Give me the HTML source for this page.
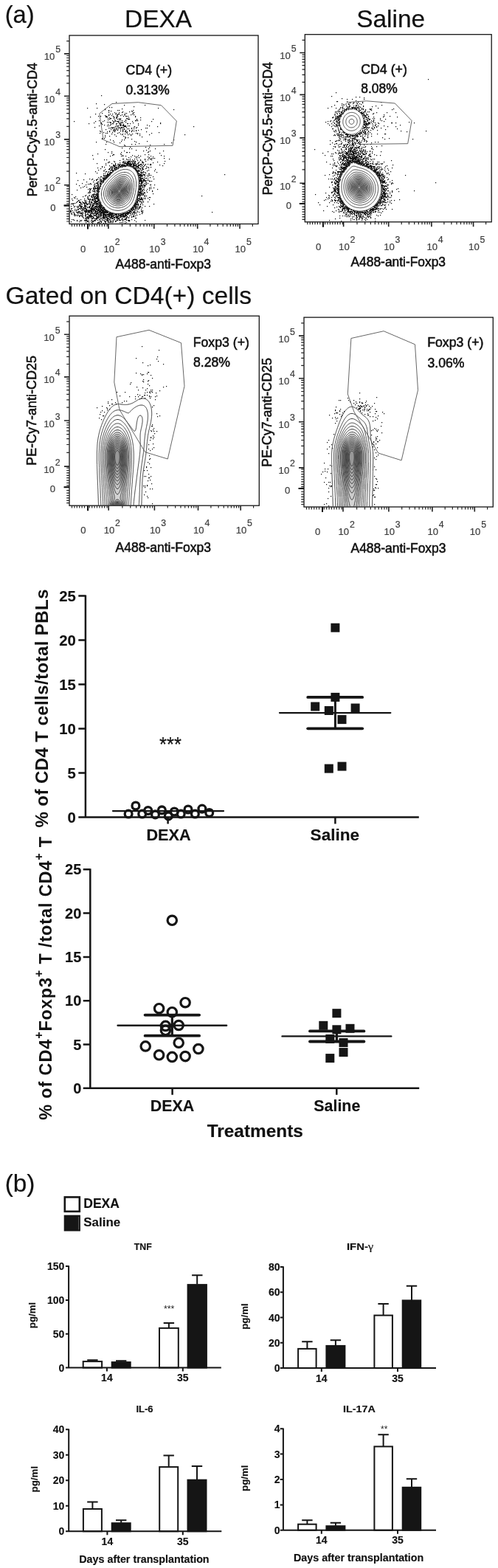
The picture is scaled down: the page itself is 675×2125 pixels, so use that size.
<!DOCTYPE html>
<html lang="en"><head><meta charset="utf-8"><title>Figure</title>
<style>
html,body{margin:0;padding:0;background:#fff}
svg{display:block;font-family:'Liberation Sans', Arial, Helvetica, sans-serif}
</style></head>
<body>
<svg width="675" height="2125" viewBox="0 0 675 2125" font-family="'Liberation Sans', Arial, Helvetica, sans-serif" fill="#111">
<rect width="675" height="2125" fill="#fff"/>
<text x="6.7" y="31.2" font-size="32.5" textLength="40.0" lengthAdjust="spacingAndGlyphs" stroke="#111" stroke-width="0.2">(a)</text>
<text x="169.0" y="36.9" font-size="32.5" textLength="91.0" lengthAdjust="spacingAndGlyphs" stroke="#111" stroke-width="0.2">DEXA</text>
<text x="483.2" y="37.3" font-size="32.5" textLength="93.0" lengthAdjust="spacingAndGlyphs" stroke="#111" stroke-width="0.2">Saline</text>
<text x="7.5" y="412.0" font-size="33" textLength="333.5" lengthAdjust="spacingAndGlyphs" stroke="#111" stroke-width="0.2">Gated on CD4(+) cells</text>
<rect x="94.0" y="48.0" width="256.0" height="255.5" fill="#fff" stroke="#151515" stroke-width="1.3"/>
<path d="M119.0 303.5v6.5M146.9 303.5v6.5M208.8 303.5v6.5M267.7 303.5v6.5M325.0 303.5v6.5M94.0 278.6h-7M94.0 250.7h-7M94.0 188.9h-7M94.0 130.2h-7M94.0 72.9h-7" stroke="#222" stroke-width="1.6" fill="none"/>
<path d="M165.5 303.5v3.4M176.4 303.5v3.4M184.2 303.5v3.4M190.1 303.5v3.4M195.0 303.5v3.4M199.2 303.5v3.4M202.8 303.5v3.4M205.9 303.5v3.4M226.5 303.5v3.4M236.9 303.5v3.4M244.2 303.5v3.4M249.9 303.5v3.4M254.6 303.5v3.4M258.5 303.5v3.4M262.0 303.5v3.4M265.0 303.5v3.4M284.9 303.5v3.4M295.0 303.5v3.4M302.2 303.5v3.4M307.8 303.5v3.4M312.3 303.5v3.4M316.2 303.5v3.4M319.5 303.5v3.4M322.4 303.5v3.4M342.3 303.5v3.4M97.5 303.5v3.4M100.9 303.5v3.4M104.3 303.5v3.4M107.7 303.5v3.4M111.1 303.5v3.4M114.5 303.5v3.4M121.3 303.5v3.4M124.7 303.5v3.4M128.1 303.5v3.4M131.5 303.5v3.4M134.9 303.5v3.4M138.3 303.5v3.4M141.7 303.5v3.4M145.1 303.5v3.4M94.0 232.1h-3.8M94.0 221.2h-3.8M94.0 213.5h-3.8M94.0 207.5h-3.8M94.0 202.6h-3.8M94.0 198.5h-3.8M94.0 194.9h-3.8M94.0 191.8h-3.8M94.0 171.3h-3.8M94.0 160.9h-3.8M94.0 153.6h-3.8M94.0 147.9h-3.8M94.0 143.2h-3.8M94.0 139.3h-3.8M94.0 135.9h-3.8M94.0 132.9h-3.8M94.0 112.9h-3.8M94.0 102.9h-3.8M94.0 95.7h-3.8M94.0 90.1h-3.8M94.0 85.6h-3.8M94.0 81.8h-3.8M94.0 78.5h-3.8M94.0 75.5h-3.8M94.0 55.7h-3.8M94.0 300.0h-3.8M94.0 296.6h-3.8M94.0 293.2h-3.8M94.0 289.8h-3.8M94.0 286.4h-3.8M94.0 283.0h-3.8M94.0 276.2h-3.8M94.0 272.8h-3.8M94.0 269.4h-3.8M94.0 266.0h-3.8M94.0 262.6h-3.8M94.0 259.2h-3.8M94.0 255.8h-3.8M94.0 252.4h-3.8" stroke="#222" stroke-width="1.2" fill="none"/>
<path d="M119.0 303.5v7M94.0 278.6h-7.5" stroke="#111" stroke-width="2" fill="none"/>
<g font-size="13.1" fill="#3c3c3c" stroke="#3c3c3c" stroke-width="0.2"><text x="112.7" y="342.0" text-anchor="middle">0</text><text x="140.4" y="342.0">10<tspan dx="0.8" dy="-10" font-size="12.3">2</tspan></text><text x="202.3" y="342.0">10<tspan dx="0.8" dy="-10" font-size="12.3">3</tspan></text><text x="261.2" y="342.0">10<tspan dx="0.8" dy="-10" font-size="12.3">4</tspan></text><text x="318.5" y="342.0">10<tspan dx="0.8" dy="-10" font-size="12.3">5</tspan></text><text x="68.3" y="285.6">0</text><text x="59.8" y="259.2">10<tspan dx="0.8" dy="-10" font-size="12.3">2</tspan></text><text x="59.8" y="197.4">10<tspan dx="0.8" dy="-10" font-size="12.3">3</tspan></text><text x="59.8" y="138.7">10<tspan dx="0.8" dy="-10" font-size="12.3">4</tspan></text><text x="59.8" y="81.4">10<tspan dx="0.8" dy="-10" font-size="12.3">5</tspan></text></g>
<text x="50.0" y="266.5" font-size="17.5" textLength="181.5" lengthAdjust="spacingAndGlyphs" transform="rotate(-90 50.0 266.5)" stroke="#111" stroke-width="0.55">PerCP-Cy5.5-anti-CD4</text>
<text x="156.5" y="364.0" font-size="17.5" textLength="129.5" lengthAdjust="spacingAndGlyphs" stroke="#111" stroke-width="0.55">A488-anti-Foxp3</text>
<path d="M95 285.5h1.2M95 286.5h1.2M95 287.5h1.2M96 276.5h1.2M96 279.5h1.2M96 282.5h1.2M96 284.5h1.2M96 286.5h1.2M96 289.5h1.2M96 300.5h1.2M97 263.5h1.2M97 269.5h1.2M97 275.5h1.2M97 282.5h1.2M97 288.5h1.2M97 290.5h1.2M97 297.5h1.2M98 271.5h1.2M98 276.5h1.2M98 285.5h1.2M99 275.5h1.2M99 276.5h1.2M99 278.5h1.2M99 287.5h1.2M99 297.5h1.2M100 164.5h1.2M100 267.5h1.2M100 280.5h1.2M100 288.5h1.2M100 289.5h1.2M100 290.5h1.2M100 291.5h1.2M100 298.5h1.2M101 268.5h1.2M101 275.5h1.2M101 279.5h1.2M101 283.5h1.2M101 285.5h1.2M101 290.5h1.2M101 292.5h1.2M102 266.5h1.2M102 291.5h1.2M103 234.5h1.2M103 249.5h1.2M103 274.5h1.2M103 284.5h1.2M103 285.5h1.2M103 287.5h1.2M104 257.5h1.2M104 269.5h1.2M104 273.5h1.2M104 279.5h1.2M104 280.5h1.2M104 287.5h1.2M104 291.5h1.2M104 292.5h1.2M104 298.5h1.2M104 299.5h1.2M105 244.5h1.2M105 272.5h1.2M105 281.5h1.2M105 283.5h1.2M105 284.5h1.2M105 287.5h1.2M105 288.5h1.2M105 289.5h1.2M106 271.5h1.2M106 279.5h1.2M106 280.5h1.2M106 283.5h1.2M106 286.5h1.2M106 287.5h1.2M106 291.5h1.2M107 251.5h1.2M107 271.5h1.2M107 273.5h1.2M107 274.5h1.2M107 277.5h1.2M107 278.5h1.2M107 282.5h1.2M107 286.5h1.2M107 288.5h1.2M107 292.5h1.2M107 293.5h1.2M107 300.5h1.2M108 273.5h1.2M108 274.5h1.2M108 277.5h1.2M108 279.5h1.2M108 282.5h1.2M108 286.5h1.2M108 288.5h1.2M108 292.5h1.2M108 298.5h1.2M109 254.5h1.2M109 270.5h1.2M109 274.5h1.2M109 275.5h1.2M109 276.5h1.2M109 278.5h1.2M109 279.5h1.2M109 280.5h1.2M109 281.5h1.2M109 283.5h1.2M109 288.5h1.2M109 289.5h1.2M109 291.5h1.2M109 299.5h1.2M110 276.5h1.2M110 279.5h1.2M110 280.5h1.2M110 281.5h1.2M110 282.5h1.2M110 285.5h1.2M110 288.5h1.2M110 289.5h1.2M110 292.5h1.2M110 298.5h1.2M111 248.5h1.2M111 273.5h1.2M111 276.5h1.2M111 279.5h1.2M111 283.5h1.2M111 285.5h1.2M111 288.5h1.2M111 290.5h1.2M111 291.5h1.2M111 293.5h1.2M112 253.5h1.2M112 266.5h1.2M112 274.5h1.2M112 281.5h1.2M112 282.5h1.2M112 283.5h1.2M112 284.5h1.2M112 287.5h1.2M112 289.5h1.2M112 292.5h1.2M112 294.5h1.2M113 243.5h1.2M113 274.5h1.2M113 275.5h1.2M113 281.5h1.2M113 284.5h1.2M113 295.5h1.2M114 252.5h1.2M114 269.5h1.2M114 271.5h1.2M114 275.5h1.2M114 276.5h1.2M114 277.5h1.2M114 278.5h1.2M114 279.5h1.2M114 280.5h1.2M114 282.5h1.2M114 283.5h1.2M114 285.5h1.2M114 286.5h1.2M114 298.5h1.2M115 235.5h1.2M115 265.5h1.2M115 272.5h1.2M115 273.5h1.2M115 274.5h1.2M115 275.5h1.2M115 278.5h1.2M115 279.5h1.2M115 281.5h1.2M115 282.5h1.2M115 285.5h1.2M115 286.5h1.2M115 287.5h1.2M115 288.5h1.2M115 289.5h1.2M115 291.5h1.2M115 292.5h1.2M115 296.5h1.2M115 298.5h1.2M115 299.5h1.2M116 250.5h1.2M116 264.5h1.2M116 271.5h1.2M116 274.5h1.2M116 276.5h1.2M116 278.5h1.2M116 279.5h1.2M116 280.5h1.2M116 282.5h1.2M116 283.5h1.2M116 284.5h1.2M116 285.5h1.2M116 286.5h1.2M116 287.5h1.2M116 290.5h1.2M116 291.5h1.2M116 293.5h1.2M116 294.5h1.2M116 295.5h1.2M116 296.5h1.2M116 298.5h1.2M116 301.5h1.2M117 246.5h1.2M117 253.5h1.2M117 273.5h1.2M117 275.5h1.2M117 276.5h1.2M117 283.5h1.2M117 284.5h1.2M117 285.5h1.2M117 286.5h1.2M117 287.5h1.2M117 295.5h1.2M117 297.5h1.2M117 298.5h1.2M117 299.5h1.2M118 146.5h1.2M118 266.5h1.2M118 268.5h1.2M118 276.5h1.2M118 277.5h1.2M118 280.5h1.2M118 281.5h1.2M118 285.5h1.2M118 287.5h1.2M118 289.5h1.2M118 290.5h1.2M118 293.5h1.2M118 294.5h1.2M118 295.5h1.2M118 299.5h1.2M118 300.5h1.2M119 249.5h1.2M119 256.5h1.2M119 261.5h1.2M119 267.5h1.2M119 269.5h1.2M119 270.5h1.2M119 276.5h1.2M119 284.5h1.2M119 285.5h1.2M119 286.5h1.2M119 287.5h1.2M119 290.5h1.2M119 293.5h1.2M119 294.5h1.2M119 295.5h1.2M119 296.5h1.2M119 299.5h1.2M120 167.5h1.2M120 260.5h1.2M120 265.5h1.2M120 269.5h1.2M120 273.5h1.2M120 275.5h1.2M120 280.5h1.2M120 281.5h1.2M120 285.5h1.2M120 286.5h1.2M120 287.5h1.2M120 288.5h1.2M120 291.5h1.2M120 292.5h1.2M120 294.5h1.2M120 296.5h1.2M120 299.5h1.2M120 301.5h1.2M121 242.5h1.2M121 249.5h1.2M121 255.5h1.2M121 256.5h1.2M121 258.5h1.2M121 259.5h1.2M121 261.5h1.2M121 264.5h1.2M121 270.5h1.2M121 271.5h1.2M121 272.5h1.2M121 273.5h1.2M121 274.5h1.2M121 276.5h1.2M121 279.5h1.2M121 280.5h1.2M121 281.5h1.2M121 284.5h1.2M121 285.5h1.2M121 286.5h1.2M121 287.5h1.2M121 291.5h1.2M121 292.5h1.2M121 293.5h1.2M121 294.5h1.2M122 158.5h1.2M122 248.5h1.2M122 256.5h1.2M122 257.5h1.2M122 260.5h1.2M122 269.5h1.2M122 270.5h1.2M122 276.5h1.2M122 277.5h1.2M122 278.5h1.2M122 279.5h1.2M122 282.5h1.2M122 284.5h1.2M122 285.5h1.2M122 287.5h1.2M122 289.5h1.2M122 290.5h1.2M122 291.5h1.2M122 292.5h1.2M122 293.5h1.2M123 249.5h1.2M123 255.5h1.2M123 266.5h1.2M123 273.5h1.2M123 274.5h1.2M123 275.5h1.2M123 281.5h1.2M123 282.5h1.2M123 283.5h1.2M123 284.5h1.2M123 285.5h1.2M123 286.5h1.2M123 287.5h1.2M123 289.5h1.2M123 291.5h1.2M123 292.5h1.2M123 293.5h1.2M123 294.5h1.2M123 295.5h1.2M123 298.5h1.2M123 300.5h1.2M124 243.5h1.2M124 264.5h1.2M124 265.5h1.2M124 266.5h1.2M124 267.5h1.2M124 270.5h1.2M124 271.5h1.2M124 273.5h1.2M124 274.5h1.2M124 277.5h1.2M124 279.5h1.2M124 280.5h1.2M124 281.5h1.2M124 282.5h1.2M124 283.5h1.2M124 284.5h1.2M124 285.5h1.2M124 286.5h1.2M124 287.5h1.2M124 288.5h1.2M124 289.5h1.2M124 292.5h1.2M124 293.5h1.2M124 296.5h1.2M124 298.5h1.2M124 301.5h1.2M125 210.5h1.2M125 242.5h1.2M125 258.5h1.2M125 263.5h1.2M125 267.5h1.2M125 269.5h1.2M125 270.5h1.2M125 271.5h1.2M125 275.5h1.2M125 277.5h1.2M125 278.5h1.2M125 279.5h1.2M125 280.5h1.2M125 282.5h1.2M125 283.5h1.2M125 284.5h1.2M125 287.5h1.2M125 289.5h1.2M125 293.5h1.2M125 295.5h1.2M125 296.5h1.2M125 299.5h1.2M125 300.5h1.2M125 302.5h1.2M126 215.5h1.2M126 246.5h1.2M126 254.5h1.2M126 255.5h1.2M126 256.5h1.2M126 259.5h1.2M126 263.5h1.2M126 264.5h1.2M126 265.5h1.2M126 266.5h1.2M126 270.5h1.2M126 271.5h1.2M126 275.5h1.2M126 277.5h1.2M126 278.5h1.2M126 279.5h1.2M126 281.5h1.2M126 282.5h1.2M126 283.5h1.2M126 284.5h1.2M126 285.5h1.2M126 286.5h1.2M126 289.5h1.2M126 291.5h1.2M126 293.5h1.2M126 294.5h1.2M126 295.5h1.2M126 299.5h1.2M126 300.5h1.2M127 166.5h1.2M127 244.5h1.2M127 250.5h1.2M127 252.5h1.2M127 254.5h1.2M127 256.5h1.2M127 258.5h1.2M127 262.5h1.2M127 263.5h1.2M127 265.5h1.2M127 267.5h1.2M127 268.5h1.2M127 269.5h1.2M127 272.5h1.2M127 273.5h1.2M127 275.5h1.2M127 276.5h1.2M127 277.5h1.2M127 281.5h1.2M127 283.5h1.2M127 284.5h1.2M127 288.5h1.2M127 289.5h1.2M127 291.5h1.2M127 295.5h1.2M127 298.5h1.2M128 172.5h1.2M128 248.5h1.2M128 250.5h1.2M128 252.5h1.2M128 253.5h1.2M128 255.5h1.2M128 256.5h1.2M128 258.5h1.2M128 259.5h1.2M128 260.5h1.2M128 263.5h1.2M128 266.5h1.2M128 267.5h1.2M128 269.5h1.2M128 270.5h1.2M128 271.5h1.2M128 273.5h1.2M128 274.5h1.2M128 275.5h1.2M128 279.5h1.2M128 280.5h1.2M128 281.5h1.2M128 282.5h1.2M128 283.5h1.2M128 284.5h1.2M128 285.5h1.2M128 286.5h1.2M128 288.5h1.2M128 291.5h1.2M128 292.5h1.2M128 296.5h1.2M128 298.5h1.2M128 299.5h1.2M129 154.5h1.2M129 164.5h1.2M129 232.5h1.2M129 254.5h1.2M129 255.5h1.2M129 263.5h1.2M129 265.5h1.2M129 266.5h1.2M129 268.5h1.2M129 269.5h1.2M129 271.5h1.2M129 272.5h1.2M129 273.5h1.2M129 274.5h1.2M129 276.5h1.2M129 279.5h1.2M129 280.5h1.2M129 282.5h1.2M129 285.5h1.2M129 286.5h1.2M129 287.5h1.2M129 288.5h1.2M129 289.5h1.2M129 291.5h1.2M129 296.5h1.2M129 298.5h1.2M130 140.5h1.2M130 192.5h1.2M130 243.5h1.2M130 244.5h1.2M130 248.5h1.2M130 251.5h1.2M130 252.5h1.2M130 255.5h1.2M130 258.5h1.2M130 261.5h1.2M130 263.5h1.2M130 264.5h1.2M130 267.5h1.2M130 268.5h1.2M130 269.5h1.2M130 272.5h1.2M130 273.5h1.2M130 274.5h1.2M130 275.5h1.2M130 276.5h1.2M130 277.5h1.2M130 278.5h1.2M130 279.5h1.2M130 280.5h1.2M130 281.5h1.2M130 282.5h1.2M130 283.5h1.2M130 284.5h1.2M130 286.5h1.2M130 287.5h1.2M130 289.5h1.2M130 290.5h1.2M130 291.5h1.2M130 292.5h1.2M130 293.5h1.2M130 295.5h1.2M130 296.5h1.2M130 297.5h1.2M131 146.5h1.2M131 221.5h1.2M131 234.5h1.2M131 243.5h1.2M131 247.5h1.2M131 248.5h1.2M131 254.5h1.2M131 255.5h1.2M131 257.5h1.2M131 259.5h1.2M131 262.5h1.2M131 263.5h1.2M131 264.5h1.2M131 265.5h1.2M131 266.5h1.2M131 267.5h1.2M131 268.5h1.2M131 269.5h1.2M131 272.5h1.2M131 273.5h1.2M131 275.5h1.2M131 276.5h1.2M131 279.5h1.2M131 280.5h1.2M131 283.5h1.2M131 284.5h1.2M131 286.5h1.2M131 288.5h1.2M131 289.5h1.2M131 290.5h1.2M131 293.5h1.2M131 294.5h1.2M131 295.5h1.2M131 296.5h1.2M132 208.5h1.2M132 227.5h1.2M132 242.5h1.2M132 246.5h1.2M132 248.5h1.2M132 249.5h1.2M132 250.5h1.2M132 251.5h1.2M132 252.5h1.2M132 253.5h1.2M132 254.5h1.2M132 255.5h1.2M132 256.5h1.2M132 257.5h1.2M132 258.5h1.2M132 259.5h1.2M132 260.5h1.2M132 261.5h1.2M132 262.5h1.2M132 263.5h1.2M132 264.5h1.2M132 265.5h1.2M132 266.5h1.2M132 267.5h1.2M132 268.5h1.2M132 269.5h1.2M132 270.5h1.2M132 271.5h1.2M132 272.5h1.2M132 273.5h1.2M132 275.5h1.2M132 276.5h1.2M132 277.5h1.2M132 278.5h1.2M132 280.5h1.2M132 281.5h1.2M132 282.5h1.2M132 284.5h1.2M132 285.5h1.2M132 286.5h1.2M132 287.5h1.2M132 288.5h1.2M132 289.5h1.2M132 292.5h1.2M132 294.5h1.2M132 295.5h1.2M132 298.5h1.2M132 301.5h1.2M132 302.5h1.2M133 157.5h1.2M133 230.5h1.2M133 240.5h1.2M133 246.5h1.2M133 249.5h1.2M133 251.5h1.2M133 252.5h1.2M133 254.5h1.2M133 255.5h1.2M133 256.5h1.2M133 257.5h1.2M133 258.5h1.2M133 259.5h1.2M133 260.5h1.2M133 263.5h1.2M133 265.5h1.2M133 266.5h1.2M133 267.5h1.2M133 269.5h1.2M133 270.5h1.2M133 271.5h1.2M133 272.5h1.2M133 274.5h1.2M133 276.5h1.2M133 279.5h1.2M133 280.5h1.2M133 282.5h1.2M133 283.5h1.2M133 284.5h1.2M133 285.5h1.2M133 288.5h1.2M133 290.5h1.2M133 291.5h1.2M133 293.5h1.2M133 294.5h1.2M133 295.5h1.2M133 301.5h1.2M134 163.5h1.2M134 170.5h1.2M134 246.5h1.2M134 253.5h1.2M134 254.5h1.2M134 256.5h1.2M134 259.5h1.2M134 270.5h1.2M134 271.5h1.2M134 274.5h1.2M134 275.5h1.2M134 277.5h1.2M134 278.5h1.2M134 279.5h1.2M134 280.5h1.2M134 281.5h1.2M134 283.5h1.2M134 284.5h1.2M134 285.5h1.2M134 286.5h1.2M134 287.5h1.2M134 288.5h1.2M134 290.5h1.2M134 292.5h1.2M134 293.5h1.2M134 297.5h1.2M134 300.5h1.2M134 301.5h1.2M135 177.5h1.2M135 180.5h1.2M135 241.5h1.2M135 243.5h1.2M135 244.5h1.2M135 248.5h1.2M135 249.5h1.2M135 251.5h1.2M135 252.5h1.2M135 253.5h1.2M135 255.5h1.2M135 272.5h1.2M135 273.5h1.2M135 274.5h1.2M135 275.5h1.2M135 276.5h1.2M135 277.5h1.2M135 278.5h1.2M135 279.5h1.2M135 280.5h1.2M135 281.5h1.2M135 282.5h1.2M135 283.5h1.2M135 285.5h1.2M135 286.5h1.2M135 287.5h1.2M135 289.5h1.2M135 291.5h1.2M135 294.5h1.2M135 296.5h1.2M135 298.5h1.2M135 302.5h1.2M136 157.5h1.2M136 166.5h1.2M136 178.5h1.2M136 228.5h1.2M136 239.5h1.2M136 243.5h1.2M136 245.5h1.2M136 246.5h1.2M136 247.5h1.2M136 248.5h1.2M136 249.5h1.2M136 250.5h1.2M136 252.5h1.2M136 274.5h1.2M136 275.5h1.2M136 276.5h1.2M136 277.5h1.2M136 278.5h1.2M136 279.5h1.2M136 280.5h1.2M136 281.5h1.2M136 282.5h1.2M136 283.5h1.2M136 284.5h1.2M136 285.5h1.2M136 286.5h1.2M136 287.5h1.2M136 288.5h1.2M136 289.5h1.2M136 290.5h1.2M136 291.5h1.2M136 292.5h1.2M136 293.5h1.2M136 296.5h1.2M136 299.5h1.2M136 300.5h1.2M137 129.5h1.2M137 166.5h1.2M137 167.5h1.2M137 239.5h1.2M137 243.5h1.2M137 244.5h1.2M137 245.5h1.2M137 246.5h1.2M137 249.5h1.2M137 277.5h1.2M137 278.5h1.2M137 279.5h1.2M137 280.5h1.2M137 281.5h1.2M137 283.5h1.2M137 284.5h1.2M137 285.5h1.2M137 287.5h1.2M137 288.5h1.2M137 289.5h1.2M137 290.5h1.2M137 291.5h1.2M137 292.5h1.2M137 295.5h1.2M137 300.5h1.2M137 301.5h1.2M138 153.5h1.2M138 168.5h1.2M138 187.5h1.2M138 188.5h1.2M138 225.5h1.2M138 226.5h1.2M138 245.5h1.2M138 278.5h1.2M138 279.5h1.2M138 281.5h1.2M138 282.5h1.2M138 283.5h1.2M138 284.5h1.2M138 285.5h1.2M138 286.5h1.2M138 287.5h1.2M138 288.5h1.2M138 295.5h1.2M138 297.5h1.2M138 298.5h1.2M139 164.5h1.2M139 240.5h1.2M139 241.5h1.2M139 242.5h1.2M139 244.5h1.2M139 245.5h1.2M139 246.5h1.2M139 247.5h1.2M139 281.5h1.2M139 282.5h1.2M139 284.5h1.2M139 285.5h1.2M139 286.5h1.2M139 287.5h1.2M139 288.5h1.2M139 289.5h1.2M139 290.5h1.2M139 291.5h1.2M139 292.5h1.2M139 293.5h1.2M139 294.5h1.2M139 295.5h1.2M140 179.5h1.2M140 231.5h1.2M140 235.5h1.2M140 237.5h1.2M140 238.5h1.2M140 241.5h1.2M140 242.5h1.2M140 243.5h1.2M140 244.5h1.2M140 245.5h1.2M140 246.5h1.2M140 280.5h1.2M140 281.5h1.2M140 282.5h1.2M140 283.5h1.2M140 284.5h1.2M140 285.5h1.2M140 286.5h1.2M140 287.5h1.2M140 288.5h1.2M140 289.5h1.2M140 290.5h1.2M140 291.5h1.2M140 292.5h1.2M140 293.5h1.2M140 294.5h1.2M140 295.5h1.2M140 296.5h1.2M140 298.5h1.2M140 302.5h1.2M141 141.5h1.2M141 163.5h1.2M141 169.5h1.2M141 187.5h1.2M141 216.5h1.2M141 226.5h1.2M141 231.5h1.2M141 238.5h1.2M141 240.5h1.2M141 241.5h1.2M141 242.5h1.2M141 243.5h1.2M141 281.5h1.2M141 282.5h1.2M141 283.5h1.2M141 284.5h1.2M141 286.5h1.2M141 287.5h1.2M141 288.5h1.2M141 289.5h1.2M141 290.5h1.2M141 291.5h1.2M141 293.5h1.2M141 294.5h1.2M141 295.5h1.2M141 299.5h1.2M142 147.5h1.2M142 148.5h1.2M142 156.5h1.2M142 183.5h1.2M142 185.5h1.2M142 202.5h1.2M142 229.5h1.2M142 234.5h1.2M142 237.5h1.2M142 239.5h1.2M142 241.5h1.2M142 242.5h1.2M142 243.5h1.2M142 283.5h1.2M142 284.5h1.2M142 285.5h1.2M142 286.5h1.2M142 287.5h1.2M142 288.5h1.2M142 290.5h1.2M142 291.5h1.2M142 292.5h1.2M142 294.5h1.2M142 296.5h1.2M142 297.5h1.2M142 299.5h1.2M142 300.5h1.2M142 301.5h1.2M143 157.5h1.2M143 158.5h1.2M143 175.5h1.2M143 180.5h1.2M143 195.5h1.2M143 221.5h1.2M143 223.5h1.2M143 232.5h1.2M143 237.5h1.2M143 239.5h1.2M143 240.5h1.2M143 241.5h1.2M143 242.5h1.2M143 285.5h1.2M143 286.5h1.2M143 287.5h1.2M143 288.5h1.2M143 290.5h1.2M143 291.5h1.2M143 292.5h1.2M143 293.5h1.2M143 294.5h1.2M143 300.5h1.2M143 302.5h1.2M144 157.5h1.2M144 158.5h1.2M144 192.5h1.2M144 216.5h1.2M144 232.5h1.2M144 237.5h1.2M144 238.5h1.2M144 239.5h1.2M144 240.5h1.2M144 241.5h1.2M144 285.5h1.2M144 286.5h1.2M144 287.5h1.2M144 288.5h1.2M144 290.5h1.2M144 292.5h1.2M144 294.5h1.2M144 295.5h1.2M144 297.5h1.2M144 298.5h1.2M145 158.5h1.2M145 165.5h1.2M145 170.5h1.2M145 178.5h1.2M145 180.5h1.2M145 235.5h1.2M145 236.5h1.2M145 237.5h1.2M145 238.5h1.2M145 239.5h1.2M145 240.5h1.2M145 285.5h1.2M145 286.5h1.2M145 287.5h1.2M145 288.5h1.2M145 290.5h1.2M145 291.5h1.2M145 293.5h1.2M145 295.5h1.2M145 296.5h1.2M145 297.5h1.2M145 298.5h1.2M145 299.5h1.2M146 160.5h1.2M146 162.5h1.2M146 168.5h1.2M146 206.5h1.2M146 220.5h1.2M146 233.5h1.2M146 235.5h1.2M146 236.5h1.2M146 237.5h1.2M146 238.5h1.2M146 239.5h1.2M146 287.5h1.2M146 288.5h1.2M146 290.5h1.2M146 291.5h1.2M146 293.5h1.2M146 295.5h1.2M146 296.5h1.2M146 298.5h1.2M146 300.5h1.2M146 301.5h1.2M147 149.5h1.2M147 150.5h1.2M147 152.5h1.2M147 155.5h1.2M147 156.5h1.2M147 165.5h1.2M147 170.5h1.2M147 173.5h1.2M147 219.5h1.2M147 229.5h1.2M147 232.5h1.2M147 236.5h1.2M147 237.5h1.2M147 238.5h1.2M147 289.5h1.2M147 290.5h1.2M147 291.5h1.2M147 292.5h1.2M147 293.5h1.2M147 296.5h1.2M147 298.5h1.2M147 300.5h1.2M148 145.5h1.2M148 159.5h1.2M148 161.5h1.2M148 177.5h1.2M148 178.5h1.2M148 184.5h1.2M148 219.5h1.2M148 224.5h1.2M148 228.5h1.2M148 229.5h1.2M148 234.5h1.2M148 235.5h1.2M148 236.5h1.2M148 237.5h1.2M148 287.5h1.2M148 288.5h1.2M148 289.5h1.2M148 290.5h1.2M148 291.5h1.2M148 292.5h1.2M148 293.5h1.2M148 294.5h1.2M148 297.5h1.2M148 301.5h1.2M149 154.5h1.2M149 160.5h1.2M149 165.5h1.2M149 166.5h1.2M149 169.5h1.2M149 173.5h1.2M149 189.5h1.2M149 211.5h1.2M149 226.5h1.2M149 228.5h1.2M149 231.5h1.2M149 233.5h1.2M149 234.5h1.2M149 235.5h1.2M149 236.5h1.2M149 288.5h1.2M149 289.5h1.2M149 290.5h1.2M149 291.5h1.2M149 294.5h1.2M149 295.5h1.2M149 296.5h1.2M149 298.5h1.2M149 300.5h1.2M150 150.5h1.2M150 160.5h1.2M150 166.5h1.2M150 168.5h1.2M150 175.5h1.2M150 226.5h1.2M150 230.5h1.2M150 233.5h1.2M150 234.5h1.2M150 288.5h1.2M150 289.5h1.2M150 290.5h1.2M150 291.5h1.2M150 292.5h1.2M150 293.5h1.2M150 294.5h1.2M150 299.5h1.2M150 300.5h1.2M150 301.5h1.2M151 145.5h1.2M151 156.5h1.2M151 172.5h1.2M151 173.5h1.2M151 181.5h1.2M151 205.5h1.2M151 207.5h1.2M151 221.5h1.2M151 225.5h1.2M151 227.5h1.2M151 228.5h1.2M151 229.5h1.2M151 230.5h1.2M151 233.5h1.2M151 234.5h1.2M151 288.5h1.2M151 289.5h1.2M151 290.5h1.2M151 291.5h1.2M151 292.5h1.2M151 293.5h1.2M151 294.5h1.2M151 295.5h1.2M151 296.5h1.2M152 154.5h1.2M152 163.5h1.2M152 167.5h1.2M152 173.5h1.2M152 179.5h1.2M152 210.5h1.2M152 226.5h1.2M152 228.5h1.2M152 230.5h1.2M152 231.5h1.2M152 232.5h1.2M152 288.5h1.2M152 289.5h1.2M152 290.5h1.2M152 292.5h1.2M152 293.5h1.2M152 295.5h1.2M152 296.5h1.2M152 299.5h1.2M152 301.5h1.2M153 157.5h1.2M153 165.5h1.2M153 167.5h1.2M153 172.5h1.2M153 173.5h1.2M153 175.5h1.2M153 177.5h1.2M153 190.5h1.2M153 209.5h1.2M153 223.5h1.2M153 224.5h1.2M153 226.5h1.2M153 230.5h1.2M153 231.5h1.2M153 232.5h1.2M153 289.5h1.2M153 290.5h1.2M153 291.5h1.2M153 292.5h1.2M153 293.5h1.2M153 295.5h1.2M153 298.5h1.2M153 300.5h1.2M154 158.5h1.2M154 159.5h1.2M154 160.5h1.2M154 164.5h1.2M154 165.5h1.2M154 176.5h1.2M154 192.5h1.2M154 209.5h1.2M154 218.5h1.2M154 223.5h1.2M154 224.5h1.2M154 225.5h1.2M154 228.5h1.2M154 292.5h1.2M154 294.5h1.2M154 295.5h1.2M154 297.5h1.2M155 152.5h1.2M155 162.5h1.2M155 172.5h1.2M155 174.5h1.2M155 175.5h1.2M155 177.5h1.2M155 178.5h1.2M155 182.5h1.2M155 219.5h1.2M155 224.5h1.2M155 225.5h1.2M155 226.5h1.2M155 227.5h1.2M155 228.5h1.2M155 229.5h1.2M155 230.5h1.2M155 289.5h1.2M155 290.5h1.2M155 291.5h1.2M155 294.5h1.2M155 295.5h1.2M155 297.5h1.2M156 154.5h1.2M156 163.5h1.2M156 164.5h1.2M156 171.5h1.2M156 176.5h1.2M156 221.5h1.2M156 222.5h1.2M156 223.5h1.2M156 224.5h1.2M156 226.5h1.2M156 228.5h1.2M156 230.5h1.2M156 290.5h1.2M156 291.5h1.2M156 293.5h1.2M156 299.5h1.2M156 300.5h1.2M157 138.5h1.2M157 153.5h1.2M157 158.5h1.2M157 160.5h1.2M157 167.5h1.2M157 169.5h1.2M157 174.5h1.2M157 184.5h1.2M157 226.5h1.2M157 227.5h1.2M157 229.5h1.2M157 290.5h1.2M157 291.5h1.2M157 293.5h1.2M157 294.5h1.2M157 295.5h1.2M157 299.5h1.2M158 155.5h1.2M158 156.5h1.2M158 158.5h1.2M158 159.5h1.2M158 164.5h1.2M158 167.5h1.2M158 171.5h1.2M158 173.5h1.2M158 175.5h1.2M158 224.5h1.2M158 226.5h1.2M158 227.5h1.2M158 228.5h1.2M158 229.5h1.2M158 290.5h1.2M158 291.5h1.2M158 292.5h1.2M158 293.5h1.2M158 294.5h1.2M158 295.5h1.2M158 297.5h1.2M158 298.5h1.2M159 149.5h1.2M159 155.5h1.2M159 157.5h1.2M159 161.5h1.2M159 164.5h1.2M159 170.5h1.2M159 176.5h1.2M159 180.5h1.2M159 222.5h1.2M159 293.5h1.2M159 294.5h1.2M159 295.5h1.2M159 296.5h1.2M159 298.5h1.2M160 154.5h1.2M160 164.5h1.2M160 165.5h1.2M160 170.5h1.2M160 172.5h1.2M160 174.5h1.2M160 222.5h1.2M160 224.5h1.2M160 225.5h1.2M160 226.5h1.2M160 227.5h1.2M160 228.5h1.2M160 290.5h1.2M160 291.5h1.2M160 292.5h1.2M160 293.5h1.2M160 295.5h1.2M160 296.5h1.2M161 149.5h1.2M161 152.5h1.2M161 154.5h1.2M161 160.5h1.2M161 162.5h1.2M161 165.5h1.2M161 167.5h1.2M161 172.5h1.2M161 179.5h1.2M161 222.5h1.2M161 223.5h1.2M161 224.5h1.2M161 290.5h1.2M161 292.5h1.2M161 295.5h1.2M161 296.5h1.2M161 297.5h1.2M161 298.5h1.2M162 161.5h1.2M162 167.5h1.2M162 169.5h1.2M162 173.5h1.2M162 193.5h1.2M162 217.5h1.2M162 220.5h1.2M162 223.5h1.2M162 224.5h1.2M162 225.5h1.2M162 226.5h1.2M162 291.5h1.2M162 292.5h1.2M162 294.5h1.2M162 298.5h1.2M162 301.5h1.2M163 156.5h1.2M163 160.5h1.2M163 162.5h1.2M163 165.5h1.2M163 167.5h1.2M163 168.5h1.2M163 169.5h1.2M163 170.5h1.2M163 173.5h1.2M163 175.5h1.2M163 177.5h1.2M163 181.5h1.2M163 208.5h1.2M163 222.5h1.2M163 225.5h1.2M163 226.5h1.2M163 289.5h1.2M163 290.5h1.2M163 291.5h1.2M163 292.5h1.2M163 293.5h1.2M163 294.5h1.2M163 298.5h1.2M164 166.5h1.2M164 169.5h1.2M164 172.5h1.2M164 173.5h1.2M164 191.5h1.2M164 206.5h1.2M164 209.5h1.2M164 211.5h1.2M164 223.5h1.2M164 224.5h1.2M164 225.5h1.2M164 290.5h1.2M164 291.5h1.2M164 292.5h1.2M164 293.5h1.2M164 297.5h1.2M164 301.5h1.2M165 147.5h1.2M165 152.5h1.2M165 155.5h1.2M165 163.5h1.2M165 165.5h1.2M165 172.5h1.2M165 182.5h1.2M165 189.5h1.2M165 200.5h1.2M165 223.5h1.2M165 224.5h1.2M165 226.5h1.2M165 290.5h1.2M165 291.5h1.2M165 293.5h1.2M165 295.5h1.2M165 296.5h1.2M166 151.5h1.2M166 166.5h1.2M166 169.5h1.2M166 170.5h1.2M166 173.5h1.2M166 175.5h1.2M166 176.5h1.2M166 177.5h1.2M166 178.5h1.2M166 181.5h1.2M166 210.5h1.2M166 211.5h1.2M166 215.5h1.2M166 219.5h1.2M166 220.5h1.2M166 222.5h1.2M166 223.5h1.2M166 224.5h1.2M166 225.5h1.2M166 289.5h1.2M166 290.5h1.2M166 291.5h1.2M166 292.5h1.2M166 293.5h1.2M166 297.5h1.2M166 298.5h1.2M166 299.5h1.2M166 301.5h1.2M167 157.5h1.2M167 168.5h1.2M167 169.5h1.2M167 170.5h1.2M167 172.5h1.2M167 184.5h1.2M167 215.5h1.2M167 218.5h1.2M167 220.5h1.2M167 223.5h1.2M167 224.5h1.2M167 225.5h1.2M167 289.5h1.2M167 290.5h1.2M167 291.5h1.2M167 292.5h1.2M167 293.5h1.2M167 294.5h1.2M168 142.5h1.2M168 155.5h1.2M168 164.5h1.2M168 170.5h1.2M168 171.5h1.2M168 174.5h1.2M168 175.5h1.2M168 189.5h1.2M168 196.5h1.2M168 204.5h1.2M168 218.5h1.2M168 220.5h1.2M168 221.5h1.2M168 223.5h1.2M168 224.5h1.2M168 225.5h1.2M168 288.5h1.2M168 289.5h1.2M168 292.5h1.2M168 293.5h1.2M168 297.5h1.2M169 153.5h1.2M169 155.5h1.2M169 170.5h1.2M169 171.5h1.2M169 178.5h1.2M169 181.5h1.2M169 185.5h1.2M169 187.5h1.2M169 197.5h1.2M169 220.5h1.2M169 221.5h1.2M169 223.5h1.2M169 224.5h1.2M169 225.5h1.2M169 289.5h1.2M169 290.5h1.2M169 291.5h1.2M169 292.5h1.2M169 293.5h1.2M169 294.5h1.2M169 296.5h1.2M169 297.5h1.2M169 300.5h1.2M169 302.5h1.2M170 157.5h1.2M170 162.5h1.2M170 163.5h1.2M170 165.5h1.2M170 170.5h1.2M170 171.5h1.2M170 176.5h1.2M170 177.5h1.2M170 178.5h1.2M170 186.5h1.2M170 211.5h1.2M170 218.5h1.2M170 220.5h1.2M170 221.5h1.2M170 224.5h1.2M170 225.5h1.2M170 288.5h1.2M170 289.5h1.2M170 290.5h1.2M170 291.5h1.2M170 292.5h1.2M170 296.5h1.2M170 297.5h1.2M171 153.5h1.2M171 157.5h1.2M171 160.5h1.2M171 172.5h1.2M171 179.5h1.2M171 206.5h1.2M171 215.5h1.2M171 221.5h1.2M171 222.5h1.2M171 223.5h1.2M171 224.5h1.2M171 288.5h1.2M171 289.5h1.2M171 291.5h1.2M171 292.5h1.2M171 294.5h1.2M171 295.5h1.2M171 296.5h1.2M171 298.5h1.2M171 301.5h1.2M172 160.5h1.2M172 167.5h1.2M172 174.5h1.2M172 178.5h1.2M172 180.5h1.2M172 206.5h1.2M172 216.5h1.2M172 219.5h1.2M172 220.5h1.2M172 221.5h1.2M172 222.5h1.2M172 223.5h1.2M172 224.5h1.2M172 287.5h1.2M172 288.5h1.2M172 289.5h1.2M172 290.5h1.2M172 293.5h1.2M172 294.5h1.2M173 157.5h1.2M173 161.5h1.2M173 167.5h1.2M173 170.5h1.2M173 182.5h1.2M173 186.5h1.2M173 218.5h1.2M173 219.5h1.2M173 220.5h1.2M173 221.5h1.2M173 222.5h1.2M173 223.5h1.2M173 224.5h1.2M173 287.5h1.2M173 288.5h1.2M173 289.5h1.2M173 290.5h1.2M173 298.5h1.2M174 159.5h1.2M174 161.5h1.2M174 174.5h1.2M174 213.5h1.2M174 216.5h1.2M174 218.5h1.2M174 219.5h1.2M174 220.5h1.2M174 221.5h1.2M174 222.5h1.2M174 224.5h1.2M174 285.5h1.2M174 287.5h1.2M174 288.5h1.2M174 289.5h1.2M174 294.5h1.2M174 295.5h1.2M174 298.5h1.2M174 299.5h1.2M175 151.5h1.2M175 161.5h1.2M175 170.5h1.2M175 176.5h1.2M175 177.5h1.2M175 181.5h1.2M175 201.5h1.2M175 206.5h1.2M175 218.5h1.2M175 219.5h1.2M175 221.5h1.2M175 222.5h1.2M175 223.5h1.2M175 224.5h1.2M175 285.5h1.2M175 286.5h1.2M175 287.5h1.2M175 288.5h1.2M175 292.5h1.2M175 298.5h1.2M175 299.5h1.2M176 167.5h1.2M176 199.5h1.2M176 215.5h1.2M176 217.5h1.2M176 219.5h1.2M176 221.5h1.2M176 222.5h1.2M176 223.5h1.2M176 224.5h1.2M176 225.5h1.2M176 285.5h1.2M176 286.5h1.2M176 287.5h1.2M176 289.5h1.2M177 155.5h1.2M177 182.5h1.2M177 183.5h1.2M177 212.5h1.2M177 219.5h1.2M177 221.5h1.2M177 222.5h1.2M177 223.5h1.2M177 224.5h1.2M177 225.5h1.2M177 283.5h1.2M177 284.5h1.2M177 285.5h1.2M177 286.5h1.2M177 287.5h1.2M177 289.5h1.2M177 291.5h1.2M178 150.5h1.2M178 173.5h1.2M178 174.5h1.2M178 177.5h1.2M178 178.5h1.2M178 188.5h1.2M178 195.5h1.2M178 201.5h1.2M178 218.5h1.2M178 222.5h1.2M178 223.5h1.2M178 225.5h1.2M178 282.5h1.2M178 283.5h1.2M178 284.5h1.2M178 287.5h1.2M178 293.5h1.2M178 294.5h1.2M178 297.5h1.2M179 151.5h1.2M179 154.5h1.2M179 164.5h1.2M179 176.5h1.2M179 181.5h1.2M179 210.5h1.2M179 216.5h1.2M179 218.5h1.2M179 220.5h1.2M179 221.5h1.2M179 225.5h1.2M179 226.5h1.2M179 281.5h1.2M179 282.5h1.2M179 284.5h1.2M179 285.5h1.2M179 289.5h1.2M179 290.5h1.2M180 149.5h1.2M180 153.5h1.2M180 166.5h1.2M180 218.5h1.2M180 220.5h1.2M180 222.5h1.2M180 223.5h1.2M180 224.5h1.2M180 225.5h1.2M180 227.5h1.2M180 280.5h1.2M180 281.5h1.2M180 282.5h1.2M180 283.5h1.2M180 284.5h1.2M180 287.5h1.2M180 288.5h1.2M180 292.5h1.2M180 293.5h1.2M181 144.5h1.2M181 152.5h1.2M181 155.5h1.2M181 172.5h1.2M181 174.5h1.2M181 177.5h1.2M181 217.5h1.2M181 218.5h1.2M181 221.5h1.2M181 222.5h1.2M181 223.5h1.2M181 224.5h1.2M181 225.5h1.2M181 226.5h1.2M181 227.5h1.2M181 228.5h1.2M181 278.5h1.2M181 279.5h1.2M181 281.5h1.2M181 283.5h1.2M181 286.5h1.2M181 287.5h1.2M181 290.5h1.2M181 292.5h1.2M181 293.5h1.2M182 171.5h1.2M182 191.5h1.2M182 211.5h1.2M182 215.5h1.2M182 219.5h1.2M182 220.5h1.2M182 221.5h1.2M182 223.5h1.2M182 224.5h1.2M182 227.5h1.2M182 228.5h1.2M182 276.5h1.2M182 277.5h1.2M182 278.5h1.2M182 279.5h1.2M182 280.5h1.2M182 283.5h1.2M182 285.5h1.2M182 287.5h1.2M182 288.5h1.2M182 289.5h1.2M182 298.5h1.2M183 157.5h1.2M183 158.5h1.2M183 163.5h1.2M183 195.5h1.2M183 218.5h1.2M183 219.5h1.2M183 221.5h1.2M183 223.5h1.2M183 224.5h1.2M183 226.5h1.2M183 228.5h1.2M183 229.5h1.2M183 230.5h1.2M183 275.5h1.2M183 276.5h1.2M183 277.5h1.2M183 278.5h1.2M183 279.5h1.2M183 280.5h1.2M183 281.5h1.2M183 282.5h1.2M183 284.5h1.2M183 287.5h1.2M183 292.5h1.2M183 295.5h1.2M184 163.5h1.2M184 173.5h1.2M184 176.5h1.2M184 177.5h1.2M184 180.5h1.2M184 192.5h1.2M184 203.5h1.2M184 212.5h1.2M184 213.5h1.2M184 222.5h1.2M184 224.5h1.2M184 225.5h1.2M184 227.5h1.2M184 228.5h1.2M184 229.5h1.2M184 230.5h1.2M184 231.5h1.2M184 272.5h1.2M184 274.5h1.2M184 275.5h1.2M184 276.5h1.2M184 277.5h1.2M184 279.5h1.2M184 281.5h1.2M184 282.5h1.2M184 289.5h1.2M184 295.5h1.2M184 300.5h1.2M185 161.5h1.2M185 162.5h1.2M185 172.5h1.2M185 215.5h1.2M185 223.5h1.2M185 225.5h1.2M185 226.5h1.2M185 230.5h1.2M185 231.5h1.2M185 232.5h1.2M185 270.5h1.2M185 272.5h1.2M185 273.5h1.2M185 274.5h1.2M185 276.5h1.2M185 277.5h1.2M185 279.5h1.2M185 281.5h1.2M185 284.5h1.2M185 287.5h1.2M185 291.5h1.2M186 163.5h1.2M186 180.5h1.2M186 181.5h1.2M186 212.5h1.2M186 217.5h1.2M186 221.5h1.2M186 225.5h1.2M186 226.5h1.2M186 228.5h1.2M186 231.5h1.2M186 232.5h1.2M186 233.5h1.2M186 234.5h1.2M186 263.5h1.2M186 265.5h1.2M186 266.5h1.2M186 267.5h1.2M186 268.5h1.2M186 269.5h1.2M186 270.5h1.2M186 271.5h1.2M186 272.5h1.2M186 273.5h1.2M186 274.5h1.2M186 275.5h1.2M186 277.5h1.2M186 280.5h1.2M186 282.5h1.2M186 286.5h1.2M187 167.5h1.2M187 169.5h1.2M187 176.5h1.2M187 210.5h1.2M187 220.5h1.2M187 221.5h1.2M187 223.5h1.2M187 224.5h1.2M187 225.5h1.2M187 226.5h1.2M187 227.5h1.2M187 230.5h1.2M187 231.5h1.2M187 232.5h1.2M187 234.5h1.2M187 235.5h1.2M187 236.5h1.2M187 237.5h1.2M187 238.5h1.2M187 259.5h1.2M187 261.5h1.2M187 263.5h1.2M187 264.5h1.2M187 265.5h1.2M187 269.5h1.2M187 271.5h1.2M187 276.5h1.2M187 277.5h1.2M187 278.5h1.2M187 283.5h1.2M188 194.5h1.2M188 213.5h1.2M188 219.5h1.2M188 223.5h1.2M188 224.5h1.2M188 227.5h1.2M188 230.5h1.2M188 232.5h1.2M188 235.5h1.2M188 237.5h1.2M188 238.5h1.2M188 240.5h1.2M188 244.5h1.2M188 248.5h1.2M188 255.5h1.2M188 256.5h1.2M188 257.5h1.2M188 259.5h1.2M188 260.5h1.2M188 261.5h1.2M188 262.5h1.2M188 263.5h1.2M188 264.5h1.2M188 268.5h1.2M188 269.5h1.2M188 271.5h1.2M188 272.5h1.2M188 280.5h1.2M188 281.5h1.2M188 282.5h1.2M188 287.5h1.2M189 181.5h1.2M189 183.5h1.2M189 223.5h1.2M189 228.5h1.2M189 231.5h1.2M189 235.5h1.2M189 236.5h1.2M189 237.5h1.2M189 238.5h1.2M189 240.5h1.2M189 241.5h1.2M189 243.5h1.2M189 244.5h1.2M189 245.5h1.2M189 246.5h1.2M189 248.5h1.2M189 251.5h1.2M189 252.5h1.2M189 253.5h1.2M189 254.5h1.2M189 255.5h1.2M189 256.5h1.2M189 257.5h1.2M189 260.5h1.2M189 261.5h1.2M189 263.5h1.2M189 264.5h1.2M189 265.5h1.2M189 266.5h1.2M189 267.5h1.2M189 269.5h1.2M189 270.5h1.2M189 273.5h1.2M189 279.5h1.2M189 281.5h1.2M189 290.5h1.2M190 159.5h1.2M190 162.5h1.2M190 211.5h1.2M190 216.5h1.2M190 217.5h1.2M190 222.5h1.2M190 223.5h1.2M190 225.5h1.2M190 228.5h1.2M190 229.5h1.2M190 233.5h1.2M190 236.5h1.2M190 237.5h1.2M190 238.5h1.2M190 239.5h1.2M190 240.5h1.2M190 241.5h1.2M190 242.5h1.2M190 243.5h1.2M190 244.5h1.2M190 245.5h1.2M190 249.5h1.2M190 251.5h1.2M190 252.5h1.2M190 254.5h1.2M190 255.5h1.2M190 256.5h1.2M190 257.5h1.2M190 258.5h1.2M190 259.5h1.2M190 260.5h1.2M190 261.5h1.2M190 262.5h1.2M190 264.5h1.2M190 269.5h1.2M190 270.5h1.2M190 272.5h1.2M190 276.5h1.2M190 277.5h1.2M190 279.5h1.2M190 280.5h1.2M191 175.5h1.2M191 222.5h1.2M191 226.5h1.2M191 231.5h1.2M191 233.5h1.2M191 234.5h1.2M191 235.5h1.2M191 236.5h1.2M191 237.5h1.2M191 238.5h1.2M191 241.5h1.2M191 242.5h1.2M191 243.5h1.2M191 244.5h1.2M191 245.5h1.2M191 246.5h1.2M191 247.5h1.2M191 248.5h1.2M191 249.5h1.2M191 250.5h1.2M191 251.5h1.2M191 252.5h1.2M191 254.5h1.2M191 255.5h1.2M191 256.5h1.2M191 259.5h1.2M191 260.5h1.2M191 261.5h1.2M191 262.5h1.2M191 263.5h1.2M191 264.5h1.2M191 267.5h1.2M191 268.5h1.2M191 269.5h1.2M191 270.5h1.2M191 273.5h1.2M191 274.5h1.2M191 283.5h1.2M191 285.5h1.2M191 286.5h1.2M192 185.5h1.2M192 218.5h1.2M192 220.5h1.2M192 223.5h1.2M192 224.5h1.2M192 228.5h1.2M192 230.5h1.2M192 233.5h1.2M192 237.5h1.2M192 238.5h1.2M192 239.5h1.2M192 241.5h1.2M192 244.5h1.2M192 245.5h1.2M192 246.5h1.2M192 247.5h1.2M192 248.5h1.2M192 251.5h1.2M192 257.5h1.2M192 258.5h1.2M192 262.5h1.2M192 268.5h1.2M192 269.5h1.2M192 270.5h1.2M192 275.5h1.2M192 281.5h1.2M192 286.5h1.2M192 288.5h1.2M192 289.5h1.2M193 219.5h1.2M193 220.5h1.2M193 226.5h1.2M193 227.5h1.2M193 228.5h1.2M193 229.5h1.2M193 233.5h1.2M193 235.5h1.2M193 237.5h1.2M193 241.5h1.2M193 242.5h1.2M193 245.5h1.2M193 247.5h1.2M193 250.5h1.2M193 252.5h1.2M193 253.5h1.2M193 254.5h1.2M193 257.5h1.2M193 259.5h1.2M193 261.5h1.2M193 263.5h1.2M193 264.5h1.2M193 270.5h1.2M193 271.5h1.2M193 273.5h1.2M193 277.5h1.2M193 285.5h1.2M193 287.5h1.2M194 204.5h1.2M194 220.5h1.2M194 222.5h1.2M194 225.5h1.2M194 229.5h1.2M194 232.5h1.2M194 233.5h1.2M194 236.5h1.2M194 243.5h1.2M194 244.5h1.2M194 245.5h1.2M194 250.5h1.2M194 256.5h1.2M194 262.5h1.2M194 263.5h1.2M194 268.5h1.2M194 273.5h1.2M195 224.5h1.2M195 236.5h1.2M195 237.5h1.2M195 240.5h1.2M195 242.5h1.2M195 243.5h1.2M195 244.5h1.2M195 245.5h1.2M195 248.5h1.2M195 250.5h1.2M195 251.5h1.2M195 252.5h1.2M195 254.5h1.2M195 257.5h1.2M195 260.5h1.2M195 261.5h1.2M195 265.5h1.2M196 142.5h1.2M196 209.5h1.2M196 215.5h1.2M196 216.5h1.2M196 223.5h1.2M196 233.5h1.2M196 236.5h1.2M196 238.5h1.2M196 244.5h1.2M196 251.5h1.2M196 252.5h1.2M196 261.5h1.2M196 264.5h1.2M196 266.5h1.2M196 268.5h1.2M196 269.5h1.2M196 279.5h1.2M196 298.5h1.2M197 173.5h1.2M197 199.5h1.2M197 218.5h1.2M197 222.5h1.2M197 228.5h1.2M197 234.5h1.2M197 241.5h1.2M197 244.5h1.2M197 245.5h1.2M197 246.5h1.2M197 248.5h1.2M197 250.5h1.2M198 178.5h1.2M198 203.5h1.2M198 225.5h1.2M198 227.5h1.2M198 241.5h1.2M198 247.5h1.2M198 249.5h1.2M198 258.5h1.2M198 265.5h1.2M199 169.5h1.2M199 173.5h1.2M199 191.5h1.2M199 231.5h1.2M199 237.5h1.2M199 244.5h1.2M199 256.5h1.2M199 260.5h1.2M200 206.5h1.2M200 212.5h1.2M200 216.5h1.2M200 222.5h1.2M200 226.5h1.2M200 239.5h1.2M200 242.5h1.2M200 248.5h1.2M200 268.5h1.2M200 273.5h1.2M201 201.5h1.2M201 205.5h1.2M201 209.5h1.2M201 214.5h1.2M201 227.5h1.2M201 230.5h1.2M201 235.5h1.2M201 237.5h1.2M201 244.5h1.2M202 170.5h1.2M202 182.5h1.2M202 199.5h1.2M202 213.5h1.2M202 235.5h1.2M202 237.5h1.2M202 245.5h1.2M202 254.5h1.2M202 255.5h1.2M202 257.5h1.2M202 267.5h1.2M202 270.5h1.2M202 279.5h1.2M203 196.5h1.2M203 204.5h1.2M203 215.5h1.2M203 222.5h1.2M203 223.5h1.2M203 240.5h1.2M203 245.5h1.2M203 250.5h1.2M203 267.5h1.2M204 211.5h1.2M204 215.5h1.2M204 222.5h1.2M204 223.5h1.2M204 226.5h1.2M204 237.5h1.2M204 250.5h1.2M204 253.5h1.2M204 255.5h1.2M205 164.5h1.2M205 180.5h1.2M205 214.5h1.2M205 216.5h1.2M205 245.5h1.2M206 258.5h1.2M206 259.5h1.2M207 161.5h1.2M207 212.5h1.2M207 214.5h1.2M207 220.5h1.2M207 239.5h1.2M207 262.5h1.2M208 242.5h1.2M208 254.5h1.2M208 276.5h1.2M209 214.5h1.2M209 231.5h1.2M209 250.5h1.2M210 201.5h1.2M210 229.5h1.2M212 233.5h1.2M213 171.5h1.2M213 219.5h1.2M213 256.5h1.2M214 146.5h1.2M215 179.5h1.2M216 207.5h1.2M216 223.5h1.2M217 166.5h1.2M217 167.5h1.2M218 210.5h1.2M220 224.5h1.2M221 204.5h1.2M222 195.5h1.2M222 211.5h1.2M222 214.5h1.2M222 221.5h1.2M223 218.5h1.2M229 215.5h1.2M232 193.5h1.2M235 148.5h1.2M235 189.5h1.2M250 182.5h1.2M262 171.5h1.2M273 265.5h1.2M287 287.5h1.2M304 236.5h1.2" stroke="#141414" stroke-width="1.25" fill="none"/>
<path d="M161.5 279.0L160.0 279.1L158.5 279.0L157.5 278.9L156.0 278.6L155.0 278.3L154.0 278.0L152.9 277.5L152.0 277.0L151.0 276.4L150.0 275.7L149.1 275.0L148.5 274.5L147.6 273.5L147.0 272.8L146.4 272.0L145.7 271.0L145.2 270.0L144.7 269.0L144.3 268.0L144.0 267.0L143.6 265.5L143.4 264.5L143.3 263.0L143.3 261.5L143.4 260.0L143.6 259.0L143.9 257.5L144.2 256.5L144.6 255.5L145.0 254.5L145.5 253.5L146.1 252.5L146.7 251.5L147.4 250.5L148.0 249.7L148.6 249.0L149.4 248.0L150.0 247.3L150.7 246.5L151.5 245.6L152.1 245.0L153.0 244.1L153.6 243.5L154.5 242.7L155.4 242.0L156.0 241.5L157.0 240.7L158.0 240.1L158.9 239.5L159.7 239.0L160.7 238.5L161.7 238.0L162.9 237.5L164.0 237.2L165.0 236.9L166.5 236.6L168.0 236.5L169.5 236.7L171.0 237.0L172.0 237.3L173.0 237.8L174.0 238.5L174.7 239.0L175.5 239.8L176.1 240.5L176.8 241.5L177.3 242.5L177.8 243.5L178.2 244.5L178.5 245.6L178.8 247.0L179.0 248.0L179.2 249.5L179.3 251.0L179.3 252.5L179.3 254.0L179.2 255.5L179.0 256.9L178.9 258.0L178.6 259.5L178.4 260.5L178.1 262.0L177.8 263.0L177.5 264.1L177.1 265.5L176.7 266.5L176.3 267.5L175.9 268.5L175.4 269.5L174.9 270.5L174.2 271.5L173.5 272.5L173.0 273.1L172.1 274.0L171.5 274.6L170.5 275.5L169.8 276.0L169.0 276.5L168.0 277.1L167.0 277.6L166.0 278.0L164.5 278.5L163.5 278.7L162.0 279.0Z" fill="#222" fill-opacity="0.035" stroke="none"/>
<path d="M163.0 276.6L161.5 276.8L160.0 276.8L158.5 276.7L157.0 276.5L156.0 276.2L155.0 275.9L154.0 275.5L153.0 275.0L152.0 274.4L151.0 273.6L150.2 273.0L149.5 272.3L148.8 271.5L148.1 270.5L147.5 269.6L147.0 268.7L146.5 267.6L146.1 266.5L145.8 265.5L145.5 264.0L145.4 263.0L145.4 261.5L145.5 260.2L145.7 259.0L146.0 257.6L146.4 256.5L146.7 255.5L147.2 254.5L147.7 253.5L148.3 252.5L149.0 251.5L149.5 250.8L150.1 250.0L150.9 249.0L151.5 248.3L152.2 247.5L153.0 246.7L153.7 246.0L154.5 245.2L155.3 244.5L156.0 243.9L157.0 243.1L157.9 242.5L158.7 242.0L159.5 241.5L160.5 240.9L161.5 240.4L162.6 240.0L164.0 239.5L165.0 239.3L166.5 239.1L168.0 239.1L169.5 239.4L170.5 239.7L171.5 240.1L172.5 240.7L173.4 241.5L174.0 242.1L174.7 243.0L175.4 244.0L175.9 245.0L176.3 246.0L176.6 247.0L177.0 248.5L177.1 249.5L177.3 251.0L177.4 252.5L177.4 254.0L177.3 255.5L177.1 257.0L177.0 258.0L176.7 259.5L176.5 260.7L176.2 262.0L175.9 263.0L175.5 264.4L175.1 265.5L174.7 266.5L174.3 267.5L173.7 268.5L173.2 269.5L172.5 270.4L172.0 271.1L171.2 272.0L170.5 272.7L169.6 273.5L168.9 274.0L168.0 274.6L167.0 275.2L166.0 275.6L165.0 276.0L163.5 276.5Z" fill="#222" fill-opacity="0.035" stroke="none"/>
<path d="M163.5 274.6L162.0 274.9L160.5 275.0L159.0 274.9L157.5 274.7L156.5 274.4L155.3 274.0L154.2 273.5L153.4 273.0L152.5 272.4L151.5 271.6L150.9 271.0L150.0 270.0L149.5 269.3L149.0 268.5L148.5 267.5L148.0 266.4L147.6 265.0L147.4 264.0L147.2 262.5L147.2 261.0L147.3 259.5L147.5 258.5L147.9 257.0L148.3 256.0L148.7 255.0L149.3 254.0L149.9 253.0L150.5 252.1L151.0 251.4L151.7 250.5L152.5 249.5L153.0 248.9L153.9 248.0L154.5 247.3L155.4 246.5L156.0 246.0L157.0 245.2L157.9 244.5L158.6 244.0L159.5 243.4L160.5 242.9L161.5 242.4L162.5 242.0L164.0 241.5L165.0 241.4L166.5 241.2L168.0 241.3L169.0 241.6L170.2 242.0L171.1 242.5L172.0 243.2L172.8 244.0L173.5 244.9L174.0 245.8L174.5 246.8L174.9 248.0L175.2 249.0L175.5 250.4L175.6 251.5L175.7 253.0L175.7 254.5L175.7 256.0L175.5 257.5L175.4 258.5L175.1 260.0L174.9 261.0L174.5 262.4L174.2 263.5L173.8 264.5L173.4 265.5L173.0 266.5L172.5 267.5L171.8 268.5L171.1 269.5L170.5 270.3L169.8 271.0L169.0 271.7L168.0 272.5L167.2 273.0L166.3 273.5L165.2 274.0L164.0 274.4Z" fill="#222" fill-opacity="0.035" stroke="none"/>
<path d="M163.0 273.1L161.5 273.3L160.0 273.4L158.5 273.2L157.5 273.0L156.0 272.5L155.0 272.1L154.0 271.5L153.3 271.0L152.5 270.3L151.7 269.5L151.0 268.6L150.5 267.9L150.0 267.0L149.5 265.9L149.1 264.5L148.8 263.5L148.7 262.0L148.7 260.5L148.9 259.0L149.1 258.0L149.5 256.8L150.0 255.6L150.5 254.6L151.0 253.8L151.5 253.0L152.2 252.0L153.0 251.0L153.5 250.4L154.3 249.5L155.0 248.7L155.8 248.0L156.5 247.3L157.5 246.5L158.2 246.0L159.0 245.5L160.0 244.9L161.0 244.3L162.0 243.9L163.2 243.5L164.5 243.2L166.0 243.1L167.5 243.2L168.6 243.5L169.7 244.0L170.5 244.5L171.5 245.4L172.0 246.0L172.7 247.0L173.2 248.0L173.5 249.0L174.0 250.5L174.1 251.5L174.3 253.0L174.3 254.5L174.3 256.0L174.2 257.5L174.0 258.6L173.7 260.0L173.5 261.0L173.1 262.5L172.7 263.5L172.4 264.5L171.9 265.5L171.4 266.5L170.8 267.5L170.1 268.5L169.5 269.2L168.7 270.0L168.0 270.6L167.0 271.3L166.0 271.9L165.0 272.4L164.0 272.8L163.0 273.1Z" fill="#222" fill-opacity="0.035" stroke="none"/>
<path d="M163.0 271.5L161.5 271.8L160.0 271.9L158.5 271.7L157.5 271.4L156.3 271.0L155.3 270.5L154.5 270.0L153.5 269.2L152.8 268.5L152.0 267.5L151.5 266.7L151.0 265.7L150.6 264.5L150.3 263.5L150.1 262.0L150.1 260.5L150.3 259.0L150.5 258.0L151.0 256.6L151.5 255.5L152.0 254.5L152.5 253.7L153.0 253.0L153.7 252.0L154.5 251.1L155.0 250.5L156.0 249.5L156.5 249.0L157.5 248.2L158.4 247.5L159.1 247.0L160.0 246.4L161.0 245.9L162.0 245.5L163.5 245.0L164.5 244.8L166.0 244.8L167.3 245.0L168.5 245.4L169.5 246.0L170.1 246.5L171.0 247.5L171.5 248.3L172.0 249.3L172.4 250.5L172.7 251.5L172.9 253.0L173.0 254.0L173.0 255.5L173.0 256.5L172.8 258.0L172.6 259.5L172.4 260.5L172.0 261.8L171.6 263.0L171.2 264.0L170.8 265.0L170.2 266.0L169.6 267.0L169.0 267.7L168.3 268.5L167.5 269.2L166.5 270.0L165.6 270.5L164.6 271.0L163.5 271.4Z" fill="#222" fill-opacity="0.035" stroke="none"/>
<path d="M160.5 270.5L159.5 270.4L158.0 270.1L157.0 269.8L156.0 269.3L155.0 268.6L154.3 268.0L153.5 267.2L153.0 266.5L152.4 265.5L152.0 264.5L151.5 263.0L151.4 262.0L151.4 260.5L151.5 259.2L151.8 258.0L152.1 257.0L152.5 256.0L153.1 255.0L153.7 254.0L154.4 253.0L155.0 252.2L155.6 251.5L156.5 250.6L157.2 250.0L158.0 249.3L159.0 248.5L159.8 248.0L160.7 247.5L161.8 247.0L163.0 246.6L164.0 246.4L165.5 246.3L166.6 246.5L167.9 247.0L168.7 247.5L169.5 248.2L170.1 249.0L170.7 250.0L171.1 251.0L171.5 252.2L171.7 253.5L171.8 255.0L171.8 256.5L171.7 258.0L171.5 259.1L171.2 260.5L170.9 261.5L170.5 262.7L170.0 263.9L169.5 264.9L169.0 265.7L168.4 266.5L167.5 267.5L167.0 268.0L166.0 268.8L165.0 269.4L164.0 269.8L163.0 270.2L161.5 270.5L160.5 270.5Z" fill="#222" fill-opacity="0.035" stroke="none"/>
<path d="M162.5 269.0L161.0 269.3L159.5 269.2L158.5 269.0L157.2 268.5L156.3 268.0L155.5 267.4L154.6 266.5L154.0 265.8L153.5 265.0L153.0 263.8L152.7 262.5L152.5 261.0L152.5 260.5L152.7 259.0L153.0 257.7L153.5 256.5L154.0 255.5L154.5 254.7L155.0 253.9L155.7 253.0L156.5 252.1L157.1 251.5L158.0 250.7L158.8 250.0L159.6 249.5L160.5 248.9L161.5 248.5L162.8 248.0L164.0 247.8L165.5 247.8L166.5 248.0L167.5 248.5L168.5 249.3L169.1 250.0L169.7 251.0L170.1 252.0L170.5 253.3L170.7 254.5L170.7 256.0L170.7 257.5L170.5 258.7L170.2 260.0L170.0 261.0L169.5 262.4L169.0 263.5L168.5 264.5L168.0 265.2L167.4 266.0L166.5 266.9L165.8 267.5L165.0 268.0L164.0 268.5L162.7 269.0Z" fill="#222" fill-opacity="0.035" stroke="none"/>
<path d="M161.0 268.0L160.0 268.0L158.5 267.7L157.5 267.2L156.5 266.6L155.8 266.0L155.0 265.1L154.5 264.2L154.0 263.0L153.8 262.0L153.6 260.5L153.8 259.0L154.0 258.0L154.5 256.8L155.0 255.8L155.5 255.0L156.2 254.0L157.0 253.1L157.6 252.5L158.5 251.7L159.3 251.0L160.1 250.5L161.0 250.0L162.3 249.5L163.5 249.2L165.0 249.2L166.1 249.5L167.0 250.0L168.0 250.9L168.5 251.6L169.0 252.6L169.4 254.0L169.6 255.0L169.6 256.5L169.5 258.0L169.4 259.0L169.0 260.5L168.7 261.5L168.3 262.5L167.8 263.5L167.2 264.5L166.5 265.4L165.8 266.0L165.0 266.7L164.0 267.2L163.0 267.7L161.5 268.0Z" fill="#222" fill-opacity="0.035" stroke="none"/>
<path d="M163.0 266.5L161.5 266.9L160.0 266.9L158.6 266.5L157.6 266.0L156.9 265.5L156.0 264.5L155.5 263.8L155.0 262.6L154.7 261.5L154.7 260.0L154.9 258.5L155.3 257.5L155.7 256.5L156.3 255.5L157.0 254.6L157.5 254.0L158.4 253.0L159.0 252.5L160.0 251.8L161.0 251.2L162.0 250.8L163.2 250.5L164.5 250.5L165.5 250.7L166.5 251.3L167.2 252.0L167.9 253.0L168.3 254.0L168.5 255.0L168.6 256.5L168.6 258.0L168.4 259.0L168.1 260.5L167.7 261.5L167.3 262.5L166.7 263.5L166.0 264.4L165.4 265.0L164.5 265.7L163.5 266.3Z" fill="#222" fill-opacity="0.035" stroke="none"/>
<path d="M162.5 265.6L161.0 265.8L159.5 265.6L158.5 265.2L157.5 264.5L157.0 264.0L156.3 263.0L155.9 262.0L155.7 260.5L155.8 259.0L156.1 258.0L156.5 257.0L157.1 256.0L157.9 255.0L158.5 254.3L159.3 253.5L160.0 253.0L161.0 252.4L162.0 252.0L163.5 251.7L165.0 252.0L165.8 252.5L166.5 253.2L167.0 254.0L167.5 255.5L167.6 256.5L167.6 258.0L167.5 259.0L167.1 260.5L166.7 261.5L166.2 262.5L165.5 263.5L165.0 264.0L164.0 264.8L163.0 265.4Z" fill="#222" fill-opacity="0.035" stroke="none"/>
<path d="M162.0 264.6L160.5 264.7L159.5 264.4L158.5 263.9L157.6 263.0L157.1 262.0L156.8 261.0L156.7 259.5L157.0 258.3L157.5 257.2L158.0 256.4L158.7 255.5L159.5 254.7L160.4 254.0L161.2 253.5L162.5 253.1L164.0 253.1L165.0 253.6L165.9 254.5L166.3 255.5L166.6 256.5L166.6 258.0L166.5 259.0L166.1 260.5L165.7 261.5L165.1 262.5L164.5 263.1L163.5 263.9L162.5 264.4Z" fill="#222" fill-opacity="0.035" stroke="none"/>
<path d="M161.5 263.6L160.4 263.5L159.2 263.0L158.5 262.3L158.0 261.4L157.7 260.0L158.0 258.5L158.4 257.5L159.0 256.6L159.5 256.0L160.5 255.1L161.5 254.6L162.5 254.3L163.9 254.5L164.6 255.0L165.3 256.0L165.5 257.0L165.6 258.5L165.4 259.5L165.0 260.7L164.5 261.6L163.7 262.5L163.0 263.1L161.8 263.5Z" fill="#222" fill-opacity="0.035" stroke="none"/>
<path d="M162.5 262.1L161.0 262.5L159.8 262.0L159.0 261.0L158.7 260.0L159.0 258.5L159.5 257.5L160.0 256.9L161.0 256.1L162.0 255.6L163.5 255.8L164.1 256.5L164.5 257.5L164.5 259.0L164.3 260.0L163.8 261.0L163.0 261.8Z" fill="#222" fill-opacity="0.035" stroke="none"/>
<path d="M162.0 261.1L161.5 261.2L161.0 261.2L160.5 261.0L160.5 261.0L160.1 260.5L160.0 260.3L159.9 260.0L159.9 259.5L159.9 259.0L160.0 258.8L160.1 258.5L160.5 258.0L160.5 257.9L160.9 257.5L161.0 257.5L161.5 257.2L162.0 257.0L162.5 257.1L163.0 257.4L163.1 257.5L163.3 258.0L163.4 258.5L163.4 259.0L163.3 259.5L163.1 260.0L163.0 260.2L162.8 260.5L162.5 260.8L162.2 261.0L162.0 261.1Z" fill="#222" fill-opacity="0.035" stroke="none"/>
<path d="M162.0 289.5L161.0 289.6L160.0 289.6L159.0 289.6L158.0 289.6L157.0 289.5L156.5 289.5L155.5 289.3L154.5 289.2L153.7 289.0L153.0 288.8L152.0 288.6L151.5 288.4L150.5 288.1L150.0 287.9L149.1 287.5L148.5 287.3L148.0 287.0L147.0 286.5L146.5 286.2L146.0 285.9L145.3 285.5L144.6 285.0L144.0 284.6L143.5 284.2L143.0 283.8L142.5 283.4L142.0 283.0L141.5 282.5L141.0 282.0L140.5 281.5L140.0 281.0L139.5 280.4L139.0 279.8L138.5 279.1L138.1 278.5L137.7 278.0L137.4 277.5L137.0 276.9L136.5 276.0L136.2 275.5L136.0 275.0L135.5 274.0L135.3 273.5L135.0 272.8L134.7 272.0L134.5 271.3L134.2 270.5L134.0 269.6L133.8 269.0L133.6 268.0L133.5 267.1L133.4 266.5L133.3 265.5L133.2 264.5L133.2 263.5L133.2 262.5L133.2 261.5L133.3 260.5L133.5 259.5L133.6 259.0L133.7 258.0L134.0 257.0L134.1 256.5L134.4 255.5L134.6 255.0L135.0 254.0L135.2 253.5L135.5 252.9L135.9 252.0L136.2 251.5L136.5 250.9L137.0 250.1L137.4 249.5L137.7 249.0L138.0 248.5L138.5 247.9L139.0 247.2L139.5 246.5L139.9 246.0L140.3 245.5L140.7 245.0L141.1 244.5L141.6 244.0L142.0 243.5L142.5 242.9L143.0 242.3L143.5 241.8L144.0 241.2L144.5 240.7L145.0 240.1L145.5 239.6L146.0 239.1L146.5 238.6L147.0 238.1L147.5 237.5L148.0 237.0L148.5 236.6L149.0 236.1L149.5 235.6L150.0 235.1L150.5 234.7L151.0 234.2L151.5 233.8L152.0 233.3L152.5 232.9L153.0 232.5L153.6 232.0L154.2 231.5L154.9 231.0L155.5 230.6L156.0 230.2L156.5 229.9L157.0 229.5L157.8 229.0L158.5 228.6L159.0 228.3L159.5 228.0L160.4 227.5L161.0 227.2L161.5 227.0L162.5 226.5L163.0 226.3L163.7 226.0L164.5 225.7L165.2 225.5L166.0 225.3L167.0 225.0L167.5 224.9L168.5 224.7L169.5 224.6L170.5 224.5L171.0 224.5L172.0 224.5L172.5 224.5L173.5 224.6L174.5 224.8L175.5 225.0L176.0 225.1L177.0 225.5L177.5 225.7L178.3 226.0L179.0 226.4L179.5 226.7L180.0 227.0L180.7 227.5L181.3 228.0L181.9 228.5L182.4 229.0L182.9 229.5L183.3 230.0L183.7 230.5L184.1 231.0L184.5 231.6L185.0 232.4L185.3 233.0L185.6 233.5L186.0 234.4L186.3 235.0L186.5 235.6L186.8 236.5L187.0 237.0L187.3 238.0L187.5 238.9L187.7 239.5L187.9 240.5L188.0 241.4L188.1 242.0L188.2 243.0L188.3 244.0L188.4 245.0L188.4 246.0L188.4 247.0L188.4 248.0L188.4 249.0L188.4 250.0L188.3 251.0L188.2 252.0L188.1 253.0L188.0 254.0L188.0 254.5L187.9 255.5L187.7 256.5L187.6 257.5L187.5 258.0L187.3 259.0L187.1 260.0L187.0 260.7L186.9 261.5L186.7 262.5L186.5 263.2L186.3 264.0L186.1 265.0L186.0 265.5L185.8 266.5L185.5 267.5L185.4 268.0L185.1 269.0L185.0 269.5L184.7 270.5L184.5 271.0L184.2 272.0L184.0 272.5L183.6 273.5L183.4 274.0L183.0 275.0L182.7 275.5L182.5 276.0L182.0 276.9L181.7 277.5L181.3 278.0L181.0 278.5L180.5 279.2L180.0 279.9L179.5 280.5L179.1 281.0L178.6 281.5L178.1 282.0L177.6 282.5L177.1 283.0L176.5 283.5L176.0 283.9L175.5 284.3L175.0 284.7L174.5 285.0L173.8 285.5L173.0 286.0L172.5 286.3L172.0 286.5L171.1 287.0L170.5 287.3L169.9 287.5L169.0 287.9L168.5 288.1L167.5 288.4L167.0 288.5L166.0 288.8L165.2 289.0L164.5 289.2L163.5 289.3L162.5 289.5L162.0 289.5M163.0 285.0L162.0 285.2L161.0 285.3L160.0 285.3L159.0 285.3L158.0 285.2L157.0 285.1L156.1 285.0L155.5 284.9L154.5 284.7L153.8 284.5L153.0 284.3L152.2 284.0L151.5 283.7L150.9 283.5L150.0 283.1L149.5 282.8L148.9 282.5L148.0 282.0L147.5 281.7L147.0 281.3L146.5 281.0L145.9 280.5L145.3 280.0L144.7 279.5L144.2 279.0L143.7 278.5L143.2 278.0L142.8 277.5L142.4 277.0L142.0 276.5L141.5 275.8L141.0 275.1L140.6 274.5L140.3 274.0L140.0 273.4L139.6 272.5L139.3 272.0L139.0 271.2L138.7 270.5L138.5 269.9L138.2 269.0L138.0 268.1L137.9 267.5L137.7 266.5L137.5 265.5L137.5 265.0L137.4 264.0L137.4 263.0L137.4 262.0L137.4 261.0L137.5 260.4L137.6 259.5L137.8 258.5L138.0 257.6L138.2 257.0L138.5 256.0L138.6 255.5L139.0 254.6L139.2 254.0L139.5 253.5L140.0 252.5L140.2 252.0L140.5 251.5L141.0 250.7L141.5 250.0L141.8 249.5L142.2 249.0L142.5 248.5L143.0 247.9L143.5 247.2L144.0 246.6L144.5 246.0L144.9 245.5L145.3 245.0L145.7 244.5L146.2 244.0L146.6 243.5L147.1 243.0L147.5 242.5L148.0 242.0L148.5 241.5L149.0 241.0L149.5 240.5L150.0 240.0L150.5 239.5L151.0 239.0L151.6 238.5L152.1 238.0L152.7 237.5L153.3 237.0L153.9 236.5L154.5 236.0L155.0 235.6L155.5 235.2L156.0 234.8L156.5 234.5L157.2 234.0L158.0 233.5L158.5 233.2L159.0 232.9L159.6 232.5L160.5 232.0L161.0 231.8L161.6 231.5L162.5 231.1L163.0 230.9L164.0 230.5L164.5 230.4L165.5 230.1L166.0 229.9L167.0 229.7L168.0 229.6L168.9 229.5L169.5 229.5L170.5 229.5L171.2 229.5L172.0 229.6L173.0 229.8L173.9 230.0L174.5 230.2L175.3 230.5L176.0 230.8L176.5 231.1L177.2 231.5L177.9 232.0L178.5 232.5L179.0 232.9L179.5 233.4L180.0 233.9L180.5 234.5L180.8 235.0L181.2 235.5L181.5 236.0L182.0 236.9L182.3 237.5L182.6 238.0L183.0 239.0L183.2 239.5L183.5 240.5L183.6 241.0L183.9 242.0L184.0 242.5L184.2 243.5L184.4 244.5L184.5 245.5L184.5 246.0L184.6 247.0L184.7 248.0L184.7 249.0L184.7 250.0L184.7 251.0L184.6 252.0L184.5 253.0L184.5 253.5L184.4 254.5L184.3 255.5L184.2 256.5L184.0 257.5L183.9 258.0L183.8 259.0L183.6 260.0L183.5 260.6L183.3 261.5L183.1 262.5L183.0 263.0L182.8 264.0L182.5 265.0L182.4 265.5L182.1 266.5L182.0 267.0L181.7 268.0L181.5 268.5L181.2 269.5L181.0 270.0L180.6 271.0L180.4 271.5L180.0 272.4L179.7 273.0L179.5 273.5L179.0 274.3L178.6 275.0L178.3 275.5L177.9 276.0L177.5 276.6L177.0 277.2L176.5 277.8L176.0 278.3L175.5 278.9L175.0 279.3L174.5 279.8L174.0 280.2L173.5 280.6L173.0 281.0L172.3 281.5L171.5 282.0L171.0 282.3L170.5 282.6L169.6 283.0L169.0 283.3L168.5 283.5L167.5 283.9L167.0 284.1L166.0 284.4L165.5 284.5L164.5 284.8L163.5 285.0L163.0 285.0M163.0 281.6L162.0 281.7L161.0 281.8L160.0 281.8L159.0 281.8L158.0 281.7L157.0 281.6L156.4 281.5L155.5 281.3L154.5 281.0L154.0 280.9L153.0 280.5L152.5 280.3L151.7 280.0L151.0 279.6L150.5 279.4L149.9 279.0L149.1 278.5L148.5 278.1L148.0 277.7L147.5 277.3L147.0 276.8L146.5 276.4L146.0 275.8L145.5 275.3L145.0 274.7L144.5 274.1L144.1 273.5L143.8 273.0L143.5 272.5L143.0 271.7L142.6 271.0L142.4 270.5L142.0 269.5L141.8 269.0L141.5 268.0L141.3 267.5L141.1 266.5L141.0 266.0L140.8 265.0L140.7 264.0L140.7 263.0L140.7 262.0L140.7 261.0L140.8 260.0L141.0 259.0L141.1 258.5L141.3 257.5L141.5 257.0L141.8 256.0L142.0 255.5L142.4 254.5L142.6 254.0L143.0 253.3L143.4 252.5L143.7 252.0L144.0 251.5L144.5 250.7L145.0 250.0L145.4 249.5L145.7 249.0L146.1 248.5L146.5 248.0L147.0 247.4L147.5 246.8L148.0 246.2L148.5 245.6L149.0 245.0L149.5 244.5L150.0 244.0L150.5 243.5L150.9 243.0L151.5 242.5L152.0 242.0L152.5 241.5L153.0 241.0L153.5 240.6L154.0 240.2L154.5 239.7L155.0 239.3L155.5 238.9L156.1 238.5L156.8 238.0L157.5 237.5L158.0 237.2L158.5 236.8L159.1 236.5L159.9 236.0L160.5 235.7L161.0 235.5L162.0 235.0L162.5 234.8L163.2 234.5L164.0 234.2L164.8 234.0L165.5 233.8L166.5 233.6L167.5 233.5L168.0 233.5L169.0 233.4L170.0 233.5L170.5 233.5L171.5 233.7L172.5 234.0L173.0 234.1L173.8 234.5L174.5 234.8L175.0 235.1L175.6 235.5L176.2 236.0L176.8 236.5L177.3 237.0L177.7 237.5L178.1 238.0L178.5 238.6L179.0 239.3L179.4 240.0L179.6 240.5L180.0 241.4L180.3 242.0L180.5 242.7L180.7 243.5L181.0 244.5L181.1 245.0L181.3 246.0L181.4 247.0L181.5 247.6L181.6 248.5L181.6 249.5L181.7 250.5L181.7 251.5L181.6 252.5L181.6 253.5L181.5 254.5L181.5 255.0L181.4 256.0L181.2 257.0L181.1 258.0L181.0 258.6L180.9 259.5L180.7 260.5L180.5 261.3L180.3 262.0L180.1 263.0L180.0 263.5L179.7 264.5L179.5 265.3L179.3 266.0L179.0 266.9L178.8 267.5L178.5 268.3L178.2 269.0L178.0 269.6L177.6 270.5L177.3 271.0L177.0 271.6L176.5 272.5L176.2 273.0L175.8 273.5L175.5 274.0L175.0 274.6L174.5 275.2L174.0 275.7L173.5 276.2L173.0 276.7L172.5 277.2L172.0 277.6L171.4 278.0L170.7 278.5L170.0 279.0L169.5 279.3L169.0 279.5L168.1 280.0L167.5 280.3L166.9 280.5L166.0 280.8L165.4 281.0L164.5 281.3L163.5 281.5L163.0 281.6M161.5 279.0L160.5 279.1L159.5 279.1L158.5 279.0L158.0 279.0L157.0 278.8L156.0 278.6L155.5 278.5L154.5 278.1L154.0 278.0L153.0 277.5L152.5 277.3L152.0 277.0L151.1 276.5L150.5 276.1L150.0 275.7L149.5 275.3L149.0 274.9L148.5 274.5L148.0 274.0L147.5 273.4L147.0 272.8L146.5 272.2L146.0 271.5L145.7 271.0L145.4 270.5L145.0 269.6L144.7 269.0L144.5 268.5L144.1 267.5L144.0 267.0L143.7 266.0L143.5 265.0L143.4 264.5L143.3 263.5L143.3 262.5L143.3 261.5L143.4 260.5L143.5 259.5L143.6 259.0L143.8 258.0L144.0 257.3L144.2 256.5L144.5 255.8L144.8 255.0L145.0 254.5L145.5 253.6L145.8 253.0L146.1 252.5L146.5 251.9L147.0 251.1L147.4 250.5L147.8 250.0L148.2 249.5L148.6 249.0L149.0 248.4L149.5 247.8L150.0 247.3L150.5 246.7L151.0 246.1L151.5 245.6L152.0 245.1L152.5 244.6L153.0 244.1L153.5 243.6L154.0 243.2L154.5 242.7L155.0 242.3L155.5 241.9L156.0 241.5L156.7 241.0L157.4 240.5L158.0 240.1L158.5 239.7L159.0 239.4L159.7 239.0L160.5 238.6L161.0 238.3L161.7 238.0L162.5 237.7L163.0 237.5L164.0 237.2L164.6 237.0L165.5 236.8L166.5 236.6L167.5 236.6L168.5 236.6L169.5 236.7L170.5 236.8L171.1 237.0L172.0 237.3L172.5 237.6L173.3 238.0L174.0 238.5L174.5 238.9L175.0 239.3L175.5 239.8L176.0 240.4L176.4 241.0L176.8 241.5L177.0 242.0L177.5 242.9L177.8 243.5L178.0 244.0L178.3 245.0L178.5 245.6L178.7 246.5L178.9 247.5L179.0 248.0L179.1 249.0L179.2 250.0L179.3 251.0L179.3 252.0L179.3 253.0L179.3 254.0L179.2 255.0L179.1 256.0L179.0 256.9L178.9 257.5L178.8 258.5L178.6 259.5L178.5 260.0L178.3 261.0L178.1 262.0L177.9 262.5L177.7 263.5L177.5 264.1L177.2 265.0L177.0 265.7L176.7 266.5L176.5 267.1L176.1 268.0L175.9 268.5L175.5 269.3L175.1 270.0L174.9 270.5L174.5 271.1L174.0 271.8L173.5 272.5L173.1 273.0L172.6 273.5L172.1 274.0L171.6 274.5L171.1 275.0L170.5 275.5L170.0 275.8L169.5 276.2L169.0 276.5L168.2 277.0L167.5 277.3L167.0 277.6L166.0 278.0L165.5 278.2L164.5 278.5L164.0 278.6L163.0 278.8L162.0 279.0L161.5 279.0M163.0 276.6L162.0 276.7L161.0 276.8L160.0 276.8L159.0 276.8L158.0 276.7L157.0 276.5L156.5 276.4L155.5 276.1L155.0 275.9L154.0 275.5L153.5 275.3L153.0 275.0L152.2 274.5L151.5 274.0L151.0 273.6L150.5 273.2L150.0 272.8L149.5 272.3L149.0 271.7L148.5 271.1L148.1 270.5L147.7 270.0L147.4 269.5L147.0 268.7L146.7 268.0L146.5 267.5L146.1 266.5L146.0 266.0L145.7 265.0L145.5 264.0L145.5 263.5L145.4 262.5L145.4 261.5L145.5 260.5L145.5 260.0L145.7 259.0L145.9 258.0L146.0 257.5L146.4 256.5L146.5 256.0L147.0 255.0L147.2 254.5L147.5 253.9L148.0 253.0L148.3 252.5L148.7 252.0L149.0 251.5L149.5 250.8L150.0 250.1L150.5 249.5L150.9 249.0L151.3 248.5L151.8 248.0L152.2 247.5L152.7 247.0L153.2 246.5L153.7 246.0L154.2 245.5L154.8 245.0L155.3 244.5L155.9 244.0L156.5 243.5L157.0 243.1L157.5 242.8L158.0 242.4L158.7 242.0L159.5 241.5L160.0 241.2L160.5 240.9L161.4 240.5L162.0 240.2L162.6 240.0L163.5 239.7L164.2 239.5L165.0 239.3L166.0 239.2L167.0 239.1L168.0 239.1L169.0 239.3L170.0 239.5L170.5 239.7L171.3 240.0L172.0 240.4L172.5 240.7L173.0 241.1L173.5 241.6L174.0 242.1L174.5 242.7L175.0 243.4L175.4 244.0L175.6 244.5L176.0 245.3L176.3 246.0L176.5 246.7L176.7 247.5L177.0 248.5L177.0 249.0L177.2 250.0L177.3 251.0L177.4 252.0L177.4 253.0L177.4 254.0L177.3 255.0L177.2 256.0L177.1 257.0L177.0 258.0L176.9 258.5L176.7 259.5L176.5 260.5L176.4 261.0L176.2 262.0L176.0 262.7L175.8 263.5L175.5 264.4L175.3 265.0L175.0 265.8L174.7 266.5L174.5 267.0L174.0 268.0L173.7 268.5L173.5 269.0L173.0 269.7L172.5 270.4L172.1 271.0L171.7 271.5L171.2 272.0L170.7 272.5L170.2 273.0L169.6 273.5L169.0 273.9L168.5 274.3L168.0 274.6L167.3 275.0L166.5 275.4L166.0 275.6L165.1 276.0L164.5 276.2L163.5 276.5L163.0 276.6M163.5 274.6L162.5 274.8L161.5 274.9L160.5 275.0L159.5 275.0L158.5 274.9L157.5 274.7L156.8 274.5L156.0 274.3L155.3 274.0L154.5 273.6L154.0 273.4L153.4 273.0L152.6 272.5L152.0 272.0L151.5 271.6L151.0 271.1L150.5 270.6L150.0 270.0L149.6 269.5L149.3 269.0L149.0 268.5L148.5 267.6L148.2 267.0L148.0 266.4L147.7 265.5L147.5 264.7L147.4 264.0L147.2 263.0L147.2 262.0L147.2 261.0L147.3 260.0L147.4 259.0L147.5 258.5L147.8 257.5L148.0 256.8L148.3 256.0L148.5 255.5L149.0 254.5L149.3 254.0L149.6 253.5L150.0 252.8L150.5 252.1L150.9 251.5L151.3 251.0L151.7 250.5L152.1 250.0L152.5 249.5L153.0 248.9L153.5 248.4L154.0 247.8L154.5 247.3L155.0 246.9L155.5 246.4L156.0 246.0L156.6 245.5L157.2 245.0L157.9 244.5L158.5 244.1L159.0 243.8L159.5 243.4L160.3 243.0L161.0 242.6L161.5 242.4L162.5 242.0L163.0 241.8L164.0 241.5L164.5 241.4L165.5 241.3L166.5 241.2L167.5 241.3L168.5 241.4L169.0 241.6L170.0 241.9L170.5 242.2L171.1 242.5L171.7 243.0L172.3 243.5L172.8 244.0L173.2 244.5L173.5 245.0L174.0 245.8L174.4 246.5L174.6 247.0L174.9 248.0L175.1 248.5L175.3 249.5L175.5 250.4L175.6 251.0L175.7 252.0L175.7 253.0L175.8 254.0L175.7 255.0L175.7 256.0L175.6 257.0L175.5 257.6L175.4 258.5L175.2 259.5L175.0 260.4L174.9 261.0L174.6 262.0L174.5 262.5L174.2 263.5L174.0 264.0L173.6 265.0L173.4 265.5L173.0 266.4L172.7 267.0L172.5 267.5L172.0 268.3L171.5 269.0L171.1 269.5L170.7 270.0L170.3 270.5L169.8 271.0L169.3 271.5L168.7 272.0L168.0 272.5L167.5 272.8L167.0 273.1L166.3 273.5L165.5 273.9L165.0 274.1L164.0 274.4L163.5 274.6M163.0 273.1L162.0 273.2L161.0 273.3L160.0 273.4L159.0 273.3L158.0 273.1L157.5 273.0L156.5 272.7L156.0 272.5L155.0 272.1L154.5 271.8L154.0 271.5L153.3 271.0L152.7 270.5L152.2 270.0L151.7 269.5L151.3 269.0L150.9 268.5L150.5 267.9L150.0 267.0L149.8 266.5L149.5 265.9L149.2 265.0L149.0 264.2L148.8 263.5L148.7 262.5L148.7 261.5L148.7 260.5L148.8 259.5L149.0 258.6L149.1 258.0L149.4 257.0L149.6 256.5L150.0 255.6L150.3 255.0L150.6 254.5L151.0 253.8L151.5 253.0L151.8 252.5L152.2 252.0L152.6 251.5L153.0 251.0L153.5 250.4L154.0 249.8L154.5 249.2L155.0 248.7L155.5 248.3L156.0 247.8L156.5 247.3L157.0 246.9L157.5 246.5L158.2 246.0L159.0 245.5L159.5 245.2L160.0 244.9L160.7 244.5L161.5 244.1L162.0 243.9L163.0 243.6L163.5 243.4L164.5 243.2L165.5 243.1L166.5 243.1L167.5 243.2L168.5 243.5L169.0 243.6L169.7 244.0L170.5 244.5L171.0 244.9L171.5 245.4L172.0 246.0L172.3 246.5L172.7 247.0L173.0 247.7L173.4 248.5L173.5 249.0L173.8 250.0L174.0 250.7L174.1 251.5L174.3 252.5L174.3 253.5L174.3 254.5L174.3 255.5L174.3 256.5L174.2 257.5L174.0 258.5L173.9 259.0L173.7 260.0L173.5 261.0L173.4 261.5L173.1 262.5L172.9 263.0L172.6 264.0L172.4 264.5L172.0 265.3L171.7 266.0L171.4 266.5L171.0 267.2L170.5 267.9L170.1 268.5L169.7 269.0L169.2 269.5L168.7 270.0L168.1 270.5L167.5 271.0L167.0 271.3L166.5 271.6L165.9 272.0L165.0 272.4L164.5 272.6L163.5 272.9L163.0 273.1M163.0 271.5L162.0 271.7L161.0 271.9L160.0 271.9L159.0 271.8L158.0 271.6L157.5 271.4L156.5 271.1L156.0 270.9L155.3 270.5L154.5 270.0L154.0 269.6L153.5 269.2L153.0 268.7L152.5 268.1L152.0 267.5L151.7 267.0L151.4 266.5L151.0 265.7L150.7 265.0L150.5 264.3L150.3 263.5L150.1 262.5L150.1 261.5L150.1 260.5L150.2 259.5L150.4 258.5L150.5 258.0L150.8 257.0L151.0 256.5L151.5 255.5L151.7 255.0L152.0 254.5L152.5 253.7L153.0 253.0L153.4 252.5L153.7 252.0L154.1 251.5L154.6 251.0L155.0 250.5L155.5 250.0L156.0 249.5L156.5 249.0L157.1 248.5L157.7 248.0L158.4 247.5L159.0 247.1L159.5 246.7L160.0 246.4L160.8 246.0L161.5 245.7L162.0 245.5L163.0 245.1L163.6 245.0L164.5 244.8L165.5 244.8L166.5 244.8L167.3 245.0L168.0 245.2L168.7 245.5L169.5 246.0L170.0 246.4L170.5 246.9L171.0 247.5L171.3 248.0L171.6 248.5L172.0 249.3L172.3 250.0L172.5 250.7L172.7 251.5L172.9 252.5L173.0 253.5L173.0 254.0L173.0 255.0L173.0 256.0L173.0 256.5L172.9 257.5L172.8 258.5L172.6 259.5L172.5 260.0L172.2 261.0L172.0 261.8L171.8 262.5L171.5 263.3L171.2 264.0L171.0 264.5L170.5 265.5L170.2 266.0L169.9 266.5L169.5 267.1L169.0 267.7L168.5 268.3L168.0 268.8L167.5 269.2L167.0 269.6L166.5 270.0L165.6 270.5L165.0 270.8L164.5 271.1L163.5 271.4L163.0 271.5M160.5 270.5L160.0 270.5L159.0 270.4L158.0 270.1L157.5 270.0L156.5 269.6L156.0 269.3L155.5 269.0L154.8 268.5L154.3 268.0L153.8 267.5L153.4 267.0L153.0 266.5L152.5 265.7L152.2 265.0L152.0 264.5L151.7 263.5L151.5 262.8L151.4 262.0L151.3 261.0L151.4 260.0L151.5 259.2L151.6 258.5L151.9 257.5L152.1 257.0L152.5 256.1L152.8 255.5L153.1 255.0L153.5 254.3L154.0 253.6L154.4 253.0L154.8 252.5L155.2 252.0L155.6 251.5L156.1 251.0L156.6 250.5L157.2 250.0L157.7 249.5L158.4 249.0L159.0 248.5L159.5 248.2L160.0 247.9L160.7 247.5L161.5 247.1L162.0 246.9L163.0 246.6L163.5 246.5L164.5 246.4L165.5 246.3L166.5 246.5L167.0 246.6L167.9 247.0L168.5 247.3L169.0 247.7L169.5 248.2L170.0 248.8L170.5 249.5L170.7 250.0L171.0 250.6L171.3 251.5L171.5 252.2L171.6 253.0L171.8 254.0L171.8 255.0L171.8 256.0L171.8 257.0L171.7 258.0L171.5 259.0L171.4 259.5L171.2 260.5L171.0 261.2L170.7 262.0L170.5 262.7L170.2 263.5L170.0 264.0L169.5 264.9L169.1 265.5L168.8 266.0L168.4 266.5L168.0 267.0L167.5 267.5L167.0 268.0L166.4 268.5L165.6 269.0L165.0 269.4L164.5 269.6L163.5 270.0L163.0 270.2L162.0 270.4L161.0 270.5L160.5 270.5M162.5 269.0L161.5 269.2L160.5 269.3L159.5 269.2L158.6 269.0L158.0 268.8L157.2 268.5L156.5 268.1L156.0 267.8L155.5 267.4L155.0 267.0L154.5 266.4L154.0 265.8L153.5 265.0L153.3 264.5L153.0 263.8L152.8 263.0L152.6 262.0L152.5 261.0L152.5 261.0L152.5 260.0L152.7 259.0L152.9 258.0L153.1 257.5L153.5 256.5L153.7 256.0L154.0 255.5L154.5 254.7L155.0 254.0L155.3 253.5L155.7 253.0L156.1 252.5L156.6 252.0L157.1 251.5L157.6 251.0L158.2 250.5L158.8 250.0L159.5 249.5L160.0 249.2L160.5 248.9L161.4 248.5L162.0 248.3L162.8 248.0L163.5 247.9L164.5 247.8L165.5 247.8L166.4 248.0L167.0 248.2L167.5 248.5L168.2 249.0L168.7 249.5L169.1 250.0L169.5 250.6L170.0 251.5L170.1 252.0L170.4 253.0L170.5 253.5L170.7 254.5L170.7 255.5L170.7 256.5L170.7 257.5L170.5 258.5L170.5 259.0L170.2 260.0L170.0 260.9L169.8 261.5L169.5 262.4L169.2 263.0L169.0 263.5L168.5 264.5L168.2 265.0L167.8 265.5L167.4 266.0L166.9 266.5L166.4 267.0L165.8 267.5L165.1 268.0L164.5 268.3L164.0 268.5L163.0 268.9L162.5 269.0M161.0 268.0L160.1 268.0L159.5 267.9L158.5 267.7L158.0 267.5L157.1 267.0L156.5 266.6L156.0 266.2L155.5 265.7L155.0 265.1L154.6 264.5L154.4 264.0L154.0 263.0L153.9 262.5L153.7 261.5L153.6 260.5L153.7 259.5L153.9 258.5L154.0 258.0L154.4 257.0L154.6 256.5L155.0 255.8L155.5 255.0L155.9 254.5L156.2 254.0L156.7 253.5L157.1 253.0L157.6 252.5L158.1 252.0L158.7 251.5L159.3 251.0L160.0 250.6L160.5 250.3L161.0 250.0L162.0 249.6L162.5 249.4L163.5 249.2L164.5 249.2L165.5 249.3L166.1 249.5L167.0 250.0L167.5 250.4L168.0 250.9L168.4 251.5L168.7 252.0L169.0 252.6L169.3 253.5L169.5 254.5L169.6 255.0L169.6 256.0L169.6 257.0L169.5 258.0L169.5 258.5L169.3 259.5L169.0 260.5L168.9 261.0L168.5 262.0L168.3 262.5L168.0 263.2L167.5 264.0L167.2 264.5L166.8 265.0L166.4 265.5L165.8 266.0L165.2 266.5L164.5 267.0L164.0 267.2L163.4 267.5L162.5 267.8L161.5 268.0L161.0 268.0M163.0 266.5L162.0 266.8L161.0 266.9L160.0 266.9L159.0 266.6L158.5 266.5L157.6 266.0L157.0 265.6L156.5 265.1L156.0 264.5L155.6 264.0L155.4 263.5L155.0 262.6L154.8 262.0L154.7 261.0L154.7 260.0L154.8 259.0L155.0 258.2L155.3 257.5L155.5 256.9L156.0 256.0L156.3 255.5L156.7 255.0L157.0 254.5L157.5 254.0L158.0 253.4L158.5 252.9L159.0 252.5L159.7 252.0L160.4 251.5L161.0 251.2L161.5 251.0L162.5 250.6L163.2 250.5L164.0 250.5L164.6 250.5L165.5 250.7L166.1 251.0L166.7 251.5L167.2 252.0L167.6 252.5L168.0 253.3L168.3 254.0L168.5 255.0L168.6 255.5L168.6 256.5L168.6 257.5L168.5 258.5L168.4 259.0L168.2 260.0L168.0 260.7L167.7 261.5L167.5 262.0L167.0 263.0L166.7 263.5L166.4 264.0L165.9 264.5L165.4 265.0L164.8 265.5L164.1 266.0L163.5 266.3L163.0 266.5M162.5 265.6L161.5 265.8L160.5 265.8L159.5 265.6L159.0 265.4L158.1 265.0L157.5 264.5L157.0 264.0L156.6 263.5L156.3 263.0L156.0 262.2L155.8 261.5L155.7 260.5L155.7 259.5L155.9 258.5L156.1 258.0L156.5 257.0L156.8 256.5L157.1 256.0L157.5 255.4L158.0 254.8L158.5 254.3L159.0 253.8L159.5 253.4L160.0 253.0L160.8 252.5L161.5 252.2L162.0 252.0L163.0 251.8L164.0 251.8L165.0 252.0L165.5 252.3L166.0 252.6L166.5 253.2L167.0 254.0L167.2 254.5L167.5 255.5L167.6 256.0L167.6 257.0L167.6 258.0L167.5 258.8L167.4 259.5L167.1 260.5L166.9 261.0L166.5 261.9L166.2 262.5L165.9 263.0L165.5 263.5L165.0 264.0L164.5 264.5L163.7 265.0L163.0 265.4L162.5 265.6M162.0 264.6L161.0 264.7L160.0 264.6L159.5 264.4L158.7 264.0L158.1 263.5L157.6 263.0L157.3 262.5L157.0 261.8L156.8 261.0L156.7 260.0L156.8 259.0L157.0 258.3L157.3 257.5L157.6 257.0L158.0 256.4L158.5 255.7L159.0 255.1L159.5 254.7L160.0 254.3L160.5 253.9L161.2 253.5L162.0 253.2L163.0 253.0L164.0 253.1L164.9 253.5L165.5 254.0L165.9 254.5L166.1 255.0L166.5 256.0L166.6 256.5L166.6 257.5L166.6 258.5L166.5 259.0L166.2 260.0L166.0 260.7L165.7 261.5L165.4 262.0L165.0 262.6L164.5 263.1L164.0 263.6L163.4 264.0L162.5 264.4L162.0 264.6M161.5 263.6L160.5 263.5L160.0 263.4L159.2 263.0L158.7 262.5L158.3 262.0L158.0 261.4L157.8 260.5L157.7 259.5L158.0 258.5L158.2 258.0L158.5 257.3L159.0 256.6L159.5 256.0L160.0 255.5L160.5 255.1L161.0 254.8L161.7 254.5L162.5 254.3L163.5 254.4L164.0 254.6L164.6 255.0L165.0 255.5L165.4 256.5L165.5 257.0L165.6 258.0L165.5 259.0L165.4 259.5L165.1 260.5L164.9 261.0L164.5 261.6L164.0 262.2L163.5 262.7L163.0 263.1L162.0 263.5L161.5 263.6M162.5 262.1L161.5 262.5L160.5 262.4L159.8 262.0L159.3 261.5L159.0 261.0L158.7 260.0L158.8 259.0L159.0 258.4L159.5 257.5L159.9 257.0L160.4 256.5L161.0 256.1L161.5 255.8L162.5 255.6L163.5 255.8L164.0 256.3L164.4 257.0L164.5 257.5L164.6 258.5L164.5 259.1L164.3 260.0L164.0 260.6L163.5 261.3L163.0 261.8L162.5 262.1M162.0 261.1L161.5 261.2L161.0 261.2L160.5 261.0L160.5 261.0L160.1 260.5L160.0 260.3L159.9 260.0L159.9 259.5L159.9 259.0L160.0 258.8L160.1 258.5L160.5 258.0L160.5 257.9L160.9 257.5L161.0 257.5L161.5 257.2L162.0 257.0L162.5 257.1L163.0 257.4L163.1 257.5L163.3 258.0L163.4 258.5L163.4 259.0L163.3 259.5L163.1 260.0L163.0 260.2L162.8 260.5L162.5 260.8L162.2 261.0L162.0 261.1" stroke="#3a3a3a" stroke-width="0.95" fill="none" stroke-linejoin="round"/>
<path d="M162.0 289.5L161.0 289.6L160.0 289.6L159.0 289.6L158.0 289.6L157.0 289.5L156.5 289.5L155.5 289.3L154.5 289.2L153.7 289.0L153.0 288.8L152.0 288.6L151.5 288.4L150.5 288.1L150.0 287.9L149.1 287.5L148.5 287.3L148.0 287.0L147.0 286.5L146.5 286.2L146.0 285.9L145.3 285.5L144.6 285.0L144.0 284.6L143.5 284.2L143.0 283.8L142.5 283.4L142.0 283.0L141.5 282.5L141.0 282.0L140.5 281.5L140.0 281.0L139.5 280.4L139.0 279.8L138.5 279.1L138.1 278.5L137.7 278.0L137.4 277.5L137.0 276.9L136.5 276.0L136.2 275.5L136.0 275.0L135.5 274.0L135.3 273.5L135.0 272.8L134.7 272.0L134.5 271.3L134.2 270.5L134.0 269.6L133.8 269.0L133.6 268.0L133.5 267.1L133.4 266.5L133.3 265.5L133.2 264.5L133.2 263.5L133.2 262.5L133.2 261.5L133.3 260.5L133.5 259.5L133.6 259.0L133.7 258.0L134.0 257.0L134.1 256.5L134.4 255.5L134.6 255.0L135.0 254.0L135.2 253.5L135.5 252.9L135.9 252.0L136.2 251.5L136.5 250.9L137.0 250.1L137.4 249.5L137.7 249.0L138.0 248.5L138.5 247.9L139.0 247.2L139.5 246.5L139.9 246.0L140.3 245.5L140.7 245.0L141.1 244.5L141.6 244.0L142.0 243.5L142.5 242.9L143.0 242.3L143.5 241.8L144.0 241.2L144.5 240.7L145.0 240.1L145.5 239.6L146.0 239.1L146.5 238.6L147.0 238.1L147.5 237.5L148.0 237.0L148.5 236.6L149.0 236.1L149.5 235.6L150.0 235.1L150.5 234.7L151.0 234.2L151.5 233.8L152.0 233.3L152.5 232.9L153.0 232.5L153.6 232.0L154.2 231.5L154.9 231.0L155.5 230.6L156.0 230.2L156.5 229.9L157.0 229.5L157.8 229.0L158.5 228.6L159.0 228.3L159.5 228.0L160.4 227.5L161.0 227.2L161.5 227.0L162.5 226.5L163.0 226.3L163.7 226.0L164.5 225.7L165.2 225.5L166.0 225.3L167.0 225.0L167.5 224.9L168.5 224.7L169.5 224.6L170.5 224.5L171.0 224.5L172.0 224.5L172.5 224.5L173.5 224.6L174.5 224.8L175.5 225.0L176.0 225.1L177.0 225.5L177.5 225.7L178.3 226.0L179.0 226.4L179.5 226.7L180.0 227.0L180.7 227.5L181.3 228.0L181.9 228.5L182.4 229.0L182.9 229.5L183.3 230.0L183.7 230.5L184.1 231.0L184.5 231.6L185.0 232.4L185.3 233.0L185.6 233.5L186.0 234.4L186.3 235.0L186.5 235.6L186.8 236.5L187.0 237.0L187.3 238.0L187.5 238.9L187.7 239.5L187.9 240.5L188.0 241.4L188.1 242.0L188.2 243.0L188.3 244.0L188.4 245.0L188.4 246.0L188.4 247.0L188.4 248.0L188.4 249.0L188.4 250.0L188.3 251.0L188.2 252.0L188.1 253.0L188.0 254.0L188.0 254.5L187.9 255.5L187.7 256.5L187.6 257.5L187.5 258.0L187.3 259.0L187.1 260.0L187.0 260.7L186.9 261.5L186.7 262.5L186.5 263.2L186.3 264.0L186.1 265.0L186.0 265.5L185.8 266.5L185.5 267.5L185.4 268.0L185.1 269.0L185.0 269.5L184.7 270.5L184.5 271.0L184.2 272.0L184.0 272.5L183.6 273.5L183.4 274.0L183.0 275.0L182.7 275.5L182.5 276.0L182.0 276.9L181.7 277.5L181.3 278.0L181.0 278.5L180.5 279.2L180.0 279.9L179.5 280.5L179.1 281.0L178.6 281.5L178.1 282.0L177.6 282.5L177.1 283.0L176.5 283.5L176.0 283.9L175.5 284.3L175.0 284.7L174.5 285.0L173.8 285.5L173.0 286.0L172.5 286.3L172.0 286.5L171.1 287.0L170.5 287.3L169.9 287.5L169.0 287.9L168.5 288.1L167.5 288.4L167.0 288.5L166.0 288.8L165.2 289.0L164.5 289.2L163.5 289.3L162.5 289.5L162.0 289.5" stroke="#333" stroke-width="0.8" fill="none" stroke-linejoin="round"/>
<polygon points="134.8,153.9 151.9,140.5 187.3,138.7 218.5,142.7 239.3,164.0 234.0,197.3 162.0,198.7 140.1,189.3" fill="none" stroke="#555" stroke-width="0.9" stroke-linejoin="round"/>
<text x="170.6" y="100.8" font-size="17.5" textLength="62.5" lengthAdjust="spacingAndGlyphs" stroke="#111" stroke-width="0.55">CD4 (+)</text>
<text x="170.6" y="128.2" font-size="17.5" textLength="59.2" lengthAdjust="spacingAndGlyphs" stroke="#111" stroke-width="0.55">0.313%</text>
<rect x="413.3" y="46.7" width="252.9" height="254.1" fill="#fff" stroke="#151515" stroke-width="1.3"/>
<path d="M437.9 300.8v6.5M465.6 300.8v6.5M526.7 300.8v6.5M584.9 300.8v6.5M641.6 300.8v6.5M413.3 276.0h-7M413.3 248.3h-7M413.3 186.9h-7M413.3 128.4h-7M413.3 71.5h-7" stroke="#222" stroke-width="1.6" fill="none"/>
<path d="M484.0 300.8v3.4M494.7 300.8v3.4M502.4 300.8v3.4M508.3 300.8v3.4M513.1 300.8v3.4M517.2 300.8v3.4M520.8 300.8v3.4M523.9 300.8v3.4M544.2 300.8v3.4M554.4 300.8v3.4M561.7 300.8v3.4M567.3 300.8v3.4M572.0 300.8v3.4M575.8 300.8v3.4M579.2 300.8v3.4M582.2 300.8v3.4M601.9 300.8v3.4M611.9 300.8v3.4M619.0 300.8v3.4M624.5 300.8v3.4M629.0 300.8v3.4M632.8 300.8v3.4M636.1 300.8v3.4M639.0 300.8v3.4M658.6 300.8v3.4M416.8 300.8v3.4M420.2 300.8v3.4M423.6 300.8v3.4M427.0 300.8v3.4M430.4 300.8v3.4M433.8 300.8v3.4M440.6 300.8v3.4M444.0 300.8v3.4M447.4 300.8v3.4M450.8 300.8v3.4M454.2 300.8v3.4M457.6 300.8v3.4M461.0 300.8v3.4M464.4 300.8v3.4M413.3 229.8h-3.8M413.3 219.0h-3.8M413.3 211.3h-3.8M413.3 205.4h-3.8M413.3 200.5h-3.8M413.3 196.4h-3.8M413.3 192.8h-3.8M413.3 189.7h-3.8M413.3 169.3h-3.8M413.3 159.0h-3.8M413.3 151.7h-3.8M413.3 146.0h-3.8M413.3 141.4h-3.8M413.3 137.5h-3.8M413.3 134.1h-3.8M413.3 131.1h-3.8M413.3 111.3h-3.8M413.3 101.3h-3.8M413.3 94.1h-3.8M413.3 88.6h-3.8M413.3 84.1h-3.8M413.3 80.3h-3.8M413.3 77.0h-3.8M413.3 74.1h-3.8M413.3 54.3h-3.8M413.3 297.3h-3.8M413.3 293.9h-3.8M413.3 290.5h-3.8M413.3 287.1h-3.8M413.3 283.7h-3.8M413.3 280.3h-3.8M413.3 273.5h-3.8M413.3 270.1h-3.8M413.3 266.7h-3.8M413.3 263.3h-3.8M413.3 259.9h-3.8M413.3 256.5h-3.8M413.3 253.1h-3.8M413.3 249.7h-3.8" stroke="#222" stroke-width="1.2" fill="none"/>
<path d="M437.9 300.8v7M413.3 276.0h-7.5" stroke="#111" stroke-width="2" fill="none"/>
<g font-size="13.1" fill="#3c3c3c" stroke="#3c3c3c" stroke-width="0.2"><text x="431.6" y="338.7" text-anchor="middle">0</text><text x="459.1" y="338.7">10<tspan dx="0.8" dy="-10" font-size="12.3">2</tspan></text><text x="520.2" y="338.7">10<tspan dx="0.8" dy="-10" font-size="12.3">3</tspan></text><text x="578.4" y="338.7">10<tspan dx="0.8" dy="-10" font-size="12.3">4</tspan></text><text x="635.1" y="338.7">10<tspan dx="0.8" dy="-10" font-size="12.3">5</tspan></text><text x="387.8" y="283.0">0</text><text x="379.3" y="256.8">10<tspan dx="0.8" dy="-10" font-size="12.3">2</tspan></text><text x="379.3" y="195.4">10<tspan dx="0.8" dy="-10" font-size="12.3">3</tspan></text><text x="379.3" y="136.9">10<tspan dx="0.8" dy="-10" font-size="12.3">4</tspan></text><text x="379.3" y="80.0">10<tspan dx="0.8" dy="-10" font-size="12.3">5</tspan></text></g>
<text x="369.3" y="264.5" font-size="17.5" textLength="180.5" lengthAdjust="spacingAndGlyphs" transform="rotate(-90 369.3 264.5)" stroke="#111" stroke-width="0.55">PerCP-Cy5.5-anti-CD4</text>
<text x="475.5" y="360.8" font-size="17.5" textLength="128.5" lengthAdjust="spacingAndGlyphs" stroke="#111" stroke-width="0.55">A488-anti-Foxp3</text>
<path d="M426 202.5h1.2M427 263.5h1.2M431 274.5h1.2M433 277.5h1.2M437 207.5h1.2M438 285.5h1.2M439 271.5h1.2M440 210.5h1.2M440 237.5h1.2M441 165.5h1.2M441 261.5h1.2M441 270.5h1.2M442 219.5h1.2M442 267.5h1.2M443 279.5h1.2M444 146.5h1.2M444 164.5h1.2M444 167.5h1.2M444 205.5h1.2M444 269.5h1.2M445 242.5h1.2M445 264.5h1.2M445 267.5h1.2M446 169.5h1.2M446 236.5h1.2M446 253.5h1.2M446 265.5h1.2M446 268.5h1.2M446 274.5h1.2M446 298.5h1.2M447 164.5h1.2M447 190.5h1.2M447 195.5h1.2M447 222.5h1.2M448 163.5h1.2M448 211.5h1.2M448 242.5h1.2M448 272.5h1.2M449 130.5h1.2M449 144.5h1.2M449 167.5h1.2M449 171.5h1.2M449 208.5h1.2M449 246.5h1.2M449 247.5h1.2M449 260.5h1.2M449 261.5h1.2M449 267.5h1.2M449 270.5h1.2M450 159.5h1.2M450 174.5h1.2M450 193.5h1.2M450 211.5h1.2M450 227.5h1.2M450 234.5h1.2M450 242.5h1.2M450 246.5h1.2M450 250.5h1.2M450 260.5h1.2M450 271.5h1.2M450 272.5h1.2M450 286.5h1.2M451 158.5h1.2M451 159.5h1.2M451 165.5h1.2M451 169.5h1.2M451 174.5h1.2M451 201.5h1.2M451 208.5h1.2M451 215.5h1.2M451 222.5h1.2M451 224.5h1.2M451 232.5h1.2M451 234.5h1.2M451 238.5h1.2M451 254.5h1.2M451 259.5h1.2M451 264.5h1.2M451 265.5h1.2M451 277.5h1.2M452 163.5h1.2M452 177.5h1.2M452 183.5h1.2M452 198.5h1.2M452 217.5h1.2M452 233.5h1.2M452 243.5h1.2M452 255.5h1.2M452 256.5h1.2M452 258.5h1.2M452 263.5h1.2M452 287.5h1.2M453 142.5h1.2M453 155.5h1.2M453 162.5h1.2M453 166.5h1.2M453 167.5h1.2M453 170.5h1.2M453 178.5h1.2M453 182.5h1.2M453 195.5h1.2M453 220.5h1.2M453 221.5h1.2M453 223.5h1.2M453 237.5h1.2M453 241.5h1.2M453 242.5h1.2M453 246.5h1.2M453 247.5h1.2M453 248.5h1.2M453 253.5h1.2M453 255.5h1.2M453 256.5h1.2M453 257.5h1.2M453 258.5h1.2M453 259.5h1.2M453 261.5h1.2M453 262.5h1.2M453 267.5h1.2M453 270.5h1.2M453 271.5h1.2M453 274.5h1.2M453 281.5h1.2M454 151.5h1.2M454 158.5h1.2M454 160.5h1.2M454 161.5h1.2M454 171.5h1.2M454 176.5h1.2M454 183.5h1.2M454 191.5h1.2M454 198.5h1.2M454 199.5h1.2M454 206.5h1.2M454 224.5h1.2M454 233.5h1.2M454 234.5h1.2M454 235.5h1.2M454 244.5h1.2M454 248.5h1.2M454 249.5h1.2M454 252.5h1.2M454 253.5h1.2M454 255.5h1.2M454 257.5h1.2M454 258.5h1.2M454 259.5h1.2M454 263.5h1.2M454 268.5h1.2M454 271.5h1.2M454 272.5h1.2M454 296.5h1.2M455 125.5h1.2M455 146.5h1.2M455 161.5h1.2M455 164.5h1.2M455 168.5h1.2M455 169.5h1.2M455 176.5h1.2M455 178.5h1.2M455 191.5h1.2M455 194.5h1.2M455 207.5h1.2M455 225.5h1.2M455 230.5h1.2M455 240.5h1.2M455 243.5h1.2M455 244.5h1.2M455 245.5h1.2M455 247.5h1.2M455 248.5h1.2M455 249.5h1.2M455 253.5h1.2M455 254.5h1.2M455 256.5h1.2M455 257.5h1.2M455 259.5h1.2M455 260.5h1.2M455 265.5h1.2M455 266.5h1.2M455 271.5h1.2M455 285.5h1.2M456 137.5h1.2M456 151.5h1.2M456 153.5h1.2M456 157.5h1.2M456 159.5h1.2M456 160.5h1.2M456 163.5h1.2M456 164.5h1.2M456 165.5h1.2M456 169.5h1.2M456 170.5h1.2M456 171.5h1.2M456 181.5h1.2M456 190.5h1.2M456 194.5h1.2M456 224.5h1.2M456 225.5h1.2M456 235.5h1.2M456 241.5h1.2M456 245.5h1.2M456 246.5h1.2M456 251.5h1.2M456 255.5h1.2M456 261.5h1.2M456 264.5h1.2M456 274.5h1.2M456 280.5h1.2M457 137.5h1.2M457 154.5h1.2M457 157.5h1.2M457 158.5h1.2M457 159.5h1.2M457 161.5h1.2M457 164.5h1.2M457 166.5h1.2M457 181.5h1.2M457 183.5h1.2M457 203.5h1.2M457 219.5h1.2M457 232.5h1.2M457 233.5h1.2M457 236.5h1.2M457 238.5h1.2M457 242.5h1.2M457 245.5h1.2M457 246.5h1.2M457 247.5h1.2M457 249.5h1.2M457 250.5h1.2M457 251.5h1.2M457 252.5h1.2M457 254.5h1.2M457 255.5h1.2M457 256.5h1.2M457 257.5h1.2M457 258.5h1.2M457 260.5h1.2M457 261.5h1.2M457 262.5h1.2M457 265.5h1.2M457 267.5h1.2M457 271.5h1.2M457 272.5h1.2M458 151.5h1.2M458 157.5h1.2M458 159.5h1.2M458 160.5h1.2M458 162.5h1.2M458 163.5h1.2M458 166.5h1.2M458 169.5h1.2M458 173.5h1.2M458 175.5h1.2M458 181.5h1.2M458 183.5h1.2M458 190.5h1.2M458 196.5h1.2M458 208.5h1.2M458 221.5h1.2M458 232.5h1.2M458 233.5h1.2M458 235.5h1.2M458 236.5h1.2M458 240.5h1.2M458 241.5h1.2M458 242.5h1.2M458 243.5h1.2M458 244.5h1.2M458 246.5h1.2M458 247.5h1.2M458 249.5h1.2M458 250.5h1.2M458 251.5h1.2M458 252.5h1.2M458 253.5h1.2M458 255.5h1.2M458 256.5h1.2M458 257.5h1.2M458 258.5h1.2M458 259.5h1.2M458 260.5h1.2M458 261.5h1.2M458 262.5h1.2M458 264.5h1.2M458 267.5h1.2M458 268.5h1.2M458 270.5h1.2M458 275.5h1.2M458 283.5h1.2M459 148.5h1.2M459 150.5h1.2M459 156.5h1.2M459 157.5h1.2M459 158.5h1.2M459 159.5h1.2M459 161.5h1.2M459 162.5h1.2M459 165.5h1.2M459 166.5h1.2M459 167.5h1.2M459 168.5h1.2M459 170.5h1.2M459 176.5h1.2M459 182.5h1.2M459 184.5h1.2M459 186.5h1.2M459 189.5h1.2M459 198.5h1.2M459 199.5h1.2M459 204.5h1.2M459 206.5h1.2M459 207.5h1.2M459 213.5h1.2M459 214.5h1.2M459 216.5h1.2M459 227.5h1.2M459 232.5h1.2M459 233.5h1.2M459 239.5h1.2M459 242.5h1.2M459 245.5h1.2M459 247.5h1.2M459 249.5h1.2M459 252.5h1.2M459 253.5h1.2M459 255.5h1.2M459 256.5h1.2M459 257.5h1.2M459 259.5h1.2M459 260.5h1.2M459 262.5h1.2M459 263.5h1.2M459 264.5h1.2M459 267.5h1.2M459 268.5h1.2M459 270.5h1.2M459 271.5h1.2M459 272.5h1.2M459 279.5h1.2M459 284.5h1.2M459 286.5h1.2M459 287.5h1.2M460 147.5h1.2M460 151.5h1.2M460 153.5h1.2M460 154.5h1.2M460 156.5h1.2M460 157.5h1.2M460 160.5h1.2M460 161.5h1.2M460 164.5h1.2M460 165.5h1.2M460 169.5h1.2M460 170.5h1.2M460 178.5h1.2M460 179.5h1.2M460 184.5h1.2M460 187.5h1.2M460 190.5h1.2M460 195.5h1.2M460 207.5h1.2M460 210.5h1.2M460 211.5h1.2M460 216.5h1.2M460 223.5h1.2M460 229.5h1.2M460 232.5h1.2M460 236.5h1.2M460 237.5h1.2M460 238.5h1.2M460 239.5h1.2M460 240.5h1.2M460 241.5h1.2M460 242.5h1.2M460 243.5h1.2M460 244.5h1.2M460 245.5h1.2M460 264.5h1.2M460 265.5h1.2M460 266.5h1.2M460 267.5h1.2M460 268.5h1.2M460 269.5h1.2M460 273.5h1.2M460 280.5h1.2M460 292.5h1.2M460 295.5h1.2M461 145.5h1.2M461 155.5h1.2M461 156.5h1.2M461 157.5h1.2M461 158.5h1.2M461 172.5h1.2M461 173.5h1.2M461 174.5h1.2M461 175.5h1.2M461 182.5h1.2M461 188.5h1.2M461 198.5h1.2M461 207.5h1.2M461 210.5h1.2M461 212.5h1.2M461 214.5h1.2M461 215.5h1.2M461 219.5h1.2M461 220.5h1.2M461 225.5h1.2M461 227.5h1.2M461 229.5h1.2M461 232.5h1.2M461 233.5h1.2M461 234.5h1.2M461 235.5h1.2M461 236.5h1.2M461 238.5h1.2M461 239.5h1.2M461 240.5h1.2M461 243.5h1.2M461 268.5h1.2M461 269.5h1.2M461 270.5h1.2M461 271.5h1.2M461 272.5h1.2M461 273.5h1.2M461 274.5h1.2M461 275.5h1.2M461 277.5h1.2M461 278.5h1.2M461 280.5h1.2M461 281.5h1.2M461 286.5h1.2M462 151.5h1.2M462 152.5h1.2M462 154.5h1.2M462 155.5h1.2M462 156.5h1.2M462 157.5h1.2M462 174.5h1.2M462 175.5h1.2M462 181.5h1.2M462 182.5h1.2M462 184.5h1.2M462 191.5h1.2M462 194.5h1.2M462 195.5h1.2M462 201.5h1.2M462 202.5h1.2M462 207.5h1.2M462 213.5h1.2M462 215.5h1.2M462 223.5h1.2M462 226.5h1.2M462 227.5h1.2M462 229.5h1.2M462 231.5h1.2M462 233.5h1.2M462 235.5h1.2M462 237.5h1.2M462 238.5h1.2M462 269.5h1.2M462 271.5h1.2M462 272.5h1.2M462 273.5h1.2M462 275.5h1.2M462 279.5h1.2M462 286.5h1.2M462 299.5h1.2M463 133.5h1.2M463 140.5h1.2M463 142.5h1.2M463 151.5h1.2M463 152.5h1.2M463 153.5h1.2M463 154.5h1.2M463 175.5h1.2M463 179.5h1.2M463 183.5h1.2M463 193.5h1.2M463 203.5h1.2M463 205.5h1.2M463 206.5h1.2M463 210.5h1.2M463 211.5h1.2M463 216.5h1.2M463 218.5h1.2M463 221.5h1.2M463 222.5h1.2M463 223.5h1.2M463 225.5h1.2M463 226.5h1.2M463 227.5h1.2M463 228.5h1.2M463 229.5h1.2M463 231.5h1.2M463 232.5h1.2M463 233.5h1.2M463 234.5h1.2M463 235.5h1.2M463 236.5h1.2M463 271.5h1.2M463 272.5h1.2M463 273.5h1.2M463 274.5h1.2M463 275.5h1.2M463 276.5h1.2M463 278.5h1.2M463 279.5h1.2M463 280.5h1.2M463 283.5h1.2M463 285.5h1.2M464 145.5h1.2M464 146.5h1.2M464 147.5h1.2M464 149.5h1.2M464 150.5h1.2M464 154.5h1.2M464 177.5h1.2M464 182.5h1.2M464 199.5h1.2M464 206.5h1.2M464 208.5h1.2M464 209.5h1.2M464 211.5h1.2M464 212.5h1.2M464 216.5h1.2M464 217.5h1.2M464 220.5h1.2M464 221.5h1.2M464 227.5h1.2M464 228.5h1.2M464 231.5h1.2M464 232.5h1.2M464 272.5h1.2M464 273.5h1.2M464 274.5h1.2M464 275.5h1.2M464 277.5h1.2M464 279.5h1.2M464 280.5h1.2M464 282.5h1.2M464 283.5h1.2M464 284.5h1.2M464 285.5h1.2M464 292.5h1.2M465 141.5h1.2M465 152.5h1.2M465 153.5h1.2M465 178.5h1.2M465 179.5h1.2M465 183.5h1.2M465 185.5h1.2M465 189.5h1.2M465 196.5h1.2M465 199.5h1.2M465 205.5h1.2M465 209.5h1.2M465 211.5h1.2M465 213.5h1.2M465 214.5h1.2M465 215.5h1.2M465 216.5h1.2M465 217.5h1.2M465 220.5h1.2M465 222.5h1.2M465 223.5h1.2M465 226.5h1.2M465 227.5h1.2M465 228.5h1.2M465 229.5h1.2M465 230.5h1.2M465 231.5h1.2M465 232.5h1.2M465 233.5h1.2M465 274.5h1.2M465 275.5h1.2M465 276.5h1.2M465 277.5h1.2M465 278.5h1.2M465 279.5h1.2M465 281.5h1.2M465 282.5h1.2M465 287.5h1.2M465 288.5h1.2M466 147.5h1.2M466 149.5h1.2M466 150.5h1.2M466 151.5h1.2M466 179.5h1.2M466 180.5h1.2M466 196.5h1.2M466 197.5h1.2M466 198.5h1.2M466 203.5h1.2M466 207.5h1.2M466 210.5h1.2M466 211.5h1.2M466 212.5h1.2M466 213.5h1.2M466 214.5h1.2M466 215.5h1.2M466 218.5h1.2M466 221.5h1.2M466 222.5h1.2M466 223.5h1.2M466 224.5h1.2M466 226.5h1.2M466 227.5h1.2M466 228.5h1.2M466 229.5h1.2M466 230.5h1.2M466 231.5h1.2M466 232.5h1.2M466 276.5h1.2M466 277.5h1.2M466 279.5h1.2M466 281.5h1.2M466 282.5h1.2M466 283.5h1.2M467 148.5h1.2M467 150.5h1.2M467 179.5h1.2M467 185.5h1.2M467 188.5h1.2M467 189.5h1.2M467 196.5h1.2M467 199.5h1.2M467 205.5h1.2M467 210.5h1.2M467 212.5h1.2M467 213.5h1.2M467 217.5h1.2M467 221.5h1.2M467 222.5h1.2M467 223.5h1.2M467 226.5h1.2M467 227.5h1.2M467 228.5h1.2M467 229.5h1.2M467 230.5h1.2M467 280.5h1.2M467 281.5h1.2M467 282.5h1.2M467 284.5h1.2M467 285.5h1.2M467 286.5h1.2M467 288.5h1.2M467 292.5h1.2M468 148.5h1.2M468 181.5h1.2M468 182.5h1.2M468 185.5h1.2M468 187.5h1.2M468 189.5h1.2M468 191.5h1.2M468 195.5h1.2M468 200.5h1.2M468 202.5h1.2M468 205.5h1.2M468 207.5h1.2M468 208.5h1.2M468 211.5h1.2M468 212.5h1.2M468 213.5h1.2M468 214.5h1.2M468 217.5h1.2M468 219.5h1.2M468 220.5h1.2M468 221.5h1.2M468 223.5h1.2M468 224.5h1.2M468 225.5h1.2M468 226.5h1.2M468 227.5h1.2M468 228.5h1.2M468 229.5h1.2M468 278.5h1.2M468 279.5h1.2M468 280.5h1.2M468 282.5h1.2M468 290.5h1.2M469 142.5h1.2M469 144.5h1.2M469 147.5h1.2M469 148.5h1.2M469 149.5h1.2M469 181.5h1.2M469 182.5h1.2M469 185.5h1.2M469 197.5h1.2M469 198.5h1.2M469 201.5h1.2M469 202.5h1.2M469 206.5h1.2M469 207.5h1.2M469 208.5h1.2M469 209.5h1.2M469 211.5h1.2M469 213.5h1.2M469 214.5h1.2M469 215.5h1.2M469 216.5h1.2M469 218.5h1.2M469 221.5h1.2M469 222.5h1.2M469 223.5h1.2M469 224.5h1.2M469 225.5h1.2M469 226.5h1.2M469 228.5h1.2M469 280.5h1.2M469 281.5h1.2M469 282.5h1.2M469 284.5h1.2M469 288.5h1.2M469 290.5h1.2M469 291.5h1.2M469 293.5h1.2M470 134.5h1.2M470 137.5h1.2M470 146.5h1.2M470 147.5h1.2M470 181.5h1.2M470 182.5h1.2M470 183.5h1.2M470 184.5h1.2M470 185.5h1.2M470 195.5h1.2M470 196.5h1.2M470 199.5h1.2M470 206.5h1.2M470 207.5h1.2M470 208.5h1.2M470 209.5h1.2M470 213.5h1.2M470 216.5h1.2M470 217.5h1.2M470 219.5h1.2M470 220.5h1.2M470 222.5h1.2M470 224.5h1.2M470 225.5h1.2M470 226.5h1.2M470 280.5h1.2M470 281.5h1.2M470 282.5h1.2M470 283.5h1.2M470 286.5h1.2M470 288.5h1.2M471 144.5h1.2M471 145.5h1.2M471 182.5h1.2M471 183.5h1.2M471 185.5h1.2M471 190.5h1.2M471 192.5h1.2M471 195.5h1.2M471 205.5h1.2M471 207.5h1.2M471 208.5h1.2M471 210.5h1.2M471 211.5h1.2M471 213.5h1.2M471 215.5h1.2M471 216.5h1.2M471 217.5h1.2M471 218.5h1.2M471 219.5h1.2M471 220.5h1.2M471 221.5h1.2M471 222.5h1.2M471 223.5h1.2M471 224.5h1.2M471 225.5h1.2M471 281.5h1.2M471 282.5h1.2M471 283.5h1.2M471 284.5h1.2M471 285.5h1.2M471 286.5h1.2M471 291.5h1.2M471 293.5h1.2M472 140.5h1.2M472 141.5h1.2M472 146.5h1.2M472 147.5h1.2M472 148.5h1.2M472 182.5h1.2M472 185.5h1.2M472 189.5h1.2M472 192.5h1.2M472 193.5h1.2M472 198.5h1.2M472 199.5h1.2M472 201.5h1.2M472 202.5h1.2M472 203.5h1.2M472 204.5h1.2M472 205.5h1.2M472 206.5h1.2M472 209.5h1.2M472 210.5h1.2M472 212.5h1.2M472 213.5h1.2M472 214.5h1.2M472 215.5h1.2M472 217.5h1.2M472 219.5h1.2M472 220.5h1.2M472 221.5h1.2M472 222.5h1.2M472 224.5h1.2M472 282.5h1.2M472 283.5h1.2M472 284.5h1.2M472 285.5h1.2M472 286.5h1.2M472 287.5h1.2M472 291.5h1.2M473 141.5h1.2M473 143.5h1.2M473 144.5h1.2M473 145.5h1.2M473 184.5h1.2M473 185.5h1.2M473 188.5h1.2M473 189.5h1.2M473 190.5h1.2M473 191.5h1.2M473 194.5h1.2M473 196.5h1.2M473 201.5h1.2M473 204.5h1.2M473 207.5h1.2M473 208.5h1.2M473 209.5h1.2M473 211.5h1.2M473 212.5h1.2M473 213.5h1.2M473 217.5h1.2M473 218.5h1.2M473 219.5h1.2M473 220.5h1.2M473 221.5h1.2M473 222.5h1.2M473 223.5h1.2M473 224.5h1.2M473 282.5h1.2M473 283.5h1.2M473 286.5h1.2M473 288.5h1.2M473 293.5h1.2M474 138.5h1.2M474 139.5h1.2M474 143.5h1.2M474 147.5h1.2M474 182.5h1.2M474 183.5h1.2M474 185.5h1.2M474 192.5h1.2M474 197.5h1.2M474 200.5h1.2M474 202.5h1.2M474 203.5h1.2M474 204.5h1.2M474 205.5h1.2M474 206.5h1.2M474 209.5h1.2M474 211.5h1.2M474 213.5h1.2M474 214.5h1.2M474 215.5h1.2M474 217.5h1.2M474 218.5h1.2M474 219.5h1.2M474 221.5h1.2M474 222.5h1.2M474 286.5h1.2M474 287.5h1.2M474 290.5h1.2M474 292.5h1.2M475 147.5h1.2M475 183.5h1.2M475 185.5h1.2M475 187.5h1.2M475 190.5h1.2M475 195.5h1.2M475 199.5h1.2M475 200.5h1.2M475 201.5h1.2M475 203.5h1.2M475 204.5h1.2M475 205.5h1.2M475 207.5h1.2M475 208.5h1.2M475 209.5h1.2M475 212.5h1.2M475 213.5h1.2M475 214.5h1.2M475 215.5h1.2M475 217.5h1.2M475 218.5h1.2M475 219.5h1.2M475 220.5h1.2M475 284.5h1.2M475 286.5h1.2M475 287.5h1.2M475 288.5h1.2M475 289.5h1.2M475 296.5h1.2M475 298.5h1.2M476 145.5h1.2M476 147.5h1.2M476 183.5h1.2M476 197.5h1.2M476 200.5h1.2M476 201.5h1.2M476 202.5h1.2M476 203.5h1.2M476 205.5h1.2M476 208.5h1.2M476 209.5h1.2M476 211.5h1.2M476 214.5h1.2M476 215.5h1.2M476 217.5h1.2M476 219.5h1.2M476 220.5h1.2M476 284.5h1.2M476 286.5h1.2M476 289.5h1.2M477 134.5h1.2M477 145.5h1.2M477 146.5h1.2M477 147.5h1.2M477 183.5h1.2M477 184.5h1.2M477 187.5h1.2M477 188.5h1.2M477 189.5h1.2M477 190.5h1.2M477 192.5h1.2M477 193.5h1.2M477 194.5h1.2M477 195.5h1.2M477 196.5h1.2M477 199.5h1.2M477 200.5h1.2M477 204.5h1.2M477 205.5h1.2M477 206.5h1.2M477 209.5h1.2M477 210.5h1.2M477 212.5h1.2M477 213.5h1.2M477 214.5h1.2M477 215.5h1.2M477 216.5h1.2M477 217.5h1.2M477 218.5h1.2M477 220.5h1.2M477 286.5h1.2M477 287.5h1.2M477 288.5h1.2M477 290.5h1.2M477 293.5h1.2M477 295.5h1.2M478 140.5h1.2M478 145.5h1.2M478 146.5h1.2M478 183.5h1.2M478 184.5h1.2M478 185.5h1.2M478 187.5h1.2M478 190.5h1.2M478 194.5h1.2M478 195.5h1.2M478 196.5h1.2M478 198.5h1.2M478 200.5h1.2M478 203.5h1.2M478 205.5h1.2M478 206.5h1.2M478 207.5h1.2M478 208.5h1.2M478 209.5h1.2M478 211.5h1.2M478 212.5h1.2M478 213.5h1.2M478 214.5h1.2M478 215.5h1.2M478 216.5h1.2M478 217.5h1.2M478 218.5h1.2M478 219.5h1.2M478 285.5h1.2M478 288.5h1.2M478 297.5h1.2M479 138.5h1.2M479 139.5h1.2M479 143.5h1.2M479 145.5h1.2M479 183.5h1.2M479 187.5h1.2M479 188.5h1.2M479 194.5h1.2M479 196.5h1.2M479 197.5h1.2M479 202.5h1.2M479 203.5h1.2M479 205.5h1.2M479 206.5h1.2M479 207.5h1.2M479 208.5h1.2M479 209.5h1.2M479 210.5h1.2M479 211.5h1.2M479 213.5h1.2M479 214.5h1.2M479 215.5h1.2M479 216.5h1.2M479 218.5h1.2M479 219.5h1.2M479 285.5h1.2M479 286.5h1.2M479 289.5h1.2M479 293.5h1.2M480 145.5h1.2M480 146.5h1.2M480 147.5h1.2M480 183.5h1.2M480 184.5h1.2M480 186.5h1.2M480 187.5h1.2M480 189.5h1.2M480 192.5h1.2M480 199.5h1.2M480 201.5h1.2M480 202.5h1.2M480 204.5h1.2M480 205.5h1.2M480 207.5h1.2M480 208.5h1.2M480 210.5h1.2M480 211.5h1.2M480 212.5h1.2M480 213.5h1.2M480 214.5h1.2M480 215.5h1.2M480 217.5h1.2M480 218.5h1.2M480 219.5h1.2M480 220.5h1.2M480 286.5h1.2M480 287.5h1.2M480 288.5h1.2M480 289.5h1.2M480 290.5h1.2M480 291.5h1.2M480 297.5h1.2M481 146.5h1.2M481 182.5h1.2M481 184.5h1.2M481 186.5h1.2M481 188.5h1.2M481 193.5h1.2M481 194.5h1.2M481 195.5h1.2M481 200.5h1.2M481 202.5h1.2M481 203.5h1.2M481 205.5h1.2M481 207.5h1.2M481 212.5h1.2M481 213.5h1.2M481 214.5h1.2M481 215.5h1.2M481 216.5h1.2M481 218.5h1.2M481 219.5h1.2M481 220.5h1.2M481 286.5h1.2M481 287.5h1.2M482 131.5h1.2M482 136.5h1.2M482 142.5h1.2M482 143.5h1.2M482 144.5h1.2M482 145.5h1.2M482 146.5h1.2M482 147.5h1.2M482 148.5h1.2M482 182.5h1.2M482 183.5h1.2M482 185.5h1.2M482 188.5h1.2M482 199.5h1.2M482 200.5h1.2M482 204.5h1.2M482 205.5h1.2M482 206.5h1.2M482 207.5h1.2M482 208.5h1.2M482 209.5h1.2M482 211.5h1.2M482 212.5h1.2M482 213.5h1.2M482 214.5h1.2M482 215.5h1.2M482 216.5h1.2M482 217.5h1.2M482 218.5h1.2M482 219.5h1.2M482 220.5h1.2M482 288.5h1.2M482 291.5h1.2M482 292.5h1.2M482 295.5h1.2M483 139.5h1.2M483 142.5h1.2M483 147.5h1.2M483 148.5h1.2M483 181.5h1.2M483 183.5h1.2M483 184.5h1.2M483 189.5h1.2M483 190.5h1.2M483 191.5h1.2M483 197.5h1.2M483 200.5h1.2M483 201.5h1.2M483 203.5h1.2M483 207.5h1.2M483 211.5h1.2M483 212.5h1.2M483 213.5h1.2M483 214.5h1.2M483 216.5h1.2M483 218.5h1.2M483 219.5h1.2M483 220.5h1.2M483 221.5h1.2M483 286.5h1.2M483 287.5h1.2M483 288.5h1.2M483 289.5h1.2M483 291.5h1.2M483 292.5h1.2M483 293.5h1.2M483 294.5h1.2M483 296.5h1.2M483 297.5h1.2M483 298.5h1.2M484 140.5h1.2M484 145.5h1.2M484 146.5h1.2M484 182.5h1.2M484 183.5h1.2M484 184.5h1.2M484 185.5h1.2M484 189.5h1.2M484 190.5h1.2M484 191.5h1.2M484 199.5h1.2M484 203.5h1.2M484 206.5h1.2M484 209.5h1.2M484 210.5h1.2M484 211.5h1.2M484 213.5h1.2M484 214.5h1.2M484 216.5h1.2M484 217.5h1.2M484 218.5h1.2M484 219.5h1.2M484 220.5h1.2M484 221.5h1.2M484 286.5h1.2M484 287.5h1.2M484 288.5h1.2M484 294.5h1.2M485 138.5h1.2M485 142.5h1.2M485 144.5h1.2M485 145.5h1.2M485 150.5h1.2M485 180.5h1.2M485 181.5h1.2M485 184.5h1.2M485 193.5h1.2M485 199.5h1.2M485 200.5h1.2M485 205.5h1.2M485 207.5h1.2M485 209.5h1.2M485 213.5h1.2M485 215.5h1.2M485 216.5h1.2M485 217.5h1.2M485 218.5h1.2M485 219.5h1.2M485 221.5h1.2M485 222.5h1.2M485 287.5h1.2M485 289.5h1.2M485 290.5h1.2M485 291.5h1.2M486 146.5h1.2M486 147.5h1.2M486 148.5h1.2M486 150.5h1.2M486 181.5h1.2M486 189.5h1.2M486 192.5h1.2M486 193.5h1.2M486 198.5h1.2M486 199.5h1.2M486 200.5h1.2M486 206.5h1.2M486 208.5h1.2M486 210.5h1.2M486 211.5h1.2M486 212.5h1.2M486 214.5h1.2M486 216.5h1.2M486 217.5h1.2M486 218.5h1.2M486 219.5h1.2M486 220.5h1.2M486 221.5h1.2M486 222.5h1.2M486 287.5h1.2M486 288.5h1.2M486 289.5h1.2M486 292.5h1.2M486 293.5h1.2M486 296.5h1.2M486 297.5h1.2M487 131.5h1.2M487 140.5h1.2M487 144.5h1.2M487 149.5h1.2M487 151.5h1.2M487 179.5h1.2M487 180.5h1.2M487 181.5h1.2M487 182.5h1.2M487 191.5h1.2M487 194.5h1.2M487 195.5h1.2M487 198.5h1.2M487 201.5h1.2M487 203.5h1.2M487 204.5h1.2M487 208.5h1.2M487 211.5h1.2M487 212.5h1.2M487 215.5h1.2M487 217.5h1.2M487 218.5h1.2M487 219.5h1.2M487 220.5h1.2M487 221.5h1.2M487 222.5h1.2M487 287.5h1.2M487 290.5h1.2M487 292.5h1.2M487 294.5h1.2M487 295.5h1.2M488 145.5h1.2M488 149.5h1.2M488 152.5h1.2M488 177.5h1.2M488 179.5h1.2M488 181.5h1.2M488 184.5h1.2M488 193.5h1.2M488 196.5h1.2M488 205.5h1.2M488 208.5h1.2M488 209.5h1.2M488 212.5h1.2M488 214.5h1.2M488 216.5h1.2M488 220.5h1.2M488 221.5h1.2M488 223.5h1.2M488 287.5h1.2M488 288.5h1.2M488 289.5h1.2M488 291.5h1.2M488 292.5h1.2M488 293.5h1.2M488 294.5h1.2M489 141.5h1.2M489 152.5h1.2M489 153.5h1.2M489 179.5h1.2M489 180.5h1.2M489 184.5h1.2M489 192.5h1.2M489 201.5h1.2M489 203.5h1.2M489 204.5h1.2M489 205.5h1.2M489 206.5h1.2M489 207.5h1.2M489 211.5h1.2M489 212.5h1.2M489 213.5h1.2M489 216.5h1.2M489 218.5h1.2M489 219.5h1.2M489 220.5h1.2M489 221.5h1.2M489 222.5h1.2M489 223.5h1.2M489 287.5h1.2M489 290.5h1.2M489 293.5h1.2M490 146.5h1.2M490 147.5h1.2M490 148.5h1.2M490 151.5h1.2M490 152.5h1.2M490 153.5h1.2M490 154.5h1.2M490 178.5h1.2M490 180.5h1.2M490 190.5h1.2M490 199.5h1.2M490 201.5h1.2M490 210.5h1.2M490 211.5h1.2M490 212.5h1.2M490 213.5h1.2M490 215.5h1.2M490 219.5h1.2M490 221.5h1.2M490 222.5h1.2M490 287.5h1.2M490 288.5h1.2M490 291.5h1.2M490 294.5h1.2M490 295.5h1.2M490 296.5h1.2M490 298.5h1.2M491 138.5h1.2M491 139.5h1.2M491 153.5h1.2M491 154.5h1.2M491 156.5h1.2M491 174.5h1.2M491 176.5h1.2M491 177.5h1.2M491 182.5h1.2M491 184.5h1.2M491 186.5h1.2M491 188.5h1.2M491 204.5h1.2M491 205.5h1.2M491 206.5h1.2M491 207.5h1.2M491 208.5h1.2M491 216.5h1.2M491 217.5h1.2M491 218.5h1.2M491 219.5h1.2M491 220.5h1.2M491 221.5h1.2M491 223.5h1.2M491 224.5h1.2M491 287.5h1.2M491 288.5h1.2M491 293.5h1.2M491 296.5h1.2M492 143.5h1.2M492 144.5h1.2M492 147.5h1.2M492 148.5h1.2M492 152.5h1.2M492 154.5h1.2M492 156.5h1.2M492 158.5h1.2M492 160.5h1.2M492 171.5h1.2M492 173.5h1.2M492 178.5h1.2M492 179.5h1.2M492 186.5h1.2M492 187.5h1.2M492 199.5h1.2M492 202.5h1.2M492 203.5h1.2M492 204.5h1.2M492 208.5h1.2M492 209.5h1.2M492 214.5h1.2M492 215.5h1.2M492 219.5h1.2M492 221.5h1.2M492 222.5h1.2M492 223.5h1.2M492 224.5h1.2M492 287.5h1.2M492 288.5h1.2M492 291.5h1.2M492 293.5h1.2M493 132.5h1.2M493 134.5h1.2M493 151.5h1.2M493 152.5h1.2M493 154.5h1.2M493 155.5h1.2M493 156.5h1.2M493 160.5h1.2M493 163.5h1.2M493 164.5h1.2M493 165.5h1.2M493 166.5h1.2M493 168.5h1.2M493 169.5h1.2M493 172.5h1.2M493 173.5h1.2M493 176.5h1.2M493 179.5h1.2M493 181.5h1.2M493 188.5h1.2M493 189.5h1.2M493 191.5h1.2M493 196.5h1.2M493 208.5h1.2M493 209.5h1.2M493 214.5h1.2M493 215.5h1.2M493 218.5h1.2M493 222.5h1.2M493 223.5h1.2M493 288.5h1.2M493 289.5h1.2M493 294.5h1.2M494 150.5h1.2M494 156.5h1.2M494 157.5h1.2M494 158.5h1.2M494 159.5h1.2M494 162.5h1.2M494 164.5h1.2M494 165.5h1.2M494 167.5h1.2M494 168.5h1.2M494 169.5h1.2M494 172.5h1.2M494 173.5h1.2M494 175.5h1.2M494 177.5h1.2M494 178.5h1.2M494 180.5h1.2M494 184.5h1.2M494 188.5h1.2M494 190.5h1.2M494 199.5h1.2M494 203.5h1.2M494 205.5h1.2M494 206.5h1.2M494 209.5h1.2M494 212.5h1.2M494 213.5h1.2M494 221.5h1.2M494 222.5h1.2M494 224.5h1.2M494 225.5h1.2M494 286.5h1.2M494 287.5h1.2M494 288.5h1.2M494 289.5h1.2M494 290.5h1.2M494 297.5h1.2M495 148.5h1.2M495 149.5h1.2M495 151.5h1.2M495 156.5h1.2M495 157.5h1.2M495 164.5h1.2M495 165.5h1.2M495 167.5h1.2M495 169.5h1.2M495 170.5h1.2M495 171.5h1.2M495 172.5h1.2M495 175.5h1.2M495 178.5h1.2M495 179.5h1.2M495 180.5h1.2M495 181.5h1.2M495 182.5h1.2M495 198.5h1.2M495 203.5h1.2M495 205.5h1.2M495 208.5h1.2M495 211.5h1.2M495 214.5h1.2M495 216.5h1.2M495 217.5h1.2M495 218.5h1.2M495 220.5h1.2M495 224.5h1.2M495 225.5h1.2M495 287.5h1.2M495 288.5h1.2M495 290.5h1.2M495 291.5h1.2M495 295.5h1.2M495 298.5h1.2M496 153.5h1.2M496 155.5h1.2M496 158.5h1.2M496 159.5h1.2M496 161.5h1.2M496 166.5h1.2M496 167.5h1.2M496 168.5h1.2M496 169.5h1.2M496 171.5h1.2M496 173.5h1.2M496 190.5h1.2M496 192.5h1.2M496 207.5h1.2M496 208.5h1.2M496 214.5h1.2M496 216.5h1.2M496 217.5h1.2M496 219.5h1.2M496 220.5h1.2M496 221.5h1.2M496 222.5h1.2M496 223.5h1.2M496 224.5h1.2M496 225.5h1.2M496 285.5h1.2M496 286.5h1.2M496 288.5h1.2M496 289.5h1.2M496 295.5h1.2M497 155.5h1.2M497 159.5h1.2M497 162.5h1.2M497 164.5h1.2M497 167.5h1.2M497 168.5h1.2M497 169.5h1.2M497 172.5h1.2M497 174.5h1.2M497 175.5h1.2M497 176.5h1.2M497 181.5h1.2M497 191.5h1.2M497 195.5h1.2M497 205.5h1.2M497 213.5h1.2M497 214.5h1.2M497 222.5h1.2M497 223.5h1.2M497 224.5h1.2M497 225.5h1.2M497 285.5h1.2M497 286.5h1.2M497 288.5h1.2M497 291.5h1.2M497 293.5h1.2M497 297.5h1.2M498 151.5h1.2M498 155.5h1.2M498 160.5h1.2M498 162.5h1.2M498 163.5h1.2M498 167.5h1.2M498 169.5h1.2M498 172.5h1.2M498 179.5h1.2M498 183.5h1.2M498 185.5h1.2M498 186.5h1.2M498 215.5h1.2M498 218.5h1.2M498 219.5h1.2M498 221.5h1.2M498 222.5h1.2M498 223.5h1.2M498 225.5h1.2M498 226.5h1.2M498 227.5h1.2M498 286.5h1.2M498 287.5h1.2M498 289.5h1.2M498 290.5h1.2M498 291.5h1.2M498 293.5h1.2M499 157.5h1.2M499 158.5h1.2M499 160.5h1.2M499 165.5h1.2M499 166.5h1.2M499 167.5h1.2M499 168.5h1.2M499 173.5h1.2M499 177.5h1.2M499 178.5h1.2M499 181.5h1.2M499 210.5h1.2M499 213.5h1.2M499 215.5h1.2M499 220.5h1.2M499 222.5h1.2M499 223.5h1.2M499 225.5h1.2M499 226.5h1.2M499 227.5h1.2M499 287.5h1.2M499 290.5h1.2M499 293.5h1.2M499 294.5h1.2M500 151.5h1.2M500 161.5h1.2M500 162.5h1.2M500 166.5h1.2M500 167.5h1.2M500 172.5h1.2M500 209.5h1.2M500 211.5h1.2M500 225.5h1.2M500 226.5h1.2M500 227.5h1.2M500 285.5h1.2M500 287.5h1.2M500 289.5h1.2M500 292.5h1.2M501 147.5h1.2M501 148.5h1.2M501 161.5h1.2M501 165.5h1.2M501 167.5h1.2M501 179.5h1.2M501 204.5h1.2M501 205.5h1.2M501 208.5h1.2M501 209.5h1.2M501 211.5h1.2M501 218.5h1.2M501 221.5h1.2M501 223.5h1.2M501 224.5h1.2M501 225.5h1.2M501 284.5h1.2M501 285.5h1.2M501 286.5h1.2M501 288.5h1.2M501 289.5h1.2M501 290.5h1.2M501 293.5h1.2M502 148.5h1.2M502 176.5h1.2M502 195.5h1.2M502 211.5h1.2M502 212.5h1.2M502 215.5h1.2M502 221.5h1.2M502 224.5h1.2M502 225.5h1.2M502 226.5h1.2M502 227.5h1.2M502 228.5h1.2M502 229.5h1.2M502 283.5h1.2M502 284.5h1.2M502 285.5h1.2M502 287.5h1.2M502 288.5h1.2M502 291.5h1.2M502 294.5h1.2M502 295.5h1.2M503 147.5h1.2M503 149.5h1.2M503 163.5h1.2M503 165.5h1.2M503 173.5h1.2M503 181.5h1.2M503 184.5h1.2M503 193.5h1.2M503 198.5h1.2M503 201.5h1.2M503 216.5h1.2M503 224.5h1.2M503 225.5h1.2M503 226.5h1.2M503 227.5h1.2M503 228.5h1.2M503 229.5h1.2M503 283.5h1.2M503 284.5h1.2M503 286.5h1.2M503 287.5h1.2M503 289.5h1.2M504 144.5h1.2M504 167.5h1.2M504 173.5h1.2M504 200.5h1.2M504 205.5h1.2M504 207.5h1.2M504 221.5h1.2M504 222.5h1.2M504 225.5h1.2M504 227.5h1.2M504 229.5h1.2M504 230.5h1.2M504 282.5h1.2M504 283.5h1.2M504 284.5h1.2M504 285.5h1.2M505 154.5h1.2M505 160.5h1.2M505 164.5h1.2M505 169.5h1.2M505 171.5h1.2M505 174.5h1.2M505 175.5h1.2M505 202.5h1.2M505 215.5h1.2M505 218.5h1.2M505 220.5h1.2M505 225.5h1.2M505 228.5h1.2M505 231.5h1.2M505 282.5h1.2M505 283.5h1.2M505 284.5h1.2M505 285.5h1.2M505 287.5h1.2M506 153.5h1.2M506 158.5h1.2M506 162.5h1.2M506 163.5h1.2M506 165.5h1.2M506 222.5h1.2M506 225.5h1.2M506 226.5h1.2M506 227.5h1.2M506 230.5h1.2M506 231.5h1.2M506 232.5h1.2M506 280.5h1.2M506 282.5h1.2M506 283.5h1.2M506 284.5h1.2M506 285.5h1.2M506 287.5h1.2M507 160.5h1.2M507 172.5h1.2M507 173.5h1.2M507 209.5h1.2M507 215.5h1.2M507 225.5h1.2M507 226.5h1.2M507 228.5h1.2M507 229.5h1.2M507 230.5h1.2M507 231.5h1.2M507 232.5h1.2M507 279.5h1.2M507 280.5h1.2M507 281.5h1.2M507 283.5h1.2M508 166.5h1.2M508 169.5h1.2M508 170.5h1.2M508 192.5h1.2M508 226.5h1.2M508 228.5h1.2M508 230.5h1.2M508 231.5h1.2M508 232.5h1.2M508 233.5h1.2M508 278.5h1.2M508 280.5h1.2M508 281.5h1.2M508 283.5h1.2M508 284.5h1.2M508 286.5h1.2M508 287.5h1.2M508 296.5h1.2M508 299.5h1.2M509 143.5h1.2M509 168.5h1.2M509 221.5h1.2M509 222.5h1.2M509 223.5h1.2M509 229.5h1.2M509 230.5h1.2M509 231.5h1.2M509 232.5h1.2M509 233.5h1.2M509 235.5h1.2M509 277.5h1.2M509 278.5h1.2M509 279.5h1.2M509 281.5h1.2M509 282.5h1.2M509 283.5h1.2M509 286.5h1.2M510 152.5h1.2M510 171.5h1.2M510 172.5h1.2M510 198.5h1.2M510 210.5h1.2M510 222.5h1.2M510 227.5h1.2M510 228.5h1.2M510 229.5h1.2M510 230.5h1.2M510 233.5h1.2M510 234.5h1.2M510 235.5h1.2M510 236.5h1.2M510 276.5h1.2M510 277.5h1.2M510 278.5h1.2M510 279.5h1.2M510 281.5h1.2M510 282.5h1.2M510 283.5h1.2M510 291.5h1.2M511 176.5h1.2M511 181.5h1.2M511 219.5h1.2M511 221.5h1.2M511 226.5h1.2M511 229.5h1.2M511 232.5h1.2M511 233.5h1.2M511 234.5h1.2M511 235.5h1.2M511 236.5h1.2M511 237.5h1.2M511 238.5h1.2M511 275.5h1.2M511 276.5h1.2M511 277.5h1.2M511 279.5h1.2M511 281.5h1.2M511 283.5h1.2M512 146.5h1.2M512 166.5h1.2M512 170.5h1.2M512 192.5h1.2M512 222.5h1.2M512 225.5h1.2M512 228.5h1.2M512 233.5h1.2M512 234.5h1.2M512 235.5h1.2M512 237.5h1.2M512 238.5h1.2M512 239.5h1.2M512 273.5h1.2M512 274.5h1.2M512 275.5h1.2M512 277.5h1.2M512 278.5h1.2M512 279.5h1.2M512 282.5h1.2M512 285.5h1.2M512 287.5h1.2M512 292.5h1.2M513 167.5h1.2M513 219.5h1.2M513 227.5h1.2M513 232.5h1.2M513 233.5h1.2M513 235.5h1.2M513 236.5h1.2M513 237.5h1.2M513 238.5h1.2M513 240.5h1.2M513 241.5h1.2M513 272.5h1.2M513 274.5h1.2M513 275.5h1.2M513 282.5h1.2M513 284.5h1.2M514 222.5h1.2M514 225.5h1.2M514 227.5h1.2M514 230.5h1.2M514 234.5h1.2M514 235.5h1.2M514 236.5h1.2M514 237.5h1.2M514 238.5h1.2M514 239.5h1.2M514 240.5h1.2M514 241.5h1.2M514 242.5h1.2M514 243.5h1.2M514 270.5h1.2M514 271.5h1.2M514 273.5h1.2M514 274.5h1.2M514 276.5h1.2M514 278.5h1.2M514 287.5h1.2M515 160.5h1.2M515 162.5h1.2M515 210.5h1.2M515 232.5h1.2M515 233.5h1.2M515 237.5h1.2M515 238.5h1.2M515 241.5h1.2M515 243.5h1.2M515 244.5h1.2M515 245.5h1.2M515 268.5h1.2M515 270.5h1.2M515 271.5h1.2M515 272.5h1.2M515 273.5h1.2M515 274.5h1.2M515 275.5h1.2M515 276.5h1.2M515 282.5h1.2M515 283.5h1.2M515 291.5h1.2M516 138.5h1.2M516 173.5h1.2M516 205.5h1.2M516 221.5h1.2M516 226.5h1.2M516 229.5h1.2M516 230.5h1.2M516 235.5h1.2M516 237.5h1.2M516 239.5h1.2M516 243.5h1.2M516 244.5h1.2M516 245.5h1.2M516 246.5h1.2M516 247.5h1.2M516 248.5h1.2M516 266.5h1.2M516 267.5h1.2M516 268.5h1.2M516 269.5h1.2M516 270.5h1.2M516 272.5h1.2M516 274.5h1.2M516 278.5h1.2M516 288.5h1.2M517 142.5h1.2M517 163.5h1.2M517 197.5h1.2M517 222.5h1.2M517 228.5h1.2M517 236.5h1.2M517 237.5h1.2M517 240.5h1.2M517 241.5h1.2M517 242.5h1.2M517 244.5h1.2M517 246.5h1.2M517 250.5h1.2M517 251.5h1.2M517 252.5h1.2M517 254.5h1.2M517 257.5h1.2M517 260.5h1.2M517 262.5h1.2M517 263.5h1.2M517 264.5h1.2M517 265.5h1.2M517 266.5h1.2M517 267.5h1.2M517 268.5h1.2M517 269.5h1.2M517 272.5h1.2M517 274.5h1.2M517 278.5h1.2M517 282.5h1.2M518 186.5h1.2M518 221.5h1.2M518 229.5h1.2M518 234.5h1.2M518 236.5h1.2M518 237.5h1.2M518 239.5h1.2M518 242.5h1.2M518 244.5h1.2M518 245.5h1.2M518 246.5h1.2M518 247.5h1.2M518 248.5h1.2M518 250.5h1.2M518 251.5h1.2M518 252.5h1.2M518 253.5h1.2M518 254.5h1.2M518 255.5h1.2M518 257.5h1.2M518 259.5h1.2M518 262.5h1.2M518 264.5h1.2M518 265.5h1.2M518 266.5h1.2M518 268.5h1.2M518 272.5h1.2M518 274.5h1.2M518 276.5h1.2M518 277.5h1.2M518 286.5h1.2M519 158.5h1.2M519 236.5h1.2M519 238.5h1.2M519 239.5h1.2M519 242.5h1.2M519 243.5h1.2M519 245.5h1.2M519 246.5h1.2M519 247.5h1.2M519 251.5h1.2M519 255.5h1.2M519 256.5h1.2M519 257.5h1.2M519 259.5h1.2M519 260.5h1.2M519 261.5h1.2M519 262.5h1.2M519 264.5h1.2M519 266.5h1.2M519 267.5h1.2M519 269.5h1.2M519 272.5h1.2M519 273.5h1.2M519 283.5h1.2M520 155.5h1.2M520 157.5h1.2M520 164.5h1.2M520 170.5h1.2M520 219.5h1.2M520 238.5h1.2M520 240.5h1.2M520 241.5h1.2M520 245.5h1.2M520 246.5h1.2M520 247.5h1.2M520 251.5h1.2M520 252.5h1.2M520 253.5h1.2M520 254.5h1.2M520 255.5h1.2M520 256.5h1.2M520 257.5h1.2M520 260.5h1.2M520 261.5h1.2M520 262.5h1.2M520 263.5h1.2M520 265.5h1.2M520 266.5h1.2M520 267.5h1.2M520 269.5h1.2M520 270.5h1.2M520 272.5h1.2M520 274.5h1.2M520 277.5h1.2M521 181.5h1.2M521 188.5h1.2M521 227.5h1.2M521 230.5h1.2M521 238.5h1.2M521 240.5h1.2M521 244.5h1.2M521 245.5h1.2M521 246.5h1.2M521 247.5h1.2M521 252.5h1.2M521 256.5h1.2M521 257.5h1.2M521 258.5h1.2M521 259.5h1.2M521 260.5h1.2M521 261.5h1.2M521 262.5h1.2M521 263.5h1.2M521 264.5h1.2M521 265.5h1.2M521 266.5h1.2M521 269.5h1.2M521 270.5h1.2M521 271.5h1.2M521 273.5h1.2M521 278.5h1.2M521 281.5h1.2M521 282.5h1.2M522 161.5h1.2M522 175.5h1.2M522 181.5h1.2M522 225.5h1.2M522 232.5h1.2M522 248.5h1.2M522 251.5h1.2M522 252.5h1.2M522 255.5h1.2M522 258.5h1.2M522 262.5h1.2M522 263.5h1.2M522 265.5h1.2M522 266.5h1.2M522 267.5h1.2M522 271.5h1.2M522 274.5h1.2M522 277.5h1.2M522 280.5h1.2M523 247.5h1.2M523 252.5h1.2M523 255.5h1.2M523 256.5h1.2M523 257.5h1.2M523 261.5h1.2M523 262.5h1.2M523 267.5h1.2M523 274.5h1.2M523 283.5h1.2M524 152.5h1.2M524 224.5h1.2M524 234.5h1.2M524 235.5h1.2M524 240.5h1.2M524 250.5h1.2M524 252.5h1.2M524 266.5h1.2M524 267.5h1.2M525 171.5h1.2M525 228.5h1.2M525 243.5h1.2M525 250.5h1.2M525 254.5h1.2M525 255.5h1.2M525 258.5h1.2M525 262.5h1.2M525 264.5h1.2M525 265.5h1.2M525 269.5h1.2M525 270.5h1.2M525 273.5h1.2M526 230.5h1.2M526 234.5h1.2M526 242.5h1.2M526 250.5h1.2M526 258.5h1.2M526 266.5h1.2M526 277.5h1.2M527 187.5h1.2M527 236.5h1.2M527 267.5h1.2M528 157.5h1.2M528 246.5h1.2M528 260.5h1.2M528 262.5h1.2M528 272.5h1.2M528 274.5h1.2M529 232.5h1.2M529 267.5h1.2M530 166.5h1.2M530 217.5h1.2M530 248.5h1.2M530 249.5h1.2M530 264.5h1.2M530 265.5h1.2M530 271.5h1.2M530 275.5h1.2M531 148.5h1.2M531 166.5h1.2M531 227.5h1.2M531 244.5h1.2M531 247.5h1.2M531 258.5h1.2M531 259.5h1.2M531 260.5h1.2M531 283.5h1.2M532 223.5h1.2M532 248.5h1.2M533 147.5h1.2M534 271.5h1.2M536 152.5h1.2M536 166.5h1.2M536 171.5h1.2M537 256.5h1.2M538 158.5h1.2M538 174.5h1.2M539 255.5h1.2M540 259.5h1.2M541 270.5h1.2M542 169.5h1.2M543 177.5h1.2M549 237.5h1.2M551 178.5h1.2M554 165.5h1.2M559 188.5h1.2M561 166.5h1.2M561 258.5h1.2M577 177.5h1.2M580 107.5h1.2M590 247.5h1.2" stroke="#141414" stroke-width="1.25" fill="none"/>
<path d="M491.3 274.7L489.8 275.0L488.3 275.1L486.8 275.0L485.3 274.9L484.3 274.7L482.8 274.3L481.8 274.0L480.8 273.5L479.8 273.1L478.8 272.5L477.8 271.9L476.9 271.2L476.3 270.7L475.3 269.8L474.7 269.2L473.8 268.2L473.3 267.6L472.7 266.7L472.0 265.7L471.4 264.7L470.9 263.7L470.5 262.7L470.1 261.7L469.7 260.7L469.3 259.2L469.1 258.2L468.8 256.7L468.7 255.7L468.6 254.2L468.5 252.7L468.6 251.2L468.7 249.7L468.9 248.7L469.2 247.2L469.5 246.2L469.8 245.2L470.3 243.9L470.8 242.8L471.3 241.8L471.8 240.9L472.3 240.2L473.0 239.2L473.8 238.2L474.3 237.7L475.3 236.7L475.8 236.2L476.8 235.4L477.8 234.7L478.8 234.2L479.8 233.8L480.8 233.5L482.3 233.3L483.8 233.3L485.3 233.4L486.8 233.6L487.8 233.8L489.3 234.1L490.3 234.4L491.3 234.8L492.3 235.2L493.4 235.7L494.4 236.2L495.3 236.7L496.3 237.4L497.3 238.1L498.1 238.7L498.8 239.3L499.7 240.2L500.3 240.8L501.1 241.7L501.8 242.6L502.3 243.3L502.9 244.2L503.5 245.2L504.0 246.2L504.5 247.2L504.9 248.2L505.3 249.4L505.7 250.7L505.9 251.7L506.1 253.2L506.3 254.7L506.3 256.2L506.2 257.7L506.0 259.2L505.8 260.2L505.4 261.7L505.0 262.7L504.6 263.7L504.2 264.7L503.6 265.7L503.0 266.7L502.3 267.7L501.8 268.4L501.1 269.2L500.3 270.0L499.5 270.7L498.8 271.3L497.8 272.0L496.8 272.7L495.8 273.2L494.8 273.7L493.8 274.1L492.8 274.4L491.5 274.7Z" fill="#222" fill-opacity="0.035" stroke="none"/>
<path d="M491.3 272.3L489.8 272.6L488.3 272.7L486.8 272.6L485.3 272.5L484.1 272.2L482.8 271.8L481.8 271.4L480.8 271.0L479.8 270.4L478.8 269.8L478.0 269.2L477.3 268.6L476.4 267.7L475.8 267.1L475.0 266.2L474.3 265.2L473.8 264.5L473.3 263.6L472.8 262.7L472.3 261.6L471.8 260.2L471.5 259.2L471.2 258.2L470.9 256.7L470.7 255.7L470.6 254.2L470.6 252.7L470.6 251.2L470.8 249.8L471.0 248.7L471.3 247.3L471.6 246.2L472.0 245.2L472.4 244.2L473.0 243.2L473.6 242.2L474.2 241.2L474.8 240.5L475.5 239.7L476.3 238.9L477.1 238.2L477.8 237.7L478.8 237.1L479.8 236.6L480.8 236.2L482.3 235.8L483.7 235.7L484.8 235.7L485.8 235.8L487.3 236.0L488.4 236.2L489.8 236.6L490.8 236.9L491.8 237.3L492.8 237.8L493.8 238.3L494.8 238.9L495.8 239.6L496.5 240.2L497.3 240.9L498.2 241.7L498.8 242.4L499.5 243.2L500.3 244.2L500.8 244.9L501.3 245.8L501.8 246.7L502.3 247.7L502.8 248.9L503.2 250.2L503.5 251.2L503.8 252.7L503.9 253.7L504.0 255.2L504.0 256.7L503.8 258.2L503.7 259.2L503.3 260.7L503.0 261.7L502.6 262.7L502.1 263.7L501.5 264.7L500.9 265.7L500.3 266.5L499.7 267.2L498.8 268.2L498.2 268.7L497.3 269.5L496.3 270.2L495.4 270.7L494.5 271.2L493.3 271.7L492.3 272.0L491.3 272.3Z" fill="#222" fill-opacity="0.035" stroke="none"/>
<path d="M491.3 270.2L489.8 270.5L488.3 270.7L486.8 270.6L485.3 270.4L484.2 270.2L482.8 269.7L481.8 269.3L480.8 268.8L479.9 268.2L479.2 267.7L478.3 267.0L477.5 266.2L476.8 265.5L476.2 264.7L475.5 263.7L474.8 262.7L474.3 261.7L473.8 260.7L473.4 259.7L473.1 258.7L472.8 257.5L472.5 256.2L472.3 254.7L472.3 253.7L472.3 252.2L472.3 251.2L472.5 249.7L472.8 248.4L473.1 247.2L473.5 246.2L473.9 245.2L474.5 244.2L475.1 243.2L475.8 242.2L476.3 241.6L477.2 240.7L477.8 240.2L478.8 239.4L479.8 238.8L480.8 238.4L481.8 238.0L483.3 237.7L484.3 237.7L485.8 237.7L486.8 237.8L488.3 238.1L489.3 238.3L490.4 238.7L491.6 239.2L492.6 239.7L493.4 240.2L494.3 240.8L495.3 241.5L496.1 242.2L496.8 242.9L497.6 243.7L498.3 244.5L498.8 245.2L499.5 246.2L500.0 247.2L500.5 248.2L501.0 249.2L501.3 250.2L501.7 251.7L501.9 252.7L502.1 254.2L502.2 255.7L502.1 257.2L501.8 258.7L501.6 259.7L501.3 260.7L500.8 262.0L500.3 263.0L499.8 263.9L499.2 264.7L498.5 265.7L497.8 266.4L497.0 267.2L496.3 267.8L495.3 268.5L494.3 269.1L493.3 269.5L492.3 269.9L491.3 270.2Z" fill="#222" fill-opacity="0.035" stroke="none"/>
<path d="M489.8 268.8L488.3 268.9L486.8 268.9L485.3 268.7L484.3 268.5L483.3 268.1L482.3 267.7L481.3 267.2L480.3 266.5L479.3 265.7L478.7 265.2L477.8 264.2L477.3 263.6L476.6 262.7L476.0 261.7L475.5 260.7L475.1 259.7L474.7 258.7L474.3 257.4L474.0 256.2L473.8 254.7L473.8 253.7L473.8 252.2L473.8 251.2L474.0 249.7L474.3 248.6L474.8 247.2L475.2 246.2L475.7 245.2L476.3 244.2L476.8 243.5L477.5 242.7L478.3 241.9L479.2 241.2L480.0 240.7L481.0 240.2L482.3 239.7L483.3 239.5L484.8 239.3L486.3 239.4L487.8 239.6L488.8 239.8L489.9 240.2L491.1 240.7L492.1 241.2L492.9 241.7L493.8 242.3L494.8 243.1L495.5 243.7L496.3 244.6L496.9 245.2L497.6 246.2L498.3 247.2L498.8 248.2L499.3 249.2L499.7 250.2L500.0 251.2L500.3 252.6L500.5 253.7L500.5 255.2L500.5 256.7L500.3 258.0L500.0 259.2L499.7 260.2L499.3 261.2L498.8 262.2L498.2 263.2L497.5 264.2L496.8 265.0L496.1 265.7L495.3 266.4L494.3 267.1L493.3 267.6L492.3 268.1L491.3 268.4L490.3 268.7Z" fill="#222" fill-opacity="0.035" stroke="none"/>
<path d="M489.3 267.2L487.8 267.4L486.3 267.3L485.3 267.1L483.9 266.7L482.8 266.2L481.8 265.7L481.1 265.2L480.3 264.6L479.3 263.7L478.8 263.1L478.0 262.2L477.4 261.2L476.8 260.2L476.3 259.2L476.0 258.2L475.7 257.2L475.3 255.7L475.2 254.7L475.1 253.2L475.2 251.7L475.3 250.5L475.6 249.2L475.9 248.2L476.3 247.2L476.8 246.2L477.4 245.2L478.2 244.2L478.8 243.5L479.8 242.7L480.5 242.2L481.5 241.7L482.8 241.2L483.8 241.0L485.3 240.9L486.8 240.9L488.2 241.2L489.3 241.5L490.3 241.9L491.3 242.4L492.3 243.0L493.3 243.7L493.9 244.2L494.8 245.0L495.4 245.7L496.2 246.7L496.8 247.5L497.3 248.4L497.8 249.4L498.3 250.7L498.6 251.7L498.8 252.7L499.0 254.2L499.1 255.7L498.9 257.2L498.7 258.2L498.3 259.6L497.9 260.7L497.3 261.7L496.8 262.5L496.3 263.2L495.4 264.2L494.8 264.7L493.8 265.5L492.8 266.1L491.8 266.6L490.8 266.9L489.6 267.2Z" fill="#222" fill-opacity="0.035" stroke="none"/>
<path d="M489.3 265.8L487.8 265.9L486.3 265.8L485.3 265.6L484.0 265.2L482.9 264.7L482.1 264.2L481.3 263.7L480.3 262.8L479.7 262.2L478.9 261.2L478.3 260.2L477.8 259.3L477.3 258.2L477.0 257.2L476.7 256.2L476.4 254.7L476.3 253.2L476.4 251.7L476.7 250.2L476.9 249.2L477.3 248.1L477.8 247.1L478.3 246.2L479.1 245.2L479.8 244.5L480.8 243.7L481.7 243.2L482.8 242.7L483.8 242.4L485.3 242.3L486.8 242.3L488.3 242.6L489.3 242.9L490.3 243.4L491.3 243.9L492.3 244.6L493.1 245.2L493.8 245.9L494.6 246.7L495.3 247.6L495.8 248.4L496.3 249.3L496.8 250.4L497.2 251.7L497.5 252.7L497.7 254.2L497.7 255.7L497.5 257.2L497.3 258.2L496.8 259.6L496.3 260.7L495.8 261.5L495.3 262.2L494.4 263.2L493.8 263.7L492.8 264.4L491.8 265.0L490.8 265.4L489.6 265.7Z" fill="#222" fill-opacity="0.035" stroke="none"/>
<path d="M489.8 264.3L488.3 264.6L486.8 264.5L485.3 264.3L484.3 264.0L483.3 263.5L482.3 262.9L481.5 262.2L480.8 261.6L480.0 260.7L479.3 259.7L478.8 258.7L478.3 257.7L478.0 256.7L477.7 255.7L477.5 254.2L477.5 252.7L477.6 251.2L477.8 250.2L478.3 248.8L478.8 247.8L479.3 247.0L479.9 246.2L480.8 245.3L481.7 244.7L482.6 244.2L483.8 243.8L484.8 243.6L486.3 243.6L487.5 243.7L488.8 244.1L489.8 244.5L490.8 245.0L491.8 245.7L492.5 246.2L493.3 247.0L493.9 247.7L494.6 248.7L495.2 249.7L495.6 250.7L496.0 251.7L496.3 252.9L496.5 254.2L496.5 255.7L496.3 257.0L496.0 258.2L495.6 259.2L495.1 260.2L494.4 261.2L493.8 261.9L492.9 262.7L492.2 263.2L491.3 263.7L490.1 264.2Z" fill="#222" fill-opacity="0.035" stroke="none"/>
<path d="M488.3 263.2L486.8 263.2L485.8 263.1L484.6 262.7L483.6 262.2L482.8 261.7L481.8 260.9L481.2 260.2L480.4 259.2L479.8 258.2L479.4 257.2L479.0 256.2L478.8 255.2L478.6 253.7L478.7 252.2L478.8 251.2L479.2 249.7L479.7 248.7L480.3 247.7L480.8 247.1L481.8 246.2L482.5 245.7L483.6 245.2L484.8 244.9L486.3 244.8L487.8 245.0L488.8 245.3L489.8 245.8L490.8 246.4L491.8 247.2L492.3 247.7L493.2 248.7L493.8 249.6L494.3 250.6L494.8 251.7L495.0 252.7L495.3 254.2L495.2 255.7L495.0 257.2L494.7 258.2L494.2 259.2L493.5 260.2L492.8 261.1L492.1 261.7L491.3 262.2L490.3 262.7L488.8 263.1Z" fill="#222" fill-opacity="0.035" stroke="none"/>
<path d="M489.3 261.8L487.8 262.1L486.3 262.0L485.2 261.7L484.1 261.2L483.3 260.7L482.3 259.8L481.7 259.2L481.0 258.2L480.5 257.2L480.1 256.2L479.8 255.0L479.7 253.7L479.7 252.2L479.9 251.2L480.3 250.0L480.8 249.0L481.4 248.2L482.3 247.3L483.2 246.7L484.3 246.2L485.3 246.0L486.8 246.0L487.8 246.2L489.2 246.7L490.1 247.2L490.8 247.7L491.8 248.7L492.3 249.3L492.9 250.2L493.4 251.2L493.8 252.2L494.1 253.7L494.2 255.2L494.0 256.7L493.6 257.7L493.2 258.7L492.4 259.7L491.8 260.4L490.8 261.1L489.8 261.6Z" fill="#222" fill-opacity="0.035" stroke="none"/>
<path d="M488.3 260.8L486.8 260.9L485.8 260.7L484.6 260.2L483.8 259.7L482.8 258.8L482.3 258.2L481.6 257.2L481.2 256.2L480.8 254.8L480.7 253.7L480.8 252.2L481.0 251.2L481.4 250.2L482.0 249.2L482.8 248.4L483.8 247.7L484.8 247.3L485.8 247.1L487.2 247.2L488.3 247.5L489.3 248.0L490.3 248.7L490.9 249.2L491.7 250.2L492.3 251.2L492.7 252.2L493.0 253.2L493.1 254.7L492.9 256.2L492.6 257.2L492.1 258.2L491.3 259.2L490.8 259.7L489.8 260.3L488.8 260.7Z" fill="#222" fill-opacity="0.035" stroke="none"/>
<path d="M487.3 259.7L486.3 259.6L485.1 259.2L484.3 258.7L483.3 257.8L482.8 257.1L482.3 256.2L481.8 254.7L481.7 253.7L481.8 252.4L482.1 251.2L482.7 250.2L483.3 249.5L484.3 248.7L485.3 248.4L486.8 248.3L488.3 248.7L489.2 249.2L489.9 249.7L490.8 250.7L491.3 251.6L491.8 252.7L492.0 253.7L492.0 255.2L491.8 256.2L491.3 257.3L490.7 258.2L489.8 258.9L488.8 259.4L487.5 259.7Z" fill="#222" fill-opacity="0.035" stroke="none"/>
<path d="M488.3 258.3L486.8 258.5L485.6 258.2L484.8 257.7L483.8 256.7L483.3 255.9L482.9 254.7L482.7 253.7L482.8 252.7L483.3 251.3L483.8 250.6L484.8 249.8L485.8 249.5L487.3 249.5L488.3 249.9L489.3 250.6L489.8 251.2L490.4 252.2L490.8 253.2L490.9 254.7L490.8 255.7L490.3 256.8L489.5 257.7L488.7 258.2Z" fill="#222" fill-opacity="0.035" stroke="none"/>
<path d="M487.8 257.3L486.3 257.2L485.3 256.7L484.7 256.2L484.1 255.2L483.8 253.9L483.8 253.2L484.3 251.8L484.8 251.2L485.8 250.7L487.3 250.7L488.3 251.2L488.9 251.7L489.5 252.7L489.8 253.7L489.8 255.0L489.3 256.2L488.8 256.7L487.8 257.3Z" fill="#222" fill-opacity="0.035" stroke="none"/>
<path d="M487.8 255.8L487.3 256.0L486.8 256.0L486.3 255.9L485.9 255.7L485.8 255.6L485.4 255.2L485.3 255.0L485.1 254.7L485.0 254.2L485.0 253.7L485.0 253.2L485.2 252.7L485.3 252.6L485.7 252.2L485.8 252.1L486.3 251.9L486.8 251.9L487.3 252.0L487.7 252.2L487.8 252.3L488.2 252.7L488.3 252.8L488.5 253.2L488.7 253.7L488.7 254.2L488.6 254.7L488.4 255.2L488.3 255.4L488.0 255.7L487.8 255.8Z" fill="#222" fill-opacity="0.035" stroke="none"/>
<path d="M490.3 286.2L489.3 286.3L488.3 286.3L487.3 286.3L486.3 286.3L485.3 286.2L484.8 286.1L483.8 286.0L482.8 285.8L482.1 285.7L481.3 285.5L480.3 285.2L479.8 285.1L478.8 284.7L478.3 284.6L477.4 284.2L476.8 283.9L476.3 283.7L475.3 283.2L474.8 283.0L474.3 282.7L473.5 282.2L472.8 281.7L472.3 281.4L471.8 281.1L471.3 280.7L470.7 280.2L470.1 279.7L469.5 279.2L469.0 278.7L468.4 278.2L467.9 277.7L467.5 277.2L467.0 276.7L466.6 276.2L466.2 275.7L465.8 275.2L465.3 274.6L464.8 273.8L464.4 273.2L464.0 272.7L463.7 272.2L463.3 271.4L462.9 270.7L462.6 270.2L462.3 269.5L461.9 268.7L461.7 268.2L461.3 267.2L461.1 266.7L460.8 265.8L460.6 265.2L460.3 264.2L460.2 263.7L459.9 262.7L459.8 262.2L459.6 261.2L459.4 260.2L459.3 259.6L459.2 258.7L459.1 257.7L459.0 256.7L458.9 255.7L458.9 254.7L458.9 253.7L458.9 252.7L458.9 251.7L459.0 250.7L459.1 249.7L459.2 248.7L459.3 247.9L459.4 247.2L459.6 246.2L459.8 245.2L459.9 244.7L460.1 243.7L460.3 243.1L460.6 242.2L460.8 241.5L461.1 240.7L461.3 240.1L461.6 239.2L461.9 238.7L462.3 237.7L462.5 237.2L462.8 236.7L463.3 235.8L463.6 235.2L463.9 234.7L464.3 234.1L464.8 233.3L465.2 232.7L465.6 232.2L466.0 231.7L466.4 231.2L466.8 230.7L467.3 230.1L467.8 229.5L468.3 228.9L468.8 228.3L469.3 227.7L469.7 227.2L470.1 226.7L470.5 226.2L470.9 225.7L471.3 225.2L471.8 224.5L472.3 223.9L472.8 223.2L473.2 222.7L473.7 222.2L474.1 221.7L474.7 221.2L475.3 220.7L475.8 220.4L476.3 220.1L477.3 219.7L477.8 219.6L478.8 219.6L479.7 219.7L480.3 219.8L481.3 220.2L481.8 220.4L482.6 220.7L483.3 221.1L483.8 221.3L484.6 221.7L485.3 222.0L485.8 222.2L486.8 222.6L487.3 222.8L488.3 223.2L488.8 223.3L489.8 223.6L490.3 223.8L491.3 224.1L491.8 224.2L492.8 224.5L493.3 224.7L494.3 225.0L494.8 225.2L495.8 225.6L496.3 225.8L497.1 226.2L497.8 226.5L498.3 226.8L499.2 227.2L499.8 227.5L500.3 227.8L500.9 228.2L501.7 228.7L502.3 229.1L502.8 229.4L503.3 229.8L503.9 230.2L504.5 230.7L505.2 231.2L505.7 231.7L506.3 232.2L506.8 232.6L507.3 233.1L507.8 233.6L508.3 234.1L508.8 234.7L509.3 235.2L509.7 235.7L510.1 236.2L510.5 236.7L510.8 237.2L511.3 237.8L511.8 238.6L512.2 239.2L512.5 239.7L512.8 240.2L513.3 241.1L513.6 241.7L513.9 242.2L514.3 243.2L514.5 243.7L514.8 244.3L515.1 245.2L515.3 245.7L515.6 246.7L515.8 247.3L516.0 248.2L516.3 249.2L516.4 249.7L516.6 250.7L516.7 251.7L516.8 252.4L516.9 253.2L517.0 254.2L517.0 255.2L517.0 256.2L517.0 257.2L516.9 258.2L516.8 259.2L516.8 259.7L516.6 260.7L516.5 261.7L516.3 262.5L516.1 263.2L515.9 264.2L515.7 264.7L515.4 265.7L515.3 266.2L514.9 267.2L514.7 267.7L514.3 268.7L514.1 269.2L513.8 269.7L513.3 270.7L513.0 271.2L512.8 271.7L512.3 272.5L511.8 273.2L511.5 273.7L511.1 274.2L510.8 274.7L510.3 275.3L509.8 275.9L509.3 276.5L508.8 277.1L508.3 277.6L507.8 278.1L507.3 278.6L506.8 279.0L506.3 279.5L505.8 279.9L505.3 280.3L504.7 280.7L504.1 281.2L503.3 281.7L502.8 282.0L502.3 282.3L501.7 282.7L500.8 283.2L500.3 283.4L499.7 283.7L498.8 284.1L498.3 284.3L497.3 284.7L496.8 284.9L495.8 285.2L495.3 285.3L494.3 285.6L493.8 285.7L492.8 285.9L491.8 286.1L490.8 286.2L490.3 286.2M487.8 281.7L487.3 281.7L486.3 281.6L485.3 281.5L484.3 281.4L483.3 281.2L482.8 281.1L481.8 280.9L481.3 280.7L480.3 280.4L479.8 280.2L478.8 279.8L478.3 279.6L477.5 279.2L476.8 278.8L476.3 278.6L475.7 278.2L474.9 277.7L474.3 277.3L473.8 276.9L473.3 276.5L472.8 276.1L472.3 275.7L471.8 275.2L471.3 274.7L470.8 274.2L470.3 273.7L469.8 273.1L469.3 272.5L468.8 271.9L468.3 271.2L468.0 270.7L467.6 270.2L467.3 269.7L466.8 268.8L466.5 268.2L466.2 267.7L465.8 266.9L465.5 266.2L465.3 265.7L464.9 264.7L464.7 264.2L464.4 263.2L464.2 262.7L463.9 261.7L463.8 261.1L463.6 260.2L463.4 259.2L463.3 258.7L463.2 257.7L463.0 256.7L463.0 255.7L462.9 254.7L462.9 253.7L462.9 252.7L462.9 251.7L463.0 250.7L463.1 249.7L463.2 248.7L463.3 247.9L463.4 247.2L463.6 246.2L463.8 245.4L464.0 244.7L464.3 243.7L464.4 243.2L464.8 242.2L465.0 241.7L465.3 240.8L465.6 240.2L465.8 239.7L466.3 238.7L466.6 238.2L466.9 237.7L467.3 237.0L467.8 236.2L468.2 235.7L468.5 235.2L468.9 234.7L469.3 234.2L469.8 233.6L470.3 233.0L470.8 232.4L471.3 231.8L471.8 231.2L472.2 230.7L472.7 230.2L473.1 229.7L473.6 229.2L474.0 228.7L474.4 228.2L474.9 227.7L475.4 227.2L476.0 226.7L476.6 226.2L477.3 225.8L477.8 225.5L478.8 225.2L479.3 225.2L480.0 225.2L480.8 225.3L481.8 225.5L482.4 225.7L483.3 226.0L483.9 226.2L484.8 226.5L485.4 226.7L486.3 227.0L487.0 227.2L487.8 227.4L488.7 227.7L489.3 227.9L490.3 228.1L490.8 228.3L491.8 228.6L492.3 228.8L493.3 229.1L493.8 229.3L494.7 229.7L495.3 230.0L495.8 230.2L496.8 230.7L497.3 231.0L497.8 231.3L498.5 231.7L499.3 232.2L499.8 232.5L500.3 232.9L500.8 233.2L501.4 233.7L502.1 234.2L502.7 234.7L503.2 235.2L503.8 235.7L504.3 236.2L504.8 236.7L505.2 237.2L505.7 237.7L506.1 238.2L506.5 238.7L506.9 239.2L507.3 239.7L507.8 240.5L508.3 241.2L508.6 241.7L508.9 242.2L509.3 242.9L509.7 243.7L509.9 244.2L510.3 245.0L510.6 245.7L510.8 246.2L511.2 247.2L511.3 247.7L511.6 248.7L511.8 249.4L512.0 250.2L512.2 251.2L512.3 252.0L512.4 252.7L512.5 253.7L512.6 254.7L512.6 255.7L512.6 256.7L512.5 257.7L512.4 258.7L512.3 259.7L512.2 260.2L512.0 261.2L511.8 262.2L511.7 262.7L511.4 263.7L511.3 264.2L510.9 265.2L510.7 265.7L510.3 266.7L510.1 267.2L509.8 267.8L509.3 268.7L509.0 269.2L508.7 269.7L508.3 270.4L507.8 271.1L507.4 271.7L507.0 272.2L506.6 272.7L506.2 273.2L505.8 273.7L505.3 274.2L504.8 274.7L504.3 275.2L503.7 275.7L503.1 276.2L502.5 276.7L501.8 277.2L501.3 277.6L500.8 277.9L500.3 278.2L499.5 278.7L498.8 279.1L498.3 279.3L497.5 279.7L496.8 280.0L496.2 280.2L495.3 280.5L494.7 280.7L493.8 281.0L492.8 281.2L492.3 281.3L491.3 281.5L490.3 281.6L489.3 281.7L488.3 281.7L487.8 281.7M491.3 277.7L490.3 277.9L489.3 277.9L488.3 278.0L487.3 278.0L486.3 277.9L485.3 277.8L484.6 277.7L483.8 277.5L482.8 277.3L482.3 277.2L481.3 276.8L480.8 276.7L479.8 276.2L479.3 276.0L478.7 275.7L477.8 275.2L477.3 274.9L476.8 274.6L476.2 274.2L475.5 273.7L474.9 273.2L474.3 272.7L473.8 272.2L473.3 271.7L472.8 271.2L472.3 270.7L471.9 270.2L471.5 269.7L471.1 269.2L470.8 268.7L470.3 268.0L469.8 267.2L469.5 266.7L469.3 266.2L468.8 265.3L468.5 264.7L468.3 264.2L467.9 263.2L467.7 262.7L467.4 261.7L467.2 261.2L466.9 260.2L466.8 259.6L466.6 258.7L466.4 257.7L466.3 256.8L466.2 256.2L466.1 255.2L466.1 254.2L466.0 253.2L466.1 252.2L466.1 251.2L466.2 250.2L466.3 249.3L466.4 248.7L466.5 247.7L466.8 246.7L466.9 246.2L467.1 245.2L467.3 244.7L467.6 243.7L467.8 243.2L468.2 242.2L468.5 241.7L468.8 241.0L469.2 240.2L469.5 239.7L469.8 239.2L470.3 238.4L470.8 237.7L471.2 237.2L471.6 236.7L472.0 236.2L472.4 235.7L472.9 235.2L473.3 234.7L473.8 234.2L474.3 233.7L474.8 233.2L475.4 232.7L475.9 232.2L476.6 231.7L477.3 231.2L477.8 230.9L478.3 230.6L479.3 230.2L479.8 230.1L480.8 230.0L481.8 230.0L482.8 230.0L483.8 230.2L484.3 230.3L485.3 230.5L486.3 230.7L486.8 230.8L487.8 231.0L488.6 231.2L489.3 231.4L490.3 231.7L490.8 231.8L491.8 232.2L492.3 232.4L493.2 232.7L493.8 233.0L494.3 233.2L495.3 233.7L495.8 234.0L496.3 234.3L497.0 234.7L497.8 235.2L498.3 235.6L498.8 235.9L499.3 236.3L499.8 236.7L500.4 237.2L500.9 237.7L501.4 238.2L501.9 238.7L502.4 239.2L502.9 239.7L503.3 240.2L503.8 240.8L504.3 241.5L504.8 242.2L505.1 242.7L505.5 243.2L505.8 243.8L506.3 244.7L506.6 245.2L506.8 245.7L507.2 246.7L507.4 247.2L507.8 248.2L508.0 248.7L508.2 249.7L508.4 250.2L508.6 251.2L508.8 252.2L508.8 252.7L509.0 253.7L509.0 254.7L509.0 255.7L509.0 256.7L509.0 257.7L508.9 258.7L508.8 259.2L508.6 260.2L508.4 261.2L508.3 261.7L508.0 262.7L507.8 263.3L507.5 264.2L507.3 264.7L506.8 265.7L506.6 266.2L506.3 266.7L505.8 267.6L505.4 268.2L505.1 268.7L504.8 269.2L504.3 269.8L503.8 270.4L503.3 271.0L502.8 271.6L502.3 272.1L501.8 272.5L501.3 273.0L500.8 273.4L500.3 273.8L499.7 274.2L499.0 274.7L498.3 275.1L497.8 275.4L497.3 275.7L496.3 276.2L495.8 276.4L495.0 276.7L494.3 277.0L493.5 277.2L492.8 277.4L491.8 277.6L491.3 277.7M491.3 274.7L490.3 274.9L489.3 275.0L488.3 275.1L487.3 275.1L486.3 275.0L485.3 274.9L484.4 274.7L483.8 274.6L482.8 274.3L482.3 274.1L481.3 273.8L480.8 273.5L480.1 273.2L479.3 272.8L478.8 272.5L478.3 272.2L477.6 271.7L476.9 271.2L476.3 270.7L475.8 270.3L475.3 269.8L474.8 269.3L474.3 268.8L473.8 268.2L473.4 267.7L473.0 267.2L472.7 266.7L472.3 266.1L471.8 265.3L471.4 264.7L471.2 264.2L470.8 263.4L470.5 262.7L470.3 262.2L469.9 261.2L469.7 260.7L469.4 259.7L469.3 259.1L469.1 258.2L468.9 257.2L468.8 256.6L468.7 255.7L468.6 254.7L468.5 253.7L468.5 252.7L468.6 251.7L468.6 250.7L468.7 249.7L468.8 249.2L469.0 248.2L469.2 247.2L469.3 246.7L469.6 245.7L469.8 245.2L470.2 244.2L470.4 243.7L470.8 242.8L471.1 242.2L471.4 241.7L471.8 240.9L472.3 240.2L472.6 239.7L473.0 239.2L473.4 238.7L473.8 238.2L474.3 237.7L474.8 237.2L475.3 236.7L475.8 236.2L476.4 235.7L477.1 235.2L477.8 234.7L478.3 234.4L478.8 234.2L479.8 233.8L480.3 233.6L481.3 233.4L482.3 233.3L483.3 233.2L484.3 233.3L485.3 233.4L486.3 233.5L487.3 233.7L487.8 233.8L488.8 234.0L489.5 234.2L490.3 234.4L491.0 234.7L491.8 235.0L492.3 235.2L493.3 235.6L493.8 235.9L494.4 236.2L495.2 236.7L495.8 237.0L496.3 237.4L496.8 237.7L497.4 238.2L498.1 238.7L498.6 239.2L499.2 239.7L499.7 240.2L500.2 240.7L500.6 241.2L501.1 241.7L501.5 242.2L501.9 242.7L502.3 243.3L502.8 244.0L503.2 244.7L503.5 245.2L503.8 245.8L504.3 246.7L504.5 247.2L504.8 247.9L505.1 248.7L505.3 249.4L505.5 250.2L505.8 251.2L505.9 251.7L506.1 252.7L506.2 253.7L506.3 254.7L506.3 255.7L506.3 256.7L506.2 257.7L506.1 258.7L505.9 259.7L505.8 260.2L505.5 261.2L505.3 261.9L505.0 262.7L504.8 263.3L504.4 264.2L504.2 264.7L503.8 265.4L503.4 266.2L503.0 266.7L502.7 267.2L502.3 267.7L501.8 268.4L501.3 269.0L500.8 269.5L500.3 270.0L499.8 270.5L499.3 270.9L498.8 271.3L498.3 271.7L497.5 272.2L496.8 272.7L496.3 272.9L495.8 273.2L494.8 273.7L494.3 273.9L493.4 274.2L492.8 274.4L491.8 274.6L491.3 274.7M491.3 272.3L490.3 272.5L489.3 272.6L488.3 272.7L487.3 272.7L486.3 272.6L485.3 272.5L484.3 272.3L483.8 272.1L482.8 271.8L482.3 271.6L481.3 271.2L480.8 271.0L480.3 270.7L479.5 270.2L478.8 269.8L478.3 269.4L477.8 269.0L477.3 268.6L476.8 268.1L476.3 267.6L475.8 267.1L475.3 266.5L474.8 265.9L474.3 265.2L474.0 264.7L473.6 264.2L473.3 263.6L472.8 262.7L472.6 262.2L472.3 261.6L472.0 260.7L471.8 260.2L471.5 259.2L471.3 258.6L471.1 257.7L470.9 256.7L470.8 256.1L470.7 255.2L470.6 254.2L470.6 253.2L470.6 252.2L470.6 251.2L470.7 250.2L470.8 249.7L471.0 248.7L471.2 247.7L471.3 247.2L471.6 246.2L471.8 245.7L472.2 244.7L472.4 244.2L472.8 243.5L473.2 242.7L473.6 242.2L473.9 241.7L474.3 241.1L474.8 240.5L475.3 239.9L475.8 239.4L476.3 238.9L476.8 238.5L477.3 238.1L477.8 237.7L478.6 237.2L479.3 236.8L479.8 236.6L480.8 236.2L481.3 236.0L482.3 235.8L483.3 235.7L483.8 235.7L484.8 235.7L485.3 235.7L486.3 235.8L487.3 236.0L488.3 236.2L488.8 236.3L489.8 236.6L490.3 236.7L491.3 237.1L491.8 237.3L492.6 237.7L493.3 238.1L493.8 238.3L494.4 238.7L495.2 239.2L495.8 239.6L496.3 240.0L496.8 240.4L497.3 240.9L497.8 241.3L498.3 241.8L498.8 242.4L499.3 242.9L499.8 243.6L500.3 244.2L500.6 244.7L501.0 245.2L501.3 245.8L501.8 246.7L502.1 247.2L502.3 247.7L502.7 248.7L502.9 249.2L503.2 250.2L503.4 250.7L503.6 251.7L503.8 252.7L503.9 253.2L504.0 254.2L504.0 255.2L504.0 256.2L504.0 257.2L503.8 258.2L503.8 258.7L503.6 259.7L503.3 260.7L503.1 261.2L502.8 262.1L502.6 262.7L502.3 263.3L501.8 264.2L501.5 264.7L501.2 265.2L500.8 265.9L500.3 266.5L499.8 267.1L499.3 267.7L498.8 268.2L498.3 268.7L497.8 269.1L497.3 269.5L496.8 269.8L496.3 270.2L495.4 270.7L494.8 271.0L494.3 271.3L493.3 271.7L492.8 271.9L491.8 272.2L491.3 272.3M491.3 270.2L490.3 270.5L489.3 270.6L488.3 270.7L487.3 270.7L486.3 270.6L485.3 270.4L484.3 270.2L483.8 270.1L482.8 269.7L482.3 269.5L481.6 269.2L480.8 268.8L480.3 268.5L479.8 268.1L479.2 267.7L478.6 267.2L478.0 266.7L477.5 266.2L477.0 265.7L476.6 265.2L476.2 264.7L475.8 264.2L475.3 263.5L474.8 262.7L474.6 262.2L474.3 261.7L473.8 260.7L473.6 260.2L473.3 259.3L473.1 258.7L472.8 257.7L472.7 257.2L472.5 256.2L472.4 255.2L472.3 254.2L472.3 253.7L472.3 252.7L472.3 251.8L472.3 251.2L472.5 250.2L472.6 249.2L472.8 248.4L473.0 247.7L473.3 246.7L473.5 246.2L473.8 245.5L474.2 244.7L474.5 244.2L474.8 243.6L475.3 242.9L475.8 242.2L476.2 241.7L476.7 241.2L477.2 240.7L477.7 240.2L478.3 239.8L478.8 239.4L479.3 239.1L480.1 238.7L480.8 238.4L481.3 238.2L482.3 237.9L483.3 237.7L483.8 237.7L484.8 237.6L485.8 237.7L486.3 237.7L487.3 237.9L488.3 238.1L488.9 238.2L489.8 238.5L490.4 238.7L491.3 239.1L491.8 239.3L492.6 239.7L493.3 240.1L493.8 240.4L494.3 240.8L494.9 241.2L495.5 241.7L496.1 242.2L496.6 242.7L497.1 243.2L497.6 243.7L498.0 244.2L498.4 244.7L498.8 245.2L499.3 245.9L499.8 246.7L500.0 247.2L500.3 247.7L500.8 248.7L501.0 249.2L501.3 250.1L501.5 250.7L501.7 251.7L501.8 252.2L502.0 253.2L502.1 254.2L502.2 255.2L502.1 256.2L502.1 257.2L501.9 258.2L501.8 258.8L501.6 259.7L501.3 260.7L501.1 261.2L500.8 262.0L500.4 262.7L500.2 263.2L499.8 263.9L499.3 264.6L498.9 265.2L498.5 265.7L498.0 266.2L497.5 266.7L497.0 267.2L496.4 267.7L495.8 268.1L495.3 268.5L494.8 268.8L494.0 269.2L493.3 269.5L492.8 269.7L491.8 270.1L491.3 270.2M489.8 268.8L488.8 268.9L487.8 269.0L486.8 268.9L485.8 268.8L485.3 268.7L484.3 268.5L483.5 268.2L482.8 267.9L482.3 267.7L481.4 267.2L480.8 266.8L480.3 266.5L479.8 266.1L479.3 265.7L478.7 265.2L478.2 264.7L477.8 264.2L477.3 263.6L476.8 262.9L476.3 262.2L476.0 261.7L475.8 261.2L475.3 260.3L475.1 259.7L474.8 259.0L474.5 258.2L474.3 257.4L474.1 256.7L473.9 255.7L473.8 254.7L473.8 254.2L473.7 253.2L473.8 252.2L473.8 251.5L473.9 250.7L474.0 249.7L474.3 248.7L474.4 248.2L474.8 247.2L474.9 246.7L475.3 245.9L475.7 245.2L476.0 244.7L476.3 244.2L476.8 243.5L477.3 242.9L477.8 242.4L478.3 241.9L478.8 241.5L479.3 241.1L480.0 240.7L480.8 240.3L481.3 240.1L482.3 239.7L482.8 239.6L483.8 239.4L484.8 239.3L485.8 239.3L486.8 239.4L487.8 239.6L488.3 239.7L489.3 240.0L489.9 240.2L490.8 240.6L491.3 240.8L492.1 241.2L492.8 241.6L493.3 241.9L493.8 242.3L494.3 242.7L494.9 243.2L495.5 243.7L496.0 244.2L496.4 244.7L496.9 245.2L497.3 245.8L497.8 246.5L498.3 247.2L498.5 247.7L498.8 248.2L499.3 249.2L499.5 249.7L499.8 250.6L500.0 251.2L500.2 252.2L500.3 252.7L500.5 253.7L500.5 254.7L500.5 255.7L500.5 256.7L500.4 257.7L500.3 258.2L500.0 259.2L499.8 260.0L499.5 260.7L499.3 261.2L498.8 262.2L498.5 262.7L498.2 263.2L497.8 263.8L497.3 264.4L496.8 265.0L496.3 265.5L495.8 266.0L495.3 266.4L494.8 266.7L494.1 267.2L493.3 267.6L492.8 267.9L492.0 268.2L491.3 268.4L490.3 268.7L489.8 268.8M489.3 267.2L488.3 267.3L487.3 267.4L486.3 267.3L485.8 267.2L484.8 267.0L483.9 266.7L483.3 266.5L482.8 266.2L481.8 265.7L481.3 265.4L480.8 265.0L480.3 264.6L479.8 264.2L479.3 263.7L478.8 263.1L478.3 262.5L477.8 261.9L477.4 261.2L477.1 260.7L476.8 260.2L476.3 259.2L476.1 258.7L475.8 257.7L475.7 257.2L475.4 256.2L475.3 255.5L475.2 254.7L475.1 253.7L475.1 252.7L475.2 251.7L475.3 250.7L475.4 250.2L475.6 249.2L475.8 248.5L476.1 247.7L476.3 247.2L476.8 246.2L477.1 245.7L477.4 245.2L477.8 244.6L478.3 244.1L478.8 243.5L479.3 243.1L479.8 242.7L480.5 242.2L481.3 241.8L481.8 241.6L482.8 241.2L483.3 241.1L484.3 240.9L485.3 240.9L486.3 240.9L487.3 241.0L488.2 241.2L488.8 241.4L489.8 241.7L490.3 241.9L490.9 242.2L491.8 242.7L492.3 243.0L492.8 243.3L493.3 243.7L493.9 244.2L494.5 244.7L495.0 245.2L495.4 245.7L495.8 246.2L496.3 246.8L496.8 247.5L497.2 248.2L497.5 248.7L497.8 249.4L498.1 250.2L498.3 250.7L498.6 251.7L498.8 252.5L498.9 253.2L499.0 254.2L499.1 255.2L499.0 256.2L498.9 257.2L498.8 257.8L498.6 258.7L498.3 259.6L498.1 260.2L497.8 260.8L497.3 261.7L497.0 262.2L496.7 262.7L496.3 263.2L495.8 263.8L495.3 264.3L494.8 264.7L494.2 265.2L493.5 265.7L492.8 266.1L492.3 266.3L491.4 266.7L490.8 266.9L489.8 267.2L489.3 267.2M489.3 265.8L488.3 265.9L487.3 265.9L486.3 265.8L485.6 265.7L484.8 265.5L484.0 265.2L483.3 264.9L482.8 264.7L482.1 264.2L481.3 263.7L480.8 263.3L480.3 262.8L479.8 262.3L479.3 261.7L478.9 261.2L478.6 260.7L478.3 260.2L477.8 259.3L477.5 258.7L477.3 258.2L477.0 257.2L476.8 256.6L476.6 255.7L476.4 254.7L476.4 253.7L476.3 252.7L476.4 251.7L476.6 250.7L476.8 249.7L476.9 249.2L477.3 248.2L477.5 247.7L477.8 247.1L478.3 246.3L478.7 245.7L479.1 245.2L479.6 244.7L480.2 244.2L480.8 243.7L481.3 243.4L481.8 243.1L482.8 242.7L483.3 242.6L484.3 242.4L485.3 242.3L486.3 242.3L487.3 242.4L488.3 242.6L488.8 242.8L489.8 243.1L490.3 243.4L491.0 243.7L491.8 244.2L492.3 244.6L492.8 245.0L493.3 245.4L493.8 245.9L494.3 246.4L494.8 247.0L495.3 247.6L495.7 248.2L496.0 248.7L496.3 249.3L496.7 250.2L496.9 250.7L497.2 251.7L497.4 252.2L497.6 253.2L497.7 254.2L497.7 255.2L497.7 256.2L497.5 257.2L497.3 258.2L497.2 258.7L496.8 259.6L496.5 260.2L496.3 260.7L495.8 261.5L495.3 262.2L494.8 262.7L494.4 263.2L493.8 263.7L493.3 264.1L492.8 264.4L492.3 264.7L491.3 265.2L490.8 265.4L489.8 265.7L489.3 265.8M489.8 264.3L488.8 264.5L487.8 264.6L486.8 264.5L485.8 264.4L485.0 264.2L484.3 264.0L483.7 263.7L482.8 263.2L482.3 262.9L481.8 262.5L481.3 262.1L480.8 261.6L480.3 261.0L479.8 260.4L479.3 259.7L479.0 259.2L478.8 258.7L478.3 257.7L478.2 257.2L477.9 256.2L477.7 255.7L477.6 254.7L477.5 253.7L477.5 252.7L477.6 251.7L477.7 250.7L477.8 250.2L478.2 249.2L478.4 248.7L478.8 247.8L479.2 247.2L479.5 246.7L479.9 246.2L480.4 245.7L481.0 245.2L481.7 244.7L482.3 244.4L482.8 244.1L483.8 243.8L484.3 243.7L485.3 243.6L486.3 243.6L487.3 243.7L487.8 243.8L488.8 244.1L489.3 244.2L490.3 244.7L490.8 245.0L491.3 245.3L491.8 245.7L492.5 246.2L493.0 246.7L493.5 247.2L493.9 247.7L494.3 248.2L494.8 249.0L495.2 249.7L495.4 250.2L495.8 251.1L496.0 251.7L496.3 252.7L496.3 253.2L496.5 254.2L496.5 255.2L496.4 256.2L496.3 257.0L496.1 257.7L495.8 258.7L495.6 259.2L495.3 259.8L494.8 260.7L494.4 261.2L494.0 261.7L493.5 262.2L492.9 262.7L492.3 263.2L491.8 263.5L491.3 263.7L490.3 264.1L489.8 264.3M488.3 263.2L487.3 263.3L486.5 263.2L485.8 263.1L484.8 262.8L484.3 262.6L483.6 262.2L482.8 261.7L482.3 261.3L481.8 260.9L481.3 260.4L480.8 259.8L480.4 259.2L480.1 258.7L479.8 258.2L479.4 257.2L479.2 256.7L478.9 255.7L478.8 255.2L478.7 254.2L478.6 253.2L478.7 252.2L478.8 251.3L478.9 250.7L479.2 249.7L479.4 249.2L479.8 248.5L480.3 247.7L480.7 247.2L481.2 246.7L481.8 246.2L482.3 245.8L482.8 245.6L483.6 245.2L484.3 245.0L485.3 244.8L486.3 244.8L487.3 244.9L488.3 245.2L488.8 245.3L489.6 245.7L490.3 246.1L490.8 246.4L491.3 246.8L491.8 247.2L492.3 247.7L492.8 248.2L493.3 248.9L493.8 249.6L494.1 250.2L494.4 250.7L494.8 251.7L494.9 252.2L495.1 253.2L495.3 254.2L495.3 255.2L495.2 256.2L495.0 257.2L494.8 257.8L494.4 258.7L494.2 259.2L493.8 259.8L493.3 260.5L492.8 261.1L492.3 261.5L491.8 261.9L491.3 262.2L490.3 262.7L489.8 262.9L488.8 263.1L488.3 263.2M489.3 261.8L488.3 262.0L487.3 262.1L486.3 262.0L485.3 261.7L484.8 261.5L484.1 261.2L483.3 260.7L482.8 260.3L482.3 259.8L481.8 259.3L481.3 258.7L481.0 258.2L480.7 257.7L480.3 256.7L480.1 256.2L479.8 255.2L479.8 254.7L479.7 253.7L479.7 252.7L479.8 251.7L479.9 251.2L480.2 250.2L480.4 249.7L480.8 249.0L481.3 248.3L481.8 247.7L482.3 247.3L482.8 246.9L483.3 246.6L484.3 246.2L484.8 246.1L485.8 246.0L486.8 246.0L487.8 246.2L488.3 246.3L489.2 246.7L489.8 247.0L490.3 247.4L490.8 247.7L491.3 248.2L491.8 248.7L492.3 249.3L492.8 250.0L493.2 250.7L493.4 251.2L493.8 252.2L493.9 252.7L494.1 253.7L494.2 254.7L494.1 255.7L494.0 256.7L493.8 257.2L493.4 258.2L493.2 258.7L492.8 259.2L492.3 259.9L491.8 260.4L491.3 260.8L490.7 261.2L489.8 261.6L489.3 261.8M488.3 260.8L487.3 260.9L486.3 260.8L485.8 260.7L484.8 260.3L484.3 260.0L483.8 259.7L483.2 259.2L482.7 258.7L482.3 258.2L481.8 257.5L481.4 256.7L481.2 256.2L480.9 255.2L480.8 254.7L480.7 253.7L480.7 252.7L480.8 252.0L481.0 251.2L481.3 250.4L481.7 249.7L482.0 249.2L482.4 248.7L483.0 248.2L483.8 247.7L484.3 247.5L485.2 247.2L485.8 247.1L486.8 247.1L487.3 247.2L488.3 247.5L488.8 247.7L489.6 248.2L490.3 248.7L490.8 249.1L491.3 249.7L491.7 250.2L492.0 250.7L492.3 251.2L492.7 252.2L492.9 252.7L493.0 253.7L493.1 254.7L493.0 255.7L492.8 256.7L492.6 257.2L492.3 257.9L491.8 258.6L491.3 259.2L490.8 259.7L490.3 260.0L489.8 260.3L488.8 260.7L488.3 260.8M487.3 259.7L486.8 259.7L485.8 259.5L485.1 259.2L484.3 258.7L483.8 258.3L483.3 257.8L482.9 257.2L482.6 256.7L482.3 256.2L481.9 255.2L481.8 254.5L481.7 253.7L481.8 252.7L481.8 252.2L482.1 251.2L482.4 250.7L482.8 250.0L483.3 249.5L483.8 249.1L484.4 248.7L485.3 248.4L486.3 248.3L487.3 248.4L488.3 248.7L488.8 249.0L489.3 249.3L489.9 249.7L490.4 250.2L490.8 250.8L491.3 251.6L491.6 252.2L491.8 252.9L492.0 253.7L492.0 254.7L491.9 255.7L491.8 256.2L491.4 257.2L491.1 257.7L490.7 258.2L490.1 258.7L489.4 259.2L488.8 259.4L487.8 259.7L487.3 259.7M488.3 258.3L487.3 258.5L486.3 258.4L485.6 258.2L484.8 257.7L484.3 257.3L483.8 256.7L483.5 256.2L483.2 255.7L482.9 254.7L482.8 254.2L482.8 253.2L482.8 252.7L483.1 251.7L483.4 251.2L483.8 250.6L484.3 250.1L485.1 249.7L485.8 249.5L486.8 249.4L487.8 249.7L488.3 249.9L488.8 250.2L489.4 250.7L489.8 251.2L490.3 251.9L490.7 252.7L490.8 253.2L490.9 254.2L490.9 255.2L490.8 255.7L490.3 256.7L490.0 257.2L489.5 257.7L488.8 258.1L488.3 258.3M487.8 257.3L486.8 257.3L486.2 257.2L485.3 256.7L484.8 256.3L484.4 255.7L484.1 255.2L483.8 254.2L483.8 253.7L483.8 253.2L484.1 252.2L484.4 251.7L484.8 251.2L485.7 250.7L486.3 250.6L487.3 250.7L487.8 250.9L488.3 251.2L488.9 251.7L489.3 252.3L489.7 253.2L489.8 253.7L489.9 254.7L489.8 255.2L489.3 256.2L488.8 256.7L488.3 257.1L487.8 257.3M487.8 255.8L487.3 256.0L486.8 256.0L486.3 255.9L485.9 255.7L485.8 255.6L485.4 255.2L485.3 255.0L485.1 254.7L485.0 254.2L485.0 253.7L485.0 253.2L485.2 252.7L485.3 252.6L485.7 252.2L485.8 252.1L486.3 251.9L486.8 251.9L487.3 252.0L487.7 252.2L487.8 252.3L488.2 252.7L488.3 252.8L488.5 253.2L488.7 253.7L488.7 254.2L488.6 254.7L488.4 255.2L488.3 255.4L488.0 255.7L487.8 255.8" stroke="#3a3a3a" stroke-width="0.95" fill="none" stroke-linejoin="round"/>
<path d="M479.8 181.8L478.8 182.0L477.8 182.1L476.8 182.2L475.8 182.2L474.8 182.1L473.8 182.0L472.8 181.8L472.3 181.7L471.3 181.4L470.8 181.2L469.8 180.8L469.3 180.5L468.7 180.2L467.8 179.7L467.3 179.4L466.8 179.0L466.3 178.6L465.8 178.2L465.3 177.7L464.8 177.2L464.3 176.6L463.8 176.0L463.3 175.4L462.8 174.7L462.5 174.2L462.2 173.7L461.8 172.8L461.5 172.2L461.3 171.7L460.9 170.7L460.8 170.2L460.5 169.2L460.3 168.2L460.3 167.7L460.1 166.7L460.1 165.7L460.1 164.7L460.1 163.7L460.2 162.7L460.3 162.2L460.5 161.2L460.7 160.2L460.9 159.7L461.2 158.7L461.4 158.2L461.8 157.3L462.1 156.7L462.3 156.2L462.8 155.4L463.3 154.7L463.6 154.2L464.0 153.7L464.4 153.2L464.9 152.7L465.4 152.2L465.9 151.7L466.5 151.2L467.1 150.7L467.8 150.2L468.3 149.9L468.8 149.6L469.5 149.2L470.3 148.8L470.8 148.6L471.8 148.2L472.3 148.1L473.3 147.8L473.8 147.7L474.8 147.5L475.8 147.4L476.8 147.4L477.8 147.4L478.8 147.6L479.7 147.7L480.3 147.8L481.3 148.1L481.8 148.3L482.8 148.6L483.3 148.9L484.0 149.2L484.8 149.7L485.3 150.0L485.8 150.3L486.3 150.7L486.9 151.2L487.5 151.7L488.0 152.2L488.5 152.7L488.9 153.2L489.3 153.7L489.8 154.4L490.3 155.1L490.6 155.7L490.9 156.2L491.3 157.0L491.6 157.7L491.8 158.2L492.1 159.2L492.3 159.8L492.5 160.7L492.7 161.7L492.8 162.3L492.9 163.2L492.9 164.2L492.9 165.2L492.9 166.2L492.8 166.7L492.7 167.7L492.5 168.7L492.3 169.3L492.0 170.2L491.8 170.9L491.5 171.7L491.3 172.2L490.8 173.1L490.5 173.7L490.2 174.2L489.8 174.8L489.3 175.5L488.8 176.1L488.3 176.7L487.8 177.2L487.3 177.7L486.8 178.2L486.3 178.6L485.8 179.0L485.3 179.3L484.7 179.7L483.9 180.2L483.3 180.5L482.8 180.7L481.8 181.2L481.3 181.3L480.3 181.6L479.8 181.8M476.8 177.2L475.8 177.2L475.3 177.2L474.3 177.0L473.3 176.8L472.8 176.6L471.8 176.3L471.3 176.0L470.7 175.7L469.9 175.2L469.3 174.7L468.8 174.3L468.3 173.8L467.8 173.3L467.3 172.7L467.0 172.2L466.6 171.7L466.3 171.1L465.8 170.2L465.6 169.7L465.3 168.7L465.2 168.2L464.9 167.2L464.8 166.2L464.8 165.7L464.8 164.7L464.8 164.0L464.9 163.2L465.1 162.2L465.3 161.3L465.5 160.7L465.8 159.9L466.1 159.2L466.4 158.7L466.8 158.0L467.3 157.2L467.7 156.7L468.2 156.2L468.7 155.7L469.2 155.2L469.8 154.7L470.3 154.4L470.8 154.0L471.4 153.7L472.3 153.3L472.8 153.1L473.8 152.8L474.3 152.6L475.3 152.5L476.3 152.4L477.3 152.4L478.3 152.5L479.3 152.7L479.8 152.8L480.8 153.2L481.3 153.4L481.9 153.7L482.8 154.2L483.3 154.6L483.8 155.0L484.3 155.4L484.8 155.9L485.3 156.4L485.8 157.1L486.2 157.7L486.5 158.2L486.8 158.7L487.3 159.7L487.5 160.2L487.8 161.2L487.9 161.7L488.1 162.7L488.2 163.7L488.2 164.7L488.2 165.7L488.1 166.7L487.9 167.7L487.7 168.2L487.4 169.2L487.2 169.7L486.8 170.6L486.5 171.2L486.2 171.7L485.8 172.2L485.3 172.9L484.8 173.4L484.3 173.9L483.8 174.4L483.3 174.8L482.7 175.2L481.9 175.7L481.3 176.0L480.8 176.3L479.8 176.7L479.3 176.8L478.3 177.0L477.3 177.2L476.8 177.2M477.8 172.8L476.8 172.9L475.8 172.9L474.8 172.8L474.3 172.7L473.3 172.3L472.8 172.0L472.3 171.7L471.6 171.2L471.1 170.7L470.6 170.2L470.3 169.7L469.8 169.0L469.4 168.2L469.2 167.7L469.0 166.7L468.8 165.7L468.8 165.2L468.8 164.5L468.9 163.7L469.1 162.7L469.3 162.0L469.6 161.2L469.9 160.7L470.3 160.1L470.8 159.4L471.3 158.9L471.8 158.4L472.3 158.0L472.8 157.7L473.8 157.2L474.3 157.0L475.3 156.8L475.8 156.7L476.8 156.6L477.5 156.7L478.3 156.8L479.3 157.2L479.8 157.4L480.4 157.7L481.1 158.2L481.7 158.7L482.2 159.2L482.6 159.7L482.9 160.2L483.3 160.8L483.7 161.7L483.9 162.2L484.1 163.2L484.2 164.2L484.2 165.2L484.1 166.2L483.8 167.2L483.7 167.7L483.3 168.5L482.9 169.2L482.6 169.7L482.2 170.2L481.7 170.7L481.2 171.2L480.5 171.7L479.8 172.1L479.3 172.4L478.3 172.7L477.8 172.8M477.3 168.2L476.3 168.3L475.5 168.2L474.8 167.9L474.3 167.5L473.8 166.9L473.4 166.2L473.2 165.7L473.2 164.7L473.3 163.8L473.5 163.2L473.8 162.7L474.3 162.2L474.9 161.7L475.8 161.4L476.8 161.3L477.8 161.5L478.3 161.8L478.8 162.2L479.3 162.8L479.7 163.7L479.8 164.2L479.8 165.2L479.7 165.7L479.3 166.7L478.9 167.2L478.4 167.7L477.8 168.0L477.3 168.2" stroke="#3a3a3a" stroke-width="0.9" fill="none" stroke-linejoin="round"/>
<path d="M490.3 286.2L489.3 286.3L488.3 286.3L487.3 286.3L486.3 286.3L485.3 286.2L484.8 286.1L483.8 286.0L482.8 285.8L482.1 285.7L481.3 285.5L480.3 285.2L479.8 285.1L478.8 284.7L478.3 284.6L477.4 284.2L476.8 283.9L476.3 283.7L475.3 283.2L474.8 283.0L474.3 282.7L473.5 282.2L472.8 281.7L472.3 281.4L471.8 281.1L471.3 280.7L470.7 280.2L470.1 279.7L469.5 279.2L469.0 278.7L468.4 278.2L467.9 277.7L467.5 277.2L467.0 276.7L466.6 276.2L466.2 275.7L465.8 275.2L465.3 274.6L464.8 273.8L464.4 273.2L464.0 272.7L463.7 272.2L463.3 271.4L462.9 270.7L462.6 270.2L462.3 269.5L461.9 268.7L461.7 268.2L461.3 267.2L461.1 266.7L460.8 265.8L460.6 265.2L460.3 264.2L460.2 263.7L459.9 262.7L459.8 262.2L459.6 261.2L459.4 260.2L459.3 259.6L459.2 258.7L459.1 257.7L459.0 256.7L458.9 255.7L458.9 254.7L458.9 253.7L458.9 252.7L458.9 251.7L459.0 250.7L459.1 249.7L459.2 248.7L459.3 247.9L459.4 247.2L459.6 246.2L459.8 245.2L459.9 244.7L460.1 243.7L460.3 243.1L460.6 242.2L460.8 241.5L461.1 240.7L461.3 240.1L461.6 239.2L461.9 238.7L462.3 237.7L462.5 237.2L462.8 236.7L463.3 235.8L463.6 235.2L463.9 234.7L464.3 234.1L464.8 233.3L465.2 232.7L465.6 232.2L466.0 231.7L466.4 231.2L466.8 230.7L467.3 230.1L467.8 229.5L468.3 228.9L468.8 228.3L469.3 227.7L469.7 227.2L470.1 226.7L470.5 226.2L470.9 225.7L471.3 225.2L471.8 224.5L472.3 223.9L472.8 223.2L473.2 222.7L473.7 222.2L474.1 221.7L474.7 221.2L475.3 220.7L475.8 220.4L476.3 220.1L477.3 219.7L477.8 219.6L478.8 219.6L479.7 219.7L480.3 219.8L481.3 220.2L481.8 220.4L482.6 220.7L483.3 221.1L483.8 221.3L484.6 221.7L485.3 222.0L485.8 222.2L486.8 222.6L487.3 222.8L488.3 223.2L488.8 223.3L489.8 223.6L490.3 223.8L491.3 224.1L491.8 224.2L492.8 224.5L493.3 224.7L494.3 225.0L494.8 225.2L495.8 225.6L496.3 225.8L497.1 226.2L497.8 226.5L498.3 226.8L499.2 227.2L499.8 227.5L500.3 227.8L500.9 228.2L501.7 228.7L502.3 229.1L502.8 229.4L503.3 229.8L503.9 230.2L504.5 230.7L505.2 231.2L505.7 231.7L506.3 232.2L506.8 232.6L507.3 233.1L507.8 233.6L508.3 234.1L508.8 234.7L509.3 235.2L509.7 235.7L510.1 236.2L510.5 236.7L510.8 237.2L511.3 237.8L511.8 238.6L512.2 239.2L512.5 239.7L512.8 240.2L513.3 241.1L513.6 241.7L513.9 242.2L514.3 243.2L514.5 243.7L514.8 244.3L515.1 245.2L515.3 245.7L515.6 246.7L515.8 247.3L516.0 248.2L516.3 249.2L516.4 249.7L516.6 250.7L516.7 251.7L516.8 252.4L516.9 253.2L517.0 254.2L517.0 255.2L517.0 256.2L517.0 257.2L516.9 258.2L516.8 259.2L516.8 259.7L516.6 260.7L516.5 261.7L516.3 262.5L516.1 263.2L515.9 264.2L515.7 264.7L515.4 265.7L515.3 266.2L514.9 267.2L514.7 267.7L514.3 268.7L514.1 269.2L513.8 269.7L513.3 270.7L513.0 271.2L512.8 271.7L512.3 272.5L511.8 273.2L511.5 273.7L511.1 274.2L510.8 274.7L510.3 275.3L509.8 275.9L509.3 276.5L508.8 277.1L508.3 277.6L507.8 278.1L507.3 278.6L506.8 279.0L506.3 279.5L505.8 279.9L505.3 280.3L504.7 280.7L504.1 281.2L503.3 281.7L502.8 282.0L502.3 282.3L501.7 282.7L500.8 283.2L500.3 283.4L499.7 283.7L498.8 284.1L498.3 284.3L497.3 284.7L496.8 284.9L495.8 285.2L495.3 285.3L494.3 285.6L493.8 285.7L492.8 285.9L491.8 286.1L490.8 286.2L490.3 286.2" stroke="#333" stroke-width="0.8" fill="none" stroke-linejoin="round"/>
<polygon points="454.0,153.3 471.3,138.7 496.7,136.8 535.3,140.0 558.0,163.5 552.7,194.7 487.3,195.5 460.7,185.3" fill="none" stroke="#555" stroke-width="0.9" stroke-linejoin="round"/>
<text x="489.2" y="99.8" font-size="17.5" textLength="62.7" lengthAdjust="spacingAndGlyphs" stroke="#111" stroke-width="0.55">CD4 (+)</text>
<text x="489.2" y="125.5" font-size="17.5" textLength="49.5" lengthAdjust="spacingAndGlyphs" stroke="#111" stroke-width="0.55">8.08%</text>
<rect x="94.0" y="428.2" width="257.3" height="257.0" fill="#fff" stroke="#151515" stroke-width="1.3"/>
<path d="M119.1 685.2v6.5M147.2 685.2v6.5M209.4 685.2v6.5M268.5 685.2v6.5M326.2 685.2v6.5M94.0 660.2h-7M94.0 632.1h-7M94.0 570.0h-7M94.0 510.9h-7M94.0 453.2h-7" stroke="#222" stroke-width="1.6" fill="none"/>
<path d="M165.9 685.2v3.4M176.8 685.2v3.4M184.6 685.2v3.4M190.6 685.2v3.4M195.6 685.2v3.4M199.7 685.2v3.4M203.3 685.2v3.4M206.5 685.2v3.4M227.2 685.2v3.4M237.6 685.2v3.4M245.0 685.2v3.4M250.7 685.2v3.4M255.4 685.2v3.4M259.4 685.2v3.4M262.8 685.2v3.4M265.8 685.2v3.4M285.9 685.2v3.4M296.1 685.2v3.4M303.3 685.2v3.4M308.9 685.2v3.4M313.4 685.2v3.4M317.3 685.2v3.4M320.6 685.2v3.4M323.6 685.2v3.4M343.6 685.2v3.4M97.5 685.2v3.4M100.9 685.2v3.4M104.3 685.2v3.4M107.7 685.2v3.4M111.1 685.2v3.4M114.5 685.2v3.4M121.3 685.2v3.4M124.7 685.2v3.4M128.1 685.2v3.4M131.5 685.2v3.4M134.9 685.2v3.4M138.3 685.2v3.4M141.7 685.2v3.4M145.1 685.2v3.4M94.0 613.4h-3.8M94.0 602.5h-3.8M94.0 594.7h-3.8M94.0 588.7h-3.8M94.0 583.8h-3.8M94.0 579.6h-3.8M94.0 576.0h-3.8M94.0 572.8h-3.8M94.0 552.2h-3.8M94.0 541.8h-3.8M94.0 534.4h-3.8M94.0 528.7h-3.8M94.0 524.0h-3.8M94.0 520.0h-3.8M94.0 516.6h-3.8M94.0 513.6h-3.8M94.0 493.5h-3.8M94.0 483.4h-3.8M94.0 476.2h-3.8M94.0 470.6h-3.8M94.0 466.0h-3.8M94.0 462.2h-3.8M94.0 458.8h-3.8M94.0 455.9h-3.8M94.0 435.9h-3.8M94.0 681.7h-3.8M94.0 678.3h-3.8M94.0 674.9h-3.8M94.0 671.5h-3.8M94.0 668.1h-3.8M94.0 664.7h-3.8M94.0 657.9h-3.8M94.0 654.5h-3.8M94.0 651.1h-3.8M94.0 647.7h-3.8M94.0 644.3h-3.8M94.0 640.9h-3.8M94.0 637.5h-3.8M94.0 634.1h-3.8" stroke="#222" stroke-width="1.2" fill="none"/>
<path d="M119.1 685.2v7M94.0 660.2h-7.5" stroke="#111" stroke-width="2" fill="none"/>
<g font-size="13.1" fill="#3c3c3c" stroke="#3c3c3c" stroke-width="0.2"><text x="112.8" y="723.3" text-anchor="middle">0</text><text x="140.7" y="723.3">10<tspan dx="0.8" dy="-10" font-size="12.3">2</tspan></text><text x="202.9" y="723.3">10<tspan dx="0.8" dy="-10" font-size="12.3">3</tspan></text><text x="262.0" y="723.3">10<tspan dx="0.8" dy="-10" font-size="12.3">4</tspan></text><text x="319.7" y="723.3">10<tspan dx="0.8" dy="-10" font-size="12.3">5</tspan></text><text x="67.8" y="667.2">0</text><text x="59.3" y="640.6">10<tspan dx="0.8" dy="-10" font-size="12.3">2</tspan></text><text x="59.3" y="578.5">10<tspan dx="0.8" dy="-10" font-size="12.3">3</tspan></text><text x="59.3" y="519.4">10<tspan dx="0.8" dy="-10" font-size="12.3">4</tspan></text><text x="59.3" y="461.7">10<tspan dx="0.8" dy="-10" font-size="12.3">5</tspan></text></g>
<text x="49.3" y="631.0" font-size="17.5" textLength="149.0" lengthAdjust="spacingAndGlyphs" transform="rotate(-90 49.3 631.0)" stroke="#111" stroke-width="0.55">PE-Cy7-anti-CD25</text>
<text x="156.5" y="748.0" font-size="17.5" textLength="129.5" lengthAdjust="spacingAndGlyphs" stroke="#111" stroke-width="0.55">A488-anti-Foxp3</text>
<path d="M131 552.5h1.2M134 566.5h1.2M135 561.5h1.2M136 558.5h1.2M137 568.5h1.2M138 550.5h1.2M138 556.5h1.2M139 563.5h1.2M140 563.5h1.2M141 558.5h1.2M144 552.5h1.2M145 553.5h1.2M145 555.5h1.2M146 544.5h1.2M146 546.5h1.2M148 549.5h1.2M148 554.5h1.2M151 541.5h1.2M151 547.5h1.2M152 547.5h1.2M156 545.5h1.2M157 547.5h1.2M158 531.5h1.2M162 536.5h1.2M165 545.5h1.2M168 543.5h1.2M169 531.5h1.2M171 543.5h1.2M175 537.5h1.2M176 520.5h1.2M177 518.5h1.2M183 537.5h1.2M183 540.5h1.2M184 485.5h1.2M184 505.5h1.2M185 524.5h1.2M186 534.5h1.2M187 528.5h1.2M187 537.5h1.2M189 535.5h1.2M189 540.5h1.2M190 506.5h1.2M191 539.5h1.2M192 469.5h1.2M192 507.5h1.2M192 508.5h1.2M192 537.5h1.2M193 491.5h1.2M193 516.5h1.2M193 525.5h1.2M193 537.5h1.2M194 507.5h1.2M194 514.5h1.2M194 517.5h1.2M194 658.5h1.2M195 535.5h1.2M195 637.5h1.2M195 645.5h1.2M195 670.5h1.2M196 532.5h1.2M196 535.5h1.2M196 539.5h1.2M196 658.5h1.2M196 660.5h1.2M197 528.5h1.2M197 645.5h1.2M197 666.5h1.2M198 632.5h1.2M198 633.5h1.2M199 506.5h1.2M199 526.5h1.2M199 531.5h1.2M199 535.5h1.2M199 637.5h1.2M199 657.5h1.2M199 658.5h1.2M199 672.5h1.2M200 495.5h1.2M200 504.5h1.2M200 516.5h1.2M200 520.5h1.2M200 626.5h1.2M200 651.5h1.2M200 674.5h1.2M201 504.5h1.2M201 515.5h1.2M201 602.5h1.2M201 608.5h1.2M201 642.5h1.2M201 647.5h1.2M202 522.5h1.2M202 531.5h1.2M202 536.5h1.2M202 537.5h1.2M202 617.5h1.2M202 622.5h1.2M202 628.5h1.2M202 647.5h1.2M203 494.5h1.2M203 530.5h1.2M203 532.5h1.2M203 539.5h1.2M203 596.5h1.2M203 610.5h1.2M203 621.5h1.2M203 650.5h1.2M203 662.5h1.2M204 508.5h1.2M204 528.5h1.2M204 537.5h1.2M204 583.5h1.2M204 592.5h1.2M204 593.5h1.2M204 633.5h1.2M204 645.5h1.2M205 530.5h1.2M205 577.5h1.2M205 584.5h1.2M205 655.5h1.2M206 512.5h1.2M206 528.5h1.2M206 531.5h1.2M206 551.5h1.2M206 575.5h1.2M206 577.5h1.2M206 608.5h1.2M206 662.5h1.2M206 682.5h1.2M207 582.5h1.2M207 590.5h1.2M207 594.5h1.2M207 601.5h1.2M208 549.5h1.2M208 580.5h1.2M208 584.5h1.2M208 592.5h1.2M208 606.5h1.2M209 587.5h1.2M210 537.5h1.2M210 541.5h1.2M211 532.5h1.2M212 486.5h1.2M212 536.5h1.2M212 560.5h1.2M212 584.5h1.2M213 483.5h1.2M213 564.5h1.2M214 489.5h1.2M215 474.5h1.2M216 529.5h1.2M216 563.5h1.2M221 493.5h1.2M221 524.5h1.2M225 523.5h1.2" stroke="#141414" stroke-width="1.25" fill="none"/>
<clipPath id="c3"><rect x="94.0" y="428.2" width="257.3" height="256.50000000000006"/></clipPath>
<g clip-path="url(#c3)">
<path d="M146.3 685.7L146.3 684.2L146.4 682.7L146.5 681.4L146.6 680.2L146.6 678.7L146.6 677.2L146.5 675.7L146.5 674.7L146.3 673.2L146.2 671.7L146.1 670.2L146.0 669.1L145.9 667.7L145.7 666.2L145.6 664.7L145.5 663.7L145.3 662.2L145.2 660.7L145.0 659.2L144.9 658.2L144.8 656.7L144.6 655.2L144.5 653.8L144.4 652.7L144.2 651.2L144.1 649.7L144.0 648.7L143.8 647.2L143.7 645.7L143.6 644.2L143.5 643.2L143.3 641.7L143.2 640.2L143.1 638.7L143.0 637.3L142.9 636.2L142.8 634.7L142.7 633.2L142.6 631.7L142.5 630.2L142.5 629.2L142.4 627.7L142.4 626.2L142.3 624.7L142.3 623.2L142.2 621.7L142.2 620.2L142.2 618.7L142.2 617.2L142.3 615.7L142.3 614.2L142.4 612.7L142.5 611.2L142.6 610.2L142.7 608.7L142.9 607.2L143.0 606.2L143.2 604.7L143.5 603.2L143.7 602.2L144.0 600.7L144.2 599.7L144.5 598.6L144.9 597.2L145.2 596.2L145.5 595.1L146.0 593.7L146.4 592.7L146.8 591.7L147.2 590.7L147.6 589.7L148.1 588.7L148.6 587.7L149.2 586.7L149.8 585.7L150.4 584.7L151.0 583.9L151.5 583.2L152.4 582.2L153.0 581.6L154.0 580.7L154.6 580.2L155.5 579.6L156.5 579.1L157.9 578.7L159.0 578.6L160.5 578.7L161.5 578.9L162.5 579.3L163.5 579.9L164.5 580.6L165.3 581.2L166.0 581.9L166.8 582.7L167.5 583.6L168.0 584.2L168.7 585.2L169.3 586.2L169.9 587.2L170.5 588.2L171.0 589.2L171.4 590.2L171.9 591.2L172.3 592.2L172.7 593.2L173.0 594.2L173.5 595.7L173.8 596.7L174.1 597.7L174.4 599.2L174.6 600.2L174.9 601.7L175.1 602.7L175.3 604.2L175.5 605.4L175.7 606.7L175.8 608.2L175.9 609.7L176.0 610.7L176.1 612.2L176.2 613.7L176.3 615.2L176.3 616.7L176.3 618.2L176.3 619.7L176.3 621.2L176.3 622.7L176.2 624.2L176.2 625.7L176.1 627.2L176.0 628.7L176.0 629.7L175.9 631.2L175.9 632.7L175.8 634.2L175.7 635.7L175.6 637.2L175.5 638.2L175.4 639.7L175.3 641.2L175.2 642.7L175.0 644.2L174.9 645.2L174.8 646.7L174.7 648.2L174.5 649.7L174.5 650.7L174.3 652.2L174.2 653.7L174.0 655.2L173.9 656.2L173.8 657.7L173.7 659.2L173.5 660.7L173.4 661.7L173.3 663.2L173.2 664.7L173.0 666.2L173.0 667.2L172.8 668.7L172.7 670.2L172.6 671.7L172.5 672.7L172.4 674.2L172.3 675.7L172.2 677.2L172.2 678.7L172.1 680.2L172.2 681.7L172.2 683.2L172.2 684.7Z" fill="#222" fill-opacity="0.04" stroke="none"/>
<path d="M147.9 685.7L148.0 684.3L148.1 683.2L148.3 681.7L148.5 680.5L148.7 679.2L148.8 677.7L148.8 676.2L148.7 674.7L148.6 673.2L148.5 672.1L148.4 670.7L148.2 669.2L148.0 667.7L147.9 666.7L147.8 665.2L147.6 663.7L147.5 662.7L147.3 661.2L147.1 659.7L147.0 658.7L146.8 657.2L146.6 655.7L146.5 654.5L146.3 653.2L146.2 651.7L146.0 650.3L145.9 649.2L145.7 647.7L145.5 646.2L145.4 645.2L145.3 643.7L145.1 642.2L145.0 640.9L144.9 639.7L144.8 638.2L144.6 636.7L144.5 635.2L144.4 634.2L144.3 632.7L144.2 631.2L144.1 629.7L144.1 628.2L144.0 626.9L143.9 625.7L143.9 624.2L143.9 622.7L143.8 621.2L143.8 619.7L143.8 618.2L143.8 616.7L143.9 615.2L143.9 613.7L144.0 612.6L144.1 611.2L144.3 609.7L144.4 608.2L144.6 607.2L144.8 605.7L145.0 604.5L145.3 603.2L145.5 602.1L145.8 600.7L146.1 599.7L146.5 598.3L146.8 597.2L147.2 596.2L147.6 595.2L148.0 594.1L148.5 593.0L149.0 591.9L149.5 590.9L150.0 590.0L150.5 589.2L151.2 588.2L151.9 587.2L152.5 586.5L153.2 585.7L154.0 584.9L155.0 584.2L155.7 583.7L156.8 583.2L158.0 582.8L159.5 582.7L161.0 582.9L162.0 583.3L163.0 583.8L164.0 584.5L164.8 585.2L165.5 585.8L166.3 586.7L167.0 587.6L167.5 588.3L168.1 589.2L168.7 590.2L169.3 591.2L169.8 592.2L170.2 593.2L170.7 594.2L171.1 595.2L171.5 596.4L171.9 597.7L172.2 598.7L172.5 599.8L172.8 601.2L173.1 602.2L173.3 603.7L173.5 604.7L173.7 606.2L173.9 607.7L174.0 608.7L174.2 610.2L174.3 611.7L174.4 613.2L174.5 614.7L174.5 615.7L174.5 617.2L174.5 618.7L174.5 620.2L174.5 621.7L174.5 622.7L174.5 624.2L174.4 625.7L174.3 627.2L174.3 628.7L174.2 630.2L174.1 631.7L174.0 633.2L174.0 634.2L173.8 635.7L173.7 637.2L173.6 638.7L173.5 639.9L173.4 641.2L173.3 642.7L173.1 644.2L173.0 645.3L172.9 646.7L172.7 648.2L172.5 649.7L172.4 650.7L172.3 652.2L172.1 653.7L172.0 654.7L171.8 656.2L171.7 657.7L171.5 659.2L171.4 660.2L171.2 661.7L171.1 663.2L171.0 664.2L170.8 665.7L170.6 667.2L170.5 668.5L170.4 669.7L170.2 671.2L170.1 672.7L170.0 673.7L169.9 675.2L169.8 676.7L169.8 678.2L169.9 679.7L170.0 681.2L170.1 682.2L170.2 683.7L170.3 685.2Z" fill="#222" fill-opacity="0.04" stroke="none"/>
<path d="M149.1 685.7L149.3 684.2L149.5 683.0L149.8 681.7L150.0 680.7L150.4 679.2L150.6 678.2L150.8 676.7L150.8 675.2L150.7 673.7L150.5 672.2L150.4 671.2L150.2 669.7L150.0 668.2L149.9 667.2L149.7 665.7L149.5 664.3L149.3 663.2L149.1 661.7L149.0 660.7L148.8 659.2L148.6 657.7L148.4 656.7L148.2 655.2L148.0 653.7L147.9 652.7L147.7 651.2L147.5 649.8L147.4 648.7L147.2 647.2L147.0 645.9L146.9 644.7L146.7 643.2L146.5 641.7L146.4 640.7L146.2 639.2L146.1 637.7L146.0 636.6L145.9 635.2L145.7 633.7L145.6 632.2L145.5 630.7L145.5 629.7L145.4 628.2L145.3 626.7L145.2 625.2L145.2 623.7L145.1 622.2L145.1 620.7L145.1 619.2L145.1 617.7L145.1 616.2L145.2 614.7L145.3 613.2L145.4 611.7L145.5 610.6L145.7 609.2L145.9 607.7L146.0 606.7L146.3 605.2L146.5 604.2L146.8 602.7L147.1 601.7L147.5 600.3L147.8 599.2L148.2 598.2L148.5 597.2L149.0 596.1L149.5 595.0L150.0 593.9L150.5 593.0L151.0 592.2L151.6 591.2L152.3 590.2L153.0 589.4L153.7 588.7L154.5 587.9L155.5 587.2L156.3 586.7L157.5 586.2L158.5 586.0L160.0 586.0L161.0 586.3L162.1 586.7L163.0 587.2L164.0 587.9L164.8 588.7L165.5 589.4L166.2 590.2L166.9 591.2L167.5 592.1L168.0 593.0L168.5 593.9L169.0 595.0L169.5 596.1L169.9 597.2L170.3 598.2L170.6 599.2L171.0 600.5L171.3 601.7L171.6 602.7L171.9 604.2L172.1 605.2L172.3 606.7L172.5 608.0L172.7 609.2L172.8 610.7L172.9 612.2L173.0 613.2L173.1 614.7L173.1 616.2L173.2 617.7L173.2 619.2L173.1 620.7L173.1 622.2L173.1 623.7L173.0 625.2L173.0 626.2L172.9 627.7L172.8 629.2L172.8 630.7L172.7 632.2L172.5 633.7L172.5 634.7L172.3 636.2L172.2 637.7L172.1 639.2L172.0 640.2L171.8 641.7L171.7 643.2L171.5 644.6L171.4 645.7L171.2 647.2L171.0 648.7L170.9 649.7L170.7 651.2L170.5 652.7L170.4 653.7L170.2 655.2L170.0 656.7L169.9 657.7L169.7 659.2L169.5 660.5L169.3 661.7L169.1 663.2L169.0 664.2L168.8 665.7L168.6 667.2L168.5 668.2L168.3 669.7L168.1 671.2L168.0 672.2L167.8 673.7L167.7 675.2L167.7 676.7L167.8 678.2L168.0 679.6L168.2 680.7L168.5 682.1L168.7 683.2L168.9 684.7Z" fill="#222" fill-opacity="0.04" stroke="none"/>
<path d="M150.1 685.7L150.4 684.2L150.6 683.2L151.0 681.9L151.4 680.7L151.8 679.7L152.2 678.7L152.5 677.6L152.8 676.2L152.8 674.7L152.7 673.2L152.5 671.7L152.4 670.7L152.1 669.2L151.9 668.2L151.7 666.7L151.5 665.7L151.2 664.2L151.0 662.8L150.8 661.7L150.6 660.2L150.4 659.2L150.1 657.7L150.0 656.7L149.7 655.2L149.5 653.7L149.3 652.7L149.1 651.2L149.0 650.2L148.7 648.7L148.5 647.2L148.4 646.2L148.2 644.7L148.0 643.4L147.8 642.2L147.7 640.7L147.5 639.3L147.4 638.2L147.2 636.7L147.1 635.2L147.0 634.2L146.8 632.7L146.7 631.2L146.6 629.7L146.5 628.2L146.5 627.2L146.4 625.7L146.3 624.2L146.3 622.7L146.2 621.2L146.2 619.7L146.2 618.2L146.2 616.7L146.3 615.2L146.4 613.7L146.5 612.2L146.6 611.2L146.8 609.7L147.0 608.2L147.1 607.2L147.4 605.7L147.7 604.7L148.0 603.3L148.3 602.2L148.6 601.2L149.0 600.0L149.5 598.7L149.9 597.7L150.4 596.7L150.9 595.7L151.4 594.7L152.0 593.8L152.5 593.1L153.2 592.2L154.0 591.3L154.6 590.7L155.5 590.0L156.5 589.4L157.5 589.0L159.0 588.8L160.5 588.9L161.5 589.2L162.5 589.7L163.5 590.4L164.3 591.2L165.0 591.9L165.7 592.7L166.4 593.7L167.0 594.7L167.5 595.6L168.0 596.6L168.5 597.7L168.9 598.7L169.3 599.7L169.6 600.7L170.0 602.0L170.3 603.2L170.5 604.2L170.9 605.7L171.0 606.7L171.3 608.2L171.5 609.7L171.6 610.7L171.7 612.2L171.8 613.7L171.9 615.2L172.0 616.7L172.0 618.2L172.0 619.7L172.0 621.2L171.9 622.7L171.9 624.2L171.8 625.7L171.7 627.2L171.7 628.7L171.6 630.2L171.5 631.2L171.4 632.7L171.3 634.2L171.1 635.7L171.0 636.9L170.9 638.2L170.7 639.7L170.5 641.2L170.4 642.2L170.2 643.7L170.1 645.2L169.9 646.2L169.7 647.7L169.5 649.2L169.4 650.2L169.1 651.7L169.0 652.7L168.8 654.2L168.5 655.7L168.4 656.7L168.1 658.2L168.0 659.2L167.7 660.7L167.5 662.2L167.3 663.2L167.1 664.7L166.9 665.7L166.7 667.2L166.5 668.2L166.3 669.7L166.0 671.2L165.9 672.2L165.7 673.7L165.6 675.2L165.7 676.7L165.9 678.2L166.2 679.2L166.6 680.2L167.0 681.5L167.3 682.7L167.6 683.7L167.8 685.2Z" fill="#222" fill-opacity="0.04" stroke="none"/>
<path d="M151.0 685.7L151.3 684.2L151.6 683.2L152.0 682.1L152.5 681.1L153.0 680.2L153.6 679.2L154.1 678.2L154.6 677.2L155.0 676.2L155.3 674.7L155.2 673.2L155.0 672.2L154.6 670.7L154.4 669.7L154.0 668.2L153.8 667.2L153.5 666.0L153.2 664.7L153.0 663.7L152.6 662.2L152.4 661.2L152.1 659.7L151.9 658.7L151.6 657.2L151.4 656.2L151.1 654.7L150.9 653.7L150.6 652.2L150.5 651.2L150.2 649.7L150.0 648.5L149.8 647.2L149.5 645.7L149.4 644.7L149.2 643.2L149.0 642.1L148.8 640.7L148.6 639.2L148.5 638.2L148.3 636.7L148.2 635.2L148.0 633.7L147.9 632.7L147.8 631.2L147.7 629.7L147.6 628.2L147.5 627.2L147.4 625.7L147.3 624.2L147.3 622.7L147.2 621.2L147.2 619.7L147.2 618.2L147.3 616.7L147.3 615.2L147.4 613.7L147.5 612.4L147.6 611.2L147.8 609.7L148.0 608.6L148.3 607.2L148.5 606.0L148.8 604.7L149.1 603.7L149.5 602.3L149.9 601.2L150.3 600.2L150.7 599.2L151.1 598.2L151.7 597.2L152.3 596.2L152.9 595.2L153.5 594.5L154.2 593.7L155.0 592.9L156.0 592.2L156.9 591.7L158.0 591.3L159.5 591.2L161.0 591.5L162.0 592.0L163.0 592.6L163.7 593.2L164.5 594.1L165.0 594.7L165.8 595.7L166.4 596.7L166.9 597.7L167.4 598.7L167.8 599.7L168.2 600.7L168.6 601.7L169.0 603.0L169.3 604.2L169.6 605.2L169.9 606.7L170.1 607.7L170.3 609.2L170.5 610.7L170.6 611.7L170.7 613.2L170.8 614.7L170.9 616.2L170.9 617.7L170.9 619.2L170.9 620.7L170.9 622.2L170.8 623.7L170.8 625.2L170.7 626.7L170.6 628.2L170.5 629.7L170.4 630.7L170.3 632.2L170.2 633.7L170.0 635.2L169.9 636.2L169.8 637.7L169.6 639.2L169.5 640.2L169.3 641.7L169.1 643.2L168.9 644.2L168.7 645.7L168.5 647.0L168.3 648.2L168.1 649.7L167.9 650.7L167.6 652.2L167.5 653.2L167.2 654.7L167.0 655.7L166.7 657.2L166.5 658.2L166.2 659.7L166.0 660.7L165.7 662.2L165.5 663.2L165.2 664.7L164.9 665.7L164.6 667.2L164.4 668.2L164.0 669.7L163.7 670.7L163.5 671.8L163.2 673.2L163.1 674.7L163.3 676.2L163.6 677.2L164.1 678.2L164.6 679.2L165.1 680.2L165.6 681.2L166.0 682.2L166.5 683.5L166.8 684.7Z" fill="#222" fill-opacity="0.04" stroke="none"/>
<path d="M160.0 669.7L158.5 669.8L157.8 669.2L157.1 668.2L156.5 667.2L156.1 666.2L155.7 665.2L155.3 664.2L155.0 663.2L154.5 661.7L154.2 660.7L153.9 659.7L153.5 658.2L153.2 657.2L153.0 656.2L152.6 654.7L152.4 653.7L152.0 652.2L151.8 651.2L151.5 649.7L151.3 648.7L151.0 647.2L150.8 646.2L150.6 644.7L150.4 643.7L150.2 642.2L150.0 641.2L149.8 639.7L149.6 638.2L149.4 637.2L149.2 635.7L149.1 634.2L149.0 633.2L148.8 631.7L148.7 630.2L148.6 628.7L148.5 627.7L148.4 626.2L148.3 624.7L148.2 623.2L148.2 621.7L148.2 620.2L148.2 618.7L148.2 617.2L148.2 615.7L148.3 614.2L148.4 612.7L148.5 611.7L148.7 610.2L149.0 608.7L149.2 607.7L149.5 606.3L149.8 605.2L150.1 604.2L150.5 602.9L150.9 601.7L151.4 600.7L151.8 599.7L152.4 598.7L153.0 597.7L153.5 597.0L154.1 596.2L155.0 595.3L155.7 594.7L156.5 594.2L157.5 593.7L159.0 593.4L160.5 593.6L161.5 594.0L162.5 594.6L163.2 595.2L164.0 596.0L164.6 596.7L165.3 597.7L165.9 598.7L166.4 599.7L166.9 600.7L167.3 601.7L167.7 602.7L168.0 603.7L168.4 605.2L168.7 606.2L169.0 607.7L169.2 608.7L169.4 610.2L169.5 611.2L169.7 612.7L169.8 614.2L169.9 615.7L169.9 617.2L170.0 618.7L169.9 620.2L169.9 621.7L169.9 623.2L169.8 624.7L169.7 626.2L169.6 627.7L169.5 629.2L169.5 630.2L169.3 631.7L169.2 633.2L169.0 634.7L168.9 635.7L168.7 637.2L168.5 638.7L168.4 639.7L168.2 641.2L168.0 642.4L167.8 643.7L167.5 645.2L167.4 646.2L167.1 647.7L166.9 648.7L166.6 650.2L166.4 651.2L166.1 652.7L165.9 653.7L165.5 655.2L165.3 656.2L165.0 657.3L164.6 658.7L164.4 659.7L164.0 661.0L163.6 662.2L163.3 663.2L163.0 664.2L162.5 665.5L162.0 666.7L161.5 667.7L161.0 668.6L160.5 669.2ZM151.8 685.7L152.0 684.7L152.5 683.2L153.0 682.2L153.5 681.4L154.0 680.7L154.8 679.7L155.5 679.0L156.4 678.2L157.1 677.7L158.0 677.2L159.5 677.0L160.5 677.3L161.5 678.0L162.3 678.7L163.0 679.4L163.6 680.2L164.4 681.2L165.0 682.2L165.4 683.2L165.8 684.2L166.0 685.2Z" fill="#222" fill-opacity="0.04" stroke="none"/>
<path d="M160.0 662.3L158.5 662.4L157.6 661.7L157.0 660.9L156.5 660.1L156.0 659.1L155.5 658.0L155.0 656.7L154.6 655.7L154.3 654.7L154.0 653.7L153.5 652.2L153.3 651.2L153.0 650.2L152.6 648.7L152.4 647.7L152.1 646.2L151.9 645.2L151.6 643.7L151.4 642.7L151.1 641.2L150.9 640.2L150.7 638.7L150.5 637.5L150.3 636.2L150.1 634.7L150.0 633.7L149.8 632.2L149.7 630.7L149.5 629.2L149.4 628.2L149.3 626.7L149.2 625.2L149.2 623.7L149.1 622.2L149.1 620.7L149.1 619.2L149.1 617.7L149.1 616.2L149.2 614.7L149.3 613.2L149.5 611.7L149.6 610.7L149.9 609.2L150.1 608.2L150.4 606.7L150.7 605.7L151.0 604.7L151.5 603.3L152.0 602.2L152.4 601.2L153.0 600.2L153.5 599.4L154.0 598.6L154.8 597.7L155.5 597.0L156.5 596.3L157.5 595.8L158.5 595.6L160.0 595.6L161.0 595.9L162.0 596.5L162.9 597.2L163.5 597.8L164.3 598.7L165.0 599.7L165.5 600.7L166.0 601.7L166.5 602.7L166.8 603.7L167.2 604.7L167.5 605.9L167.8 607.2L168.1 608.2L168.4 609.7L168.5 610.7L168.7 612.2L168.9 613.7L169.0 615.2L169.0 616.4L169.0 617.7L169.0 619.2L169.0 620.7L169.0 621.8L169.0 623.2L168.9 624.7L168.8 626.2L168.7 627.7L168.6 629.2L168.5 630.2L168.3 631.7L168.2 633.2L168.0 634.7L167.9 635.7L167.7 637.2L167.5 638.4L167.3 639.7L167.0 641.2L166.9 642.2L166.6 643.7L166.4 644.7L166.1 646.2L165.9 647.2L165.5 648.7L165.3 649.7L165.0 650.9L164.6 652.2L164.4 653.2L164.0 654.4L163.6 655.7L163.2 656.7L162.9 657.7L162.4 658.7L162.0 659.7L161.4 660.7L160.6 661.7L160.0 662.3ZM152.6 685.7L153.0 684.2L153.4 683.2L154.0 682.2L154.5 681.6L155.4 680.7L156.0 680.2L157.0 679.6L158.4 679.2L159.5 679.2L160.5 679.4L161.5 679.9L162.5 680.6L163.1 681.2L163.9 682.2L164.5 683.2L164.9 684.2L165.2 685.2Z" fill="#222" fill-opacity="0.04" stroke="none"/>
<path d="M159.0 656.7L158.0 656.3L157.4 655.7L156.6 654.7L156.1 653.7L155.6 652.7L155.2 651.7L154.8 650.7L154.4 649.7L154.0 648.4L153.7 647.2L153.4 646.2L153.0 644.7L152.8 643.7L152.5 642.6L152.2 641.2L152.0 640.1L151.7 638.7L151.5 637.4L151.3 636.2L151.1 634.7L151.0 633.7L150.8 632.2L150.6 630.7L150.5 629.7L150.3 628.2L150.2 626.7L150.1 625.2L150.0 623.7L150.0 622.7L149.9 621.2L149.9 619.7L149.9 618.2L149.9 616.7L150.0 615.3L150.1 614.2L150.2 612.7L150.4 611.2L150.6 610.2L150.9 608.7L151.2 607.7L151.5 606.5L151.9 605.2L152.3 604.2L152.7 603.2L153.3 602.2L153.8 601.2L154.5 600.3L155.0 599.7L156.0 598.7L156.7 598.2L157.9 597.7L159.0 597.5L160.4 597.7L161.5 598.2L162.2 598.7L163.0 599.5L163.6 600.2L164.3 601.2L164.9 602.2L165.4 603.2L165.8 604.2L166.2 605.2L166.5 606.2L166.9 607.7L167.2 608.7L167.5 610.2L167.6 611.2L167.8 612.7L168.0 614.2L168.1 615.2L168.1 616.7L168.1 618.2L168.1 619.7L168.1 621.2L168.1 622.7L168.0 624.2L168.0 625.2L167.9 626.7L167.7 628.2L167.6 629.7L167.5 630.7L167.3 632.2L167.1 633.7L167.0 634.7L166.8 636.2L166.5 637.7L166.4 638.7L166.1 640.2L165.9 641.2L165.6 642.7L165.4 643.7L165.0 645.2L164.8 646.2L164.5 647.2L164.0 648.7L163.7 649.7L163.4 650.7L163.0 651.7L162.5 652.9L162.0 653.9L161.5 654.8L160.8 655.7L160.0 656.4L159.0 656.7ZM153.3 685.7L153.6 684.7L154.0 683.7L154.7 682.7L155.5 681.8L156.4 681.2L157.4 680.7L158.5 680.4L160.0 680.5L161.0 680.9L162.0 681.5L162.8 682.2L163.5 683.1L164.0 684.0L164.4 685.2Z" fill="#222" fill-opacity="0.04" stroke="none"/>
<path d="M159.5 651.7L158.5 651.7L157.5 651.0L156.9 650.2L156.2 649.2L155.7 648.2L155.3 647.2L154.9 646.2L154.5 645.0L154.1 643.7L153.8 642.7L153.5 641.6L153.2 640.2L152.9 639.2L152.6 637.7L152.4 636.7L152.2 635.2L152.0 634.2L151.8 632.7L151.6 631.2L151.5 630.2L151.3 628.7L151.1 627.2L151.0 625.7L150.9 624.7L150.9 623.2L150.8 621.7L150.8 620.2L150.8 618.7L150.8 617.2L150.8 615.7L150.9 614.2L151.1 613.2L151.3 611.7L151.5 610.4L151.8 609.2L152.0 608.2L152.5 606.7L152.9 605.7L153.3 604.7L153.8 603.7L154.4 602.7L155.0 601.8L155.6 601.2L156.5 600.4L157.5 599.8L158.5 599.5L160.0 599.6L161.0 600.0L162.0 600.6L162.6 601.2L163.4 602.2L164.0 603.1L164.5 604.0L165.0 605.1L165.4 606.2L165.8 607.2L166.1 608.2L166.4 609.7L166.6 610.7L166.9 612.2L167.0 613.2L167.1 614.7L167.2 616.2L167.3 617.7L167.3 619.2L167.3 620.7L167.2 622.2L167.2 623.7L167.1 625.2L167.0 626.2L166.9 627.7L166.7 629.2L166.5 630.7L166.4 631.7L166.2 633.2L166.0 634.6L165.8 635.7L165.5 637.2L165.4 638.2L165.0 639.7L164.8 640.7L164.5 641.9L164.2 643.2L163.9 644.2L163.5 645.4L163.0 646.7L162.6 647.7L162.2 648.7L161.6 649.7L161.0 650.6L160.4 651.2L159.5 651.7ZM154.0 685.7L154.2 685.2L154.4 684.7L154.5 684.4L154.6 684.2L154.9 683.7L155.0 683.6L155.3 683.2L155.5 683.0L155.8 682.7L156.0 682.5L156.5 682.2L156.5 682.2L157.0 681.9L157.5 681.7L157.5 681.7L158.0 681.5L158.5 681.5L159.0 681.4L159.5 681.5L160.0 681.6L160.4 681.7L160.5 681.7L161.0 682.0L161.4 682.2L161.5 682.3L162.0 682.7L162.1 682.7L162.5 683.2L162.5 683.2L162.9 683.7L163.0 683.8L163.2 684.2L163.5 684.7L163.5 684.8L163.6 685.2L163.8 685.7Z" fill="#222" fill-opacity="0.04" stroke="none"/>
<path d="M159.5 647.3L158.4 647.2L157.5 646.6L156.8 645.7L156.2 644.7L155.7 643.7L155.3 642.7L154.9 641.7L154.5 640.3L154.2 639.2L153.9 638.2L153.5 636.7L153.3 635.7L153.0 634.2L152.9 633.2L152.6 631.7L152.5 630.7L152.3 629.2L152.1 627.7L152.0 626.7L151.9 625.2L151.8 623.7L151.7 622.2L151.6 620.7L151.6 619.2L151.6 617.7L151.7 616.2L151.8 614.7L151.9 613.2L152.1 612.2L152.4 610.7L152.6 609.7L153.0 608.4L153.4 607.2L153.8 606.2L154.3 605.2L154.9 604.2L155.5 603.4L156.2 602.7L157.0 602.1L158.0 601.6L159.5 601.4L160.5 601.7L161.5 602.3L162.4 603.2L163.0 604.0L163.5 604.8L164.0 605.7L164.5 606.8L165.0 608.2L165.3 609.2L165.5 610.2L165.9 611.7L166.0 612.7L166.2 614.2L166.3 615.7L166.4 617.2L166.4 618.7L166.4 620.2L166.4 621.7L166.3 623.2L166.2 624.7L166.1 626.2L166.0 627.2L165.8 628.7L165.6 630.2L165.5 631.2L165.3 632.7L165.0 634.2L164.8 635.2L164.5 636.7L164.3 637.7L164.0 638.8L163.6 640.2L163.3 641.2L163.0 642.2L162.5 643.4L162.0 644.5L161.5 645.4L160.9 646.2L160.0 647.1ZM154.8 685.7L155.0 685.2L155.0 685.1L155.2 684.7L155.5 684.2L155.5 684.2L155.9 683.7L156.0 683.6L156.5 683.2L156.5 683.2L157.0 682.9L157.3 682.7L157.5 682.6L158.0 682.5L158.5 682.4L159.0 682.4L159.5 682.4L160.0 682.5L160.5 682.7L160.5 682.7L161.0 683.0L161.3 683.2L161.5 683.3L161.9 683.7L162.0 683.8L162.3 684.2L162.5 684.5L162.6 684.7L162.8 685.2L163.0 685.7Z" fill="#222" fill-opacity="0.04" stroke="none"/>
<path d="M159.0 643.2L158.0 642.8L157.3 642.2L156.6 641.2L156.1 640.2L155.7 639.2L155.3 638.2L155.0 637.2L154.5 635.7L154.3 634.7L154.0 633.4L153.8 632.2L153.5 630.8L153.3 629.7L153.1 628.2L153.0 627.2L152.8 625.7L152.7 624.2L152.6 622.7L152.5 621.2L152.5 620.0L152.5 618.7L152.5 617.7L152.6 616.2L152.7 614.7L152.9 613.2L153.0 612.2L153.4 610.7L153.7 609.7L154.0 608.7L154.5 607.5L155.0 606.6L155.6 605.7L156.4 604.7L157.0 604.2L158.0 603.6L159.5 603.5L160.5 603.8L161.5 604.5L162.1 605.2L162.8 606.2L163.4 607.2L163.8 608.2L164.2 609.2L164.5 610.2L164.9 611.7L165.1 612.7L165.3 614.2L165.4 615.7L165.5 617.2L165.5 618.2L165.5 619.7L165.5 620.7L165.4 622.2L165.4 623.7L165.2 625.2L165.1 626.7L165.0 627.7L164.8 629.2L164.5 630.7L164.4 631.7L164.1 633.2L163.9 634.2L163.5 635.7L163.2 636.7L162.9 637.7L162.5 638.9L162.0 640.1L161.5 641.1L161.0 641.9L160.2 642.7L159.0 643.2ZM155.6 685.7L155.8 685.2L156.0 684.9L156.2 684.7L156.5 684.3L156.6 684.2L157.0 683.9L157.3 683.7L157.5 683.6L158.0 683.4L158.5 683.3L159.0 683.3L159.5 683.3L160.0 683.5L160.5 683.7L160.5 683.7L161.0 684.0L161.2 684.2L161.5 684.5L161.6 684.7L161.9 685.2L162.0 685.3L162.1 685.7Z" fill="#222" fill-opacity="0.04" stroke="none"/>
<path d="M160.0 638.7L158.5 639.0L157.5 638.2L157.0 637.6L156.5 636.6L156.0 635.5L155.5 634.2L155.2 633.2L155.0 632.2L154.6 630.7L154.4 629.7L154.2 628.2L154.0 627.1L153.8 625.7L153.7 624.2L153.5 622.7L153.5 621.7L153.4 620.2L153.4 618.7L153.5 617.2L153.5 616.2L153.6 614.7L153.9 613.2L154.1 612.2L154.5 610.7L154.9 609.7L155.3 608.7L155.9 607.7L156.5 606.9L157.3 606.2L158.3 605.7L159.5 605.6L160.5 606.0L161.3 606.7L162.0 607.5L162.5 608.3L163.0 609.3L163.5 610.7L163.8 611.7L164.0 612.7L164.3 614.2L164.4 615.7L164.5 616.7L164.6 618.2L164.6 619.7L164.5 621.2L164.5 622.2L164.4 623.7L164.2 625.2L164.0 626.7L163.9 627.7L163.7 629.2L163.5 630.2L163.2 631.7L162.9 632.7L162.5 634.1L162.1 635.2L161.7 636.2L161.2 637.2L160.6 638.2L160.0 638.7ZM156.6 685.7L156.9 685.2L157.0 685.1L157.5 684.7L157.5 684.7L158.0 684.4L158.5 684.3L159.0 684.3L159.5 684.4L160.0 684.5L160.3 684.7L160.5 684.9L160.8 685.2L161.0 685.5L161.1 685.7Z" fill="#222" fill-opacity="0.04" stroke="none"/>
<path d="M159.5 634.7L158.4 634.7L157.5 633.8L157.0 633.0L156.5 631.9L156.1 630.7L155.8 629.7L155.5 628.6L155.2 627.2L155.0 626.0L154.8 624.7L154.7 623.2L154.5 621.7L154.5 620.7L154.5 619.2L154.5 617.7L154.5 616.7L154.7 615.2L154.9 613.7L155.2 612.7L155.5 611.6L156.0 610.5L156.5 609.6L157.3 608.7L158.0 608.2L159.5 608.0L160.5 608.5L161.2 609.2L161.9 610.2L162.3 611.2L162.7 612.2L163.0 613.4L163.2 614.7L163.4 616.2L163.5 617.7L163.5 618.7L163.5 620.2L163.5 621.2L163.4 622.7L163.2 624.2L163.0 625.7L162.9 626.7L162.6 628.2L162.3 629.2L162.0 630.5L161.6 631.7L161.1 632.7L160.6 633.7L160.0 634.4Z" fill="#222" fill-opacity="0.04" stroke="none"/>
<path d="M159.5 630.3L158.4 630.2L157.5 629.2L157.0 628.2L156.7 627.2L156.4 626.2L156.1 624.7L155.9 623.7L155.7 622.2L155.6 620.7L155.6 619.2L155.6 617.7L155.7 616.2L156.0 614.7L156.2 613.7L156.6 612.7L157.2 611.7L158.0 610.8L159.0 610.5L160.0 610.8L160.8 611.7L161.4 612.7L161.7 613.7L162.0 614.7L162.2 616.2L162.3 617.7L162.4 619.2L162.3 620.7L162.2 622.2L162.0 623.7L161.9 624.7L161.6 626.2L161.3 627.2L160.9 628.2L160.5 629.2L159.6 630.2Z" fill="#222" fill-opacity="0.04" stroke="none"/>
<path d="M133.5 685.7L133.5 685.2L133.5 684.2L133.4 683.2L133.4 682.2L133.4 681.2L133.3 680.2L133.3 679.2L133.3 678.2L133.2 677.2L133.2 676.2L133.2 675.2L133.1 674.2L133.1 673.2L133.1 672.2L133.0 671.2L133.0 670.2L133.0 669.7L132.9 668.7L132.9 667.7L132.9 666.7L132.8 665.7L132.8 664.7L132.8 663.7L132.7 662.7L132.7 661.7L132.6 660.7L132.6 659.7L132.6 658.7L132.5 657.7L132.5 657.0L132.5 656.2L132.4 655.2L132.4 654.2L132.3 653.2L132.3 652.2L132.3 651.2L132.2 650.2L132.2 649.2L132.1 648.2L132.1 647.2L132.1 646.2L132.0 645.2L132.0 644.7L132.0 643.7L131.9 642.7L131.9 641.7L131.8 640.7L131.8 639.7L131.8 638.7L131.7 637.7L131.7 636.7L131.7 635.7L131.6 634.7L131.6 633.7L131.6 632.7L131.5 631.7L131.5 630.7L131.5 629.7L131.5 629.2L131.5 628.2L131.4 627.2L131.4 626.2L131.4 625.2L131.4 624.2L131.4 623.2L131.4 622.2L131.4 621.2L131.4 620.2L131.4 619.2L131.4 618.2L131.4 617.2L131.4 616.2L131.4 615.2L131.4 614.2L131.4 613.2L131.4 612.2L131.5 611.2L131.5 610.2L131.5 609.7L131.6 608.7L131.6 607.7L131.7 606.7L131.7 605.7L131.8 604.7L131.8 603.7L131.9 602.7L132.0 601.7L132.0 601.2L132.1 600.2L132.2 599.2L132.4 598.2L132.5 597.2L132.6 596.7L132.7 595.7L132.9 594.7L133.0 593.8L133.1 593.2L133.3 592.2L133.5 591.2L133.6 590.7L133.8 589.7L134.0 588.7L134.1 588.2L134.3 587.2L134.5 586.6L134.7 585.7L135.0 584.7L135.1 584.2L135.4 583.2L135.5 582.7L135.8 581.7L136.0 581.1L136.3 580.2L136.5 579.5L136.8 578.7L137.0 578.0L137.3 577.2L137.5 576.6L137.8 575.7L138.0 575.2L138.4 574.2L138.6 573.7L139.0 572.7L139.2 572.2L139.5 571.4L139.8 570.7L140.0 570.2L140.4 569.2L140.6 568.7L141.0 567.9L141.3 567.2L141.6 566.7L142.0 565.8L142.3 565.2L142.5 564.7L143.0 563.8L143.3 563.2L143.6 562.7L144.0 561.9L144.4 561.2L144.7 560.7L145.0 560.1L145.5 559.3L145.8 558.7L146.2 558.2L146.5 557.7L147.0 556.9L147.5 556.2L147.8 555.7L148.2 555.2L148.6 554.7L149.0 554.2L149.5 553.6L150.0 553.0L150.5 552.5L151.0 552.0L151.5 551.5L152.0 551.0L152.5 550.6L153.0 550.2L153.7 549.7L154.5 549.2L155.0 548.9L155.5 548.7L156.5 548.3L157.0 548.1L158.0 547.8L158.9 547.7L159.5 547.6L160.5 547.6L161.5 547.6L162.3 547.7L163.0 547.8L164.0 547.9L165.0 548.1L165.9 548.2L166.5 548.3L167.5 548.4L168.5 548.5L169.5 548.5L170.5 548.5L171.5 548.4L172.5 548.3L173.1 548.2L174.0 548.0L175.0 547.8L175.5 547.7L176.5 547.4L177.2 547.2L178.0 546.9L178.5 546.7L179.5 546.3L180.0 546.0L180.7 545.7L181.5 545.2L182.0 545.0L182.5 544.6L183.2 544.2L184.0 543.7L184.5 543.4L185.0 543.1L185.6 542.7L186.4 542.2L187.0 541.9L187.5 541.6L188.5 541.2L189.0 541.0L189.8 540.7L190.5 540.5L191.5 540.3L192.0 540.2L193.0 540.0L194.0 540.0L195.0 540.1L195.8 540.2L196.5 540.4L197.4 540.7L198.0 541.0L198.5 541.3L199.1 541.7L199.8 542.2L200.3 542.7L200.8 543.2L201.2 543.7L201.6 544.2L202.0 544.8L202.5 545.7L202.8 546.2L203.0 546.7L203.5 547.7L203.7 548.2L204.0 549.0L204.2 549.7L204.5 550.6L204.7 551.2L204.9 552.2L205.0 552.8L205.2 553.7L205.3 554.7L205.4 555.7L205.5 556.2L205.6 557.2L205.6 558.2L205.7 559.2L205.7 560.2L205.7 561.2L205.7 562.2L205.6 563.2L205.5 564.2L205.5 564.7L205.4 565.7L205.3 566.7L205.2 567.7L205.0 568.7L204.9 569.2L204.8 570.2L204.6 571.2L204.5 571.8L204.3 572.7L204.1 573.7L204.0 574.2L203.8 575.2L203.6 576.2L203.4 576.7L203.2 577.7L203.0 578.5L202.8 579.2L202.6 580.2L202.5 580.7L202.3 581.7L202.0 582.7L201.9 583.2L201.7 584.2L201.5 585.0L201.4 585.7L201.2 586.7L201.0 587.5L200.9 588.2L200.7 589.2L200.5 590.2L200.5 590.7L200.3 591.7L200.2 592.7L200.0 593.7L200.0 594.2L199.9 595.2L199.7 596.2L199.6 597.2L199.5 598.2L199.5 598.7L199.4 599.7L199.3 600.7L199.2 601.7L199.1 602.7L199.0 603.7L199.0 604.2L198.9 605.2L198.8 606.2L198.7 607.2L198.6 608.2L198.5 609.0L198.4 609.7L198.3 610.7L198.2 611.7L198.1 612.7L198.0 613.6L197.9 614.2L197.8 615.2L197.7 616.2L197.5 617.2L197.5 617.7L197.3 618.7L197.2 619.7L197.0 620.7L197.0 621.2L196.8 622.2L196.7 623.2L196.5 624.2L196.4 624.7L196.3 625.7L196.1 626.7L196.0 627.3L195.8 628.2L195.7 629.2L195.5 630.2L195.4 630.7L195.3 631.7L195.1 632.7L195.0 633.3L194.9 634.2L194.7 635.2L194.6 636.2L194.5 636.7L194.4 637.7L194.2 638.7L194.1 639.7L194.0 640.4L193.9 641.2L193.8 642.2L193.7 643.2L193.6 644.2L193.5 645.0L193.4 645.7L193.4 646.7L193.3 647.7L193.2 648.7L193.1 649.7L193.0 650.7L193.0 651.4L193.0 652.2L192.9 653.2L192.8 654.2L192.8 655.2L192.8 656.2L192.7 657.2L192.7 658.2L192.6 659.2L192.6 660.2L192.6 661.2L192.5 662.2L192.5 662.7L192.5 663.7L192.4 664.7L192.4 665.7L192.4 666.7L192.4 667.7L192.3 668.7L192.3 669.7L192.3 670.7L192.2 671.7L192.2 672.7L192.2 673.7L192.2 674.7L192.1 675.7L192.1 676.7L192.1 677.7L192.0 678.7L192.0 679.7L192.0 680.2L192.0 681.2L191.9 682.2L191.9 683.2L191.9 684.2L191.8 685.2M136.9 685.7L136.8 684.7L136.8 683.7L136.8 682.7L136.7 681.7L136.7 680.7L136.7 679.7L136.6 678.7L136.6 677.7L136.5 676.7L136.5 675.7L136.5 675.2L136.4 674.2L136.4 673.2L136.3 672.2L136.3 671.2L136.3 670.2L136.2 669.2L136.2 668.2L136.1 667.2L136.1 666.2L136.0 665.2L136.0 664.4L136.0 663.7L135.9 662.7L135.9 661.7L135.8 660.7L135.8 659.7L135.7 658.7L135.7 657.7L135.6 656.7L135.6 655.7L135.5 654.7L135.5 654.2L135.4 653.2L135.4 652.2L135.3 651.2L135.3 650.2L135.2 649.2L135.2 648.2L135.1 647.2L135.1 646.2L135.0 645.2L135.0 644.7L134.9 643.7L134.9 642.7L134.8 641.7L134.8 640.7L134.7 639.7L134.7 638.7L134.7 637.7L134.6 636.7L134.6 635.7L134.5 634.7L134.5 633.7L134.5 633.2L134.5 632.2L134.4 631.2L134.4 630.2L134.4 629.2L134.3 628.2L134.3 627.2L134.3 626.2L134.3 625.2L134.2 624.2L134.2 623.2L134.2 622.2L134.2 621.2L134.2 620.2L134.2 619.2L134.2 618.2L134.2 617.2L134.2 616.2L134.2 615.2L134.2 614.2L134.3 613.2L134.3 612.2L134.3 611.2L134.4 610.2L134.4 609.2L134.5 608.2L134.5 607.7L134.6 606.7L134.7 605.7L134.7 604.7L134.8 603.7L134.9 602.7L135.0 602.0L135.1 601.2L135.2 600.2L135.3 599.2L135.5 598.2L135.6 597.7L135.7 596.7L135.9 595.7L136.0 595.1L136.2 594.2L136.4 593.2L136.5 592.5L136.7 591.7L136.9 590.7L137.0 590.2L137.3 589.2L137.5 588.3L137.6 587.7L137.9 586.7L138.1 586.2L138.3 585.2L138.5 584.7L138.8 583.7L139.0 583.1L139.3 582.2L139.5 581.6L139.8 580.7L140.0 580.2L140.4 579.2L140.5 578.7L140.9 577.7L141.1 577.2L141.5 576.3L141.7 575.7L142.0 575.1L142.4 574.2L142.6 573.7L143.0 572.9L143.3 572.2L143.6 571.7L144.0 570.8L144.3 570.2L144.6 569.7L145.0 568.9L145.4 568.2L145.7 567.7L146.0 567.1L146.5 566.3L146.9 565.7L147.2 565.2L147.5 564.7L148.0 564.0L148.5 563.3L148.9 562.7L149.3 562.2L149.7 561.7L150.1 561.2L150.6 560.7L151.0 560.2L151.5 559.7L152.1 559.2L152.6 558.7L153.3 558.2L153.9 557.7L154.5 557.3L155.0 557.0L155.7 556.7L156.5 556.3L157.0 556.2L158.0 555.9L159.0 555.7L159.5 555.6L160.5 555.6L161.5 555.7L162.0 555.7L163.0 555.9L164.0 556.1L164.5 556.2L165.5 556.6L166.0 556.7L167.0 557.1L167.5 557.3L168.5 557.7L169.0 557.9L169.6 558.2L170.5 558.6L171.0 558.9L171.8 559.2L172.5 559.5L173.3 559.7L174.0 559.7L174.5 559.6L175.2 559.2L175.7 558.7L176.1 558.2L176.6 557.7L177.0 557.2L177.5 556.6L178.0 556.1L178.5 555.6L179.0 555.1L179.5 554.7L180.1 554.2L180.7 553.7L181.4 553.2L182.0 552.8L182.5 552.4L183.0 552.1L183.6 551.7L184.5 551.2L185.0 550.9L185.5 550.6L186.4 550.2L187.0 550.0L187.7 549.7L188.5 549.4L189.5 549.2L190.0 549.1L191.0 549.0L192.0 549.0L193.0 549.1L193.6 549.2L194.5 549.5L195.0 549.7L195.7 550.2L196.4 550.7L196.9 551.2L197.3 551.7L197.7 552.2L198.0 552.7L198.5 553.5L198.8 554.2L199.0 554.7L199.4 555.7L199.5 556.2L199.8 557.2L200.0 558.1L200.1 558.7L200.3 559.7L200.4 560.7L200.4 561.7L200.5 562.7L200.5 563.7L200.5 564.7L200.4 565.7L200.4 566.7L200.3 567.7L200.2 568.7L200.1 569.7L200.0 570.3L199.9 571.2L199.7 572.2L199.6 573.2L199.5 573.7L199.3 574.7L199.1 575.7L199.0 576.2L198.8 577.2L198.6 578.2L198.5 578.7L198.3 579.7L198.1 580.7L198.0 581.2L197.8 582.2L197.6 583.2L197.5 583.8L197.3 584.7L197.2 585.7L197.0 586.7L196.9 587.2L196.8 588.2L196.7 589.2L196.5 590.2L196.5 590.7L196.4 591.7L196.3 592.7L196.2 593.7L196.1 594.7L196.0 595.4L195.9 596.2L195.9 597.2L195.8 598.2L195.7 599.2L195.6 600.2L195.6 601.2L195.5 602.0L195.4 602.7L195.4 603.7L195.3 604.7L195.2 605.7L195.1 606.7L195.0 607.7L195.0 608.2L194.9 609.2L194.8 610.2L194.7 611.2L194.6 612.2L194.5 612.7L194.4 613.7L194.3 614.7L194.1 615.7L194.0 616.7L193.9 617.2L193.8 618.2L193.6 619.2L193.5 620.2L193.4 620.7L193.3 621.7L193.1 622.7L193.0 623.6L192.9 624.2L192.8 625.2L192.6 626.2L192.5 626.9L192.4 627.7L192.2 628.7L192.1 629.7L192.0 630.3L191.9 631.2L191.7 632.2L191.6 633.2L191.5 634.0L191.4 634.7L191.3 635.7L191.2 636.7L191.1 637.7L191.0 638.2L190.9 639.2L190.8 640.2L190.7 641.2L190.6 642.2L190.5 643.2L190.5 643.7L190.4 644.7L190.3 645.7L190.2 646.7L190.1 647.7L190.1 648.7L190.0 649.7L190.0 650.2L189.9 651.2L189.9 652.2L189.8 653.2L189.8 654.2L189.7 655.2L189.7 656.2L189.6 657.2L189.6 658.2L189.5 659.2L189.5 659.9L189.5 660.7L189.4 661.7L189.4 662.7L189.3 663.7L189.3 664.7L189.3 665.7L189.2 666.7L189.2 667.7L189.1 668.7L189.1 669.7L189.1 670.7L189.0 671.7L189.0 672.2L188.9 673.2L188.9 674.2L188.9 675.2L188.8 676.2L188.8 677.2L188.7 678.2L188.6 679.2L188.6 680.2L188.5 681.2L188.5 681.7L188.4 682.7L188.4 683.7L188.3 684.7L188.2 685.7M139.8 685.7L139.7 684.7L139.7 683.7L139.6 682.7L139.6 681.7L139.6 680.7L139.5 679.7L139.5 679.1L139.5 678.2L139.4 677.2L139.4 676.2L139.3 675.2L139.3 674.2L139.2 673.2L139.2 672.2L139.1 671.2L139.1 670.2L139.0 669.2L139.0 668.7L138.9 667.7L138.9 666.7L138.8 665.7L138.7 664.7L138.7 663.7L138.6 662.7L138.6 661.7L138.5 660.7L138.5 660.2L138.4 659.2L138.4 658.2L138.3 657.2L138.2 656.2L138.2 655.2L138.1 654.2L138.0 653.2L138.0 652.4L138.0 651.7L137.9 650.7L137.8 649.7L137.8 648.7L137.7 647.7L137.6 646.7L137.6 645.7L137.5 644.7L137.5 644.2L137.4 643.2L137.4 642.2L137.3 641.2L137.3 640.2L137.2 639.2L137.2 638.2L137.1 637.2L137.1 636.2L137.0 635.2L137.0 634.7L136.9 633.7L136.9 632.7L136.9 631.7L136.8 630.7L136.8 629.7L136.7 628.7L136.7 627.7L136.7 626.7L136.7 625.7L136.6 624.7L136.6 623.7L136.6 622.7L136.6 621.7L136.6 620.7L136.6 619.7L136.6 618.7L136.6 617.7L136.6 616.7L136.6 615.7L136.6 614.7L136.6 613.7L136.7 612.7L136.7 611.7L136.8 610.7L136.8 609.7L136.9 608.7L137.0 607.7L137.0 607.2L137.1 606.2L137.2 605.2L137.3 604.2L137.4 603.2L137.5 602.5L137.6 601.7L137.7 600.7L137.9 599.7L138.0 599.0L138.1 598.2L138.3 597.2L138.5 596.2L138.6 595.7L138.8 594.7L139.0 593.8L139.1 593.2L139.4 592.2L139.5 591.7L139.8 590.7L140.0 589.9L140.2 589.2L140.5 588.2L140.6 587.7L140.9 586.7L141.1 586.2L141.4 585.2L141.6 584.7L142.0 583.7L142.2 583.2L142.5 582.3L142.7 581.7L143.0 581.0L143.3 580.2L143.6 579.7L144.0 578.7L144.2 578.2L144.5 577.6L144.9 576.7L145.2 576.2L145.5 575.6L146.0 574.7L146.2 574.2L146.5 573.7L147.0 572.9L147.4 572.2L147.7 571.7L148.0 571.2L148.5 570.5L149.0 569.8L149.4 569.2L149.8 568.7L150.2 568.2L150.7 567.7L151.1 567.2L151.6 566.7L152.1 566.2L152.6 565.7L153.2 565.2L153.9 564.7L154.5 564.3L155.0 564.0L155.5 563.7L156.5 563.3L157.0 563.1L158.0 562.9L159.0 562.7L160.0 562.7L161.0 562.9L162.0 563.1L162.5 563.3L163.5 563.7L164.0 563.9L164.5 564.2L165.3 564.7L166.0 565.2L166.5 565.6L167.0 566.1L167.5 566.5L168.0 567.0L168.5 567.5L169.0 568.0L169.5 568.6L170.0 569.2L170.5 569.7L170.9 570.2L171.3 570.7L171.7 571.2L172.1 571.7L172.5 572.2L173.0 572.9L173.5 573.5L174.0 574.2L174.4 574.7L174.8 575.2L175.2 575.7L175.5 576.2L176.0 576.8L176.5 577.5L177.0 578.2L177.4 578.7L177.8 579.2L178.1 579.7L178.5 580.3L179.0 580.9L179.5 581.6L180.0 582.2L180.4 582.7L180.8 583.2L181.3 583.7L182.0 584.2L182.5 584.3L183.0 584.1L183.5 583.5L183.8 582.7L184.0 582.2L184.2 581.2L184.4 580.2L184.5 579.6L184.6 578.7L184.8 577.7L184.9 576.7L185.0 575.8L185.1 575.2L185.2 574.2L185.4 573.2L185.5 572.3L185.6 571.7L185.8 570.7L186.0 569.7L186.1 569.2L186.4 568.2L186.5 567.6L186.8 566.7L187.0 566.1L187.4 565.2L187.7 564.7L188.0 564.2L188.5 563.7L189.2 563.2L190.0 563.0L190.9 563.2L191.5 563.6L192.0 564.2L192.2 564.7L192.5 565.3L192.8 566.2L193.0 567.2L193.0 567.7L193.1 568.7L193.1 569.7L193.1 570.7L193.1 571.7L193.0 572.3L192.9 573.2L192.7 574.2L192.6 575.2L192.5 575.7L192.3 576.7L192.1 577.7L192.0 578.2L191.8 579.2L191.6 580.2L191.4 580.7L191.2 581.7L191.0 582.7L190.9 583.2L190.7 584.2L190.5 585.2L190.5 585.7L190.3 586.7L190.2 587.7L190.1 588.7L190.1 589.7L190.0 590.7L190.0 591.7L190.0 592.7L190.0 593.7L190.0 594.7L190.1 595.7L190.1 596.7L190.1 597.7L190.2 598.7L190.2 599.7L190.2 600.7L190.2 601.7L190.2 602.7L190.2 603.7L190.2 604.7L190.1 605.7L190.1 606.7L190.1 607.7L190.0 608.7L190.0 609.2L189.9 610.2L189.9 611.2L189.8 612.2L189.7 613.2L189.6 614.2L189.5 615.2L189.5 615.7L189.4 616.7L189.2 617.7L189.1 618.7L189.0 619.7L189.0 620.2L188.8 621.2L188.7 622.2L188.6 623.2L188.5 623.7L188.4 624.7L188.2 625.7L188.1 626.7L188.0 627.4L187.9 628.2L187.7 629.2L187.6 630.2L187.5 631.0L187.4 631.7L187.3 632.7L187.1 633.7L187.0 634.6L186.9 635.2L186.8 636.2L186.6 637.2L186.5 638.2L186.5 638.7L186.3 639.7L186.2 640.7L186.1 641.7L186.0 642.2L185.9 643.2L185.7 644.2L185.6 645.2L185.5 646.1L185.4 646.7L185.3 647.7L185.2 648.7L185.0 649.7L185.0 650.2L184.9 651.2L184.7 652.2L184.6 653.2L184.5 654.0L184.4 654.7L184.3 655.7L184.2 656.7L184.0 657.7L184.0 658.2L183.8 659.2L183.7 660.2L183.6 661.2L183.5 661.8L183.4 662.7L183.3 663.7L183.1 664.7L183.0 665.7L182.9 666.2L182.8 667.2L182.7 668.2L182.6 669.2L182.5 670.0L182.4 670.7L182.3 671.7L182.2 672.7L182.1 673.7L182.0 674.5L181.9 675.2L181.8 676.2L181.7 677.2L181.6 678.2L181.5 679.2L181.5 679.7L181.4 680.7L181.3 681.7L181.2 682.7L181.1 683.7L181.1 684.7L181.0 685.3M142.2 685.7L142.1 684.7L142.1 683.7L142.1 682.7L142.1 681.7L142.0 680.7L142.0 680.2L142.0 679.2L141.9 678.2L141.9 677.2L141.8 676.2L141.8 675.2L141.7 674.2L141.6 673.2L141.6 672.2L141.5 671.2L141.5 670.7L141.4 669.7L141.4 668.7L141.3 667.7L141.2 666.7L141.2 665.7L141.1 664.7L141.0 663.7L141.0 663.2L140.9 662.2L140.9 661.2L140.8 660.2L140.7 659.2L140.6 658.2L140.6 657.2L140.5 656.2L140.5 655.7L140.4 654.7L140.3 653.7L140.2 652.7L140.2 651.7L140.1 650.7L140.0 649.7L140.0 649.2L139.9 648.2L139.8 647.2L139.8 646.2L139.7 645.2L139.6 644.2L139.6 643.2L139.5 642.4L139.5 641.7L139.4 640.7L139.3 639.7L139.3 638.7L139.2 637.7L139.1 636.7L139.1 635.7L139.0 634.7L139.0 633.8L139.0 633.2L138.9 632.2L138.9 631.2L138.8 630.2L138.8 629.2L138.8 628.2L138.7 627.2L138.7 626.2L138.7 625.2L138.6 624.2L138.6 623.2L138.6 622.2L138.6 621.2L138.6 620.2L138.6 619.2L138.6 618.2L138.6 617.2L138.6 616.2L138.6 615.2L138.6 614.2L138.7 613.2L138.7 612.2L138.8 611.2L138.8 610.2L138.9 609.2L139.0 608.3L139.0 607.7L139.1 606.7L139.2 605.7L139.4 604.7L139.5 603.7L139.5 603.2L139.7 602.2L139.8 601.2L140.0 600.2L140.1 599.7L140.3 598.7L140.5 597.7L140.6 597.2L140.8 596.2L141.0 595.3L141.2 594.7L141.4 593.7L141.5 593.2L141.8 592.2L142.0 591.6L142.3 590.7L142.5 589.9L142.7 589.2L143.0 588.4L143.2 587.7L143.5 587.0L143.8 586.2L144.0 585.7L144.4 584.7L144.6 584.2L145.0 583.3L145.3 582.7L145.5 582.2L146.0 581.2L146.2 580.7L146.5 580.1L147.0 579.2L147.3 578.7L147.6 578.2L148.0 577.5L148.5 576.7L148.8 576.2L149.1 575.7L149.5 575.2L150.0 574.5L150.5 573.9L151.0 573.2L151.5 572.7L152.0 572.2L152.5 571.7L153.0 571.2L153.5 570.8L154.0 570.4L154.5 570.1L155.1 569.7L156.0 569.2L156.5 569.0L157.5 568.7L158.0 568.6L159.0 568.5L160.0 568.5L161.0 568.7L161.5 568.8L162.5 569.2L163.0 569.4L163.6 569.7L164.4 570.2L165.0 570.6L165.5 571.0L166.0 571.4L166.5 571.8L167.0 572.3L167.5 572.8L168.0 573.3L168.5 573.9L169.0 574.4L169.5 575.0L170.0 575.7L170.4 576.2L170.8 576.7L171.1 577.2L171.5 577.7L172.0 578.5L172.5 579.2L172.8 579.7L173.1 580.2L173.5 580.9L173.9 581.7L174.2 582.2L174.5 582.8L174.9 583.7L175.2 584.2L175.5 584.9L175.9 585.7L176.1 586.2L176.5 587.2L176.7 587.7L177.0 588.6L177.2 589.2L177.5 590.1L177.7 590.7L178.0 591.7L178.1 592.2L178.4 593.2L178.5 593.7L178.8 594.7L179.0 595.6L179.1 596.2L179.4 597.2L179.5 597.9L179.7 598.7L179.8 599.7L180.0 600.7L180.1 601.2L180.2 602.2L180.4 603.2L180.5 604.2L180.5 604.7L180.7 605.7L180.8 606.7L180.8 607.7L180.9 608.7L181.0 609.6L181.0 610.2L181.1 611.2L181.2 612.2L181.2 613.2L181.3 614.2L181.3 615.2L181.3 616.2L181.3 617.2L181.3 618.2L181.3 619.2L181.3 620.2L181.3 621.2L181.3 622.2L181.3 623.2L181.2 624.2L181.2 625.2L181.2 626.2L181.1 627.2L181.1 628.2L181.0 629.2L181.0 629.7L180.9 630.7L180.9 631.7L180.8 632.7L180.8 633.7L180.7 634.7L180.6 635.7L180.5 636.7L180.5 637.2L180.4 638.2L180.4 639.2L180.3 640.2L180.2 641.2L180.1 642.2L180.1 643.2L180.0 643.8L179.9 644.7L179.9 645.7L179.8 646.7L179.7 647.7L179.6 648.7L179.5 649.7L179.5 650.2L179.4 651.2L179.3 652.2L179.3 653.2L179.2 654.2L179.1 655.2L179.0 656.2L179.0 656.7L178.9 657.7L178.9 658.7L178.8 659.7L178.7 660.7L178.6 661.7L178.6 662.7L178.5 663.6L178.5 664.2L178.4 665.2L178.3 666.2L178.3 667.2L178.2 668.2L178.1 669.2L178.1 670.2L178.0 671.2L178.0 671.7L177.9 672.7L177.9 673.7L177.8 674.7L177.7 675.7L177.7 676.7L177.6 677.7L177.6 678.7L177.5 679.7L177.5 680.2L177.4 681.2L177.4 682.2L177.3 683.2L177.3 684.2L177.3 685.2M144.4 685.7L144.4 684.7L144.4 683.7L144.4 682.7L144.4 681.7L144.4 680.7L144.4 679.7L144.3 678.7L144.3 677.7L144.2 676.7L144.2 675.7L144.1 674.7L144.1 673.7L144.0 672.7L144.0 672.2L143.9 671.2L143.8 670.2L143.7 669.2L143.7 668.2L143.6 667.2L143.5 666.2L143.5 665.7L143.4 664.7L143.3 663.7L143.2 662.7L143.1 661.7L143.1 660.7L143.0 659.9L142.9 659.2L142.8 658.2L142.8 657.2L142.7 656.2L142.6 655.2L142.5 654.2L142.5 653.7L142.4 652.7L142.3 651.7L142.2 650.7L142.1 649.7L142.0 648.7L142.0 648.2L141.9 647.2L141.8 646.2L141.7 645.2L141.7 644.2L141.6 643.2L141.5 642.2L141.5 641.7L141.4 640.7L141.3 639.7L141.3 638.7L141.2 637.7L141.1 636.7L141.1 635.7L141.0 634.7L141.0 634.2L140.9 633.2L140.9 632.2L140.8 631.2L140.8 630.2L140.7 629.2L140.7 628.2L140.6 627.2L140.6 626.2L140.6 625.2L140.5 624.2L140.5 623.2L140.5 622.2L140.5 621.6L140.5 620.7L140.5 619.7L140.5 618.7L140.5 617.7L140.5 616.7L140.5 616.2L140.5 615.2L140.6 614.2L140.6 613.2L140.6 612.2L140.7 611.2L140.8 610.2L140.9 609.2L141.0 608.2L141.0 607.7L141.1 606.7L141.2 605.7L141.4 604.7L141.5 603.8L141.6 603.2L141.7 602.2L141.9 601.2L142.0 600.7L142.2 599.7L142.4 598.7L142.5 598.2L142.8 597.2L143.0 596.3L143.2 595.7L143.4 594.7L143.6 594.2L143.9 593.2L144.1 592.7L144.4 591.7L144.6 591.2L144.9 590.2L145.1 589.7L145.5 588.7L145.7 588.2L146.0 587.5L146.3 586.7L146.6 586.2L147.0 585.3L147.3 584.7L147.6 584.2L148.0 583.4L148.4 582.7L148.7 582.2L149.0 581.7L149.5 580.9L150.0 580.2L150.3 579.7L150.7 579.2L151.1 578.7L151.5 578.2L152.0 577.7L152.5 577.1L153.0 576.7L153.5 576.2L154.2 575.7L154.9 575.2L155.5 574.8L156.0 574.6L156.9 574.2L157.5 574.0L158.5 573.9L159.5 573.8L160.5 573.9L161.5 574.1L162.0 574.3L162.9 574.7L163.5 575.0L164.0 575.3L164.5 575.7L165.2 576.2L165.8 576.7L166.3 577.2L166.8 577.7L167.3 578.2L167.7 578.7L168.2 579.2L168.6 579.7L169.0 580.3L169.5 581.0L170.0 581.7L170.3 582.2L170.7 582.7L171.0 583.3L171.5 584.1L171.8 584.7L172.1 585.2L172.5 586.1L172.8 586.7L173.0 587.2L173.5 588.2L173.7 588.7L174.0 589.5L174.3 590.2L174.5 590.8L174.8 591.7L175.0 592.3L175.3 593.2L175.5 593.9L175.7 594.7L176.0 595.7L176.1 596.2L176.4 597.2L176.5 597.9L176.7 598.7L176.9 599.7L177.0 600.4L177.1 601.2L177.3 602.2L177.4 603.2L177.5 603.8L177.6 604.7L177.7 605.7L177.8 606.7L177.9 607.7L178.0 608.7L178.0 609.2L178.1 610.2L178.2 611.2L178.2 612.2L178.3 613.2L178.3 614.2L178.3 615.2L178.4 616.2L178.4 617.2L178.4 618.2L178.4 619.2L178.4 620.2L178.4 621.2L178.3 622.2L178.3 623.2L178.3 624.2L178.3 625.2L178.2 626.2L178.2 627.2L178.2 628.2L178.1 629.2L178.1 630.2L178.0 631.2L178.0 631.9L178.0 632.7L177.9 633.7L177.9 634.7L177.8 635.7L177.7 636.7L177.7 637.7L177.6 638.7L177.5 639.7L177.5 640.2L177.4 641.2L177.4 642.2L177.3 643.2L177.2 644.2L177.1 645.2L177.1 646.2L177.0 647.0L176.9 647.7L176.9 648.7L176.8 649.7L176.7 650.7L176.6 651.7L176.5 652.7L176.5 653.3L176.4 654.2L176.4 655.2L176.3 656.2L176.2 657.2L176.1 658.2L176.0 659.2L176.0 659.7L175.9 660.7L175.8 661.7L175.8 662.7L175.7 663.7L175.6 664.7L175.5 665.7L175.5 666.3L175.4 667.2L175.4 668.2L175.3 669.2L175.2 670.2L175.2 671.2L175.1 672.2L175.0 673.2L175.0 673.7L174.9 674.7L174.9 675.7L174.8 676.7L174.8 677.7L174.7 678.7L174.7 679.7L174.6 680.7L174.6 681.7L174.6 682.7L174.5 683.7L174.5 684.7L174.5 685.2M146.3 685.7L146.3 684.7L146.4 683.7L146.4 682.7L146.5 681.7L146.5 681.2L146.6 680.2L146.6 679.2L146.6 678.2L146.6 677.2L146.5 676.2L146.5 675.4L146.5 674.7L146.4 673.7L146.3 672.7L146.2 671.7L146.1 670.7L146.0 669.7L146.0 669.1L145.9 668.2L145.8 667.2L145.7 666.2L145.6 665.2L145.5 664.2L145.5 663.7L145.4 662.7L145.3 661.7L145.2 660.7L145.1 659.7L145.0 658.7L144.9 658.2L144.8 657.2L144.7 656.2L144.6 655.2L144.5 654.2L144.5 653.7L144.4 652.7L144.3 651.7L144.2 650.7L144.1 649.7L144.0 648.7L143.9 648.2L143.8 647.2L143.8 646.2L143.7 645.2L143.6 644.2L143.5 643.4L143.4 642.7L143.3 641.7L143.3 640.7L143.2 639.7L143.1 638.7L143.0 637.7L143.0 637.2L142.9 636.2L142.8 635.2L142.8 634.2L142.7 633.2L142.7 632.2L142.6 631.2L142.5 630.2L142.5 629.2L142.5 628.7L142.4 627.7L142.4 626.7L142.3 625.7L142.3 624.7L142.3 623.7L142.3 622.7L142.2 621.7L142.2 620.7L142.2 619.7L142.2 618.7L142.2 617.7L142.2 616.7L142.3 615.7L142.3 614.7L142.3 613.7L142.4 612.7L142.5 611.7L142.5 611.1L142.6 610.2L142.7 609.2L142.8 608.2L142.9 607.2L143.0 606.4L143.1 605.7L143.2 604.7L143.4 603.7L143.5 603.2L143.7 602.2L143.9 601.2L144.0 600.7L144.2 599.7L144.5 598.7L144.6 598.2L144.9 597.2L145.0 596.7L145.3 595.7L145.5 595.1L145.8 594.2L146.0 593.7L146.4 592.7L146.6 592.2L147.0 591.2L147.2 590.7L147.5 590.0L147.9 589.2L148.1 588.7L148.5 587.9L148.9 587.2L149.2 586.7L149.5 586.1L150.0 585.3L150.4 584.7L150.8 584.2L151.1 583.7L151.5 583.2L152.0 582.6L152.5 582.1L153.0 581.6L153.5 581.1L154.0 580.7L154.6 580.2L155.4 579.7L156.0 579.4L156.5 579.1L157.5 578.8L158.0 578.7L159.0 578.6L160.0 578.6L160.7 578.7L161.5 578.9L162.2 579.2L163.0 579.6L163.5 579.9L164.0 580.2L164.7 580.7L165.3 581.2L165.8 581.7L166.3 582.2L166.8 582.7L167.2 583.2L167.6 583.7L168.0 584.2L168.5 584.9L169.0 585.7L169.3 586.2L169.6 586.7L170.0 587.3L170.5 588.2L170.7 588.7L171.0 589.2L171.4 590.2L171.7 590.7L172.0 591.5L172.3 592.2L172.5 592.8L172.8 593.7L173.0 594.2L173.3 595.2L173.5 595.7L173.8 596.7L174.0 597.5L174.2 598.2L174.4 599.2L174.5 599.7L174.7 600.7L174.9 601.7L175.0 602.2L175.2 603.2L175.3 604.2L175.5 605.2L175.5 605.7L175.7 606.7L175.8 607.7L175.9 608.7L175.9 609.7L176.0 610.4L176.1 611.2L176.1 612.2L176.2 613.2L176.2 614.2L176.3 615.2L176.3 616.2L176.3 617.2L176.3 618.2L176.3 619.2L176.3 620.2L176.3 621.2L176.3 622.2L176.2 623.2L176.2 624.2L176.2 625.2L176.2 626.2L176.1 627.2L176.1 628.2L176.0 629.2L176.0 629.7L176.0 630.7L175.9 631.7L175.9 632.7L175.8 633.7L175.7 634.7L175.7 635.7L175.6 636.7L175.5 637.7L175.5 638.2L175.4 639.2L175.3 640.2L175.3 641.2L175.2 642.2L175.1 643.2L175.0 644.2L175.0 644.7L174.9 645.7L174.8 646.7L174.7 647.7L174.6 648.7L174.5 649.7L174.5 650.2L174.4 651.2L174.3 652.2L174.2 653.2L174.1 654.2L174.0 655.2L174.0 655.7L173.9 656.7L173.8 657.7L173.7 658.7L173.6 659.7L173.5 660.7L173.5 661.2L173.4 662.2L173.3 663.2L173.2 664.2L173.1 665.2L173.0 666.2L173.0 666.7L172.9 667.7L172.8 668.7L172.7 669.7L172.7 670.7L172.6 671.7L172.5 672.7L172.5 673.2L172.4 674.2L172.3 675.2L172.3 676.2L172.2 677.2L172.2 678.2L172.1 679.2L172.1 680.2L172.1 681.2L172.2 682.2L172.2 683.2L172.2 684.2L172.2 685.2M147.9 685.7L148.0 684.7L148.0 684.2L148.1 683.2L148.3 682.2L148.4 681.2L148.5 680.5L148.6 679.7L148.7 678.7L148.8 677.7L148.8 676.7L148.8 675.7L148.7 674.7L148.7 673.7L148.6 672.7L148.5 672.1L148.4 671.2L148.3 670.2L148.2 669.2L148.1 668.2L148.0 667.4L147.9 666.7L147.8 665.7L147.7 664.7L147.6 663.7L147.5 663.0L147.4 662.2L147.3 661.2L147.2 660.2L147.1 659.2L147.0 658.7L146.9 657.7L146.8 656.7L146.6 655.7L146.5 654.7L146.5 654.2L146.3 653.2L146.2 652.2L146.1 651.2L146.0 650.3L145.9 649.7L145.8 648.7L145.7 647.7L145.6 646.7L145.5 645.8L145.4 645.2L145.3 644.2L145.2 643.2L145.1 642.2L145.0 641.2L145.0 640.7L144.9 639.7L144.8 638.7L144.7 637.7L144.6 636.7L144.5 635.7L144.5 635.1L144.4 634.2L144.4 633.2L144.3 632.2L144.2 631.2L144.2 630.2L144.1 629.2L144.1 628.2L144.0 627.2L144.0 626.7L143.9 625.7L143.9 624.7L143.9 623.7L143.9 622.7L143.8 621.7L143.8 620.7L143.8 619.7L143.8 618.7L143.8 617.7L143.8 616.7L143.9 615.7L143.9 614.7L143.9 613.7L144.0 612.7L144.0 612.2L144.1 611.2L144.2 610.2L144.3 609.2L144.4 608.2L144.5 607.7L144.6 606.7L144.8 605.7L145.0 604.7L145.1 604.2L145.3 603.2L145.5 602.2L145.6 601.7L145.8 600.7L146.0 600.0L146.2 599.2L146.5 598.3L146.7 597.7L147.0 596.8L147.2 596.2L147.5 595.4L147.8 594.7L148.0 594.1L148.4 593.2L148.6 592.7L149.0 591.9L149.4 591.2L149.6 590.7L150.0 590.0L150.5 589.2L150.8 588.7L151.2 588.2L151.5 587.7L152.0 587.1L152.5 586.5L153.0 585.9L153.5 585.4L154.0 584.9L154.5 584.5L155.0 584.2L155.7 583.7L156.5 583.3L157.0 583.1L158.0 582.8L159.0 582.7L160.0 582.7L161.0 582.9L161.7 583.2L162.5 583.5L163.0 583.8L163.6 584.2L164.3 584.7L164.8 585.2L165.4 585.7L165.8 586.2L166.3 586.7L166.7 587.2L167.1 587.7L167.5 588.3L168.0 589.0L168.4 589.7L168.7 590.2L169.0 590.7L169.5 591.6L169.8 592.2L170.0 592.7L170.5 593.7L170.7 594.2L171.0 595.1L171.2 595.7L171.5 596.4L171.8 597.2L172.0 598.0L172.2 598.7L172.5 599.7L172.6 600.2L172.8 601.2L173.0 601.9L173.2 602.7L173.3 603.7L173.5 604.7L173.6 605.2L173.7 606.2L173.9 607.2L174.0 608.2L174.0 608.7L174.1 609.7L174.2 610.7L174.3 611.7L174.4 612.7L174.4 613.7L174.5 614.7L174.5 615.6L174.5 616.2L174.5 617.2L174.5 618.2L174.5 619.2L174.5 620.2L174.5 621.2L174.5 622.2L174.5 622.7L174.5 623.7L174.4 624.7L174.4 625.7L174.4 626.7L174.3 627.7L174.3 628.7L174.2 629.7L174.2 630.7L174.1 631.7L174.0 632.7L174.0 633.4L174.0 634.2L173.9 635.2L173.8 636.2L173.7 637.2L173.7 638.2L173.6 639.2L173.5 639.9L173.4 640.7L173.3 641.7L173.3 642.7L173.2 643.7L173.1 644.7L173.0 645.3L172.9 646.2L172.8 647.2L172.7 648.2L172.6 649.2L172.5 650.1L172.4 650.7L172.3 651.7L172.2 652.7L172.1 653.7L172.0 654.7L171.9 655.2L171.8 656.2L171.7 657.2L171.6 658.2L171.5 659.2L171.4 659.7L171.3 660.7L171.2 661.7L171.1 662.7L171.0 663.7L171.0 664.2L170.8 665.2L170.7 666.2L170.6 667.2L170.5 668.2L170.5 668.7L170.4 669.7L170.3 670.7L170.2 671.7L170.1 672.7L170.0 673.5L169.9 674.2L169.9 675.2L169.8 676.2L169.8 677.2L169.8 678.2L169.8 679.2L169.9 680.2L170.0 681.2L170.1 681.7L170.2 682.7L170.2 683.7L170.3 684.7L170.3 685.7M149.1 685.7L149.2 684.7L149.4 683.7L149.5 683.0L149.7 682.2L149.9 681.2L150.0 680.7L150.3 679.7L150.5 678.8L150.6 678.2L150.7 677.2L150.8 676.2L150.8 675.2L150.7 674.2L150.7 673.2L150.5 672.2L150.5 671.7L150.4 670.7L150.2 669.7L150.1 668.7L150.0 668.0L149.9 667.2L149.8 666.2L149.6 665.2L149.5 664.3L149.4 663.7L149.3 662.7L149.1 661.7L149.0 660.7L148.9 660.2L148.8 659.2L148.6 658.2L148.5 657.2L148.4 656.7L148.3 655.7L148.2 654.7L148.0 653.7L148.0 653.2L147.8 652.2L147.7 651.2L147.5 650.2L147.5 649.7L147.4 648.7L147.2 647.7L147.1 646.7L147.0 645.9L146.9 645.2L146.8 644.2L146.7 643.2L146.6 642.2L146.5 641.6L146.4 640.7L146.3 639.7L146.2 638.7L146.1 637.7L146.0 636.7L146.0 636.2L145.9 635.2L145.8 634.2L145.7 633.2L145.6 632.2L145.6 631.2L145.5 630.2L145.5 629.7L145.4 628.7L145.3 627.7L145.3 626.7L145.3 625.7L145.2 624.7L145.2 623.7L145.1 622.7L145.1 621.7L145.1 620.7L145.1 619.7L145.1 618.7L145.1 617.7L145.1 616.7L145.1 615.7L145.2 614.7L145.2 613.7L145.3 612.7L145.4 611.7L145.5 610.7L145.5 610.2L145.7 609.2L145.8 608.2L145.9 607.2L146.0 606.7L146.2 605.7L146.4 604.7L146.5 604.2L146.7 603.2L147.0 602.2L147.1 601.7L147.4 600.7L147.5 600.2L147.8 599.2L148.0 598.7L148.4 597.7L148.5 597.2L149.0 596.2L149.2 595.7L149.5 595.0L149.9 594.2L150.1 593.7L150.5 593.0L151.0 592.2L151.3 591.7L151.6 591.2L152.0 590.7L152.5 590.0L153.0 589.4L153.5 588.9L154.0 588.4L154.5 587.9L155.0 587.5L155.5 587.2L156.3 586.7L157.0 586.4L157.7 586.2L158.5 586.0L159.5 586.0L160.5 586.1L161.0 586.3L162.0 586.6L162.5 586.9L163.0 587.2L163.7 587.7L164.3 588.2L164.8 588.7L165.3 589.2L165.8 589.7L166.2 590.2L166.5 590.7L167.0 591.4L167.5 592.1L167.8 592.7L168.1 593.2L168.5 593.9L168.9 594.7L169.1 595.2L169.5 596.1L169.7 596.7L170.0 597.4L170.3 598.2L170.5 598.8L170.8 599.7L171.0 600.5L171.2 601.2L171.5 602.2L171.6 602.7L171.8 603.7L172.0 604.7L172.1 605.2L172.2 606.2L172.4 607.2L172.5 608.0L172.6 608.7L172.7 609.7L172.8 610.7L172.9 611.7L173.0 612.7L173.0 613.2L173.1 614.2L173.1 615.2L173.1 616.2L173.1 617.2L173.2 618.2L173.2 619.2L173.2 620.2L173.1 621.2L173.1 622.2L173.1 623.2L173.1 624.2L173.0 625.2L173.0 625.9L173.0 626.7L172.9 627.7L172.9 628.7L172.8 629.7L172.8 630.7L172.7 631.7L172.6 632.7L172.5 633.7L172.5 634.2L172.4 635.2L172.3 636.2L172.3 637.2L172.2 638.2L172.1 639.2L172.0 639.9L171.9 640.7L171.8 641.7L171.7 642.7L171.6 643.7L171.5 644.6L171.4 645.2L171.3 646.2L171.2 647.2L171.1 648.2L171.0 648.9L170.9 649.7L170.8 650.7L170.7 651.7L170.5 652.7L170.5 653.2L170.3 654.2L170.2 655.2L170.1 656.2L170.0 656.7L169.9 657.7L169.7 658.7L169.6 659.7L169.5 660.5L169.4 661.2L169.3 662.2L169.1 663.2L169.0 664.2L168.9 664.7L168.8 665.7L168.7 666.7L168.5 667.7L168.5 668.2L168.4 669.2L168.2 670.2L168.1 671.2L168.0 672.0L167.9 672.7L167.8 673.7L167.7 674.7L167.7 675.7L167.7 676.7L167.7 677.7L167.9 678.7L168.0 679.6L168.1 680.2L168.3 681.2L168.5 682.1L168.6 682.7L168.8 683.7L168.9 684.7L169.0 685.7M150.1 685.7L150.3 684.7L150.5 683.7L150.6 683.2L150.9 682.2L151.1 681.7L151.4 680.7L151.6 680.2L152.0 679.2L152.2 678.7L152.5 677.7L152.6 677.2L152.8 676.2L152.8 675.2L152.8 674.2L152.7 673.2L152.6 672.2L152.5 671.6L152.4 670.7L152.2 669.7L152.0 668.7L151.9 668.2L151.8 667.2L151.6 666.2L151.5 665.7L151.3 664.7L151.2 663.7L151.0 662.8L150.9 662.2L150.7 661.2L150.6 660.2L150.5 659.7L150.3 658.7L150.1 657.7L150.0 656.8L149.9 656.2L149.7 655.2L149.6 654.2L149.5 653.7L149.3 652.7L149.2 651.7L149.0 650.7L149.0 650.2L148.8 649.2L148.7 648.2L148.5 647.2L148.4 646.7L148.3 645.7L148.2 644.7L148.0 643.7L148.0 643.2L147.8 642.2L147.7 641.2L147.6 640.2L147.5 639.3L147.4 638.7L147.3 637.7L147.2 636.7L147.1 635.7L147.0 634.7L147.0 634.2L146.9 633.2L146.8 632.2L146.7 631.2L146.7 630.2L146.6 629.2L146.5 628.2L146.5 627.7L146.4 626.7L146.4 625.7L146.3 624.7L146.3 623.7L146.3 622.7L146.2 621.7L146.2 620.7L146.2 619.7L146.2 618.7L146.2 617.7L146.2 616.7L146.3 615.7L146.3 614.7L146.4 613.7L146.4 612.7L146.5 612.0L146.6 611.2L146.7 610.2L146.8 609.2L147.0 608.2L147.1 607.7L147.2 606.7L147.4 605.7L147.5 605.2L147.8 604.2L148.0 603.3L148.2 602.7L148.4 601.7L148.6 601.2L148.9 600.2L149.1 599.7L149.5 598.7L149.7 598.2L150.0 597.5L150.4 596.7L150.6 596.2L151.0 595.4L151.4 594.7L151.7 594.2L152.0 593.7L152.5 593.1L153.0 592.4L153.5 591.8L154.0 591.3L154.5 590.8L155.0 590.4L155.5 590.0L156.0 589.7L157.0 589.2L157.5 589.0L158.5 588.8L159.5 588.8L160.5 588.9L161.4 589.2L162.0 589.5L162.5 589.7L163.2 590.2L163.8 590.7L164.3 591.2L164.8 591.7L165.3 592.2L165.7 592.7L166.0 593.2L166.5 593.9L167.0 594.7L167.3 595.2L167.6 595.7L168.0 596.6L168.3 597.2L168.5 597.7L168.9 598.7L169.1 599.2L169.4 600.2L169.6 600.7L169.9 601.7L170.0 602.2L170.3 603.2L170.5 604.0L170.6 604.7L170.9 605.7L171.0 606.5L171.1 607.2L171.3 608.2L171.4 609.2L171.5 609.9L171.6 610.7L171.7 611.7L171.8 612.7L171.8 613.7L171.9 614.7L171.9 615.7L172.0 616.7L172.0 617.7L172.0 618.7L172.0 619.7L172.0 620.7L171.9 621.7L171.9 622.7L171.9 623.7L171.9 624.7L171.8 625.7L171.8 626.7L171.7 627.7L171.7 628.7L171.6 629.7L171.5 630.7L171.5 631.2L171.4 632.2L171.3 633.2L171.3 634.2L171.2 635.2L171.1 636.2L171.0 636.9L170.9 637.7L170.8 638.7L170.7 639.7L170.6 640.7L170.5 641.6L170.4 642.2L170.3 643.2L170.2 644.2L170.1 645.2L170.0 645.7L169.9 646.7L169.7 647.7L169.6 648.7L169.5 649.2L169.4 650.2L169.2 651.2L169.1 652.2L169.0 652.7L168.8 653.7L168.7 654.7L168.5 655.7L168.5 656.2L168.3 657.2L168.1 658.2L168.0 659.1L167.9 659.7L167.7 660.7L167.6 661.7L167.5 662.2L167.3 663.2L167.2 664.2L167.0 665.2L166.9 665.7L166.8 666.7L166.6 667.7L166.5 668.2L166.3 669.2L166.2 670.2L166.0 671.2L165.9 671.7L165.8 672.7L165.7 673.7L165.6 674.7L165.6 675.7L165.7 676.7L165.8 677.7L166.0 678.4L166.2 679.2L166.5 680.0L166.7 680.7L167.0 681.5L167.2 682.2L167.5 683.2L167.6 683.7L167.8 684.7L167.9 685.7M151.0 685.7L151.2 684.7L151.4 683.7L151.6 683.2L152.0 682.2L152.2 681.7L152.5 681.1L153.0 680.2L153.3 679.7L153.6 679.2L154.0 678.4L154.4 677.7L154.6 677.2L155.0 676.3L155.2 675.7L155.3 674.7L155.2 673.7L155.1 672.7L155.0 672.2L154.8 671.2L154.5 670.2L154.4 669.7L154.1 668.7L154.0 668.1L153.8 667.2L153.5 666.2L153.4 665.7L153.2 664.7L153.0 663.8L152.9 663.2L152.6 662.2L152.5 661.5L152.3 660.7L152.1 659.7L152.0 659.1L151.8 658.2L151.6 657.2L151.5 656.7L151.3 655.7L151.1 654.7L151.0 654.1L150.8 653.2L150.6 652.2L150.5 651.4L150.4 650.7L150.2 649.7L150.0 648.7L149.9 648.2L149.8 647.2L149.6 646.2L149.5 645.4L149.4 644.7L149.2 643.7L149.1 642.7L149.0 642.1L148.9 641.2L148.7 640.2L148.6 639.2L148.5 638.2L148.4 637.7L148.3 636.7L148.2 635.7L148.1 634.7L148.0 633.7L148.0 633.2L147.9 632.2L147.8 631.2L147.7 630.2L147.6 629.2L147.6 628.2L147.5 627.3L147.5 626.7L147.4 625.7L147.4 624.7L147.3 623.7L147.3 622.7L147.3 621.7L147.2 620.7L147.2 619.7L147.2 618.7L147.2 617.7L147.3 616.7L147.3 615.7L147.3 614.7L147.4 613.7L147.5 612.7L147.5 612.2L147.6 611.2L147.8 610.2L147.9 609.2L148.0 608.6L148.2 607.7L148.4 606.7L148.5 606.0L148.7 605.2L148.9 604.2L149.1 603.7L149.4 602.7L149.5 602.2L149.9 601.2L150.1 600.7L150.5 599.7L150.7 599.2L151.0 598.5L151.4 597.7L151.7 597.2L152.0 596.6L152.5 595.8L152.9 595.2L153.3 594.7L153.7 594.2L154.2 593.7L154.7 593.2L155.3 592.7L156.0 592.2L156.5 591.9L157.0 591.7L158.0 591.3L159.0 591.2L160.0 591.3L161.0 591.5L161.5 591.7L162.4 592.2L163.0 592.6L163.5 593.1L164.0 593.5L164.5 594.1L165.0 594.7L165.4 595.2L165.8 595.7L166.1 596.2L166.5 596.9L166.9 597.7L167.2 598.2L167.5 598.9L167.8 599.7L168.0 600.2L168.4 601.2L168.6 601.7L168.9 602.7L169.0 603.2L169.3 604.2L169.5 605.0L169.7 605.7L169.9 606.7L170.0 607.4L170.1 608.2L170.3 609.2L170.4 610.2L170.5 610.7L170.6 611.7L170.7 612.7L170.8 613.7L170.8 614.7L170.9 615.7L170.9 616.7L170.9 617.7L170.9 618.7L170.9 619.7L170.9 620.7L170.9 621.7L170.9 622.7L170.8 623.7L170.8 624.7L170.7 625.7L170.7 626.7L170.6 627.7L170.6 628.7L170.5 629.7L170.5 630.2L170.4 631.2L170.3 632.2L170.2 633.2L170.1 634.2L170.0 635.2L170.0 635.7L169.9 636.7L169.8 637.7L169.6 638.7L169.5 639.7L169.5 640.2L169.3 641.2L169.2 642.2L169.1 643.2L169.0 643.7L168.8 644.7L168.7 645.7L168.5 646.7L168.5 647.2L168.3 648.2L168.1 649.2L168.0 650.1L167.9 650.7L167.7 651.7L167.5 652.7L167.5 653.2L167.3 654.2L167.1 655.2L167.0 655.7L166.8 656.7L166.6 657.7L166.5 658.2L166.3 659.2L166.1 660.2L166.0 660.7L165.8 661.7L165.6 662.7L165.5 663.2L165.3 664.2L165.0 665.2L164.9 665.7L164.7 666.7L164.5 667.6L164.4 668.2L164.1 669.2L164.0 669.7L163.7 670.7L163.5 671.7L163.4 672.2L163.2 673.2L163.1 674.2L163.1 675.2L163.3 676.2L163.5 676.9L163.8 677.7L164.1 678.2L164.5 679.0L164.9 679.7L165.1 680.2L165.5 681.0L165.8 681.7L166.0 682.2L166.4 683.2L166.6 683.7L166.8 684.7L166.9 685.7M160.0 669.7L159.0 670.0L158.4 669.7L157.8 669.2L157.4 668.7L157.0 668.1L156.5 667.2L156.3 666.7L156.0 666.0L155.7 665.2L155.5 664.7L155.1 663.7L155.0 663.2L154.6 662.2L154.5 661.7L154.2 660.7L154.0 660.0L153.8 659.2L153.5 658.2L153.4 657.7L153.1 656.7L153.0 656.2L152.7 655.2L152.5 654.2L152.4 653.7L152.2 652.7L152.0 652.0L151.8 651.2L151.6 650.2L151.5 649.6L151.3 648.7L151.1 647.7L151.0 647.1L150.8 646.2L150.7 645.2L150.5 644.3L150.4 643.7L150.2 642.7L150.1 641.7L150.0 641.2L149.8 640.2L149.7 639.2L149.6 638.2L149.5 637.7L149.4 636.7L149.2 635.7L149.1 634.7L149.0 633.7L149.0 633.2L148.9 632.2L148.8 631.2L148.7 630.2L148.6 629.2L148.5 628.2L148.5 627.7L148.4 626.7L148.4 625.7L148.3 624.7L148.3 623.7L148.2 622.7L148.2 621.7L148.2 620.7L148.2 619.7L148.2 618.7L148.2 617.7L148.2 616.7L148.2 615.7L148.3 614.7L148.3 613.7L148.4 612.7L148.5 612.0L148.6 611.2L148.7 610.2L148.9 609.2L149.0 608.6L149.2 607.7L149.4 606.7L149.5 606.2L149.8 605.2L150.0 604.4L150.2 603.7L150.5 602.9L150.7 602.2L151.0 601.5L151.4 600.7L151.6 600.2L152.0 599.4L152.4 598.7L152.7 598.2L153.0 597.7L153.5 597.0L154.0 596.3L154.5 595.8L155.0 595.3L155.5 594.8L156.0 594.5L156.5 594.2L157.5 593.7L158.0 593.6L159.0 593.4L160.0 593.5L160.8 593.7L161.5 594.0L162.0 594.3L162.6 594.7L163.2 595.2L163.7 595.7L164.2 596.2L164.6 596.7L165.0 597.2L165.5 598.0L165.9 598.7L166.2 599.2L166.5 599.8L166.9 600.7L167.1 601.2L167.5 602.2L167.7 602.7L168.0 603.7L168.1 604.2L168.4 605.2L168.5 605.7L168.8 606.7L169.0 607.7L169.1 608.2L169.3 609.2L169.4 610.2L169.5 610.9L169.6 611.7L169.7 612.7L169.8 613.7L169.9 614.7L169.9 615.7L169.9 616.7L169.9 617.7L170.0 618.7L169.9 619.7L169.9 620.7L169.9 621.7L169.9 622.7L169.9 623.7L169.8 624.7L169.8 625.7L169.7 626.7L169.6 627.7L169.6 628.7L169.5 629.6L169.5 630.2L169.4 631.2L169.3 632.2L169.2 633.2L169.1 634.2L169.0 634.9L168.9 635.7L168.8 636.7L168.7 637.7L168.5 638.7L168.5 639.2L168.3 640.2L168.2 641.2L168.0 642.2L168.0 642.7L167.8 643.7L167.6 644.7L167.5 645.4L167.4 646.2L167.2 647.2L167.0 648.2L166.9 648.7L166.7 649.7L166.5 650.7L166.4 651.2L166.2 652.2L166.0 653.1L165.9 653.7L165.6 654.7L165.5 655.3L165.3 656.2L165.0 657.2L164.9 657.7L164.6 658.7L164.5 659.2L164.2 660.2L164.0 661.0L163.8 661.7L163.5 662.7L163.3 663.2L163.0 664.2L162.8 664.7L162.5 665.5L162.2 666.2L162.0 666.7L161.5 667.7L161.2 668.2L160.9 668.7L160.5 669.2L160.0 669.7M151.8 685.7L152.0 684.8L152.1 684.2L152.5 683.2L152.7 682.7L153.0 682.2L153.5 681.4L154.0 680.7L154.4 680.2L154.8 679.7L155.3 679.2L155.8 678.7L156.4 678.2L157.0 677.7L157.5 677.4L158.0 677.2L159.0 676.9L160.0 677.1L160.5 677.3L161.1 677.7L161.7 678.2L162.3 678.7L162.8 679.2L163.2 679.7L163.6 680.2L164.0 680.7L164.5 681.4L165.0 682.2L165.2 682.7L165.5 683.4L165.8 684.2L166.0 685.2L166.1 685.7M160.0 662.3L159.0 662.5L158.2 662.2L157.6 661.7L157.2 661.2L156.9 660.7L156.5 660.1L156.0 659.2L155.8 658.7L155.5 658.0L155.2 657.2L155.0 656.7L154.6 655.7L154.5 655.2L154.1 654.2L154.0 653.7L153.7 652.7L153.5 652.0L153.3 651.2L153.0 650.2L152.9 649.7L152.6 648.7L152.5 648.1L152.3 647.2L152.1 646.2L152.0 645.7L151.8 644.7L151.6 643.7L151.5 643.2L151.3 642.2L151.1 641.2L151.0 640.7L150.8 639.7L150.7 638.7L150.5 637.7L150.5 637.2L150.3 636.2L150.2 635.2L150.0 634.2L150.0 633.7L149.9 632.7L149.8 631.7L149.7 630.7L149.6 629.7L149.5 628.9L149.4 628.2L149.4 627.2L149.3 626.2L149.2 625.2L149.2 624.2L149.1 623.2L149.1 622.2L149.1 621.2L149.1 620.2L149.1 619.2L149.1 618.2L149.1 617.2L149.1 616.2L149.1 615.2L149.2 614.2L149.3 613.2L149.4 612.2L149.5 611.4L149.6 610.7L149.8 609.7L150.0 608.7L150.1 608.2L150.3 607.2L150.5 606.4L150.7 605.7L151.0 604.7L151.2 604.2L151.5 603.3L151.7 602.7L152.0 602.1L152.4 601.2L152.7 600.7L153.0 600.2L153.5 599.4L154.0 598.7L154.4 598.2L154.8 597.7L155.3 597.2L155.9 596.7L156.5 596.3L157.0 596.0L157.8 595.7L158.5 595.6L159.5 595.5L160.4 595.7L161.0 595.9L161.6 596.2L162.3 596.7L162.9 597.2L163.4 597.7L163.9 598.2L164.3 598.7L164.6 599.2L165.0 599.8L165.5 600.7L165.8 601.2L166.0 601.7L166.5 602.7L166.6 603.2L167.0 604.2L167.2 604.7L167.5 605.7L167.6 606.2L167.8 607.2L168.0 607.9L168.2 608.7L168.4 609.7L168.5 610.6L168.6 611.2L168.7 612.2L168.8 613.2L168.9 614.2L169.0 615.2L169.0 616.2L169.0 616.7L169.0 617.7L169.0 618.7L169.0 619.7L169.0 620.7L169.0 621.7L169.0 622.2L169.0 623.2L168.9 624.2L168.9 625.2L168.8 626.2L168.7 627.2L168.7 628.2L168.6 629.2L168.5 630.0L168.4 630.7L168.3 631.7L168.2 632.7L168.1 633.7L168.0 634.7L167.9 635.2L167.8 636.2L167.7 637.2L167.5 638.2L167.5 638.7L167.3 639.7L167.1 640.7L167.0 641.5L166.9 642.2L166.7 643.2L166.5 644.2L166.4 644.7L166.2 645.7L166.0 646.7L165.9 647.2L165.7 648.2L165.5 648.9L165.3 649.7L165.1 650.7L164.9 651.2L164.6 652.2L164.5 652.7L164.2 653.7L164.0 654.4L163.8 655.2L163.5 656.0L163.2 656.7L163.0 657.3L162.7 658.2L162.4 658.7L162.0 659.6L161.7 660.2L161.4 660.7L161.0 661.3L160.5 661.9L160.0 662.3M152.6 685.7L152.8 684.7L153.0 684.1L153.4 683.2L153.7 682.7L154.0 682.2L154.5 681.6L155.0 681.1L155.5 680.6L156.0 680.2L156.9 679.7L157.5 679.4L158.4 679.2L159.0 679.1L159.7 679.2L160.5 679.4L161.1 679.7L162.0 680.2L162.5 680.6L163.0 681.1L163.5 681.7L163.9 682.2L164.2 682.7L164.5 683.2L164.9 684.2L165.1 684.7L165.3 685.7M159.0 656.7L158.5 656.6L157.9 656.2L157.4 655.7L157.0 655.2L156.5 654.5L156.1 653.7L155.8 653.2L155.5 652.5L155.2 651.7L155.0 651.2L154.6 650.2L154.4 649.7L154.1 648.7L154.0 648.2L153.7 647.2L153.5 646.6L153.3 645.7L153.0 644.7L152.9 644.2L152.6 643.2L152.5 642.6L152.3 641.7L152.1 640.7L152.0 640.1L151.8 639.2L151.6 638.2L151.5 637.4L151.4 636.7L151.2 635.7L151.1 634.7L151.0 634.1L150.9 633.2L150.8 632.2L150.6 631.2L150.5 630.2L150.5 629.7L150.4 628.7L150.3 627.7L150.2 626.7L150.1 625.7L150.1 624.7L150.0 623.7L150.0 623.2L150.0 622.2L149.9 621.2L149.9 620.2L149.9 619.2L149.9 618.2L149.9 617.2L150.0 616.2L150.0 615.3L150.0 614.7L150.1 613.7L150.2 612.7L150.4 611.7L150.5 610.8L150.6 610.2L150.8 609.2L151.0 608.4L151.2 607.7L151.4 606.7L151.6 606.2L151.9 605.2L152.1 604.7L152.5 603.8L152.7 603.2L153.0 602.7L153.5 601.8L153.8 601.2L154.2 600.7L154.6 600.2L155.0 599.7L155.5 599.1L156.0 598.7L156.7 598.2L157.5 597.8L158.0 597.7L159.0 597.5L160.0 597.6L160.5 597.7L161.5 598.2L162.0 598.6L162.5 599.0L163.0 599.5L163.5 600.0L164.0 600.7L164.3 601.2L164.6 601.7L165.0 602.4L165.4 603.2L165.6 603.7L166.0 604.6L166.2 605.2L166.5 606.1L166.7 606.7L166.9 607.7L167.1 608.2L167.3 609.2L167.5 610.2L167.6 610.7L167.7 611.7L167.8 612.7L167.9 613.7L168.0 614.3L168.1 615.2L168.1 616.2L168.1 617.2L168.1 618.2L168.2 619.2L168.1 620.2L168.1 621.2L168.1 622.2L168.1 623.2L168.0 624.2L168.0 624.7L167.9 625.7L167.9 626.7L167.8 627.7L167.7 628.7L167.6 629.7L167.5 630.6L167.4 631.2L167.3 632.2L167.2 633.2L167.1 634.2L167.0 634.7L166.9 635.7L166.7 636.7L166.5 637.7L166.5 638.2L166.3 639.2L166.1 640.2L166.0 640.7L165.8 641.7L165.6 642.7L165.5 643.2L165.3 644.2L165.0 645.2L164.9 645.7L164.6 646.7L164.5 647.2L164.2 648.2L164.0 648.9L163.7 649.7L163.5 650.4L163.2 651.2L163.0 651.7L162.6 652.7L162.4 653.2L162.0 653.9L161.6 654.7L161.2 655.2L160.8 655.7L160.3 656.2L159.5 656.7L159.0 656.7M153.3 685.7L153.5 685.0L153.8 684.2L154.0 683.7L154.5 682.9L155.0 682.3L155.5 681.8L156.0 681.4L156.5 681.1L157.4 680.7L158.0 680.5L159.0 680.4L160.0 680.5L160.5 680.7L161.5 681.2L162.0 681.5L162.5 681.9L163.0 682.5L163.5 683.1L163.8 683.7L164.1 684.2L164.4 685.2L164.5 685.7M159.5 651.7L158.6 651.7L158.0 651.4L157.5 651.0L157.0 650.4L156.5 649.7L156.2 649.2L156.0 648.7L155.5 647.7L155.3 647.2L155.0 646.5L154.7 645.7L154.5 645.0L154.2 644.2L154.0 643.4L153.8 642.7L153.5 641.7L153.4 641.2L153.2 640.2L153.0 639.5L152.8 638.7L152.6 637.7L152.5 637.1L152.3 636.2L152.2 635.2L152.0 634.2L151.9 633.7L151.8 632.7L151.6 631.7L151.5 630.7L151.5 630.2L151.3 629.2L151.2 628.2L151.1 627.2L151.1 626.2L151.0 625.5L150.9 624.7L150.9 623.7L150.8 622.7L150.8 621.7L150.8 620.7L150.8 619.7L150.8 618.7L150.8 617.7L150.8 616.7L150.8 615.7L150.9 614.7L151.0 613.7L151.1 613.2L151.2 612.2L151.3 611.2L151.5 610.4L151.6 609.7L151.9 608.7L152.0 608.2L152.3 607.2L152.5 606.7L152.9 605.7L153.1 605.2L153.5 604.3L153.8 603.7L154.1 603.2L154.5 602.5L155.0 601.8L155.5 601.3L156.0 600.8L156.5 600.4L157.0 600.0L157.8 599.7L158.5 599.5L159.5 599.5L160.4 599.7L161.0 600.0L161.5 600.3L162.1 600.7L162.6 601.2L163.0 601.7L163.5 602.3L164.0 603.1L164.3 603.7L164.6 604.2L165.0 605.1L165.2 605.7L165.5 606.4L165.8 607.2L166.0 608.0L166.2 608.7L166.4 609.7L166.5 610.2L166.7 611.2L166.9 612.2L167.0 613.2L167.1 613.7L167.1 614.7L167.2 615.7L167.2 616.7L167.3 617.7L167.3 618.7L167.3 619.7L167.3 620.7L167.2 621.7L167.2 622.7L167.2 623.7L167.1 624.7L167.0 625.7L167.0 626.2L166.9 627.2L166.8 628.2L166.7 629.2L166.6 630.2L166.5 631.0L166.4 631.7L166.3 632.7L166.1 633.7L166.0 634.6L165.9 635.2L165.7 636.2L165.5 637.2L165.5 637.7L165.2 638.7L165.0 639.7L164.9 640.2L164.7 641.2L164.5 641.9L164.3 642.7L164.0 643.7L163.9 644.2L163.6 645.2L163.4 645.7L163.0 646.7L162.8 647.2L162.5 648.0L162.2 648.7L161.9 649.2L161.5 649.9L161.0 650.6L160.5 651.1L160.0 651.5L159.5 651.7M154.0 685.7L154.2 685.2L154.4 684.7L154.5 684.4L154.6 684.2L154.9 683.7L155.0 683.6L155.3 683.2L155.5 683.0L155.8 682.7L156.0 682.5L156.5 682.2L156.5 682.2L157.0 681.9L157.5 681.7L157.5 681.7L158.0 681.5L158.5 681.5L159.0 681.4L159.5 681.5L160.0 681.6L160.4 681.7L160.5 681.7L161.0 682.0L161.4 682.2L161.5 682.3L162.0 682.7L162.1 682.7L162.5 683.2L162.5 683.2L162.9 683.7L163.0 683.8L163.2 684.2L163.5 684.7L163.5 684.8L163.6 685.2L163.8 685.7M159.5 647.3L158.5 647.3L158.0 647.0L157.5 646.6L157.0 646.0L156.5 645.2L156.2 644.7L156.0 644.2L155.5 643.2L155.3 642.7L155.0 641.9L154.8 641.2L154.5 640.3L154.3 639.7L154.0 638.7L153.9 638.2L153.7 637.2L153.5 636.5L153.3 635.7L153.1 634.7L153.0 634.0L152.9 633.2L152.7 632.2L152.5 631.2L152.5 630.7L152.3 629.7L152.2 628.7L152.1 627.7L152.0 626.8L151.9 626.2L151.9 625.2L151.8 624.2L151.7 623.2L151.7 622.2L151.6 621.2L151.6 620.2L151.6 619.2L151.6 618.2L151.6 617.2L151.7 616.2L151.7 615.2L151.8 614.2L151.9 613.2L152.0 612.7L152.2 611.7L152.4 610.7L152.5 610.2L152.8 609.2L153.0 608.4L153.2 607.7L153.5 607.0L153.8 606.2L154.1 605.7L154.5 604.9L154.9 604.2L155.3 603.7L155.7 603.2L156.2 602.7L156.8 602.2L157.5 601.8L158.0 601.6L159.0 601.4L160.0 601.5L160.5 601.7L161.3 602.2L161.9 602.7L162.4 603.2L162.8 603.7L163.2 604.2L163.5 604.8L164.0 605.7L164.2 606.2L164.5 606.8L164.8 607.7L165.0 608.2L165.3 609.2L165.5 610.0L165.7 610.7L165.9 611.7L166.0 612.6L166.1 613.2L166.2 614.2L166.3 615.2L166.4 616.2L166.4 617.2L166.4 618.2L166.4 619.2L166.4 620.2L166.4 621.2L166.3 622.2L166.3 623.2L166.2 624.2L166.2 625.2L166.1 626.2L166.0 627.0L165.9 627.7L165.8 628.7L165.7 629.7L165.6 630.7L165.5 631.2L165.3 632.2L165.2 633.2L165.0 634.2L164.9 634.7L164.7 635.7L164.5 636.7L164.4 637.2L164.1 638.2L164.0 638.8L163.8 639.7L163.5 640.6L163.3 641.2L163.0 642.1L162.8 642.7L162.5 643.4L162.1 644.2L161.9 644.7L161.5 645.4L161.0 646.1L160.5 646.7L160.0 647.1L159.5 647.3M154.8 685.7L155.0 685.2L155.0 685.1L155.2 684.7L155.5 684.2L155.5 684.2L155.9 683.7L156.0 683.6L156.5 683.2L156.5 683.2L157.0 682.9L157.3 682.7L157.5 682.6L158.0 682.5L158.5 682.4L159.0 682.4L159.5 682.4L160.0 682.5L160.5 682.7L160.5 682.7L161.0 683.0L161.3 683.2L161.5 683.3L161.9 683.7L162.0 683.8L162.3 684.2L162.5 684.5L162.6 684.7L162.8 685.2L163.0 685.7M159.0 643.2L158.5 643.1L157.8 642.7L157.3 642.2L157.0 641.7L156.5 641.0L156.1 640.2L155.9 639.7L155.5 638.7L155.3 638.2L155.0 637.3L154.8 636.7L154.5 635.7L154.4 635.2L154.2 634.2L154.0 633.4L153.9 632.7L153.7 631.7L153.5 630.8L153.4 630.2L153.3 629.2L153.1 628.2L153.0 627.3L152.9 626.7L152.8 625.7L152.7 624.7L152.7 623.7L152.6 622.7L152.5 621.7L152.5 620.7L152.5 620.0L152.5 619.2L152.5 618.3L152.5 617.7L152.5 616.7L152.6 615.7L152.7 614.7L152.8 613.7L153.0 612.7L153.0 612.2L153.3 611.2L153.5 610.3L153.7 609.7L154.0 608.7L154.2 608.2L154.5 607.5L154.9 606.7L155.2 606.2L155.6 605.7L156.0 605.1L156.5 604.6L157.0 604.2L157.8 603.7L158.5 603.5L159.5 603.5L160.3 603.7L161.0 604.1L161.5 604.5L162.0 605.0L162.5 605.7L162.8 606.2L163.1 606.7L163.5 607.4L163.8 608.2L164.0 608.7L164.4 609.7L164.5 610.2L164.8 611.2L165.0 612.2L165.1 612.7L165.2 613.7L165.3 614.7L165.4 615.7L165.5 616.7L165.5 617.7L165.5 618.2L165.5 619.2L165.5 620.2L165.5 620.7L165.5 621.7L165.4 622.7L165.4 623.7L165.3 624.7L165.2 625.7L165.1 626.7L165.0 627.4L164.9 628.2L164.8 629.2L164.6 630.2L164.5 630.9L164.4 631.7L164.2 632.7L164.0 633.5L163.9 634.2L163.6 635.2L163.5 635.7L163.2 636.7L163.0 637.4L162.7 638.2L162.5 638.9L162.2 639.7L161.9 640.2L161.5 641.1L161.1 641.7L160.7 642.2L160.2 642.7L159.5 643.1L159.0 643.2M155.6 685.7L155.8 685.2L156.0 684.9L156.2 684.7L156.5 684.3L156.6 684.2L157.0 683.9L157.3 683.7L157.5 683.6L158.0 683.4L158.5 683.3L159.0 683.3L159.5 683.3L160.0 683.5L160.5 683.7L160.5 683.7L161.0 684.0L161.2 684.2L161.5 684.5L161.6 684.7L161.9 685.2L162.0 685.3L162.1 685.7M160.0 638.7L159.0 639.1L158.0 638.7L157.5 638.2L157.1 637.7L156.8 637.2L156.5 636.6L156.1 635.7L155.9 635.2L155.5 634.2L155.4 633.7L155.1 632.7L155.0 632.2L154.7 631.2L154.5 630.2L154.4 629.7L154.3 628.7L154.1 627.7L154.0 627.1L153.9 626.2L153.8 625.2L153.7 624.2L153.6 623.2L153.5 622.2L153.5 621.7L153.5 620.7L153.4 619.7L153.4 618.7L153.4 617.7L153.5 616.7L153.5 616.2L153.6 615.2L153.7 614.2L153.9 613.2L154.0 612.6L154.2 611.7L154.5 610.7L154.7 610.2L155.0 609.4L155.3 608.7L155.6 608.2L156.0 607.6L156.5 606.9L157.0 606.4L157.5 606.0L158.3 605.7L159.0 605.6L159.8 605.7L160.5 606.0L161.0 606.4L161.5 606.9L162.0 607.5L162.4 608.2L162.7 608.7L163.0 609.3L163.3 610.2L163.5 610.7L163.8 611.7L164.0 612.6L164.1 613.2L164.3 614.2L164.4 615.2L164.5 616.2L164.5 616.7L164.5 617.7L164.6 618.7L164.6 619.7L164.5 620.7L164.5 621.7L164.5 622.2L164.4 623.2L164.3 624.2L164.2 625.2L164.1 626.2L164.0 627.1L163.9 627.7L163.7 628.7L163.6 629.7L163.5 630.2L163.3 631.2L163.0 632.2L162.9 632.7L162.6 633.7L162.5 634.2L162.1 635.2L161.9 635.7L161.5 636.7L161.2 637.2L160.9 637.7L160.5 638.3L160.0 638.7M156.6 685.7L156.9 685.2L157.0 685.1L157.5 684.7L157.5 684.7L158.0 684.4L158.5 684.3L159.0 684.3L159.5 684.4L160.0 684.5L160.3 684.7L160.5 684.9L160.8 685.2L161.0 685.5L161.1 685.7M159.5 634.7L158.5 634.7L158.0 634.4L157.5 633.8L157.1 633.2L156.8 632.7L156.5 631.9L156.2 631.2L156.0 630.5L155.8 629.7L155.5 628.7L155.4 628.2L155.2 627.2L155.0 626.2L155.0 625.7L154.8 624.7L154.7 623.7L154.6 622.7L154.5 621.7L154.5 620.9L154.5 620.2L154.5 619.2L154.5 618.2L154.5 617.4L154.5 616.7L154.6 615.7L154.7 614.7L154.9 613.7L155.0 613.2L155.3 612.2L155.5 611.6L155.9 610.7L156.1 610.2L156.5 609.6L157.0 609.0L157.5 608.5L158.0 608.2L159.0 607.9L160.0 608.2L160.5 608.5L161.0 609.0L161.5 609.6L161.9 610.2L162.1 610.7L162.5 611.6L162.7 612.2L163.0 613.2L163.1 613.7L163.2 614.7L163.4 615.7L163.4 616.7L163.5 617.7L163.5 618.2L163.5 619.2L163.5 620.2L163.5 620.7L163.4 621.7L163.4 622.7L163.3 623.7L163.2 624.7L163.0 625.7L162.9 626.2L162.8 627.2L162.6 628.2L162.5 628.7L162.2 629.7L162.0 630.5L161.8 631.2L161.5 631.9L161.1 632.7L160.9 633.2L160.5 633.8L160.0 634.4L159.5 634.7M159.5 630.3L158.5 630.3L158.0 629.9L157.5 629.2L157.3 628.7L157.0 628.1L156.7 627.2L156.5 626.5L156.3 625.7L156.1 624.7L156.0 624.2L155.9 623.2L155.7 622.2L155.7 621.2L155.6 620.2L155.6 619.2L155.6 618.2L155.7 617.2L155.7 616.2L155.9 615.2L156.0 614.6L156.2 613.7L156.5 612.9L156.9 612.2L157.2 611.7L157.6 611.2L158.2 610.7L159.0 610.5L159.8 610.7L160.4 611.2L160.8 611.7L161.1 612.2L161.5 613.0L161.7 613.7L162.0 614.7L162.1 615.2L162.2 616.2L162.3 617.2L162.3 618.2L162.4 619.2L162.3 620.2L162.3 621.2L162.2 622.2L162.1 623.2L162.0 624.0L161.9 624.7L161.7 625.7L161.5 626.4L161.3 627.2L161.0 628.0L160.7 628.7L160.5 629.2L160.0 629.9L159.5 630.3" stroke="#333" stroke-width="0.95" fill="none" stroke-linejoin="round"/>
</g>
<polygon points="158.0,456.7 202.0,447.3 245.5,464.7 250.0,523.3 227.3,622.0 196.7,612.7 162.0,555.3 154.8,518.0" fill="none" stroke="#555" stroke-width="0.9" stroke-linejoin="round"/>
<text x="261.7" y="469.8" font-size="17.5" textLength="76.2" lengthAdjust="spacingAndGlyphs" stroke="#111" stroke-width="0.55">Foxp3 (+)</text>
<text x="262.0" y="497.0" font-size="17.5" textLength="50.0" lengthAdjust="spacingAndGlyphs" stroke="#111" stroke-width="0.55">8.28%</text>
<rect x="412.0" y="430.1" width="256.3" height="256.9" fill="#fff" stroke="#151515" stroke-width="1.3"/>
<path d="M437.0 687.0v6.5M465.0 687.0v6.5M526.9 687.0v6.5M585.9 687.0v6.5M643.3 687.0v6.5M412.0 662.0h-7M412.0 633.9h-7M412.0 571.8h-7M412.0 512.7h-7M412.0 455.1h-7" stroke="#222" stroke-width="1.6" fill="none"/>
<path d="M483.6 687.0v3.4M494.5 687.0v3.4M502.3 687.0v3.4M508.3 687.0v3.4M513.2 687.0v3.4M517.3 687.0v3.4M520.9 687.0v3.4M524.1 687.0v3.4M544.7 687.0v3.4M555.0 687.0v3.4M562.4 687.0v3.4M568.1 687.0v3.4M572.8 687.0v3.4M576.7 687.0v3.4M580.2 687.0v3.4M583.2 687.0v3.4M603.2 687.0v3.4M613.3 687.0v3.4M620.5 687.0v3.4M626.0 687.0v3.4M630.6 687.0v3.4M634.4 687.0v3.4M637.8 687.0v3.4M640.7 687.0v3.4M660.6 687.0v3.4M415.5 687.0v3.4M418.9 687.0v3.4M422.3 687.0v3.4M425.7 687.0v3.4M429.1 687.0v3.4M432.5 687.0v3.4M439.3 687.0v3.4M442.7 687.0v3.4M446.1 687.0v3.4M449.5 687.0v3.4M452.9 687.0v3.4M456.3 687.0v3.4M459.7 687.0v3.4M463.1 687.0v3.4M412.0 615.2h-3.8M412.0 604.3h-3.8M412.0 596.5h-3.8M412.0 590.5h-3.8M412.0 585.6h-3.8M412.0 581.4h-3.8M412.0 577.8h-3.8M412.0 574.7h-3.8M412.0 554.0h-3.8M412.0 543.6h-3.8M412.0 536.2h-3.8M412.0 530.5h-3.8M412.0 525.8h-3.8M412.0 521.9h-3.8M412.0 518.5h-3.8M412.0 515.4h-3.8M412.0 495.4h-3.8M412.0 485.3h-3.8M412.0 478.1h-3.8M412.0 472.5h-3.8M412.0 467.9h-3.8M412.0 464.1h-3.8M412.0 460.7h-3.8M412.0 457.8h-3.8M412.0 437.8h-3.8M412.0 683.5h-3.8M412.0 680.1h-3.8M412.0 676.7h-3.8M412.0 673.3h-3.8M412.0 669.9h-3.8M412.0 666.5h-3.8M412.0 659.7h-3.8M412.0 656.3h-3.8M412.0 652.9h-3.8M412.0 649.5h-3.8M412.0 646.1h-3.8M412.0 642.7h-3.8M412.0 639.3h-3.8M412.0 635.9h-3.8" stroke="#222" stroke-width="1.2" fill="none"/>
<path d="M437.0 687.0v7M412.0 662.0h-7.5" stroke="#111" stroke-width="2" fill="none"/>
<g font-size="13.1" fill="#3c3c3c" stroke="#3c3c3c" stroke-width="0.2"><text x="430.7" y="725.3" text-anchor="middle">0</text><text x="458.5" y="725.3">10<tspan dx="0.8" dy="-10" font-size="12.3">2</tspan></text><text x="520.4" y="725.3">10<tspan dx="0.8" dy="-10" font-size="12.3">3</tspan></text><text x="579.4" y="725.3">10<tspan dx="0.8" dy="-10" font-size="12.3">4</tspan></text><text x="636.8" y="725.3">10<tspan dx="0.8" dy="-10" font-size="12.3">5</tspan></text><text x="386.1" y="669.0">0</text><text x="377.6" y="642.4">10<tspan dx="0.8" dy="-10" font-size="12.3">2</tspan></text><text x="377.6" y="580.3">10<tspan dx="0.8" dy="-10" font-size="12.3">3</tspan></text><text x="377.6" y="521.2">10<tspan dx="0.8" dy="-10" font-size="12.3">4</tspan></text><text x="377.6" y="463.6">10<tspan dx="0.8" dy="-10" font-size="12.3">5</tspan></text></g>
<text x="367.5" y="633.0" font-size="17.5" textLength="148.0" lengthAdjust="spacingAndGlyphs" transform="rotate(-90 367.5 633.0)" stroke="#111" stroke-width="0.55">PE-Cy7-anti-CD25</text>
<text x="475.5" y="748.5" font-size="17.5" textLength="129.0" lengthAdjust="spacingAndGlyphs" stroke="#111" stroke-width="0.55">A488-anti-Foxp3</text>
<path d="M435 642.5h1.2M437 639.5h1.2M439 627.5h1.2M439 653.5h1.2M439 683.5h1.2M440 635.5h1.2M440 638.5h1.2M441 647.5h1.2M442 656.5h1.2M442 682.5h1.2M443 599.5h1.2M443 608.5h1.2M443 639.5h1.2M444 635.5h1.2M444 675.5h1.2M445 596.5h1.2M445 614.5h1.2M445 653.5h1.2M445 661.5h1.2M445 666.5h1.2M445 685.5h1.2M446 562.5h1.2M446 605.5h1.2M446 658.5h1.2M447 630.5h1.2M447 653.5h1.2M448 641.5h1.2M448 658.5h1.2M448 659.5h1.2M448 672.5h1.2M449 602.5h1.2M449 631.5h1.2M449 658.5h1.2M450 566.5h1.2M450 607.5h1.2M452 588.5h1.2M453 560.5h1.2M454 555.5h1.2M454 556.5h1.2M454 565.5h1.2M454 573.5h1.2M455 551.5h1.2M455 559.5h1.2M455 567.5h1.2M456 559.5h1.2M456 570.5h1.2M457 559.5h1.2M457 566.5h1.2M459 542.5h1.2M460 556.5h1.2M460 557.5h1.2M460 561.5h1.2M461 542.5h1.2M461 554.5h1.2M462 564.5h1.2M463 562.5h1.2M464 559.5h1.2M466 557.5h1.2M471 539.5h1.2M472 542.5h1.2M474 544.5h1.2M479 542.5h1.2M479 546.5h1.2M481 548.5h1.2M482 544.5h1.2M483 546.5h1.2M483 552.5h1.2M485 549.5h1.2M485 550.5h1.2M485 554.5h1.2M486 553.5h1.2M486 554.5h1.2M487 532.5h1.2M487 540.5h1.2M487 544.5h1.2M487 545.5h1.2M487 550.5h1.2M487 551.5h1.2M487 553.5h1.2M487 554.5h1.2M488 549.5h1.2M488 552.5h1.2M488 553.5h1.2M488 556.5h1.2M488 557.5h1.2M489 550.5h1.2M490 545.5h1.2M490 546.5h1.2M490 550.5h1.2M490 551.5h1.2M490 559.5h1.2M491 546.5h1.2M491 555.5h1.2M492 550.5h1.2M493 549.5h1.2M493 554.5h1.2M493 556.5h1.2M494 551.5h1.2M494 552.5h1.2M494 554.5h1.2M494 561.5h1.2M495 545.5h1.2M495 548.5h1.2M496 543.5h1.2M496 549.5h1.2M496 550.5h1.2M497 554.5h1.2M497 556.5h1.2M498 548.5h1.2M498 560.5h1.2M498 562.5h1.2M499 555.5h1.2M499 556.5h1.2M499 562.5h1.2M500 550.5h1.2M500 554.5h1.2M501 554.5h1.2M501 558.5h1.2M501 564.5h1.2M502 552.5h1.2M503 583.5h1.2M503 589.5h1.2M504 550.5h1.2M504 601.5h1.2M505 564.5h1.2M505 570.5h1.2M505 582.5h1.2M505 605.5h1.2M505 671.5h1.2M506 598.5h1.2M506 599.5h1.2M506 602.5h1.2M506 603.5h1.2M506 662.5h1.2M506 664.5h1.2M506 670.5h1.2M507 546.5h1.2M507 580.5h1.2M507 609.5h1.2M507 620.5h1.2M507 632.5h1.2M507 645.5h1.2M507 664.5h1.2M507 673.5h1.2M507 683.5h1.2M508 554.5h1.2M508 560.5h1.2M508 569.5h1.2M508 660.5h1.2M508 673.5h1.2M509 557.5h1.2M509 565.5h1.2M509 581.5h1.2M509 592.5h1.2M509 594.5h1.2M509 596.5h1.2M509 601.5h1.2M509 613.5h1.2M509 622.5h1.2M509 636.5h1.2M509 648.5h1.2M509 656.5h1.2M509 661.5h1.2M510 538.5h1.2M510 557.5h1.2M510 583.5h1.2M510 594.5h1.2M510 618.5h1.2M510 649.5h1.2M510 656.5h1.2M511 567.5h1.2M511 584.5h1.2M511 591.5h1.2M511 598.5h1.2M511 606.5h1.2M511 652.5h1.2M512 563.5h1.2M512 582.5h1.2M512 598.5h1.2M512 616.5h1.2M512 661.5h1.2M514 596.5h1.2M516 577.5h1.2M517 572.5h1.2M517 586.5h1.2M518 558.5h1.2M520 560.5h1.2" stroke="#141414" stroke-width="1.25" fill="none"/>
<clipPath id="c4"><rect x="412.0" y="430.1" width="256.29999999999995" height="256.4"/></clipPath>
<g clip-path="url(#c4)">
<path d="M464.4 687.1L464.3 685.6L464.2 684.1L464.1 682.6L464.1 681.1L464.0 680.1L463.9 678.6L463.8 677.1L463.7 675.6L463.6 674.1L463.5 673.0L463.4 671.6L463.3 670.1L463.2 668.6L463.1 667.1L463.0 666.1L462.8 664.6L462.7 663.1L462.6 661.6L462.5 660.5L462.4 659.1L462.3 657.6L462.1 656.1L462.0 654.7L461.9 653.6L461.8 652.1L461.7 650.6L461.5 649.1L461.4 648.1L461.3 646.6L461.2 645.1L461.1 643.6L461.0 642.3L460.9 641.1L460.8 639.6L460.7 638.1L460.6 636.6L460.5 635.1L460.5 634.1L460.4 632.6L460.3 631.1L460.3 629.6L460.2 628.1L460.2 626.6L460.1 625.1L460.1 623.6L460.1 622.1L460.0 620.6L460.0 619.1L460.0 617.6L460.1 616.1L460.1 614.6L460.2 613.1L460.3 611.6L460.5 610.2L460.6 609.1L460.9 607.6L461.0 606.6L461.3 605.1L461.6 604.1L461.9 602.6L462.2 601.6L462.5 600.5L462.9 599.1L463.3 598.1L463.6 597.1L464.0 596.1L464.5 594.9L465.0 593.7L465.5 592.7L466.0 591.7L466.5 590.7L467.0 589.9L467.5 589.0L468.1 588.1L468.8 587.1L469.5 586.3L470.1 585.6L471.0 584.6L471.6 584.1L472.5 583.4L473.5 582.7L474.5 582.2L475.5 581.9L477.0 581.6L478.5 581.7L480.0 582.1L481.0 582.5L482.0 583.1L482.8 583.6L483.5 584.2L484.5 585.1L485.0 585.6L485.8 586.6L486.5 587.6L487.0 588.3L487.5 589.2L488.0 590.1L488.5 591.1L489.0 592.3L489.5 593.5L489.9 594.6L490.2 595.6L490.6 596.6L491.0 598.0L491.3 599.1L491.6 600.1L492.0 601.6L492.2 602.6L492.5 604.0L492.7 605.1L493.0 606.6L493.2 607.6L493.4 609.1L493.5 610.1L493.7 611.6L493.8 613.1L493.9 614.6L494.0 616.1L494.0 617.6L494.0 619.1L494.0 620.6L494.0 622.1L493.9 623.6L493.9 625.1L493.9 626.6L493.8 628.1L493.8 629.6L493.7 631.1L493.6 632.6L493.6 634.1L493.5 635.5L493.4 636.6L493.4 638.1L493.3 639.6L493.2 641.1L493.1 642.6L493.0 643.7L492.9 645.1L492.8 646.6L492.7 648.1L492.6 649.6L492.5 650.6L492.4 652.1L492.3 653.6L492.1 655.1L492.0 656.6L491.9 657.6L491.8 659.1L491.7 660.6L491.6 662.1L491.5 663.2L491.4 664.6L491.3 666.1L491.2 667.6L491.1 669.1L491.0 670.1L490.9 671.6L490.8 673.1L490.7 674.6L490.6 676.1L490.5 677.4L490.4 678.6L490.3 680.1L490.2 681.6L490.2 683.1L490.1 684.6L490.0 685.7L489.9 687.1Z" fill="#222" fill-opacity="0.04" stroke="none"/>
<path d="M466.8 687.1L466.7 685.6L466.6 684.1L466.5 683.0L466.4 681.6L466.3 680.1L466.1 678.6L466.0 677.1L465.9 676.1L465.8 674.6L465.7 673.1L465.5 671.6L465.5 670.6L465.3 669.1L465.2 667.6L465.0 666.1L464.9 665.1L464.8 663.6L464.6 662.1L464.5 660.8L464.4 659.6L464.2 658.1L464.1 656.6L464.0 655.6L463.8 654.1L463.7 652.6L463.5 651.1L463.4 650.1L463.3 648.6L463.1 647.1L463.0 645.6L462.9 644.6L462.8 643.1L462.7 641.6L462.5 640.1L462.5 639.1L462.4 637.6L462.3 636.1L462.2 634.6L462.1 633.1L462.0 631.8L461.9 630.6L461.9 629.1L461.8 627.6L461.7 626.1L461.7 624.6L461.7 623.1L461.6 621.6L461.6 620.1L461.6 618.6L461.6 617.1L461.7 615.6L461.8 614.1L461.9 612.6L462.0 611.3L462.1 610.1L462.4 608.6L462.5 607.6L462.8 606.1L463.1 605.1L463.4 603.6L463.7 602.6L464.0 601.6L464.5 600.1L464.8 599.1L465.2 598.1L465.6 597.1L466.1 596.1L466.6 595.1L467.1 594.1L467.6 593.1L468.3 592.1L468.9 591.1L469.5 590.3L470.1 589.6L471.0 588.6L471.5 588.1L472.5 587.3L473.5 586.6L474.5 586.1L475.5 585.8L476.5 585.6L478.0 585.6L479.0 585.7L480.1 586.1L481.1 586.6L482.0 587.2L483.0 588.0L483.6 588.6L484.5 589.5L485.0 590.2L485.6 591.1L486.3 592.1L486.8 593.1L487.3 594.1L487.8 595.1L488.2 596.1L488.6 597.1L489.0 598.2L489.5 599.6L489.8 600.6L490.1 601.6L490.5 603.1L490.7 604.1L491.0 605.5L491.2 606.6L491.5 608.1L491.7 609.1L491.9 610.6L492.0 611.9L492.1 613.1L492.2 614.6L492.3 616.1L492.3 617.6L492.3 619.1L492.3 620.6L492.3 622.1L492.3 623.6L492.2 625.1L492.2 626.6L492.1 628.1L492.1 629.6L492.0 630.8L491.9 632.1L491.9 633.6L491.8 635.1L491.7 636.6L491.6 638.1L491.5 639.2L491.4 640.6L491.3 642.1L491.2 643.6L491.0 645.1L491.0 646.1L490.8 647.6L490.7 649.1L490.6 650.6L490.5 651.6L490.3 653.1L490.2 654.6L490.1 656.1L490.0 657.1L489.8 658.6L489.7 660.1L489.5 661.6L489.4 662.6L489.3 664.1L489.2 665.6L489.0 667.1L488.9 668.1L488.8 669.6L488.7 671.1L488.5 672.6L488.4 673.6L488.3 675.1L488.2 676.6L488.1 678.1L488.0 679.2L487.9 680.6L487.8 682.1L487.7 683.6L487.6 685.1L487.5 686.1Z" fill="#222" fill-opacity="0.04" stroke="none"/>
<path d="M469.0 687.1L468.9 686.1L468.8 684.6L468.6 683.1L468.5 681.8L468.4 680.6L468.2 679.1L468.1 677.6L468.0 676.6L467.8 675.1L467.7 673.6L467.5 672.2L467.4 671.1L467.2 669.6L467.0 668.1L466.9 667.1L466.8 665.6L466.6 664.1L466.5 663.1L466.3 661.6L466.1 660.1L466.0 659.1L465.8 657.6L465.6 656.1L465.5 654.9L465.3 653.6L465.2 652.1L465.0 650.6L464.9 649.6L464.7 648.1L464.6 646.6L464.5 645.6L464.3 644.1L464.2 642.6L464.0 641.1L463.9 640.1L463.8 638.6L463.7 637.1L463.6 635.6L463.5 634.3L463.4 633.1L463.3 631.6L463.2 630.1L463.2 628.6L463.1 627.1L463.0 625.6L463.0 624.3L463.0 623.1L462.9 621.6L462.9 620.1L462.9 618.6L462.9 617.1L463.0 615.6L463.0 614.6L463.1 613.1L463.3 611.6L463.5 610.1L463.6 609.1L463.9 607.6L464.1 606.6L464.5 605.1L464.8 604.1L465.0 603.1L465.5 601.7L465.9 600.6L466.3 599.6L466.7 598.6L467.2 597.6L467.7 596.6L468.2 595.6L468.8 594.6L469.5 593.6L470.0 593.0L470.7 592.1L471.5 591.3L472.3 590.6L473.0 590.0L474.0 589.4L475.0 589.0L476.5 588.6L477.5 588.6L478.5 588.7L479.8 589.1L480.8 589.6L481.6 590.1L482.5 590.9L483.2 591.6L484.0 592.5L484.5 593.1L485.1 594.1L485.7 595.1L486.3 596.1L486.8 597.1L487.2 598.1L487.6 599.1L488.0 600.2L488.5 601.6L488.8 602.6L489.1 603.6L489.4 605.1L489.7 606.1L490.0 607.6L490.2 608.6L490.4 610.1L490.5 611.1L490.7 612.6L490.8 614.1L490.9 615.6L490.9 617.1L490.9 618.6L490.9 620.1L490.9 621.6L490.9 623.1L490.9 624.6L490.8 626.1L490.8 627.6L490.7 629.1L490.6 630.6L490.5 632.1L490.5 633.1L490.4 634.6L490.3 636.1L490.2 637.6L490.1 639.1L490.0 640.1L489.8 641.6L489.7 643.1L489.6 644.6L489.5 645.6L489.3 647.1L489.2 648.6L489.0 650.1L488.9 651.1L488.8 652.6L488.6 654.1L488.5 655.1L488.3 656.6L488.1 658.1L488.0 659.4L487.9 660.6L487.7 662.1L487.5 663.6L487.4 664.6L487.2 666.1L487.1 667.6L487.0 668.6L486.8 670.1L486.6 671.6L486.5 673.0L486.4 674.1L486.2 675.6L486.1 677.1L486.0 678.1L485.8 679.6L485.7 681.1L485.5 682.6L485.5 683.6L485.3 685.1L485.2 686.6Z" fill="#222" fill-opacity="0.04" stroke="none"/>
<path d="M471.3 687.1L471.1 685.6L471.0 684.6L470.8 683.1L470.6 681.6L470.5 680.6L470.3 679.1L470.1 677.6L469.9 676.6L469.7 675.1L469.5 673.6L469.4 672.6L469.2 671.1L469.0 669.7L468.8 668.6L468.6 667.1L468.5 666.1L468.3 664.6L468.1 663.1L467.9 662.1L467.7 660.6L467.5 659.1L467.4 658.1L467.2 656.6L467.0 655.4L466.8 654.1L466.6 652.6L466.5 651.6L466.3 650.1L466.1 648.6L466.0 647.6L465.8 646.1L465.6 644.6L465.5 643.2L465.4 642.1L465.2 640.6L465.1 639.1L465.0 638.1L464.9 636.6L464.7 635.1L464.6 633.6L464.5 632.1L464.5 631.1L464.4 629.6L464.3 628.1L464.2 626.6L464.2 625.1L464.1 623.6L464.1 622.1L464.1 620.6L464.1 619.1L464.1 617.6L464.1 616.1L464.2 614.6L464.3 613.1L464.5 611.6L464.6 610.6L464.8 609.1L465.0 608.1L465.4 606.6L465.6 605.6L466.0 604.3L466.4 603.1L466.7 602.1L467.1 601.1L467.6 600.1L468.0 599.1L468.5 598.1L469.1 597.1L469.8 596.1L470.5 595.1L471.0 594.5L471.9 593.6L472.5 593.0L473.5 592.3L474.5 591.7L475.5 591.4L477.0 591.1L478.5 591.3L479.5 591.6L480.5 592.1L481.5 592.8L482.4 593.6L483.0 594.2L483.7 595.1L484.4 596.1L485.0 597.1L485.5 598.0L486.0 599.0L486.5 600.1L486.9 601.1L487.2 602.1L487.6 603.1L488.0 604.6L488.3 605.6L488.5 606.6L488.8 608.1L489.0 609.1L489.3 610.6L489.5 612.1L489.6 613.1L489.7 614.6L489.7 616.1L489.8 617.6L489.8 619.1L489.8 620.6L489.8 622.1L489.7 623.6L489.7 625.1L489.6 626.6L489.6 628.1L489.5 629.1L489.4 630.6L489.3 632.1L489.2 633.6L489.1 635.1L489.0 636.6L488.9 637.6L488.8 639.1L488.7 640.6L488.5 642.1L488.4 643.1L488.2 644.6L488.1 646.1L488.0 647.1L487.8 648.6L487.6 650.1L487.5 651.1L487.3 652.6L487.1 654.1L487.0 655.1L486.8 656.6L486.6 658.1L486.5 659.1L486.3 660.6L486.1 662.1L485.9 663.1L485.7 664.6L485.5 666.1L485.4 667.1L485.2 668.6L485.0 669.9L484.8 671.1L484.6 672.6L484.5 673.6L484.3 675.1L484.1 676.6L484.0 677.6L483.8 679.1L483.6 680.6L483.5 681.6L483.3 683.1L483.1 684.6L482.9 685.6L482.7 687.1Z" fill="#222" fill-opacity="0.04" stroke="none"/>
<path d="M474.6 687.1L474.3 686.1L474.0 685.1L473.6 683.6L473.4 682.6L473.1 681.1L472.8 680.1L472.5 678.6L472.3 677.6L472.0 676.1L471.8 675.1L471.6 673.6L471.4 672.6L471.1 671.1L470.9 670.1L470.6 668.6L470.5 667.6L470.2 666.1L470.0 665.0L469.8 663.6L469.5 662.1L469.3 661.1L469.1 659.6L468.9 658.6L468.7 657.1L468.5 656.1L468.3 654.6L468.0 653.1L467.9 652.1L467.7 650.6L467.5 649.5L467.3 648.1L467.1 646.6L467.0 645.6L466.8 644.1L466.6 642.6L466.5 641.6L466.3 640.1L466.1 638.6L466.0 637.1L465.9 636.1L465.8 634.6L465.7 633.1L465.5 631.6L465.5 630.6L465.4 629.1L465.3 627.6L465.2 626.1L465.2 624.6L465.1 623.1L465.1 621.6L465.1 620.1L465.1 618.6L465.1 617.1L465.1 615.6L465.2 614.1L465.4 612.6L465.5 611.6L465.7 610.1L466.0 608.7L466.2 607.6L466.5 606.6L466.9 605.1L467.3 604.1L467.6 603.1L468.0 602.1L468.5 601.0L469.0 600.0L469.5 599.1L470.2 598.1L470.9 597.1L471.5 596.4L472.3 595.6L473.0 595.0L474.0 594.3L475.0 593.8L476.0 593.5L477.5 593.4L478.6 593.6L479.8 594.1L480.7 594.6L481.5 595.2L482.4 596.1L483.0 596.9L483.5 597.6L484.2 598.6L484.8 599.6L485.3 600.6L485.7 601.6L486.1 602.6L486.5 603.7L486.9 605.1L487.2 606.1L487.5 607.2L487.8 608.6L488.0 609.6L488.3 611.1L488.4 612.6L488.5 613.6L488.7 615.1L488.7 616.6L488.7 618.1L488.7 619.6L488.7 621.1L488.7 622.6L488.7 624.1L488.6 625.6L488.5 627.1L488.5 628.1L488.4 629.6L488.3 631.1L488.2 632.6L488.1 634.1L488.0 635.2L487.9 636.6L487.7 638.1L487.6 639.6L487.5 640.6L487.3 642.1L487.1 643.6L487.0 644.8L486.8 646.1L486.6 647.6L486.5 648.7L486.3 650.1L486.1 651.6L485.9 652.6L485.7 654.1L485.5 655.6L485.3 656.6L485.1 658.1L484.9 659.1L484.7 660.6L484.5 661.8L484.3 663.1L484.0 664.6L483.9 665.6L483.6 667.1L483.4 668.1L483.2 669.6L483.0 670.6L482.7 672.1L482.5 673.2L482.2 674.6L482.0 675.9L481.8 677.1L481.5 678.5L481.3 679.6L481.0 680.9L480.7 682.1L480.5 683.1L480.1 684.6L479.9 685.6L479.5 686.9Z" fill="#222" fill-opacity="0.04" stroke="none"/>
<path d="M477.0 677.2L476.0 676.7L475.5 676.1L475.0 675.1L474.5 674.1L474.0 672.8L473.6 671.6L473.3 670.6L473.0 669.6L472.6 668.1L472.3 667.1L472.0 665.7L471.7 664.6L471.5 663.6L471.2 662.1L470.9 661.1L470.6 659.6L470.4 658.6L470.1 657.1L469.9 656.1L469.6 654.6L469.4 653.6L469.2 652.1L469.0 651.1L468.7 649.6L468.5 648.1L468.3 647.1L468.1 645.6L468.0 644.6L467.8 643.1L467.6 641.6L467.4 640.6L467.3 639.1L467.1 637.6L467.0 636.6L466.8 635.1L466.7 633.6L466.6 632.1L466.5 631.1L466.4 629.6L466.3 628.1L466.2 626.6L466.1 625.1L466.1 623.6L466.0 622.1L466.0 620.6L466.0 619.1L466.0 617.6L466.1 616.1L466.1 614.6L466.3 613.1L466.5 611.6L466.6 610.6L466.9 609.1L467.2 608.1L467.5 606.8L467.9 605.6L468.2 604.6L468.6 603.6L469.1 602.6L469.6 601.6L470.1 600.6L470.8 599.6L471.5 598.6L472.0 598.0L473.0 597.1L473.6 596.6L474.5 596.1L475.8 595.6L477.0 595.4L478.3 595.6L479.5 596.0L480.4 596.6L481.1 597.1L482.0 598.0L482.5 598.6L483.2 599.6L483.8 600.6L484.4 601.6L484.8 602.6L485.3 603.6L485.6 604.6L486.0 605.7L486.4 607.1L486.7 608.1L487.0 609.6L487.2 610.6L487.4 612.1L487.5 613.1L487.7 614.6L487.7 616.1L487.8 617.6L487.8 619.1L487.8 620.6L487.7 622.1L487.7 623.6L487.7 625.1L487.6 626.6L487.5 628.1L487.4 629.1L487.3 630.6L487.2 632.1L487.1 633.6L487.0 634.7L486.9 636.1L486.7 637.6L486.6 639.1L486.4 640.1L486.3 641.6L486.1 643.1L485.9 644.1L485.7 645.6L485.5 647.1L485.3 648.1L485.1 649.6L484.9 650.6L484.7 652.1L484.5 653.2L484.3 654.6L484.0 656.0L483.8 657.1L483.5 658.5L483.3 659.6L483.0 661.0L482.8 662.1L482.5 663.3L482.2 664.6L482.0 665.6L481.6 667.1L481.3 668.1L481.0 669.3L480.6 670.6L480.3 671.6L480.0 672.6L479.5 674.0L479.0 675.1L478.5 676.0L478.0 676.7L477.0 677.2Z" fill="#222" fill-opacity="0.04" stroke="none"/>
<path d="M477.5 667.8L476.1 667.6L475.5 667.0L474.9 666.1L474.4 665.1L473.9 664.1L473.5 663.1L473.0 661.6L472.7 660.6L472.4 659.6L472.0 658.3L471.7 657.1L471.4 656.1L471.1 654.6L470.8 653.6L470.5 652.1L470.3 651.1L470.0 649.6L469.8 648.6L469.5 647.1L469.3 646.1L469.1 644.6L468.9 643.6L468.7 642.1L468.5 640.7L468.3 639.6L468.2 638.1L468.0 636.8L467.9 635.6L467.7 634.1L467.6 632.6L467.5 631.6L467.3 630.1L467.2 628.6L467.1 627.1L467.1 625.6L467.0 624.4L466.9 623.1L466.9 621.6L466.9 620.1L466.9 618.6L466.9 617.1L467.0 615.6L467.0 614.6L467.2 613.1L467.4 611.6L467.6 610.6L467.9 609.1L468.2 608.1L468.5 606.9L469.0 605.6L469.4 604.6L469.8 603.6L470.3 602.6L470.9 601.6L471.5 600.8L472.0 600.1L473.0 599.1L473.6 598.6L474.5 598.0L475.5 597.6L477.0 597.4L478.5 597.6L479.5 598.0L480.4 598.6L481.0 599.1L481.9 600.1L482.5 600.9L483.0 601.7L483.5 602.6L484.0 603.6L484.5 604.7L485.0 606.0L485.4 607.1L485.6 608.1L486.0 609.6L486.2 610.6L486.5 612.1L486.6 613.1L486.7 614.6L486.8 616.1L486.9 617.6L486.9 619.1L486.9 620.6L486.8 622.1L486.8 623.6L486.7 625.1L486.6 626.6L486.6 628.1L486.5 629.1L486.4 630.6L486.3 632.1L486.1 633.6L486.0 634.8L485.9 636.1L485.7 637.6L485.5 639.1L485.4 640.1L485.2 641.6L485.0 642.8L484.8 644.1L484.6 645.6L484.4 646.6L484.1 648.1L483.9 649.1L483.6 650.6L483.4 651.6L483.1 653.1L482.9 654.1L482.5 655.6L482.3 656.6L482.0 657.8L481.6 659.1L481.3 660.1L481.0 661.3L480.5 662.6L480.2 663.6L479.8 664.6L479.3 665.6L478.7 666.6L478.0 667.5Z" fill="#222" fill-opacity="0.04" stroke="none"/>
<path d="M477.5 660.9L476.0 660.7L475.4 660.1L474.7 659.1L474.1 658.1L473.7 657.1L473.3 656.1L472.9 655.1L472.5 653.8L472.1 652.6L471.9 651.6L471.5 650.3L471.2 649.1L471.0 648.1L470.7 646.6L470.4 645.6L470.2 644.1L470.0 643.1L469.7 641.6L469.5 640.3L469.3 639.1L469.1 637.6L469.0 636.6L468.8 635.1L468.6 633.6L468.5 632.6L468.3 631.1L468.2 629.6L468.1 628.1L468.0 626.7L467.9 625.6L467.9 624.1L467.8 622.6L467.8 621.1L467.8 619.6L467.8 618.1L467.8 616.6L467.9 615.1L468.0 613.8L468.2 612.6L468.4 611.1L468.6 610.1L469.0 608.6L469.3 607.6L469.7 606.6L470.1 605.6L470.5 604.6L471.1 603.6L471.7 602.6L472.5 601.6L473.0 601.1L474.0 600.2L475.0 599.6L476.0 599.3L477.5 599.2L478.8 599.6L479.7 600.1L480.5 600.7L481.4 601.6L482.0 602.4L482.5 603.2L483.0 604.1L483.5 605.1L484.0 606.3L484.5 607.6L484.8 608.6L485.0 609.6L485.4 611.1L485.5 612.1L485.7 613.6L485.9 615.1L486.0 616.6L486.0 618.1L486.0 619.6L486.0 621.1L485.9 622.6L485.9 624.1L485.8 625.6L485.7 627.1L485.6 628.6L485.5 630.0L485.4 631.1L485.3 632.6L485.1 634.1L485.0 635.1L484.8 636.6L484.6 638.1L484.5 639.1L484.2 640.6L484.0 642.0L483.8 643.1L483.5 644.6L483.3 645.6L483.0 647.1L482.8 648.1L482.5 649.5L482.2 650.6L482.0 651.6L481.5 653.1L481.2 654.1L480.9 655.1L480.5 656.2L480.0 657.5L479.5 658.5L479.0 659.4L478.5 660.1L477.5 660.9Z" fill="#222" fill-opacity="0.04" stroke="none"/>
<path d="M477.5 655.2L476.1 655.1L475.5 654.6L474.7 653.6L474.1 652.6L473.7 651.6L473.3 650.6L472.9 649.6L472.5 648.3L472.1 647.1L471.9 646.1L471.5 644.6L471.3 643.6L471.0 642.4L470.7 641.1L470.5 639.9L470.3 638.6L470.0 637.1L469.9 636.1L469.7 634.6L469.5 633.2L469.4 632.1L469.2 630.6L469.1 629.1L469.0 628.1L468.9 626.6L468.8 625.1L468.7 623.6L468.6 622.1L468.6 620.6L468.6 619.1L468.6 617.6L468.7 616.1L468.8 614.6L469.0 613.1L469.1 612.1L469.4 610.6L469.7 609.6L470.0 608.6L470.5 607.2L471.0 606.1L471.5 605.1L472.0 604.3L472.5 603.6L473.4 602.6L474.0 602.1L475.0 601.5L476.0 601.1L477.5 601.0L478.5 601.3L479.5 601.8L480.4 602.6L481.0 603.2L481.7 604.1L482.3 605.1L482.8 606.1L483.2 607.1L483.6 608.1L484.0 609.4L484.3 610.6L484.5 611.6L484.8 613.1L485.0 614.6L485.0 615.6L485.1 617.1L485.1 618.6L485.1 620.1L485.1 621.6L485.0 623.1L485.0 624.2L484.9 625.6L484.8 627.1L484.7 628.6L484.6 630.1L484.5 631.1L484.3 632.6L484.1 634.1L484.0 635.1L483.8 636.6L483.6 638.1L483.4 639.1L483.1 640.6L482.9 641.6L482.6 643.1L482.4 644.1L482.0 645.6L481.8 646.6L481.5 647.6L481.0 649.1L480.7 650.1L480.3 651.1L479.9 652.1L479.4 653.1L478.8 654.1L478.0 654.9Z" fill="#222" fill-opacity="0.04" stroke="none"/>
<path d="M477.5 650.2L476.0 650.1L475.4 649.6L474.7 648.6L474.1 647.6L473.7 646.6L473.3 645.6L472.9 644.6L472.5 643.1L472.2 642.1L472.0 641.1L471.6 639.6L471.4 638.6L471.1 637.1L470.9 636.1L470.7 634.6L470.5 633.3L470.3 632.1L470.1 630.6L470.0 629.2L469.9 628.1L469.8 626.6L469.7 625.1L469.6 623.6L469.5 622.1L469.5 621.1L469.5 619.6L469.5 618.1L469.5 617.0L469.6 615.6L469.7 614.1L470.0 612.6L470.2 611.6L470.5 610.3L470.9 609.1L471.3 608.1L471.7 607.1L472.3 606.1L473.0 605.1L473.5 604.5L474.5 603.6L475.4 603.1L476.5 602.8L478.0 602.9L479.0 603.4L479.9 604.1L480.5 604.7L481.2 605.6L481.8 606.6L482.3 607.6L482.7 608.6L483.0 609.6L483.5 611.1L483.7 612.1L483.9 613.6L484.1 614.6L484.2 616.1L484.2 617.6L484.3 619.1L484.2 620.6L484.2 622.1L484.1 623.6L484.1 625.1L484.0 626.1L483.9 627.6L483.7 629.1L483.6 630.6L483.5 631.6L483.3 633.1L483.0 634.6L482.9 635.6L482.6 637.1L482.4 638.1L482.1 639.6L481.9 640.6L481.5 642.1L481.3 643.1L481.0 644.1L480.5 645.5L480.1 646.6L479.6 647.6L479.1 648.6L478.5 649.4L477.7 650.1Z" fill="#222" fill-opacity="0.04" stroke="none"/>
<path d="M477.0 645.7L476.0 645.5L475.2 644.6L474.5 643.6L474.0 642.6L473.6 641.6L473.3 640.6L473.0 639.6L472.6 638.1L472.3 637.1L472.0 635.7L471.8 634.6L471.5 633.1L471.4 632.1L471.1 630.6L471.0 629.5L470.8 628.1L470.7 626.6L470.6 625.1L470.5 624.1L470.4 622.6L470.4 621.1L470.3 619.6L470.4 618.1L470.4 616.6L470.5 615.2L470.6 614.1L470.9 612.6L471.1 611.6L471.5 610.4L472.0 609.1L472.5 608.1L473.0 607.2L473.5 606.5L474.4 605.6L475.1 605.1L476.5 604.6L477.0 604.6L478.5 605.0L479.3 605.6L480.0 606.2L480.7 607.1L481.3 608.1L481.7 609.1L482.1 610.1L482.5 611.3L482.8 612.6L483.0 613.6L483.2 615.1L483.3 616.6L483.3 618.1L483.4 619.6L483.3 621.1L483.3 622.6L483.2 624.1L483.1 625.6L483.0 626.8L482.9 628.1L482.7 629.6L482.5 631.1L482.4 632.1L482.1 633.6L481.9 634.6L481.6 636.1L481.4 637.1L481.0 638.6L480.8 639.6L480.5 640.6L480.0 641.9L479.5 643.1L479.0 644.0L478.5 644.7L477.5 645.6Z" fill="#222" fill-opacity="0.04" stroke="none"/>
<path d="M477.0 641.2L476.0 640.9L475.3 640.1L474.6 639.1L474.2 638.1L473.8 637.1L473.5 636.1L473.1 634.6L472.8 633.6L472.5 632.1L472.3 631.1L472.1 629.6L471.9 628.6L471.7 627.1L471.6 625.6L471.5 624.6L471.4 623.1L471.3 621.6L471.3 620.1L471.3 618.6L471.3 617.1L471.4 615.6L471.5 614.6L471.8 613.1L472.1 612.1L472.5 610.9L473.0 609.7L473.5 608.9L474.1 608.1L475.0 607.2L476.0 606.7L477.0 606.5L478.0 606.8L479.0 607.4L479.7 608.1L480.4 609.1L480.9 610.1L481.3 611.1L481.6 612.1L482.0 613.6L482.2 614.6L482.3 616.1L482.4 617.6L482.4 619.1L482.4 620.6L482.4 622.1L482.3 623.6L482.2 625.1L482.0 626.6L481.9 627.6L481.7 629.1L481.5 630.4L481.3 631.6L481.0 633.1L480.8 634.1L480.5 635.2L480.1 636.6L479.7 637.6L479.3 638.6L478.8 639.6L478.1 640.6L477.3 641.1Z" fill="#222" fill-opacity="0.04" stroke="none"/>
<path d="M477.5 636.3L476.0 636.2L475.5 635.6L474.9 634.6L474.5 633.6L474.0 632.2L473.7 631.1L473.5 630.1L473.2 628.6L473.0 627.6L472.8 626.1L472.6 624.6L472.5 623.6L472.4 622.1L472.3 620.6L472.3 619.1L472.4 617.6L472.4 616.1L472.6 615.1L472.9 613.6L473.2 612.6L473.6 611.6L474.1 610.6L474.9 609.6L475.5 609.1L477.0 608.7L478.2 609.1L479.0 609.8L479.6 610.6L480.1 611.6L480.5 612.6L480.9 614.1L481.1 615.1L481.3 616.6L481.3 618.1L481.4 619.6L481.3 621.1L481.3 622.6L481.1 624.1L481.0 625.5L480.8 626.6L480.6 628.1L480.4 629.1L480.1 630.6L479.9 631.6L479.5 632.8L479.0 634.1L478.5 635.1L478.0 635.9Z" fill="#222" fill-opacity="0.04" stroke="none"/>
<path d="M477.0 631.7L476.0 631.2L475.5 630.5L475.0 629.5L474.5 628.1L474.3 627.1L474.0 625.7L473.8 624.6L473.6 623.1L473.5 621.6L473.5 620.6L473.5 619.1L473.5 617.6L473.6 616.6L473.8 615.1L474.1 614.1L474.5 613.0L475.0 612.1L476.0 611.2L477.0 611.0L478.0 611.4L478.6 612.1L479.2 613.1L479.6 614.1L480.0 615.6L480.1 616.6L480.2 618.1L480.2 619.6L480.2 621.1L480.1 622.6L480.0 623.6L479.8 625.1L479.5 626.6L479.3 627.6L479.0 628.6L478.5 629.9L478.0 630.8L477.1 631.6Z" fill="#222" fill-opacity="0.04" stroke="none"/>
<path d="M451.3 687.1L451.3 686.1L451.3 685.1L451.3 684.1L451.2 683.1L451.2 682.1L451.2 681.1L451.2 680.1L451.1 679.1L451.1 678.1L451.1 677.1L451.1 676.1L451.0 675.1L451.0 674.1L451.0 673.6L451.0 672.6L450.9 671.6L450.9 670.6L450.9 669.6L450.8 668.6L450.8 667.6L450.8 666.6L450.8 665.6L450.7 664.6L450.7 663.6L450.7 662.6L450.6 661.6L450.6 660.6L450.6 659.6L450.5 658.6L450.5 657.6L450.5 657.1L450.4 656.1L450.4 655.1L450.4 654.1L450.3 653.1L450.3 652.1L450.3 651.1L450.2 650.1L450.2 649.1L450.2 648.1L450.1 647.1L450.1 646.1L450.1 645.1L450.0 644.1L450.0 643.1L450.0 642.5L450.0 641.6L449.9 640.6L449.9 639.6L449.9 638.6L449.9 637.6L449.8 636.6L449.8 635.6L449.8 634.6L449.8 633.6L449.7 632.6L449.7 631.6L449.7 630.6L449.7 629.6L449.7 628.6L449.6 627.6L449.6 626.6L449.6 625.6L449.6 624.6L449.6 623.6L449.6 622.6L449.6 621.6L449.6 620.6L449.6 619.6L449.6 618.6L449.6 617.6L449.6 616.6L449.6 615.6L449.6 614.6L449.7 613.6L449.7 612.6L449.8 611.6L449.9 610.6L450.0 609.6L450.0 609.1L450.1 608.1L450.3 607.1L450.4 606.1L450.5 605.4L450.6 604.6L450.8 603.6L451.0 602.6L451.0 602.1L451.2 601.1L451.4 600.1L451.5 599.6L451.8 598.6L452.0 597.6L452.1 597.1L452.4 596.1L452.5 595.5L452.7 594.6L453.0 593.6L453.1 593.1L453.4 592.1L453.6 591.6L453.9 590.6L454.0 590.1L454.3 589.1L454.5 588.5L454.8 587.6L455.0 586.9L455.3 586.1L455.5 585.4L455.7 584.6L456.0 583.9L456.3 583.1L456.5 582.4L456.8 581.6L457.0 580.9L457.3 580.1L457.5 579.5L457.8 578.6L458.0 578.1L458.4 577.1L458.5 576.6L458.9 575.6L459.1 575.1L459.5 574.1L459.7 573.6L460.0 572.7L460.2 572.1L460.5 571.4L460.8 570.6L461.0 570.1L461.4 569.1L461.6 568.6L462.0 567.8L462.3 567.1L462.5 566.6L463.0 565.6L463.2 565.1L463.5 564.4L463.9 563.6L464.2 563.1L464.5 562.4L464.9 561.6L465.2 561.1L465.5 560.6L466.0 559.7L466.4 559.1L466.7 558.6L467.0 558.1L467.5 557.4L468.0 556.8L468.5 556.1L468.9 555.6L469.4 555.1L469.9 554.6L470.4 554.1L470.9 553.6L471.5 553.1L472.0 552.8L472.5 552.5L473.1 552.1L474.0 551.7L474.5 551.5L475.5 551.3L476.5 551.2L477.5 551.2L478.5 551.4L479.1 551.6L480.0 551.9L480.5 552.2L481.2 552.6L482.0 553.1L482.5 553.5L483.0 553.9L483.5 554.3L484.0 554.8L484.5 555.3L485.0 555.8L485.5 556.3L486.0 556.8L486.5 557.4L487.0 557.9L487.5 558.4L488.0 559.0L488.5 559.5L489.0 560.0L489.5 560.4L490.0 560.9L490.5 561.3L491.0 561.8L491.5 562.2L492.0 562.6L492.7 563.1L493.3 563.6L494.0 564.1L494.5 564.5L495.0 564.9L495.5 565.3L496.0 565.7L496.5 566.2L497.0 566.7L497.5 567.2L498.0 567.8L498.5 568.5L498.9 569.1L499.2 569.6L499.5 570.2L499.9 571.1L500.1 571.6L500.5 572.6L500.6 573.1L500.9 574.1L501.0 574.6L501.2 575.6L501.4 576.6L501.5 577.3L501.6 578.1L501.7 579.1L501.8 580.1L501.8 581.1L501.9 582.1L501.9 583.1L501.9 584.1L502.0 585.1L502.0 586.1L502.0 586.6L502.1 587.6L502.1 588.6L502.2 589.6L502.3 590.6L502.3 591.6L502.4 592.6L502.5 593.1L502.6 594.1L502.8 595.1L502.9 596.1L503.0 596.6L503.2 597.6L503.4 598.6L503.5 599.3L503.7 600.1L503.9 601.1L504.0 601.9L504.1 602.6L504.3 603.6L504.5 604.6L504.6 605.1L504.7 606.1L504.9 607.1L505.0 607.9L505.1 608.6L505.2 609.6L505.3 610.6L505.4 611.6L505.5 612.5L505.5 613.1L505.6 614.1L505.7 615.1L505.7 616.1L505.7 617.1L505.7 618.1L505.7 619.1L505.7 620.1L505.7 621.1L505.7 622.1L505.7 623.1L505.7 624.1L505.7 625.1L505.7 626.1L505.7 627.1L505.7 628.1L505.6 629.1L505.6 630.1L505.6 631.1L505.6 632.1L505.6 633.1L505.6 634.1L505.6 635.1L505.5 636.1L505.5 637.1L505.5 638.1L505.5 638.6L505.5 639.6L505.5 640.6L505.4 641.6L505.4 642.6L505.4 643.6L505.4 644.6L505.4 645.6L505.4 646.6L505.3 647.6L505.3 648.6L505.3 649.6L505.3 650.6L505.3 651.6L505.2 652.6L505.2 653.6L505.2 654.6L505.2 655.6L505.1 656.6L505.1 657.6L505.1 658.6L505.1 659.6L505.1 660.6L505.0 661.6L505.0 662.6L505.0 663.4L505.0 664.1L505.0 665.1L504.9 666.1L504.9 667.1L504.9 668.1L504.9 669.1L504.9 670.1L504.8 671.1L504.8 672.1L504.8 673.1L504.8 674.1L504.8 675.1L504.7 676.1L504.7 677.1L504.7 678.1L504.7 679.1L504.7 680.1L504.7 681.1L504.6 682.1L504.6 683.1L504.6 684.1L504.6 685.1L504.5 686.1L504.5 687.1M454.9 687.1L454.9 686.1L454.8 685.1L454.8 684.1L454.8 683.1L454.7 682.1L454.7 681.1L454.7 680.1L454.6 679.1L454.6 678.1L454.6 677.1L454.5 676.1L454.5 675.1L454.5 674.6L454.5 673.6L454.4 672.6L454.4 671.6L454.3 670.6L454.3 669.6L454.3 668.6L454.2 667.6L454.2 666.6L454.1 665.6L454.1 664.6L454.1 663.6L454.0 662.6L454.0 662.1L454.0 661.1L453.9 660.1L453.9 659.1L453.8 658.1L453.8 657.1L453.7 656.1L453.7 655.1L453.6 654.1L453.6 653.1L453.6 652.1L453.5 651.1L453.5 650.6L453.4 649.6L453.4 648.6L453.3 647.6L453.3 646.6L453.3 645.6L453.2 644.6L453.2 643.6L453.1 642.6L453.1 641.6L453.1 640.6L453.0 639.6L453.0 638.9L453.0 638.1L452.9 637.1L452.9 636.1L452.9 635.1L452.8 634.1L452.8 633.1L452.8 632.1L452.7 631.1L452.7 630.1L452.7 629.1L452.7 628.1L452.7 627.1L452.6 626.1L452.6 625.1L452.6 624.1L452.6 623.1L452.6 622.1L452.6 621.1L452.6 620.1L452.6 619.1L452.6 618.1L452.6 617.1L452.6 616.1L452.6 615.1L452.7 614.1L452.7 613.1L452.8 612.1L452.9 611.1L452.9 610.1L453.0 609.6L453.1 608.6L453.2 607.6L453.4 606.6L453.5 605.6L453.6 605.1L453.7 604.1L453.9 603.1L454.0 602.6L454.2 601.6L454.4 600.6L454.5 600.1L454.7 599.1L455.0 598.1L455.1 597.6L455.4 596.6L455.5 596.1L455.8 595.1L456.0 594.2L456.2 593.6L456.5 592.6L456.6 592.1L456.9 591.1L457.1 590.6L457.4 589.6L457.6 589.1L457.9 588.1L458.1 587.6L458.5 586.6L458.6 586.1L459.0 585.1L459.2 584.6L459.5 583.8L459.8 583.1L460.0 582.5L460.4 581.6L460.6 581.1L461.0 580.1L461.2 579.6L461.5 578.8L461.8 578.1L462.0 577.6L462.5 576.6L462.7 576.1L463.0 575.5L463.4 574.6L463.6 574.1L464.0 573.4L464.4 572.6L464.6 572.1L465.0 571.4L465.4 570.6L465.7 570.1L466.0 569.6L466.5 568.8L466.9 568.1L467.2 567.6L467.6 567.1L468.0 566.5L468.5 565.8L469.0 565.1L469.5 564.6L469.9 564.1L470.4 563.6L470.9 563.1L471.5 562.6L472.0 562.2L472.5 561.8L473.0 561.5L473.8 561.1L474.5 560.8L475.1 560.6L476.0 560.4L477.0 560.4L478.0 560.5L478.6 560.6L479.5 560.9L480.0 561.1L481.0 561.6L481.5 561.9L482.0 562.2L482.6 562.6L483.2 563.1L483.9 563.6L484.5 564.1L485.0 564.5L485.5 564.9L486.0 565.4L486.5 565.8L487.0 566.2L487.5 566.7L488.0 567.1L488.6 567.6L489.2 568.1L489.8 568.6L490.4 569.1L491.0 569.6L491.5 570.0L492.0 570.5L492.5 571.0L493.0 571.5L493.5 572.1L494.0 572.6L494.3 573.1L494.7 573.6L495.0 574.1L495.5 575.0L495.8 575.6L496.0 576.1L496.4 577.1L496.6 577.6L496.9 578.6L497.1 579.1L497.3 580.1L497.5 581.1L497.6 581.6L497.8 582.6L497.9 583.6L498.0 584.5L498.1 585.1L498.2 586.1L498.3 587.1L498.4 588.1L498.5 588.9L498.6 589.6L498.7 590.6L498.8 591.6L499.0 592.6L499.0 593.1L499.2 594.1L499.3 595.1L499.5 596.1L499.6 596.6L499.8 597.6L499.9 598.6L500.0 599.1L500.2 600.1L500.4 601.1L500.5 601.7L500.7 602.6L500.8 603.6L501.0 604.5L501.1 605.1L501.3 606.1L501.4 607.1L501.5 607.8L501.6 608.6L501.7 609.6L501.8 610.6L501.9 611.6L502.0 612.6L502.0 613.1L502.1 614.1L502.1 615.1L502.2 616.1L502.2 617.1L502.2 618.1L502.2 619.1L502.2 620.1L502.2 621.1L502.2 622.1L502.2 623.1L502.2 624.1L502.2 625.1L502.1 626.1L502.1 627.1L502.1 628.1L502.1 629.1L502.1 630.1L502.1 631.1L502.0 632.1L502.0 633.1L502.0 633.9L502.0 634.6L502.0 635.6L501.9 636.6L501.9 637.6L501.9 638.6L501.9 639.6L501.8 640.6L501.8 641.6L501.8 642.6L501.8 643.6L501.7 644.6L501.7 645.6L501.7 646.6L501.6 647.6L501.6 648.6L501.6 649.6L501.5 650.6L501.5 651.3L501.5 652.1L501.4 653.1L501.4 654.1L501.4 655.1L501.3 656.1L501.3 657.1L501.3 658.1L501.3 659.1L501.2 660.1L501.2 661.1L501.2 662.1L501.1 663.1L501.1 664.1L501.1 665.1L501.0 666.1L501.0 666.8L501.0 667.6L500.9 668.6L500.9 669.6L500.9 670.6L500.9 671.6L500.8 672.6L500.8 673.6L500.8 674.6L500.8 675.6L500.7 676.6L500.7 677.6L500.7 678.6L500.6 679.6L500.6 680.6L500.6 681.6L500.6 682.6L500.5 683.6L500.5 684.6L500.5 685.1L500.5 686.1L500.4 687.1M457.7 687.1L457.7 686.1L457.6 685.1L457.6 684.1L457.5 683.1L457.5 682.1L457.5 681.6L457.5 680.6L457.4 679.6L457.4 678.6L457.3 677.6L457.3 676.6L457.2 675.6L457.2 674.6L457.2 673.6L457.1 672.6L457.1 671.6L457.0 670.6L457.0 670.0L457.0 669.1L456.9 668.1L456.9 667.1L456.8 666.1L456.8 665.1L456.7 664.1L456.7 663.1L456.6 662.1L456.5 661.1L456.5 660.1L456.5 659.6L456.4 658.6L456.4 657.6L456.3 656.6L456.2 655.6L456.2 654.6L456.1 653.6L456.1 652.6L456.0 651.6L456.0 651.0L455.9 650.1L455.9 649.1L455.8 648.1L455.8 647.1L455.7 646.1L455.7 645.1L455.6 644.1L455.6 643.1L455.5 642.1L455.5 641.4L455.5 640.6L455.4 639.6L455.4 638.6L455.3 637.6L455.3 636.6L455.2 635.6L455.2 634.6L455.2 633.6L455.1 632.6L455.1 631.6L455.1 630.6L455.0 629.6L455.0 628.6L455.0 627.8L455.0 627.1L455.0 626.1L454.9 625.1L454.9 624.1L454.9 623.1L454.9 622.1L454.9 621.1L454.9 620.1L454.9 619.1L454.9 618.1L454.9 617.1L454.9 616.1L454.9 615.1L455.0 614.1L455.0 613.6L455.1 612.6L455.1 611.6L455.2 610.6L455.3 609.6L455.4 608.6L455.5 608.1L455.6 607.1L455.8 606.1L455.9 605.1L456.0 604.6L456.2 603.6L456.4 602.6L456.5 602.1L456.7 601.1L456.9 600.1L457.1 599.6L457.3 598.6L457.5 597.9L457.7 597.1L458.0 596.1L458.1 595.6L458.4 594.6L458.6 594.1L458.9 593.1L459.1 592.6L459.4 591.6L459.6 591.1L459.9 590.1L460.1 589.6L460.5 588.6L460.7 588.1L461.0 587.3L461.3 586.6L461.5 586.0L461.9 585.1L462.1 584.6L462.5 583.7L462.8 583.1L463.0 582.6L463.5 581.6L463.7 581.1L464.0 580.6L464.5 579.6L464.7 579.1L465.0 578.6L465.5 577.7L465.9 577.1L466.1 576.6L466.5 576.0L467.0 575.2L467.4 574.6L467.7 574.1L468.1 573.6L468.5 573.1L469.0 572.4L469.5 571.8L470.0 571.2L470.5 570.7L471.0 570.2L471.5 569.8L472.0 569.4L472.5 569.0L473.1 568.6L474.0 568.1L474.5 567.9L475.5 567.6L476.0 567.5L477.0 567.4L478.0 567.5L478.6 567.6L479.5 567.8L480.2 568.1L481.0 568.5L481.5 568.7L482.2 569.1L483.0 569.6L483.5 569.9L484.0 570.3L484.5 570.7L485.1 571.1L485.7 571.6L486.3 572.1L486.9 572.6L487.5 573.1L488.0 573.5L488.5 574.0L489.0 574.5L489.5 575.0L490.0 575.5L490.5 576.1L490.9 576.6L491.3 577.1L491.6 577.6L492.0 578.2L492.5 579.1L492.8 579.6L493.0 580.1L493.4 581.1L493.6 581.6L494.0 582.6L494.1 583.1L494.4 584.1L494.5 584.6L494.8 585.6L495.0 586.6L495.1 587.1L495.3 588.1L495.5 589.1L495.6 589.6L495.8 590.6L496.0 591.6L496.1 592.1L496.2 593.1L496.4 594.1L496.5 594.6L496.7 595.6L496.9 596.6L497.0 597.1L497.2 598.1L497.4 599.1L497.5 599.7L497.7 600.6L497.9 601.6L498.0 602.3L498.1 603.1L498.3 604.1L498.5 605.1L498.6 605.6L498.7 606.6L498.9 607.6L499.0 608.6L499.1 609.1L499.2 610.1L499.3 611.1L499.4 612.1L499.4 613.1L499.5 614.1L499.5 614.6L499.5 615.6L499.6 616.6L499.6 617.6L499.6 618.6L499.6 619.6L499.6 620.6L499.6 621.6L499.6 622.6L499.6 623.6L499.5 624.6L499.5 625.6L499.5 626.6L499.5 627.1L499.5 628.1L499.5 629.1L499.4 630.1L499.4 631.1L499.4 632.1L499.4 633.1L499.3 634.1L499.3 635.1L499.3 636.1L499.2 637.1L499.2 638.1L499.2 639.1L499.1 640.1L499.1 641.1L499.0 642.1L499.0 643.1L499.0 643.6L498.9 644.6L498.9 645.6L498.9 646.6L498.8 647.6L498.8 648.6L498.7 649.6L498.7 650.6L498.7 651.6L498.6 652.6L498.6 653.6L498.5 654.6L498.5 655.1L498.4 656.1L498.4 657.1L498.4 658.1L498.3 659.1L498.3 660.1L498.2 661.1L498.2 662.1L498.1 663.1L498.1 664.1L498.1 665.1L498.0 666.1L498.0 666.6L498.0 667.6L497.9 668.6L497.9 669.6L497.8 670.6L497.8 671.6L497.8 672.6L497.7 673.6L497.7 674.6L497.7 675.6L497.6 676.6L497.6 677.6L497.5 678.6L497.5 679.6L497.5 680.1L497.5 681.1L497.4 682.1L497.4 683.1L497.4 684.1L497.3 685.1L497.3 686.1L497.3 687.1M460.1 687.1L460.1 686.1L460.0 685.1L460.0 684.1L460.0 683.6L459.9 682.6L459.9 681.6L459.8 680.6L459.8 679.6L459.7 678.6L459.7 677.6L459.6 676.6L459.6 675.6L459.5 674.6L459.5 673.6L459.5 673.1L459.4 672.1L459.4 671.1L459.3 670.1L459.2 669.1L459.2 668.1L459.1 667.1L459.1 666.1L459.0 665.1L459.0 664.6L458.9 663.6L458.9 662.6L458.8 661.6L458.7 660.6L458.7 659.6L458.6 658.6L458.5 657.6L458.5 656.9L458.4 656.1L458.4 655.1L458.3 654.1L458.2 653.1L458.2 652.1L458.1 651.1L458.1 650.1L458.0 649.2L458.0 648.6L457.9 647.6L457.8 646.6L457.8 645.6L457.7 644.6L457.7 643.6L457.6 642.6L457.5 641.6L457.5 640.7L457.5 640.1L457.4 639.1L457.4 638.1L457.3 637.1L457.3 636.1L457.2 635.1L457.2 634.1L457.1 633.1L457.1 632.1L457.1 631.1L457.0 630.1L457.0 629.2L457.0 628.6L456.9 627.6L456.9 626.6L456.9 625.6L456.9 624.6L456.9 623.6L456.8 622.6L456.8 621.6L456.8 620.6L456.8 619.6L456.8 618.6L456.8 617.6L456.8 616.6L456.9 615.6L456.9 614.6L457.0 613.6L457.0 612.9L457.1 612.1L457.1 611.1L457.2 610.1L457.4 609.1L457.5 608.1L457.6 607.6L457.7 606.6L457.9 605.6L458.0 604.8L458.1 604.1L458.3 603.1L458.5 602.3L458.7 601.6L458.9 600.6L459.0 600.1L459.3 599.1L459.5 598.3L459.7 597.6L460.0 596.6L460.2 596.1L460.5 595.1L460.6 594.6L461.0 593.6L461.2 593.1L461.5 592.2L461.7 591.6L462.0 590.9L462.3 590.1L462.5 589.6L463.0 588.6L463.2 588.1L463.5 587.4L463.9 586.6L464.1 586.1L464.5 585.3L464.9 584.6L465.2 584.1L465.5 583.5L466.0 582.6L466.3 582.1L466.6 581.6L467.0 581.0L467.5 580.2L467.9 579.6L468.3 579.1L468.6 578.6L469.0 578.1L469.5 577.5L470.0 577.0L470.5 576.5L471.0 576.0L471.5 575.5L472.0 575.1L472.7 574.6L473.5 574.1L474.0 573.8L474.6 573.6L475.5 573.3L476.5 573.1L477.0 573.1L477.6 573.1L478.5 573.2L479.5 573.4L480.1 573.6L481.0 574.0L481.5 574.2L482.2 574.6L483.0 575.1L483.5 575.4L484.0 575.7L484.5 576.1L485.1 576.6L485.7 577.1L486.3 577.6L486.8 578.1L487.3 578.6L487.7 579.1L488.1 579.6L488.5 580.1L489.0 580.7L489.5 581.5L489.9 582.1L490.2 582.6L490.5 583.2L490.9 584.1L491.2 584.6L491.5 585.4L491.8 586.1L492.0 586.8L492.3 587.6L492.5 588.3L492.7 589.1L493.0 590.1L493.1 590.6L493.4 591.6L493.5 592.1L493.8 593.1L494.0 594.1L494.1 594.6L494.4 595.6L494.5 596.2L494.7 597.1L494.9 598.1L495.0 598.6L495.2 599.6L495.5 600.6L495.6 601.1L495.8 602.1L495.9 603.1L496.0 603.6L496.2 604.6L496.4 605.6L496.5 606.3L496.6 607.1L496.8 608.1L496.9 609.1L497.0 610.1L497.1 610.6L497.2 611.6L497.2 612.6L497.3 613.6L497.4 614.6L497.4 615.6L497.4 616.6L497.4 617.6L497.4 618.6L497.4 619.6L497.4 620.6L497.4 621.6L497.4 622.6L497.4 623.6L497.4 624.6L497.4 625.6L497.3 626.6L497.3 627.6L497.3 628.6L497.3 629.6L497.2 630.6L497.2 631.6L497.2 632.6L497.1 633.6L497.1 634.6L497.1 635.6L497.0 636.6L497.0 637.3L497.0 638.1L496.9 639.1L496.9 640.1L496.8 641.1L496.8 642.1L496.7 643.1L496.7 644.1L496.6 645.1L496.6 646.1L496.5 647.1L496.5 647.6L496.5 648.6L496.4 649.6L496.3 650.6L496.3 651.6L496.2 652.6L496.2 653.6L496.1 654.6L496.1 655.6L496.0 656.6L496.0 657.1L495.9 658.1L495.9 659.1L495.8 660.1L495.8 661.1L495.7 662.1L495.7 663.1L495.6 664.1L495.5 665.1L495.5 666.0L495.5 666.6L495.4 667.6L495.4 668.6L495.3 669.6L495.3 670.6L495.2 671.6L495.2 672.6L495.1 673.6L495.1 674.6L495.0 675.6L495.0 676.4L495.0 677.1L494.9 678.1L494.9 679.1L494.8 680.1L494.8 681.1L494.8 682.1L494.7 683.1L494.7 684.1L494.6 685.1L494.6 686.1L494.6 687.1M462.3 687.1L462.2 686.1L462.2 685.1L462.1 684.1L462.1 683.1L462.0 682.1L462.0 681.6L461.9 680.6L461.9 679.6L461.8 678.6L461.8 677.6L461.7 676.6L461.7 675.6L461.6 674.6L461.5 673.6L461.5 673.0L461.4 672.1L461.4 671.1L461.3 670.1L461.2 669.1L461.2 668.1L461.1 667.1L461.0 666.1L461.0 665.4L460.9 664.6L460.9 663.6L460.8 662.6L460.7 661.6L460.7 660.6L460.6 659.6L460.5 658.6L460.5 658.1L460.4 657.1L460.3 656.1L460.2 655.1L460.2 654.1L460.1 653.1L460.0 652.1L460.0 651.6L459.9 650.6L459.8 649.6L459.8 648.6L459.7 647.6L459.6 646.6L459.6 645.6L459.5 644.8L459.4 644.1L459.4 643.1L459.3 642.1L459.3 641.1L459.2 640.1L459.1 639.1L459.1 638.1L459.0 637.1L459.0 636.6L458.9 635.6L458.9 634.6L458.8 633.6L458.8 632.6L458.8 631.6L458.7 630.6L458.7 629.6L458.6 628.6L458.6 627.6L458.6 626.6L458.6 625.6L458.5 624.6L458.5 623.6L458.5 622.6L458.5 622.1L458.5 621.1L458.5 620.1L458.5 619.1L458.5 618.1L458.5 617.1L458.5 616.6L458.5 615.6L458.6 614.6L458.6 613.6L458.7 612.6L458.8 611.6L458.9 610.6L459.0 609.6L459.0 609.1L459.2 608.1L459.3 607.1L459.5 606.1L459.6 605.6L459.8 604.6L460.0 603.6L460.1 603.1L460.3 602.1L460.5 601.4L460.7 600.6L461.0 599.6L461.1 599.1L461.4 598.1L461.6 597.6L461.9 596.6L462.1 596.1L462.4 595.1L462.6 594.6L463.0 593.6L463.2 593.1L463.5 592.4L463.8 591.6L464.1 591.1L464.5 590.2L464.8 589.6L465.0 589.1L465.5 588.2L465.8 587.6L466.1 587.1L466.5 586.4L467.0 585.6L467.3 585.1L467.6 584.6L468.0 584.1L468.5 583.4L469.0 582.7L469.5 582.1L470.0 581.6L470.4 581.1L470.9 580.6L471.5 580.1L472.0 579.7L472.5 579.3L473.0 579.0L473.6 578.6L474.5 578.2L475.0 578.0L476.0 577.7L477.0 577.6L478.0 577.6L479.0 577.8L480.0 578.1L480.5 578.2L481.3 578.6L482.0 579.0L482.5 579.3L483.0 579.6L483.7 580.1L484.3 580.6L484.9 581.1L485.4 581.6L485.9 582.1L486.4 582.6L486.8 583.1L487.2 583.6L487.5 584.1L488.0 584.8L488.5 585.6L488.8 586.1L489.0 586.6L489.5 587.6L489.7 588.1L490.0 588.7L490.4 589.6L490.6 590.1L490.9 591.1L491.1 591.6L491.4 592.6L491.6 593.1L491.9 594.1L492.0 594.6L492.3 595.6L492.5 596.4L492.7 597.1L492.9 598.1L493.1 598.6L493.3 599.6L493.5 600.4L493.7 601.1L493.9 602.1L494.0 602.7L494.2 603.6L494.4 604.6L494.5 605.3L494.6 606.1L494.8 607.1L494.9 608.1L495.0 608.6L495.1 609.6L495.3 610.6L495.4 611.6L495.4 612.6L495.5 613.4L495.5 614.1L495.6 615.1L495.6 616.1L495.6 617.1L495.6 618.1L495.6 619.1L495.6 620.1L495.6 621.1L495.6 622.1L495.6 623.1L495.6 624.1L495.6 625.1L495.6 626.1L495.5 627.1L495.5 628.1L495.5 628.6L495.5 629.6L495.4 630.6L495.4 631.6L495.4 632.6L495.3 633.6L495.3 634.6L495.2 635.6L495.2 636.6L495.1 637.6L495.1 638.6L495.0 639.6L495.0 640.1L494.9 641.1L494.9 642.1L494.8 643.1L494.8 644.1L494.7 645.1L494.7 646.1L494.6 647.1L494.5 648.1L494.5 648.6L494.4 649.6L494.4 650.6L494.3 651.6L494.2 652.6L494.2 653.6L494.1 654.6L494.0 655.6L494.0 656.1L493.9 657.1L493.9 658.1L493.8 659.1L493.7 660.1L493.7 661.1L493.6 662.1L493.5 663.1L493.5 663.6L493.4 664.6L493.4 665.6L493.3 666.6L493.3 667.6L493.2 668.6L493.1 669.6L493.1 670.6L493.0 671.6L493.0 672.1L492.9 673.1L492.9 674.1L492.8 675.1L492.8 676.1L492.7 677.1L492.7 678.1L492.6 679.1L492.6 680.1L492.5 681.1L492.5 681.6L492.4 682.6L492.4 683.6L492.3 684.6L492.3 685.6L492.2 686.6M464.4 687.1L464.4 686.1L464.3 685.1L464.2 684.1L464.2 683.1L464.1 682.1L464.1 681.1L464.0 680.2L464.0 679.6L463.9 678.6L463.8 677.6L463.8 676.6L463.7 675.6L463.6 674.6L463.5 673.6L463.5 673.0L463.4 672.1L463.4 671.1L463.3 670.1L463.2 669.1L463.1 668.1L463.1 667.1L463.0 666.5L462.9 665.6L462.8 664.6L462.8 663.6L462.7 662.6L462.6 661.6L462.5 660.6L462.5 660.1L462.4 659.1L462.3 658.1L462.2 657.1L462.1 656.1L462.0 655.1L462.0 654.6L461.9 653.6L461.8 652.6L461.7 651.6L461.7 650.6L461.6 649.6L461.5 648.8L461.4 648.1L461.4 647.1L461.3 646.1L461.2 645.1L461.1 644.1L461.1 643.1L461.0 642.3L460.9 641.6L460.9 640.6L460.8 639.6L460.7 638.6L460.7 637.6L460.6 636.6L460.6 635.6L460.5 634.6L460.5 634.1L460.4 633.1L460.4 632.1L460.3 631.1L460.3 630.1L460.2 629.1L460.2 628.1L460.2 627.1L460.1 626.1L460.1 625.1L460.1 624.1L460.1 623.1L460.1 622.1L460.0 621.1L460.0 620.1L460.0 619.1L460.0 618.1L460.1 617.1L460.1 616.1L460.1 615.1L460.1 614.1L460.2 613.1L460.3 612.1L460.4 611.1L460.5 610.2L460.6 609.6L460.7 608.6L460.9 607.6L461.0 606.8L461.1 606.1L461.3 605.1L461.5 604.3L461.7 603.6L461.9 602.6L462.0 602.1L462.3 601.1L462.5 600.5L462.8 599.6L463.0 598.9L463.3 598.1L463.5 597.4L463.8 596.6L464.0 596.1L464.4 595.1L464.6 594.6L465.0 593.7L465.3 593.1L465.5 592.6L466.0 591.7L466.3 591.1L466.6 590.6L467.0 589.9L467.5 589.1L467.8 588.6L468.1 588.1L468.5 587.6L469.0 586.9L469.5 586.3L470.0 585.7L470.5 585.1L471.0 584.6L471.5 584.2L472.0 583.7L472.5 583.4L473.0 583.0L473.7 582.6L474.5 582.2L475.0 582.0L476.0 581.8L477.0 581.6L478.0 581.7L479.0 581.8L480.0 582.1L480.5 582.3L481.2 582.6L482.0 583.1L482.5 583.4L483.0 583.8L483.5 584.2L484.0 584.6L484.5 585.1L485.0 585.6L485.5 586.2L486.0 586.9L486.5 587.6L486.9 588.1L487.2 588.6L487.5 589.2L488.0 590.1L488.2 590.6L488.5 591.1L488.9 592.1L489.1 592.6L489.5 593.5L489.7 594.1L490.0 594.9L490.2 595.6L490.5 596.4L490.7 597.1L491.0 598.0L491.2 598.6L491.4 599.6L491.6 600.1L491.8 601.1L492.0 601.8L492.2 602.6L492.4 603.6L492.5 604.1L492.7 605.1L492.9 606.1L493.0 606.6L493.2 607.6L493.3 608.6L493.5 609.6L493.5 610.1L493.6 611.1L493.7 612.1L493.8 613.1L493.9 614.1L493.9 615.1L494.0 616.1L494.0 617.1L494.0 618.1L494.0 619.1L494.0 620.1L494.0 621.1L494.0 622.1L494.0 623.1L493.9 624.1L493.9 625.1L493.9 626.1L493.9 627.1L493.8 628.1L493.8 629.1L493.8 630.1L493.7 631.1L493.7 632.1L493.6 633.1L493.6 634.1L493.5 635.1L493.5 635.6L493.4 636.6L493.4 637.6L493.3 638.6L493.3 639.6L493.2 640.6L493.1 641.6L493.1 642.6L493.0 643.6L493.0 644.1L492.9 645.1L492.8 646.1L492.8 647.1L492.7 648.1L492.6 649.1L492.5 650.1L492.5 650.6L492.4 651.6L492.3 652.6L492.3 653.6L492.2 654.6L492.1 655.6L492.0 656.6L492.0 657.1L491.9 658.1L491.8 659.1L491.7 660.1L491.7 661.1L491.6 662.1L491.5 663.1L491.5 663.6L491.4 664.6L491.3 665.6L491.2 666.6L491.2 667.6L491.1 668.6L491.0 669.6L491.0 670.1L490.9 671.1L490.9 672.1L490.8 673.1L490.7 674.1L490.7 675.1L490.6 676.1L490.5 677.1L490.5 677.6L490.4 678.6L490.4 679.6L490.3 680.6L490.2 681.6L490.2 682.6L490.1 683.6L490.1 684.6L490.0 685.6L490.0 686.1L489.9 687.1M466.8 687.1L466.7 686.1L466.7 685.1L466.6 684.1L466.5 683.1L466.5 682.6L466.4 681.6L466.3 680.6L466.2 679.6L466.1 678.6L466.1 677.6L466.0 676.8L465.9 676.1L465.9 675.1L465.8 674.1L465.7 673.1L465.6 672.1L465.5 671.1L465.5 670.6L465.4 669.6L465.3 668.6L465.2 667.6L465.1 666.6L465.0 665.8L464.9 665.1L464.8 664.1L464.7 663.1L464.6 662.1L464.5 661.1L464.5 660.6L464.4 659.6L464.3 658.6L464.2 657.6L464.1 656.6L464.0 655.8L463.9 655.1L463.8 654.1L463.7 653.1L463.6 652.1L463.5 651.1L463.5 650.6L463.4 649.6L463.3 648.6L463.2 647.6L463.1 646.6L463.0 645.6L463.0 645.1L462.9 644.1L462.8 643.1L462.7 642.1L462.6 641.1L462.5 640.1L462.5 639.5L462.4 638.6L462.4 637.6L462.3 636.6L462.2 635.6L462.2 634.6L462.1 633.6L462.0 632.6L462.0 631.8L462.0 631.1L461.9 630.1L461.9 629.1L461.8 628.1L461.8 627.1L461.7 626.1L461.7 625.1L461.7 624.1L461.7 623.1L461.6 622.1L461.6 621.1L461.6 620.1L461.6 619.1L461.6 618.1L461.6 617.1L461.7 616.1L461.7 615.1L461.8 614.1L461.8 613.1L461.9 612.1L462.0 611.3L462.1 610.6L462.2 609.6L462.4 608.6L462.5 607.8L462.6 607.1L462.8 606.1L463.0 605.3L463.2 604.6L463.4 603.6L463.6 603.1L463.8 602.1L464.0 601.6L464.3 600.6L464.5 600.1L464.8 599.1L465.0 598.6L465.4 597.6L465.6 597.1L466.0 596.3L466.3 595.6L466.6 595.1L467.0 594.3L467.4 593.6L467.6 593.1L468.0 592.5L468.5 591.7L468.9 591.1L469.3 590.6L469.7 590.1L470.1 589.6L470.5 589.1L471.0 588.6L471.5 588.1L472.1 587.6L472.8 587.1L473.5 586.6L474.0 586.4L474.6 586.1L475.5 585.8L476.4 585.6L477.0 585.5L478.0 585.6L478.5 585.6L479.5 585.9L480.1 586.1L481.0 586.5L481.5 586.8L482.0 587.2L482.6 587.6L483.1 588.1L483.6 588.6L484.1 589.1L484.5 589.6L485.0 590.2L485.5 590.9L486.0 591.6L486.3 592.1L486.6 592.6L487.0 593.4L487.3 594.1L487.6 594.6L488.0 595.6L488.2 596.1L488.5 596.8L488.8 597.6L489.0 598.2L489.3 599.1L489.5 599.7L489.8 600.6L490.0 601.4L490.2 602.1L490.5 603.1L490.6 603.6L490.8 604.6L491.0 605.5L491.1 606.1L491.3 607.1L491.5 608.1L491.6 608.6L491.7 609.6L491.9 610.6L492.0 611.6L492.0 612.1L492.1 613.1L492.2 614.1L492.2 615.1L492.3 616.1L492.3 617.1L492.3 618.1L492.3 619.1L492.3 620.1L492.3 621.1L492.3 622.1L492.3 623.1L492.2 624.1L492.2 625.1L492.2 626.1L492.2 627.1L492.1 628.1L492.1 629.1L492.0 630.1L492.0 630.8L492.0 631.6L491.9 632.6L491.9 633.6L491.8 634.6L491.7 635.6L491.7 636.6L491.6 637.6L491.5 638.6L491.5 639.2L491.4 640.1L491.4 641.1L491.3 642.1L491.2 643.1L491.1 644.1L491.0 645.1L491.0 645.7L490.9 646.6L490.8 647.6L490.7 648.6L490.7 649.6L490.6 650.6L490.5 651.3L490.4 652.1L490.3 653.1L490.2 654.1L490.1 655.1L490.1 656.1L490.0 656.6L489.9 657.6L489.8 658.6L489.7 659.6L489.6 660.6L489.5 661.6L489.5 662.1L489.4 663.1L489.3 664.1L489.2 665.1L489.1 666.1L489.0 667.1L489.0 667.6L488.9 668.6L488.8 669.6L488.7 670.6L488.6 671.6L488.5 672.6L488.5 673.1L488.4 674.1L488.3 675.1L488.2 676.1L488.2 677.1L488.1 678.1L488.0 679.1L488.0 679.6L487.9 680.6L487.8 681.6L487.7 682.6L487.7 683.6L487.6 684.6L487.5 685.6L487.5 686.1L487.4 687.1M469.0 687.1L469.0 686.6L468.9 685.6L468.8 684.6L468.7 683.6L468.6 682.6L468.5 681.8L468.4 681.1L468.3 680.1L468.2 679.1L468.1 678.1L468.0 677.1L468.0 676.6L467.9 675.6L467.8 674.6L467.7 673.6L467.5 672.6L467.5 672.1L467.4 671.1L467.3 670.1L467.2 669.1L467.0 668.1L467.0 667.6L466.9 666.6L466.8 665.6L466.6 664.6L466.5 663.6L466.5 663.1L466.3 662.1L466.2 661.1L466.1 660.1L466.0 659.2L465.9 658.6L465.8 657.6L465.7 656.6L465.6 655.6L465.5 654.9L465.4 654.1L465.3 653.1L465.2 652.1L465.1 651.1L465.0 650.6L464.9 649.6L464.8 648.6L464.7 647.6L464.6 646.6L464.5 645.9L464.4 645.1L464.3 644.1L464.2 643.1L464.1 642.1L464.0 641.1L464.0 640.6L463.9 639.6L463.8 638.6L463.7 637.6L463.7 636.6L463.6 635.6L463.5 634.6L463.5 634.1L463.4 633.1L463.4 632.1L463.3 631.1L463.2 630.1L463.2 629.1L463.1 628.1L463.1 627.1L463.1 626.1L463.0 625.1L463.0 624.3L463.0 623.6L463.0 622.6L462.9 621.6L462.9 620.6L462.9 619.6L462.9 618.6L462.9 617.6L463.0 616.6L463.0 615.6L463.0 615.1L463.1 614.1L463.1 613.1L463.2 612.1L463.4 611.1L463.5 610.1L463.6 609.6L463.7 608.6L463.9 607.6L464.0 607.1L464.2 606.1L464.5 605.1L464.6 604.6L464.9 603.6L465.0 603.1L465.4 602.1L465.5 601.6L465.9 600.6L466.1 600.1L466.5 599.1L466.7 598.6L467.0 598.0L467.4 597.1L467.7 596.6L468.0 596.0L468.5 595.2L468.8 594.6L469.2 594.1L469.5 593.6L470.0 593.0L470.5 592.4L471.0 591.8L471.5 591.3L472.0 590.8L472.5 590.4L473.0 590.0L473.7 589.6L474.5 589.2L475.0 589.0L476.0 588.7L476.8 588.6L477.5 588.6L478.0 588.6L479.0 588.8L479.8 589.1L480.5 589.4L481.0 589.7L481.6 590.1L482.2 590.6L482.7 591.1L483.2 591.6L483.7 592.1L484.1 592.6L484.5 593.1L485.0 593.9L485.4 594.6L485.7 595.1L486.0 595.6L486.5 596.6L486.8 597.1L487.0 597.6L487.4 598.6L487.6 599.1L488.0 600.1L488.1 600.6L488.5 601.6L488.6 602.1L488.9 603.1L489.1 603.6L489.3 604.6L489.5 605.3L489.7 606.1L489.9 607.1L490.0 607.7L490.2 608.6L490.3 609.6L490.5 610.6L490.5 611.1L490.6 612.1L490.7 613.1L490.8 614.1L490.9 615.1L490.9 616.1L490.9 617.1L490.9 618.1L490.9 619.1L490.9 620.1L490.9 621.1L490.9 622.1L490.9 623.1L490.9 624.1L490.9 625.1L490.8 626.1L490.8 627.1L490.7 628.1L490.7 629.1L490.6 630.1L490.6 631.1L490.5 632.1L490.5 632.7L490.4 633.6L490.4 634.6L490.3 635.6L490.2 636.6L490.2 637.6L490.1 638.6L490.0 639.6L490.0 640.1L489.9 641.1L489.8 642.1L489.7 643.1L489.6 644.1L489.5 645.1L489.5 645.6L489.4 646.6L489.3 647.6L489.2 648.6L489.1 649.6L489.0 650.3L488.9 651.1L488.8 652.1L488.7 653.1L488.6 654.1L488.5 654.9L488.4 655.6L488.3 656.6L488.2 657.6L488.1 658.6L488.0 659.4L487.9 660.1L487.8 661.1L487.7 662.1L487.6 663.1L487.5 663.8L487.4 664.6L487.3 665.6L487.2 666.6L487.1 667.6L487.0 668.3L486.9 669.1L486.8 670.1L486.7 671.1L486.6 672.1L486.5 673.0L486.4 673.6L486.3 674.6L486.2 675.6L486.1 676.6L486.0 677.6L486.0 678.1L485.9 679.1L485.8 680.1L485.7 681.1L485.6 682.1L485.5 683.1L485.5 683.6L485.4 684.6L485.3 685.6L485.2 686.6M471.3 687.1L471.2 686.1L471.1 685.1L471.0 684.6L470.9 683.6L470.7 682.6L470.6 681.6L470.5 680.8L470.4 680.1L470.3 679.1L470.1 678.1L470.0 677.1L469.9 676.6L469.8 675.6L469.7 674.6L469.5 673.6L469.5 673.1L469.3 672.1L469.2 671.1L469.1 670.1L469.0 669.6L468.8 668.6L468.7 667.6L468.6 666.6L468.5 666.1L468.4 665.1L468.2 664.1L468.1 663.1L468.0 662.6L467.9 661.6L467.7 660.6L467.6 659.6L467.5 659.0L467.4 658.1L467.2 657.1L467.1 656.1L467.0 655.4L466.9 654.6L466.8 653.6L466.6 652.6L466.5 651.6L466.4 651.1L466.3 650.1L466.2 649.1L466.1 648.1L466.0 647.6L465.9 646.6L465.8 645.6L465.6 644.6L465.5 643.6L465.5 643.1L465.4 642.1L465.3 641.1L465.2 640.1L465.1 639.1L465.0 638.2L464.9 637.6L464.9 636.6L464.8 635.6L464.7 634.6L464.6 633.6L464.6 632.6L464.5 631.8L464.5 631.1L464.4 630.1L464.3 629.1L464.3 628.1L464.2 627.1L464.2 626.1L464.2 625.1L464.1 624.1L464.1 623.1L464.1 622.1L464.1 621.1L464.1 620.1L464.1 619.1L464.1 618.1L464.1 617.1L464.1 616.1L464.1 615.1L464.2 614.1L464.3 613.1L464.4 612.1L464.5 611.2L464.6 610.6L464.7 609.6L464.9 608.6L465.0 608.1L465.2 607.1L465.5 606.1L465.6 605.6L465.9 604.6L466.0 604.1L466.4 603.1L466.5 602.6L466.9 601.6L467.1 601.1L467.5 600.2L467.8 599.6L468.0 599.1L468.5 598.2L468.8 597.6L469.1 597.1L469.5 596.5L470.0 595.8L470.5 595.1L470.9 594.6L471.4 594.1L471.9 593.6L472.4 593.1L473.0 592.6L473.5 592.3L474.0 592.0L474.9 591.6L475.5 591.4L476.5 591.2L477.5 591.2L478.5 591.3L479.5 591.6L480.0 591.8L480.5 592.1L481.2 592.6L481.9 593.1L482.4 593.6L482.9 594.1L483.3 594.6L483.7 595.1L484.1 595.6L484.5 596.3L485.0 597.1L485.3 597.6L485.5 598.1L486.0 599.0L486.2 599.6L486.5 600.2L486.9 601.1L487.0 601.6L487.4 602.6L487.6 603.1L487.9 604.1L488.0 604.6L488.3 605.6L488.5 606.5L488.6 607.1L488.8 608.1L489.0 609.0L489.1 609.6L489.3 610.6L489.4 611.6L489.5 612.5L489.6 613.1L489.6 614.1L489.7 615.1L489.7 616.1L489.8 617.1L489.8 618.1L489.8 619.1L489.8 620.1L489.8 621.1L489.8 622.1L489.7 623.1L489.7 624.1L489.7 625.1L489.6 626.1L489.6 627.1L489.6 628.1L489.5 629.1L489.5 629.6L489.4 630.6L489.4 631.6L489.3 632.6L489.2 633.6L489.2 634.6L489.1 635.6L489.0 636.6L489.0 637.1L488.9 638.1L488.8 639.1L488.7 640.1L488.6 641.1L488.5 642.1L488.5 642.6L488.4 643.6L488.2 644.6L488.1 645.6L488.0 646.6L488.0 647.1L487.9 648.1L487.7 649.1L487.6 650.1L487.5 651.1L487.4 651.6L487.3 652.6L487.2 653.6L487.1 654.6L487.0 655.1L486.9 656.1L486.7 657.1L486.6 658.1L486.5 658.8L486.4 659.6L486.3 660.6L486.1 661.6L486.0 662.5L485.9 663.1L485.8 664.1L485.6 665.1L485.5 666.1L485.4 666.6L485.3 667.6L485.2 668.6L485.0 669.6L485.0 670.1L484.8 671.1L484.7 672.1L484.6 673.1L484.5 673.6L484.4 674.6L484.2 675.6L484.1 676.6L484.0 677.4L483.9 678.1L483.8 679.1L483.7 680.1L483.5 681.1L483.5 681.6L483.3 682.6L483.2 683.6L483.1 684.6L483.0 685.1L482.9 686.1L482.7 687.1M474.6 687.1L474.4 686.6L474.2 685.6L474.0 685.1L473.8 684.1L473.5 683.1L473.4 682.6L473.2 681.6L473.0 680.8L472.8 680.1L472.6 679.1L472.5 678.4L472.3 677.6L472.1 676.6L472.0 675.9L471.8 675.1L471.7 674.1L471.5 673.3L471.4 672.6L471.2 671.6L471.0 670.6L470.9 670.1L470.7 669.1L470.5 668.1L470.5 667.6L470.3 666.6L470.1 665.6L470.0 665.0L469.8 664.1L469.7 663.1L469.5 662.1L469.4 661.6L469.2 660.6L469.1 659.6L469.0 659.1L468.8 658.1L468.7 657.1L468.5 656.1L468.4 655.6L468.3 654.6L468.1 653.6L468.0 652.9L467.9 652.1L467.7 651.1L467.6 650.1L467.5 649.5L467.4 648.6L467.2 647.6L467.1 646.6L467.0 645.9L466.9 645.1L466.8 644.1L466.7 643.1L466.5 642.1L466.5 641.6L466.4 640.6L466.3 639.6L466.1 638.6L466.0 637.6L466.0 637.1L465.9 636.1L465.8 635.1L465.7 634.1L465.7 633.1L465.6 632.1L465.5 631.1L465.5 630.6L465.4 629.6L465.3 628.6L465.3 627.6L465.2 626.6L465.2 625.6L465.2 624.6L465.1 623.6L465.1 622.6L465.1 621.6L465.1 620.6L465.1 619.6L465.1 618.6L465.1 617.6L465.1 616.6L465.1 615.6L465.2 614.6L465.3 613.6L465.4 612.6L465.5 611.6L465.6 611.1L465.7 610.1L465.9 609.1L466.0 608.6L466.2 607.6L466.5 606.6L466.6 606.1L466.9 605.1L467.1 604.6L467.4 603.6L467.6 603.1L468.0 602.2L468.2 601.6L468.5 601.0L469.0 600.1L469.2 599.6L469.5 599.1L470.0 598.3L470.5 597.6L470.9 597.1L471.3 596.6L471.8 596.1L472.3 595.6L472.8 595.1L473.5 594.6L474.0 594.3L474.5 594.0L475.5 593.6L476.0 593.5L477.0 593.4L478.0 593.5L478.6 593.6L479.5 593.9L480.0 594.2L480.7 594.6L481.3 595.1L481.9 595.6L482.4 596.1L482.8 596.6L483.2 597.1L483.5 597.6L484.0 598.3L484.5 599.1L484.8 599.6L485.0 600.1L485.5 601.1L485.7 601.6L486.0 602.3L486.3 603.1L486.5 603.7L486.8 604.6L487.0 605.3L487.2 606.1L487.5 607.1L487.6 607.6L487.8 608.6L488.0 609.5L488.1 610.1L488.3 611.1L488.4 612.1L488.5 613.1L488.5 613.6L488.6 614.6L488.7 615.6L488.7 616.6L488.7 617.6L488.7 618.6L488.7 619.6L488.7 620.6L488.7 621.6L488.7 622.6L488.7 623.6L488.6 624.6L488.6 625.6L488.6 626.6L488.5 627.6L488.5 628.1L488.4 629.1L488.4 630.1L488.3 631.1L488.2 632.1L488.2 633.1L488.1 634.1L488.0 635.1L488.0 635.6L487.9 636.6L487.8 637.6L487.7 638.6L487.6 639.6L487.5 640.4L487.4 641.1L487.3 642.1L487.2 643.1L487.1 644.1L487.0 644.8L486.9 645.6L486.8 646.6L486.6 647.6L486.5 648.6L486.4 649.1L486.3 650.1L486.2 651.1L486.0 652.1L485.9 652.6L485.8 653.6L485.6 654.6L485.5 655.6L485.4 656.1L485.3 657.1L485.1 658.1L485.0 658.7L484.9 659.6L484.7 660.6L484.5 661.6L484.4 662.1L484.3 663.1L484.1 664.1L484.0 664.8L483.9 665.6L483.7 666.6L483.5 667.6L483.4 668.1L483.2 669.1L483.1 670.1L483.0 670.6L482.8 671.6L482.6 672.6L482.5 673.2L482.3 674.1L482.2 675.1L482.0 675.9L481.9 676.6L481.7 677.6L481.5 678.5L481.4 679.1L481.2 680.1L481.0 680.9L480.8 681.6L480.6 682.6L480.5 683.1L480.3 684.1L480.0 685.1L479.9 685.6L479.6 686.6L479.4 687.1M477.0 677.2L476.5 677.1L475.9 676.6L475.5 676.1L475.0 675.2L474.7 674.6L474.5 674.1L474.1 673.1L474.0 672.6L473.6 671.6L473.5 671.1L473.2 670.1L473.0 669.6L472.7 668.6L472.5 667.7L472.3 667.1L472.1 666.1L472.0 665.6L471.7 664.6L471.5 663.6L471.4 663.1L471.2 662.1L471.0 661.4L470.8 660.6L470.6 659.6L470.5 659.0L470.3 658.1L470.1 657.1L470.0 656.6L469.8 655.6L469.6 654.6L469.5 653.9L469.3 653.1L469.2 652.1L469.0 651.1L468.9 650.6L468.7 649.6L468.6 648.6L468.5 648.1L468.3 647.1L468.2 646.1L468.0 645.1L468.0 644.6L467.8 643.6L467.7 642.6L467.6 641.6L467.5 641.1L467.4 640.1L467.3 639.1L467.1 638.1L467.0 637.1L467.0 636.6L466.9 635.6L466.8 634.6L466.7 633.6L466.6 632.6L466.5 631.6L466.5 631.1L466.4 630.1L466.3 629.1L466.3 628.1L466.2 627.1L466.2 626.1L466.1 625.1L466.1 624.1L466.1 623.1L466.0 622.1L466.0 621.1L466.0 620.1L466.0 619.1L466.0 618.1L466.0 617.1L466.1 616.1L466.1 615.1L466.2 614.1L466.3 613.1L466.4 612.1L466.5 611.4L466.6 610.6L466.8 609.6L467.0 608.8L467.2 608.1L467.4 607.1L467.6 606.6L467.9 605.6L468.0 605.1L468.4 604.1L468.6 603.6L469.0 602.7L469.3 602.1L469.6 601.6L470.0 600.8L470.4 600.1L470.8 599.6L471.1 599.1L471.5 598.6L472.0 598.0L472.5 597.5L473.0 597.1L473.6 596.6L474.5 596.1L475.0 595.9L475.8 595.6L476.5 595.5L477.5 595.5L478.3 595.6L479.0 595.8L479.6 596.1L480.4 596.6L481.0 597.0L481.5 597.5L482.0 598.0L482.5 598.6L482.9 599.1L483.2 599.6L483.5 600.1L484.0 600.9L484.4 601.6L484.6 602.1L485.0 603.0L485.3 603.6L485.5 604.2L485.8 605.1L486.0 605.7L486.3 606.6L486.5 607.5L486.7 608.1L486.9 609.1L487.0 609.7L487.2 610.6L487.3 611.6L487.5 612.6L487.5 613.1L487.6 614.1L487.7 615.1L487.7 616.1L487.8 617.1L487.8 618.1L487.8 619.1L487.8 620.1L487.8 621.1L487.7 622.1L487.7 623.1L487.7 624.1L487.7 625.1L487.6 626.1L487.6 627.1L487.5 628.1L487.5 628.6L487.4 629.6L487.3 630.6L487.3 631.6L487.2 632.6L487.1 633.6L487.0 634.6L487.0 635.1L486.9 636.1L486.8 637.1L486.7 638.1L486.6 639.1L486.5 639.6L486.4 640.6L486.3 641.6L486.1 642.6L486.0 643.6L485.9 644.1L485.8 645.1L485.6 646.1L485.5 647.1L485.4 647.6L485.3 648.6L485.1 649.6L485.0 650.3L484.9 651.1L484.7 652.1L484.5 653.1L484.4 653.6L484.3 654.6L484.1 655.6L484.0 656.1L483.8 657.1L483.6 658.1L483.5 658.6L483.3 659.6L483.1 660.6L483.0 661.1L482.8 662.1L482.5 663.1L482.4 663.6L482.2 664.6L482.0 665.4L481.8 666.1L481.6 667.1L481.5 667.6L481.2 668.6L481.0 669.3L480.8 670.1L480.5 671.1L480.3 671.6L480.0 672.6L479.8 673.1L479.5 674.0L479.2 674.6L479.0 675.1L478.5 676.0L478.1 676.6L477.5 677.1L477.0 677.2M477.5 667.8L476.5 667.8L476.0 667.5L475.5 667.0L475.0 666.3L474.6 665.6L474.4 665.1L474.0 664.3L473.7 663.6L473.5 663.1L473.2 662.1L473.0 661.6L472.7 660.6L472.5 660.0L472.2 659.1L472.0 658.3L471.8 657.6L471.6 656.6L471.4 656.1L471.2 655.1L471.0 654.3L470.8 653.6L470.6 652.6L470.5 652.1L470.3 651.1L470.1 650.1L470.0 649.6L469.8 648.6L469.6 647.6L469.5 647.0L469.3 646.1L469.2 645.1L469.0 644.1L468.9 643.6L468.8 642.6L468.6 641.6L468.5 640.7L468.4 640.1L468.3 639.1L468.2 638.1L468.0 637.1L468.0 636.6L467.9 635.6L467.8 634.6L467.7 633.6L467.6 632.6L467.5 631.9L467.4 631.1L467.3 630.1L467.3 629.1L467.2 628.1L467.1 627.1L467.1 626.1L467.0 625.1L467.0 624.4L467.0 623.6L466.9 622.6L466.9 621.6L466.9 620.6L466.9 619.6L466.9 618.6L466.9 617.6L466.9 616.6L467.0 615.6L467.0 615.1L467.1 614.1L467.2 613.1L467.3 612.1L467.5 611.1L467.6 610.6L467.8 609.6L468.0 608.7L468.2 608.1L468.4 607.1L468.6 606.6L469.0 605.6L469.2 605.1L469.5 604.3L469.8 603.6L470.1 603.1L470.5 602.3L470.9 601.6L471.3 601.1L471.6 600.6L472.0 600.1L472.5 599.6L473.0 599.1L473.6 598.6L474.4 598.1L475.0 597.8L475.5 597.6L476.5 597.4L477.5 597.4L478.5 597.6L479.0 597.8L479.6 598.1L480.4 598.6L480.9 599.1L481.4 599.6L481.9 600.1L482.3 600.6L482.6 601.1L483.0 601.7L483.5 602.5L483.8 603.1L484.0 603.6L484.5 604.6L484.7 605.1L485.0 606.0L485.2 606.6L485.5 607.6L485.6 608.1L485.9 609.1L486.0 609.6L486.2 610.6L486.4 611.6L486.5 612.5L486.6 613.1L486.7 614.1L486.8 615.1L486.8 616.1L486.8 617.1L486.9 618.1L486.9 619.1L486.9 620.1L486.9 621.1L486.8 622.1L486.8 623.1L486.8 624.1L486.7 625.1L486.7 626.1L486.6 627.1L486.6 628.1L486.5 629.0L486.5 629.6L486.4 630.6L486.3 631.6L486.2 632.6L486.1 633.6L486.0 634.6L486.0 635.1L485.9 636.1L485.7 637.1L485.6 638.1L485.5 639.1L485.4 639.6L485.3 640.6L485.2 641.6L485.0 642.6L484.9 643.1L484.8 644.1L484.6 645.1L484.5 645.9L484.4 646.6L484.2 647.6L484.0 648.6L483.9 649.1L483.7 650.1L483.5 651.1L483.4 651.6L483.2 652.6L483.0 653.6L482.9 654.1L482.7 655.1L482.5 655.8L482.3 656.6L482.0 657.6L481.9 658.1L481.6 659.1L481.5 659.6L481.2 660.6L481.0 661.3L480.7 662.1L480.5 662.7L480.2 663.6L480.0 664.1L479.5 665.1L479.3 665.6L479.0 666.2L478.5 666.9L478.0 667.5L477.5 667.8M477.5 660.9L476.5 661.0L475.9 660.6L475.4 660.1L475.0 659.6L474.5 658.8L474.1 658.1L473.9 657.6L473.5 656.7L473.3 656.1L473.0 655.3L472.8 654.6L472.5 653.8L472.3 653.1L472.0 652.1L471.9 651.6L471.6 650.6L471.5 650.1L471.2 649.1L471.0 648.2L470.9 647.6L470.7 646.6L470.5 645.9L470.3 645.1L470.2 644.1L470.0 643.3L469.9 642.6L469.7 641.6L469.5 640.6L469.5 640.1L469.3 639.1L469.2 638.1L469.0 637.1L469.0 636.6L468.8 635.6L468.7 634.6L468.6 633.6L468.5 632.7L468.4 632.1L468.3 631.1L468.3 630.1L468.2 629.1L468.1 628.1L468.0 627.1L468.0 626.6L467.9 625.6L467.9 624.6L467.8 623.6L467.8 622.6L467.8 621.6L467.8 620.6L467.8 619.6L467.8 618.6L467.8 617.6L467.8 616.6L467.8 615.6L467.9 614.6L468.0 613.8L468.1 613.1L468.2 612.1L468.4 611.1L468.5 610.6L468.7 609.6L469.0 608.6L469.2 608.1L469.5 607.1L469.7 606.6L470.0 605.8L470.3 605.1L470.5 604.6L471.0 603.7L471.4 603.1L471.7 602.6L472.1 602.1L472.5 601.6L473.0 601.1L473.5 600.6L474.2 600.1L475.0 599.6L475.5 599.4L476.5 599.2L477.5 599.2L478.5 599.5L479.0 599.7L479.7 600.1L480.4 600.6L480.9 601.1L481.4 601.6L481.8 602.1L482.1 602.6L482.5 603.2L483.0 604.1L483.3 604.6L483.5 605.1L483.9 606.1L484.1 606.6L484.5 607.6L484.6 608.1L484.9 609.1L485.0 609.6L485.3 610.6L485.4 611.6L485.5 612.1L485.7 613.1L485.8 614.1L485.9 615.1L485.9 616.1L486.0 617.1L486.0 618.1L486.0 619.1L486.0 620.1L486.0 621.1L486.0 622.1L485.9 623.1L485.9 624.1L485.8 625.1L485.8 626.1L485.7 627.1L485.6 628.1L485.6 629.1L485.5 630.0L485.4 630.6L485.4 631.6L485.3 632.6L485.2 633.6L485.0 634.6L485.0 635.1L484.9 636.1L484.7 637.1L484.6 638.1L484.5 638.8L484.4 639.6L484.2 640.6L484.1 641.6L484.0 642.1L483.8 643.1L483.6 644.1L483.5 644.8L483.3 645.6L483.1 646.6L483.0 647.3L482.8 648.1L482.6 649.1L482.5 649.6L482.2 650.6L482.0 651.5L481.8 652.1L481.5 653.1L481.4 653.6L481.1 654.6L480.9 655.1L480.6 656.1L480.4 656.6L480.0 657.5L479.7 658.1L479.5 658.6L479.0 659.4L478.5 660.1L478.0 660.6L477.5 660.9M477.5 655.2L476.5 655.3L476.0 655.1L475.5 654.6L475.0 654.1L474.5 653.3L474.1 652.6L473.9 652.1L473.5 651.2L473.3 650.6L473.0 649.9L472.8 649.1L472.5 648.3L472.3 647.6L472.0 646.6L471.9 646.1L471.6 645.1L471.5 644.6L471.3 643.6L471.0 642.6L470.9 642.1L470.7 641.1L470.5 640.1L470.5 639.6L470.3 638.6L470.1 637.6L470.0 636.9L469.9 636.1L469.7 635.1L469.6 634.1L469.5 633.2L469.4 632.6L469.3 631.6L469.2 630.6L469.1 629.6L469.0 628.6L469.0 628.1L468.9 627.1L468.8 626.1L468.8 625.1L468.7 624.1L468.7 623.1L468.6 622.1L468.6 621.1L468.6 620.1L468.6 619.1L468.6 618.1L468.6 617.1L468.7 616.1L468.7 615.1L468.8 614.1L469.0 613.1L469.0 612.6L469.2 611.6L469.4 610.6L469.6 610.1L469.8 609.1L470.0 608.6L470.4 607.6L470.6 607.1L471.0 606.1L471.3 605.6L471.5 605.1L472.0 604.3L472.5 603.6L472.9 603.1L473.4 602.6L474.0 602.1L474.5 601.7L475.0 601.5L476.0 601.1L476.5 601.0L477.5 601.0L478.0 601.1L479.0 601.5L479.5 601.8L480.0 602.2L480.5 602.7L481.0 603.2L481.5 603.9L482.0 604.6L482.3 605.1L482.5 605.6L483.0 606.6L483.2 607.1L483.5 607.8L483.8 608.6L484.0 609.4L484.2 610.1L484.4 611.1L484.5 611.6L484.7 612.6L484.8 613.6L485.0 614.6L485.0 615.1L485.1 616.1L485.1 617.1L485.1 618.1L485.1 619.1L485.1 620.1L485.1 621.1L485.1 622.1L485.0 623.1L485.0 624.1L485.0 624.6L484.9 625.6L484.9 626.6L484.8 627.6L484.7 628.6L484.6 629.6L484.5 630.6L484.5 631.1L484.4 632.1L484.2 633.1L484.1 634.1L484.0 635.1L483.9 635.6L483.8 636.6L483.6 637.6L483.5 638.4L483.4 639.1L483.2 640.1L483.0 641.1L482.9 641.6L482.7 642.6L482.5 643.6L482.4 644.1L482.2 645.1L482.0 645.7L481.8 646.6L481.5 647.6L481.3 648.1L481.0 649.1L480.9 649.6L480.5 650.6L480.3 651.1L480.0 651.9L479.7 652.6L479.4 653.1L479.0 653.8L478.5 654.4L478.0 654.9L477.5 655.2M477.5 650.2L476.5 650.3L476.0 650.1L475.4 649.6L475.0 649.1L474.5 648.3L474.1 647.6L473.9 647.1L473.5 646.1L473.3 645.6L473.0 644.8L472.8 644.1L472.5 643.1L472.4 642.6L472.1 641.6L472.0 641.1L471.7 640.1L471.5 639.1L471.4 638.6L471.2 637.6L471.0 636.6L470.9 636.1L470.8 635.1L470.6 634.1L470.5 633.3L470.4 632.6L470.3 631.6L470.1 630.6L470.0 629.6L470.0 629.1L469.9 628.1L469.8 627.1L469.7 626.1L469.7 625.1L469.6 624.1L469.5 623.1L469.5 622.1L469.5 621.6L469.5 620.6L469.5 619.6L469.5 618.6L469.5 617.6L469.5 617.0L469.5 616.1L469.6 615.1L469.7 614.1L469.9 613.1L470.0 612.3L470.2 611.6L470.4 610.6L470.5 610.1L470.9 609.1L471.1 608.6L471.5 607.6L471.7 607.1L472.0 606.6L472.5 605.7L473.0 605.1L473.4 604.6L473.9 604.1L474.5 603.6L475.0 603.3L475.5 603.0L476.5 602.8L477.5 602.8L478.4 603.1L479.0 603.4L479.5 603.7L480.0 604.2L480.5 604.7L481.0 605.3L481.5 606.1L481.8 606.6L482.0 607.1L482.5 608.1L482.7 608.6L483.0 609.5L483.2 610.1L483.5 611.1L483.6 611.6L483.8 612.6L483.9 613.6L484.0 614.1L484.1 615.1L484.2 616.1L484.2 617.1L484.2 618.1L484.3 619.1L484.2 620.1L484.2 621.1L484.2 622.1L484.2 623.1L484.1 624.1L484.1 625.1L484.0 626.0L484.0 626.6L483.9 627.6L483.8 628.6L483.7 629.6L483.6 630.6L483.5 631.2L483.4 632.1L483.3 633.1L483.1 634.1L483.0 634.9L482.9 635.6L482.7 636.6L482.5 637.6L482.4 638.1L482.2 639.1L482.0 640.1L481.9 640.6L481.7 641.6L481.5 642.2L481.3 643.1L481.0 644.0L480.8 644.6L480.5 645.5L480.3 646.1L480.0 646.8L479.6 647.6L479.4 648.1L479.0 648.7L478.5 649.4L478.0 649.9L477.5 650.2M477.0 645.7L476.3 645.6L475.6 645.1L475.2 644.6L474.8 644.1L474.5 643.6L474.0 642.6L473.8 642.1L473.5 641.3L473.3 640.6L473.0 639.7L472.8 639.1L472.6 638.1L472.4 637.6L472.2 636.6L472.0 635.7L471.9 635.1L471.7 634.1L471.5 633.1L471.4 632.6L471.3 631.6L471.1 630.6L471.0 629.6L470.9 629.1L470.8 628.1L470.7 627.1L470.6 626.1L470.6 625.1L470.5 624.3L470.5 623.6L470.4 622.6L470.4 621.6L470.4 620.6L470.3 619.6L470.3 618.6L470.4 617.6L470.4 616.6L470.5 615.6L470.5 615.1L470.6 614.1L470.8 613.1L471.0 612.2L471.1 611.6L471.4 610.6L471.6 610.1L472.0 609.1L472.2 608.6L472.5 608.1L473.0 607.2L473.5 606.6L473.9 606.1L474.4 605.6L475.0 605.2L475.5 604.9L476.5 604.6L477.0 604.6L477.5 604.7L478.5 605.0L479.0 605.3L479.5 605.7L480.0 606.2L480.5 606.9L481.0 607.6L481.3 608.1L481.5 608.6L481.9 609.6L482.1 610.1L482.4 611.1L482.6 611.6L482.8 612.6L483.0 613.6L483.1 614.1L483.2 615.1L483.3 616.1L483.3 617.1L483.3 618.1L483.4 619.1L483.4 620.1L483.3 621.1L483.3 622.1L483.3 623.1L483.2 624.1L483.1 625.1L483.1 626.1L483.0 626.8L482.9 627.6L482.8 628.6L482.7 629.6L482.6 630.6L482.5 631.1L482.4 632.1L482.2 633.1L482.0 634.1L481.9 634.6L481.7 635.6L481.5 636.6L481.4 637.1L481.2 638.1L481.0 638.8L480.8 639.6L480.5 640.5L480.3 641.1L480.0 641.9L479.7 642.6L479.5 643.1L479.0 644.0L478.6 644.6L478.2 645.1L477.5 645.6L477.0 645.7M477.0 641.2L476.4 641.1L475.7 640.6L475.3 640.1L474.9 639.6L474.5 638.8L474.2 638.1L474.0 637.6L473.6 636.6L473.5 636.1L473.2 635.1L473.0 634.4L472.8 633.6L472.6 632.6L472.5 632.1L472.3 631.1L472.2 630.1L472.0 629.1L471.9 628.6L471.8 627.6L471.7 626.6L471.6 625.6L471.5 624.7L471.5 624.1L471.4 623.1L471.3 622.1L471.3 621.1L471.3 620.1L471.3 619.1L471.3 618.1L471.3 617.1L471.4 616.1L471.5 615.1L471.5 614.6L471.7 613.6L471.9 612.6L472.1 612.1L472.4 611.1L472.6 610.6L473.0 609.7L473.4 609.1L473.7 608.6L474.1 608.1L474.5 607.6L475.1 607.1L476.0 606.7L476.5 606.6L477.5 606.6L478.0 606.8L478.6 607.1L479.2 607.6L479.7 608.1L480.1 608.6L480.5 609.3L480.9 610.1L481.1 610.6L481.5 611.6L481.6 612.1L481.9 613.1L482.0 613.7L482.2 614.6L482.3 615.6L482.3 616.6L482.4 617.6L482.4 618.6L482.4 619.6L482.4 620.6L482.4 621.6L482.3 622.6L482.3 623.6L482.2 624.6L482.1 625.6L482.0 626.6L481.9 627.1L481.8 628.1L481.7 629.1L481.5 630.1L481.5 630.6L481.3 631.6L481.1 632.6L481.0 633.1L480.8 634.1L480.5 635.1L480.4 635.6L480.1 636.6L479.9 637.1L479.5 638.1L479.3 638.6L479.0 639.2L478.5 640.1L478.1 640.6L477.5 641.0L477.0 641.2M477.5 636.3L476.5 636.4L475.9 636.1L475.5 635.6L475.0 634.8L474.7 634.1L474.5 633.6L474.1 632.6L474.0 632.1L473.7 631.1L473.5 630.3L473.4 629.6L473.2 628.6L473.0 627.7L472.9 627.1L472.8 626.1L472.6 625.1L472.5 624.1L472.5 623.6L472.4 622.6L472.4 621.6L472.3 620.6L472.3 619.6L472.3 618.6L472.4 617.6L472.4 616.6L472.5 615.6L472.6 615.1L472.8 614.1L473.0 613.1L473.2 612.6L473.5 611.7L473.8 611.1L474.1 610.6L474.5 610.0L475.0 609.5L475.5 609.1L476.5 608.7L477.5 608.8L478.2 609.1L478.8 609.6L479.3 610.1L479.6 610.6L480.0 611.3L480.4 612.1L480.5 612.6L480.8 613.6L481.0 614.4L481.1 615.1L481.2 616.1L481.3 617.1L481.3 618.1L481.4 619.1L481.4 620.1L481.3 621.1L481.3 622.1L481.2 623.1L481.1 624.1L481.0 625.1L481.0 625.6L480.8 626.6L480.7 627.6L480.5 628.6L480.4 629.1L480.2 630.1L480.0 631.1L479.9 631.6L479.6 632.6L479.4 633.1L479.0 634.1L478.8 634.6L478.5 635.2L478.0 635.9L477.5 636.3M477.0 631.7L476.5 631.6L475.9 631.1L475.5 630.5L475.1 629.6L474.9 629.1L474.5 628.1L474.4 627.6L474.2 626.6L474.0 625.7L473.9 625.1L473.8 624.1L473.6 623.1L473.5 622.1L473.5 621.4L473.5 620.6L473.5 619.6L473.5 618.6L473.5 617.6L473.5 617.1L473.6 616.1L473.8 615.1L474.0 614.3L474.2 613.6L474.5 613.0L475.0 612.1L475.5 611.6L476.0 611.2L476.5 611.0L477.4 611.1L478.0 611.4L478.5 611.9L479.0 612.6L479.2 613.1L479.5 613.7L479.8 614.6L480.0 615.6L480.1 616.1L480.1 617.1L480.2 618.1L480.2 619.1L480.2 620.1L480.2 621.1L480.1 622.1L480.0 623.1L480.0 623.6L479.8 624.6L479.7 625.6L479.5 626.6L479.4 627.1L479.1 628.1L479.0 628.6L478.6 629.6L478.4 630.1L478.0 630.8L477.5 631.4L477.0 631.7" stroke="#333" stroke-width="0.95" fill="none" stroke-linejoin="round"/>
</g>
<polygon points="475.9,458.5 520.1,448.7 562.5,466.8 566.5,528.7 544.1,623.9 512.7,614.0 479.9,558.0 471.3,534.0" fill="none" stroke="#555" stroke-width="0.9" stroke-linejoin="round"/>
<text x="579.2" y="470.4" font-size="17.5" textLength="76.2" lengthAdjust="spacingAndGlyphs" stroke="#111" stroke-width="0.55">Foxp3 (+)</text>
<text x="579.5" y="497.5" font-size="17.5" textLength="50.0" lengthAdjust="spacingAndGlyphs" stroke="#111" stroke-width="0.55">3.06%</text>
<path d="M115.9 806.4V1107.5H567.8M115.9 1107.5h-9.6M115.9 1047.5h-9.6M115.9 987.5h-9.6M115.9 927.5h-9.6M115.9 867.5h-9.6M115.9 807.5h-9.6M227.6 1107.5v9M454.4 1107.5v9" stroke="#151515" stroke-width="2.5" fill="none" stroke-linecap="butt"/>
<text x="102.8" y="1114.8" font-size="20.3" font-weight="bold" text-anchor="end" stroke="#111" stroke-width="0.15">0</text>
<text x="102.8" y="1054.8" font-size="20.3" font-weight="bold" text-anchor="end" stroke="#111" stroke-width="0.15">5</text>
<text x="102.8" y="994.8" font-size="20.3" font-weight="bold" text-anchor="end" stroke="#111" stroke-width="0.15">10</text>
<text x="102.8" y="934.8" font-size="20.3" font-weight="bold" text-anchor="end" stroke="#111" stroke-width="0.15">15</text>
<text x="102.8" y="874.8" font-size="20.3" font-weight="bold" text-anchor="end" stroke="#111" stroke-width="0.15">20</text>
<text x="102.8" y="814.8" font-size="20.3" font-weight="bold" text-anchor="end" stroke="#111" stroke-width="0.15">25</text>
<text x="65.3" y="1121.5" font-size="24" font-weight="bold" textLength="323.0" lengthAdjust="spacing" transform="rotate(-90 65.3 1121.5)">% of CD4 T cells/total PBLs</text>
<text x="198.4" y="1138.5" font-size="22" font-weight="bold" textLength="60.2" lengthAdjust="spacingAndGlyphs" stroke="#111" stroke-width="0.15">DEXA</text>
<text x="420.6" y="1138.5" font-size="22" font-weight="bold" textLength="66.5" lengthAdjust="spacingAndGlyphs" stroke="#111" stroke-width="0.15">Saline</text>
<text x="216.1" y="1018.3" font-size="27" textLength="29.8" lengthAdjust="spacingAndGlyphs" stroke="#111" stroke-width="0.2">***</text>
<path d="M153.0 1099.1L303.0 1099.1" stroke="#151515" stroke-width="2.3" stroke-linecap="round" fill="none"/>
<g fill="none" stroke="#151515" stroke-width="3.3"><circle cx="174.1" cy="1103.0" r="4.9"/><circle cx="183.9" cy="1092.0" r="4.9"/><circle cx="192.7" cy="1103.0" r="4.9"/><circle cx="200.7" cy="1098.5" r="4.9"/><circle cx="210.5" cy="1103.9" r="4.9"/><circle cx="219.4" cy="1097.9" r="4.9"/><circle cx="228.3" cy="1105.9" r="4.9"/><circle cx="236.3" cy="1100.0" r="4.9"/><circle cx="245.2" cy="1103.0" r="4.9"/><circle cx="255.0" cy="1097.0" r="4.9"/><circle cx="264.4" cy="1103.0" r="4.9"/><circle cx="273.9" cy="1096.1" r="4.9"/><circle cx="283.7" cy="1101.5" r="4.9"/></g>
<path d="M379.0 966.1L529.3 966.1" stroke="#151515" stroke-width="2.3" stroke-linecap="round" fill="none"/>
<path d="M417.2 944.9L491.2 944.9" stroke="#151515" stroke-width="3.8" stroke-linecap="round" fill="none"/>
<path d="M417.2 987.3L491.2 987.3" stroke="#151515" stroke-width="3.8" stroke-linecap="round" fill="none"/>
<path d="M454.4 944.9L454.4 987.2" stroke="#151515" stroke-width="3.0" stroke-linecap="butt" fill="none"/>
<g fill="#151515"><rect x="448.4" y="844.7" width="12" height="12"/><rect x="448.4" y="938.9" width="12" height="12"/><rect x="421.2" y="951.5" width="12" height="12"/><rect x="439.8" y="957.0" width="12" height="12"/><rect x="475.6" y="953.5" width="12" height="12"/><rect x="457.5" y="969.1" width="12" height="12"/><rect x="439.8" y="1035.6" width="12" height="12"/><rect x="457.5" y="1032.6" width="12" height="12"/></g>
<path d="M122.3 1177.2V1474.8H568.2M122.3 1474.8h-9.6M122.3 1415.5h-9.6M122.3 1356.2h-9.6M122.3 1296.9h-9.6M122.3 1237.6h-9.6M122.3 1178.3h-9.6M233.6 1474.8v9M456.3 1474.8v9" stroke="#151515" stroke-width="2.5" fill="none"/>
<text x="110.3" y="1481.9" font-size="20" font-weight="bold" text-anchor="end" stroke="#111" stroke-width="0.15">0</text>
<text x="110.3" y="1422.6" font-size="20" font-weight="bold" text-anchor="end" stroke="#111" stroke-width="0.15">5</text>
<text x="110.3" y="1363.3" font-size="20" font-weight="bold" text-anchor="end" stroke="#111" stroke-width="0.15">10</text>
<text x="110.3" y="1304.0" font-size="20" font-weight="bold" text-anchor="end" stroke="#111" stroke-width="0.15">15</text>
<text x="110.3" y="1244.7" font-size="20" font-weight="bold" text-anchor="end" stroke="#111" stroke-width="0.15">20</text>
<text x="110.3" y="1185.4" font-size="20" font-weight="bold" text-anchor="end" stroke="#111" stroke-width="0.15">25</text>
<text x="70.3" y="1517.8" font-size="23.5" font-weight="bold" textLength="384.0" lengthAdjust="spacing" transform="rotate(-90 70.3 1517.8)">% of CD4<tspan dy="-12.5" font-size="16">+</tspan><tspan dy="12.5">Foxp3</tspan><tspan dy="-12.5" font-size="16">+</tspan><tspan dy="12.5"> T /total CD4</tspan><tspan dy="-12.5" font-size="16">+</tspan><tspan dy="12.5"> T</tspan></text>
<text x="203.7" y="1505.5" font-size="21.4" font-weight="bold" textLength="59.4" lengthAdjust="spacingAndGlyphs" stroke="#111" stroke-width="0.15">DEXA</text>
<text x="425.3" y="1505.5" font-size="21.4" font-weight="bold" textLength="63.0" lengthAdjust="spacingAndGlyphs" stroke="#111" stroke-width="0.15">Saline</text>
<text x="280.8" y="1540.6" font-size="24.4" font-weight="bold" textLength="130.0" lengthAdjust="spacingAndGlyphs" stroke="#111" stroke-width="0.15">Treatments</text>
<path d="M159.6 1389.8L307.1 1389.8" stroke="#151515" stroke-width="2.4" stroke-linecap="round" fill="none"/>
<path d="M196.6 1375.6L270.1 1375.6" stroke="#151515" stroke-width="3.8" stroke-linecap="round" fill="none"/>
<path d="M196.6 1403.7L270.1 1403.7" stroke="#151515" stroke-width="3.8" stroke-linecap="round" fill="none"/>
<path d="M233.3 1375.6L233.3 1403.7" stroke="#151515" stroke-width="3.2" stroke-linecap="butt" fill="none"/>
<g fill="none" stroke="#151515" stroke-width="3.2"><circle cx="233.3" cy="1247.3" r="6.2"/><circle cx="215.6" cy="1366.7" r="6.2"/><circle cx="233.3" cy="1371.7" r="6.2"/><circle cx="251.1" cy="1358.7" r="6.2"/><circle cx="224.4" cy="1390.4" r="6.2"/><circle cx="224.4" cy="1396.3" r="6.2"/><circle cx="242.2" cy="1389.5" r="6.2"/><circle cx="242.2" cy="1413.2" r="6.2"/><circle cx="197.2" cy="1417.9" r="6.2"/><circle cx="268.9" cy="1421.5" r="6.2"/><circle cx="215.6" cy="1429.8" r="6.2"/><circle cx="233.3" cy="1432.4" r="6.2"/><circle cx="251.1" cy="1431.6" r="6.2"/></g>
<path d="M382.5 1404.4L530.3 1404.4" stroke="#151515" stroke-width="2.4" stroke-linecap="round" fill="none"/>
<path d="M420.0 1397.4L493.4 1397.4" stroke="#151515" stroke-width="3.8" stroke-linecap="round" fill="none"/>
<path d="M420.0 1411.5L493.4 1411.5" stroke="#151515" stroke-width="3.8" stroke-linecap="round" fill="none"/>
<path d="M456.4 1397.4L456.4 1411.5" stroke="#151515" stroke-width="3.2" stroke-linecap="butt" fill="none"/>
<g fill="#151515"><rect x="450.4" y="1367.2" width="12" height="12"/><rect x="432.3" y="1383.8" width="12" height="12"/><rect x="450.4" y="1389.3" width="12" height="12"/><rect x="468.5" y="1387.8" width="12" height="12"/><rect x="441.3" y="1401.9" width="12" height="12"/><rect x="459.5" y="1407.0" width="12" height="12"/><rect x="459.5" y="1420.1" width="12" height="12"/><rect x="441.3" y="1428.1" width="12" height="12"/></g>
<text x="6.7" y="1614.7" font-size="32.5" textLength="40.8" lengthAdjust="spacingAndGlyphs" stroke="#111" stroke-width="0.2">(b)</text>
<rect x="87.8" y="1622.4" width="20" height="19.4" fill="#fff" stroke="#151515" stroke-width="2.6"/>
<rect x="86.7" y="1646.7" width="22.2" height="21.8" fill="#151515"/>
<path d="M106.6 1649v17.5" stroke="#999" stroke-width="0.5"/>
<text x="113.3" y="1637.3" font-size="17.5" font-weight="bold" textLength="48.6" lengthAdjust="spacingAndGlyphs" stroke="#111" stroke-width="0.15">DEXA</text>
<text x="113.3" y="1662.1" font-size="17" font-weight="bold" textLength="49.9" lengthAdjust="spacingAndGlyphs" stroke="#111" stroke-width="0.15">Saline</text>
<path d="M125.4 1844.6V1843.3M118.2 1843.3h14.4M164.2 1845.6V1844.3M157.0 1844.3h14.4M228.9 1799.4V1793.0M221.7 1793.0h14.4M267.2 1740.6V1728.2M260.1 1728.2h14.4" stroke="#151515" stroke-width="2.0" fill="none"/>
<rect x="112.7" y="1845.1" width="25.4" height="8.5" fill="#fff" stroke="#151515" stroke-width="2.0"/>
<rect x="151.7" y="1846.1" width="25.0" height="7.5" fill="#151515" stroke="#151515" stroke-width="2.0"/>
<rect x="216.0" y="1799.9" width="25.8" height="53.7" fill="#fff" stroke="#151515" stroke-width="2.0"/>
<rect x="254.6" y="1741.1" width="25.3" height="112.5" fill="#151515" stroke="#151515" stroke-width="2.0"/>
<path d="M93.1 1715.3V1853.6M88.9 1853.6H299.8M93.1 1807.8h-4.2M93.1 1761.9h-4.2M93.1 1716.1h-4.2M144.9 1853.6v5M247.8 1853.6v5" stroke="#151515" stroke-width="2.0" fill="none"/>
<text x="87.4" y="1858.6" font-size="14" font-weight="bold" text-anchor="end" stroke="#111" stroke-width="0.15">0</text>
<text x="87.4" y="1812.8" font-size="14" font-weight="bold" text-anchor="end" stroke="#111" stroke-width="0.15">50</text>
<text x="87.4" y="1766.9" font-size="14" font-weight="bold" text-anchor="end" stroke="#111" stroke-width="0.15">100</text>
<text x="87.4" y="1721.1" font-size="14" font-weight="bold" text-anchor="end" stroke="#111" stroke-width="0.15">150</text>
<text x="144.9" y="1872.2" font-size="14" font-weight="bold" text-anchor="middle" stroke="#111" stroke-width="0.15">14</text>
<text x="247.8" y="1872.2" font-size="14" font-weight="bold" text-anchor="middle" stroke="#111" stroke-width="0.15">35</text>
<text x="181.8" y="1693.5" font-size="12.3" font-weight="bold" textLength="24.0" lengthAdjust="spacingAndGlyphs" stroke="#111" stroke-width="0.15">TNF</text>
<text x="48.3" y="1800.2" font-size="13.2" font-weight="bold" textLength="35.5" lengthAdjust="spacingAndGlyphs" transform="rotate(-90 48.3 1800.2)" stroke="#111" stroke-width="0.15">pg/ml</text>
<text x="229.2" y="1777.6" font-size="12.5" text-anchor="middle" fill="#222">***</text>
<path d="M416.4 1827.4V1818.3M409.2 1818.3h14.4M454.9 1823.4V1816.3M447.7 1816.3h14.4M519.6 1782.1V1767.0M512.4 1767.0h14.4M558.0 1761.9V1742.8M550.8 1742.8h14.4" stroke="#151515" stroke-width="2.0" fill="none"/>
<rect x="404.1" y="1827.9" width="24.5" height="26.2" fill="#fff" stroke="#151515" stroke-width="2.0"/>
<rect x="442.4" y="1823.9" width="25.0" height="30.2" fill="#151515" stroke="#151515" stroke-width="2.0"/>
<rect x="507.4" y="1782.6" width="24.5" height="71.5" fill="#fff" stroke="#151515" stroke-width="2.0"/>
<rect x="545.7" y="1762.4" width="24.5" height="91.7" fill="#151515" stroke="#151515" stroke-width="2.0"/>
<path d="M383.9 1716.3V1854.1M379.7 1854.1H591.0M383.9 1819.8h-4.2M383.9 1785.6h-4.2M383.9 1751.3h-4.2M383.9 1717.1h-4.2M435.8 1854.1v5M539.0 1854.1v5" stroke="#151515" stroke-width="2.0" fill="none"/>
<text x="379.6" y="1859.1" font-size="14" font-weight="bold" text-anchor="end" stroke="#111" stroke-width="0.15">0</text>
<text x="379.6" y="1824.8" font-size="14" font-weight="bold" text-anchor="end" stroke="#111" stroke-width="0.15">20</text>
<text x="379.6" y="1790.6" font-size="14" font-weight="bold" text-anchor="end" stroke="#111" stroke-width="0.15">40</text>
<text x="379.6" y="1756.3" font-size="14" font-weight="bold" text-anchor="end" stroke="#111" stroke-width="0.15">60</text>
<text x="379.6" y="1722.1" font-size="14" font-weight="bold" text-anchor="end" stroke="#111" stroke-width="0.15">80</text>
<text x="435.8" y="1872.7" font-size="14" font-weight="bold" text-anchor="middle" stroke="#111" stroke-width="0.15">14</text>
<text x="539.0" y="1872.7" font-size="14" font-weight="bold" text-anchor="middle" stroke="#111" stroke-width="0.15">35</text>
<text x="470.0" y="1694.4" font-size="12.3" font-weight="bold" textLength="36.3" lengthAdjust="spacingAndGlyphs" stroke="#111" stroke-width="0.15">IFN-<tspan font-family="'Liberation Serif','DejaVu Serif',serif" font-weight="normal" font-size="14">γ</tspan></text>
<text x="336.0" y="1801.8" font-size="13.2" font-weight="bold" textLength="35.5" lengthAdjust="spacingAndGlyphs" transform="rotate(-90 336.0 1801.8)" stroke="#111" stroke-width="0.15">pg/ml</text>
<path d="M125.4 2044.5V2035.5M118.2 2035.5h14.4M164.2 2063.7V2060.2M157.0 2060.2h14.4M228.7 1987.6V1972.5M221.5 1972.5h14.4M267.0 2005.2V1987.1M259.8 1987.1h14.4" stroke="#151515" stroke-width="2.0" fill="none"/>
<rect x="112.9" y="2045.0" width="25.0" height="30.3" fill="#fff" stroke="#151515" stroke-width="2.0"/>
<rect x="151.7" y="2064.2" width="25.0" height="11.1" fill="#151515" stroke="#151515" stroke-width="2.0"/>
<rect x="216.2" y="1988.1" width="25.0" height="87.2" fill="#fff" stroke="#151515" stroke-width="2.0"/>
<rect x="254.5" y="2005.7" width="25.0" height="69.6" fill="#151515" stroke="#151515" stroke-width="2.0"/>
<path d="M93.2 1936.4V2075.3M89.0 2075.3H300.3M93.2 2040.8h-4.2M93.2 2006.2h-4.2M93.2 1971.7h-4.2M93.2 1937.2h-4.2M145.4 2075.3v5M247.8 2075.3v5" stroke="#151515" stroke-width="2.0" fill="none"/>
<text x="87.4" y="2080.3" font-size="14" font-weight="bold" text-anchor="end" stroke="#111" stroke-width="0.15">0</text>
<text x="87.4" y="2045.8" font-size="14" font-weight="bold" text-anchor="end" stroke="#111" stroke-width="0.15">10</text>
<text x="87.4" y="2011.2" font-size="14" font-weight="bold" text-anchor="end" stroke="#111" stroke-width="0.15">20</text>
<text x="87.4" y="1976.7" font-size="14" font-weight="bold" text-anchor="end" stroke="#111" stroke-width="0.15">30</text>
<text x="87.4" y="1942.2" font-size="14" font-weight="bold" text-anchor="end" stroke="#111" stroke-width="0.15">40</text>
<text x="145.4" y="2093.9" font-size="14" font-weight="bold" text-anchor="middle" stroke="#111" stroke-width="0.15">14</text>
<text x="247.8" y="2093.9" font-size="14" font-weight="bold" text-anchor="middle" stroke="#111" stroke-width="0.15">35</text>
<text x="184.4" y="1913.6" font-size="12.3" font-weight="bold" textLength="23.2" lengthAdjust="spacingAndGlyphs" stroke="#111" stroke-width="0.15">IL-6</text>
<text x="51.3" y="2022.4" font-size="13.2" font-weight="bold" textLength="35.5" lengthAdjust="spacingAndGlyphs" transform="rotate(-90 51.3 2022.4)" stroke="#111" stroke-width="0.15">pg/ml</text>
<text x="107.3" y="2117.9" font-size="14.3" font-weight="bold" textLength="176.3" lengthAdjust="spacingAndGlyphs" stroke="#111" stroke-width="0.15">Days after transplantation</text>
<path d="M416.4 2065.2V2060.2M409.2 2060.2h14.4M454.9 2067.7V2063.7M447.7 2063.7h14.4M519.6 1959.9V1944.3M512.4 1944.3h14.4M558.0 2015.3V2004.2M550.8 2004.2h14.4" stroke="#151515" stroke-width="2.0" fill="none"/>
<rect x="404.1" y="2065.7" width="24.5" height="8.1" fill="#fff" stroke="#151515" stroke-width="2.0"/>
<rect x="442.4" y="2068.2" width="25.0" height="5.6" fill="#151515" stroke="#151515" stroke-width="2.0"/>
<rect x="507.4" y="1960.4" width="24.5" height="113.4" fill="#fff" stroke="#151515" stroke-width="2.0"/>
<rect x="545.7" y="2015.8" width="24.5" height="58.0" fill="#151515" stroke="#151515" stroke-width="2.0"/>
<path d="M383.9 1935.4V2073.8M379.7 2073.8H591.0M383.9 2039.4h-4.2M383.9 2005.0h-4.2M383.9 1970.6h-4.2M383.9 1936.2h-4.2M435.8 2073.8v5M539.0 2073.8v5" stroke="#151515" stroke-width="2.0" fill="none"/>
<text x="379.6" y="2078.8" font-size="14" font-weight="bold" text-anchor="end" stroke="#111" stroke-width="0.15">0</text>
<text x="379.6" y="2044.4" font-size="14" font-weight="bold" text-anchor="end" stroke="#111" stroke-width="0.15">1</text>
<text x="379.6" y="2010.0" font-size="14" font-weight="bold" text-anchor="end" stroke="#111" stroke-width="0.15">2</text>
<text x="379.6" y="1975.6" font-size="14" font-weight="bold" text-anchor="end" stroke="#111" stroke-width="0.15">3</text>
<text x="379.6" y="1941.2" font-size="14" font-weight="bold" text-anchor="end" stroke="#111" stroke-width="0.15">4</text>
<text x="435.8" y="2092.4" font-size="14" font-weight="bold" text-anchor="middle" stroke="#111" stroke-width="0.15">14</text>
<text x="539.0" y="2092.4" font-size="14" font-weight="bold" text-anchor="middle" stroke="#111" stroke-width="0.15">35</text>
<text x="465.0" y="1913.6" font-size="12.3" font-weight="bold" textLength="43.8" lengthAdjust="spacingAndGlyphs" stroke="#111" stroke-width="0.15">IL-17A</text>
<text x="336.0" y="2021.0" font-size="13.2" font-weight="bold" textLength="35.5" lengthAdjust="spacingAndGlyphs" transform="rotate(-90 336.0 2021.0)" stroke="#111" stroke-width="0.15">pg/ml</text>
<text x="398.0" y="2116.4" font-size="14.3" font-weight="bold" textLength="176.3" lengthAdjust="spacingAndGlyphs" stroke="#111" stroke-width="0.15">Days after transplantation</text>
<text x="520.7" y="1941.0" font-size="12" text-anchor="middle" fill="#222">**</text>
</svg>
</body></html>
